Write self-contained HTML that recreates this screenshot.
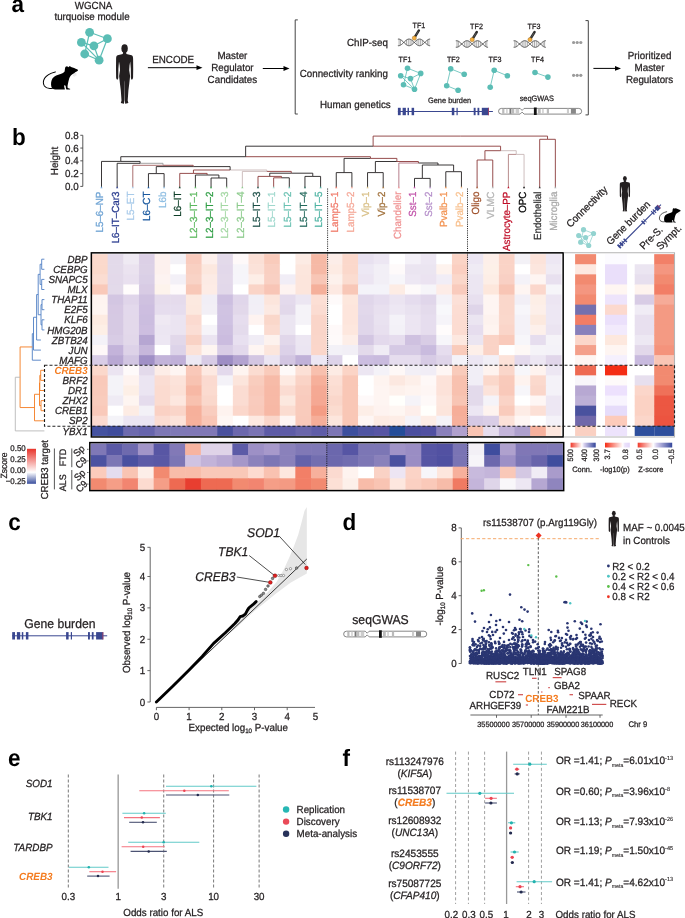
<!DOCTYPE html>
<html><head><meta charset="utf-8"><style>
html,body{margin:0;padding:0;background:#fff;}
svg{display:block;will-change:transform;}
text{font-family:"Liberation Sans",sans-serif;text-rendering:geometricPrecision;}
</style></head><body>
<svg width="685" height="918" viewBox="0 0 685 918" font-family="Liberation Sans, sans-serif">
<rect width="685" height="918" fill="#fff"/>
<text x="11.60" y="12.30" font-size="22.5" text-anchor="start" fill="#000" stroke="#000" stroke-width="0" font-weight="bold" transform="translate(11.60 12.30) scale(1 1.05) translate(-11.60 -12.30)">a</text>
<text x="93.50" y="9.20" font-size="9.8" text-anchor="middle" fill="#231f20" stroke="#231f20" stroke-width="0.25" transform="translate(93.50 9.20) scale(1 1.05) translate(-93.50 -9.20)">WGCNA</text>
<text x="92.00" y="20.40" font-size="9.8" text-anchor="middle" fill="#231f20" stroke="#231f20" stroke-width="0.25" transform="translate(92.00 20.40) scale(1 1.05) translate(-92.00 -20.40)">turquoise module</text>
<line x1="89.60" y1="32.30" x2="107.40" y2="38.70" stroke="#5bbdb5" stroke-width="1.2"/>
<line x1="89.60" y1="32.30" x2="84.70" y2="54.00" stroke="#5bbdb5" stroke-width="1.2"/>
<line x1="81.40" y1="42.40" x2="93.90" y2="45.80" stroke="#5bbdb5" stroke-width="1.2"/>
<line x1="93.90" y1="45.80" x2="107.40" y2="38.70" stroke="#5bbdb5" stroke-width="1.2"/>
<line x1="107.40" y1="38.70" x2="99.10" y2="60.20" stroke="#5bbdb5" stroke-width="1.2"/>
<line x1="93.90" y1="45.80" x2="99.10" y2="60.20" stroke="#5bbdb5" stroke-width="1.2"/>
<line x1="84.70" y1="54.00" x2="99.10" y2="60.20" stroke="#5bbdb5" stroke-width="1.2"/>
<line x1="81.40" y1="42.40" x2="99.10" y2="60.20" stroke="#5bbdb5" stroke-width="1.2"/>
<circle cx="89.60" cy="32.30" r="4.40" fill="#5bbdb5"/>
<circle cx="107.40" cy="38.70" r="4.40" fill="#5bbdb5"/>
<circle cx="81.40" cy="42.40" r="4.40" fill="#5bbdb5"/>
<circle cx="93.90" cy="45.80" r="4.40" fill="#5bbdb5"/>
<circle cx="84.70" cy="54.00" r="4.40" fill="#5bbdb5"/>
<circle cx="99.10" cy="60.20" r="4.40" fill="#5bbdb5"/>
<g transform="translate(40.00 62.00) scale(1.0)"><path d="M24.6 9.4 L25.0 6.4 C25.2 4.9 26.4 4.1 27.4 4.4 C28.0 4.6 28.3 5.0 28.6 5.2 L29.0 4.6 C29.6 4.0 30.6 4.1 31.0 4.9 C33.0 5.5 35.4 6.3 37.0 7.2 C37.8 7.6 38.2 8.2 37.8 8.8 C37.2 9.4 36.4 9.6 35.6 10.0 C34.6 10.8 33.6 11.6 32.4 12.2 C31.0 13.0 29.8 14.8 29.2 16.6 C28.6 18.6 28.2 20.6 27.8 22.6 C27.5 24.0 27.4 25.2 27.8 25.9 C28.6 26.4 29.8 26.6 30.4 27.0 L29.8 27.6 L26.4 27.6 C25.9 26.6 25.8 25.4 25.7 24.2 C25.4 23.4 24.6 23.0 24.2 23.6 C24.0 25.0 24.6 26.4 25.0 27.2 L24.4 27.6 L15.4 27.6 C13.4 27.4 11.8 26.6 11.3 24.6 C10.8 22.0 11.0 18.6 12.6 16.2 C14.4 13.8 17.6 12.8 20.6 12.0 C22.4 11.4 23.8 10.6 24.6 9.4 Z" fill="#000"/><path d="M12.6 26.2 C9.6 26.8 6.0 26.2 4.4 24.0 C3.0 21.8 3.2 18.6 4.6 16.2 C6.4 13.2 10.0 11.2 15.3 9.9" fill="none" stroke="#000" stroke-width="1.05" stroke-linecap="round"/><path d="M34.6 11.0 L33.2 14.2 M35.2 11.2 L34.6 14.6 M35.8 11.0 L36.0 13.8" fill="none" stroke="#bbb" stroke-width="0.35"/></g>
<g transform="translate(124.60 40.00) scale(1.0)"><ellipse cx="0" cy="8.6" rx="3.2" ry="4.3" fill="#231f20"/><path d="M0 11.9 L1.5 11.9 L1.8 14 L7.0 15.2 C8.2 15.8 8.5 17 8.5 19 L8.6 28.8 L8.5 36 C8.6 37.5 8.4 39.2 7.2 39.8 C6.4 39.4 6.2 38 6.3 36 L6.2 28.8 L5.6 21.5 L4.9 25.5 L4.6 30.2 L5.5 36 L4.7 43.2 L3.8 50.4 L3.1 60.4 L3.8 63.0 L0.6 63.7 L0.2 60 L0.1 42 L0 40.3 L-0.1 42 L-0.2 60 L-0.6 63.7 L-3.8 63.0 L-3.1 60.4 L-3.8 50.4 L-4.7 43.2 L-5.5 36 L-4.6 30.2 L-4.9 25.5 L-5.6 21.5 L-6.2 28.8 L-6.3 36 C-6.2 38 -6.4 39.4 -7.2 39.8 C-8.4 39.2 -8.6 37.5 -8.5 36 L-8.6 28.8 L-8.5 19 C-8.5 17 -8.2 15.8 -7.0 15.2 L-1.8 14 L-1.5 11.9 Z" fill="#231f20"/></g>
<line x1="147.90" y1="67.70" x2="197.50" y2="67.70" stroke="#000" stroke-width="1"/>
<path d="M202.50 67.70 L196.50 65.30 L196.50 70.10 Z" fill="#000"/>
<text x="173.20" y="63.00" font-size="9.8" text-anchor="middle" fill="#231f20" stroke="#231f20" stroke-width="0.25" transform="translate(173.20 63.00) scale(1 1.05) translate(-173.20 -63.00)">ENCODE</text>
<text x="232.40" y="59.00" font-size="9.8" text-anchor="middle" fill="#231f20" stroke="#231f20" stroke-width="0.25" transform="translate(232.40 59.00) scale(1 1.05) translate(-232.40 -59.00)">Master</text>
<text x="232.40" y="70.80" font-size="9.8" text-anchor="middle" fill="#231f20" stroke="#231f20" stroke-width="0.25" transform="translate(232.40 70.80) scale(1 1.05) translate(-232.40 -70.80)">Regulator</text>
<text x="232.40" y="82.60" font-size="9.8" text-anchor="middle" fill="#231f20" stroke="#231f20" stroke-width="0.25" transform="translate(232.40 82.60) scale(1 1.05) translate(-232.40 -82.60)">Candidates</text>
<line x1="262.80" y1="68.50" x2="284.50" y2="68.50" stroke="#000" stroke-width="1"/>
<path d="M289.50 68.50 L283.50 66.10 L283.50 70.90 Z" fill="#000"/>
<path d="M297.8 19.9 L295.2 19.9 L295.2 114 L297.8 114" fill="none" stroke="#444" stroke-width="1"/>
<path d="M585.5 20.6 L588.3 20.6 L588.3 114.9 L585.5 114.9" fill="none" stroke="#444" stroke-width="1"/>
<text x="387.90" y="45.50" font-size="9.8" text-anchor="end" fill="#231f20" stroke="#231f20" stroke-width="0.25" transform="translate(387.90 45.50) scale(1 1.05) translate(-387.90 -45.50)">ChIP-seq</text>
<text x="387.90" y="77.00" font-size="9.8" text-anchor="end" fill="#231f20" stroke="#231f20" stroke-width="0.25" transform="translate(387.90 77.00) scale(1 1.05) translate(-387.90 -77.00)">Connectivity ranking</text>
<text x="390.70" y="108.00" font-size="9.8" text-anchor="end" fill="#231f20" stroke="#231f20" stroke-width="0.25" transform="translate(390.70 108.00) scale(1 1.05) translate(-390.70 -108.00)">Human genetics</text>
<g transform="translate(397.90 42.40)">
<polygon points="0.00,-3.24 0.25,-3.28 0.50,-3.30 0.75,-3.30 1.00,-3.28 1.25,-3.25 1.50,-3.19 1.75,-3.12 2.00,-3.03 2.25,-2.93 2.50,-2.81 2.75,-2.67 3.00,-2.52 3.25,-2.35 3.50,-2.17 3.75,-1.98 4.00,-1.78 4.25,-1.56 4.50,-1.34 4.75,-1.11 5.00,-0.88 5.25,-0.64 5.50,-0.39 5.75,-0.15 6.00,0.10 6.25,0.34 6.50,0.59 6.75,0.83 7.00,1.07 7.25,1.30 7.50,1.52 7.75,1.73 8.00,1.94 8.25,2.13 8.50,2.32 8.75,2.49 9.00,2.64 9.25,2.78 9.50,2.91 9.75,3.01 10.00,3.11 10.25,3.18 10.50,3.24 10.75,3.28 11.00,3.30 11.25,3.30 11.50,3.28 11.75,3.25 12.00,3.19 12.25,3.12 12.50,3.03 12.75,2.93 13.00,2.81 13.25,2.67 13.50,2.52 13.75,2.35 14.00,2.17 14.25,1.98 14.50,1.78 14.75,1.56 15.00,1.34 15.25,1.11 15.50,0.88 15.75,0.64 16.00,0.39 16.25,0.15 16.50,-0.10 16.75,-0.34 17.00,-0.59 17.25,-0.83 17.50,-1.07 17.75,-1.30 18.00,-1.52 18.25,-1.73 18.50,-1.94 18.75,-2.13 19.00,-2.32 19.25,-2.49 19.50,-2.64 19.75,-2.78 20.00,-2.91 20.25,-3.01 20.50,-3.11 20.75,-3.18 21.00,-3.24 21.25,-3.28 21.50,-3.30 21.75,-3.30 22.00,-3.28 22.25,-3.25 22.50,-3.19 22.75,-3.12 23.00,-3.03 23.25,-2.93 23.50,-2.81 23.75,-2.67 24.00,-2.52 24.25,-2.35 24.50,-2.17 24.75,-1.98 25.00,-1.78 25.25,-1.56 25.50,-1.34 25.75,-1.11 26.00,-0.88 26.25,-0.64 26.50,-0.39 26.75,-0.15 27.00,0.10 27.25,0.34 27.50,0.59 27.75,0.83 28.00,1.07 28.25,1.30 28.50,1.52 28.75,1.73 29.00,1.94 29.25,2.13 29.50,2.32 29.75,2.49 30.00,2.64 30.25,2.78 30.50,2.91 30.75,3.01 31.00,3.11 31.25,3.18 31.50,3.24 31.75,3.28 32.00,3.30 32.25,3.30 32.25,-3.30 32.00,-3.30 31.75,-3.28 31.50,-3.24 31.25,-3.18 31.00,-3.11 30.75,-3.01 30.50,-2.91 30.25,-2.78 30.00,-2.64 29.75,-2.49 29.50,-2.32 29.25,-2.13 29.00,-1.94 28.75,-1.73 28.50,-1.52 28.25,-1.30 28.00,-1.07 27.75,-0.83 27.50,-0.59 27.25,-0.34 27.00,-0.10 26.75,0.15 26.50,0.39 26.25,0.64 26.00,0.88 25.75,1.11 25.50,1.34 25.25,1.56 25.00,1.78 24.75,1.98 24.50,2.17 24.25,2.35 24.00,2.52 23.75,2.67 23.50,2.81 23.25,2.93 23.00,3.03 22.75,3.12 22.50,3.19 22.25,3.25 22.00,3.28 21.75,3.30 21.50,3.30 21.25,3.28 21.00,3.24 20.75,3.18 20.50,3.11 20.25,3.01 20.00,2.91 19.75,2.78 19.50,2.64 19.25,2.49 19.00,2.32 18.75,2.13 18.50,1.94 18.25,1.73 18.00,1.52 17.75,1.30 17.50,1.07 17.25,0.83 17.00,0.59 16.75,0.34 16.50,0.10 16.25,-0.15 16.00,-0.39 15.75,-0.64 15.50,-0.88 15.25,-1.11 15.00,-1.34 14.75,-1.56 14.50,-1.78 14.25,-1.98 14.00,-2.17 13.75,-2.35 13.50,-2.52 13.25,-2.67 13.00,-2.81 12.75,-2.93 12.50,-3.03 12.25,-3.12 12.00,-3.19 11.75,-3.25 11.50,-3.28 11.25,-3.30 11.00,-3.30 10.75,-3.28 10.50,-3.24 10.25,-3.18 10.00,-3.11 9.75,-3.01 9.50,-2.91 9.25,-2.78 9.00,-2.64 8.75,-2.49 8.50,-2.32 8.25,-2.13 8.00,-1.94 7.75,-1.73 7.50,-1.52 7.25,-1.30 7.00,-1.07 6.75,-0.83 6.50,-0.59 6.25,-0.34 6.00,-0.10 5.75,0.15 5.50,0.39 5.25,0.64 5.00,0.88 4.75,1.11 4.50,1.34 4.25,1.56 4.00,1.78 3.75,1.98 3.50,2.17 3.25,2.35 3.00,2.52 2.75,2.67 2.50,2.81 2.25,2.93 2.00,3.03 1.75,3.12 1.50,3.19 1.25,3.25 1.00,3.28 0.75,3.30 0.50,3.30 0.25,3.28 0.00,3.24" fill="#fff"/>
<line x1="1.2" y1="-2.96" x2="1.2" y2="2.96" stroke="#8a8a8a" stroke-width="0.7"/>
<line x1="2.6" y1="-2.45" x2="2.6" y2="2.45" stroke="#8a8a8a" stroke-width="0.7"/>
<line x1="8.6" y1="-2.09" x2="8.6" y2="2.09" stroke="#8a8a8a" stroke-width="0.7"/>
<line x1="10.4" y1="-2.92" x2="10.4" y2="2.92" stroke="#8a8a8a" stroke-width="0.7"/>
<line x1="12.2" y1="-2.84" x2="12.2" y2="2.84" stroke="#8a8a8a" stroke-width="0.7"/>
<line x1="14.0" y1="-1.87" x2="14.0" y2="1.87" stroke="#8a8a8a" stroke-width="0.7"/>
<line x1="19.1" y1="-2.09" x2="19.1" y2="2.09" stroke="#8a8a8a" stroke-width="0.7"/>
<line x1="20.9" y1="-2.92" x2="20.9" y2="2.92" stroke="#8a8a8a" stroke-width="0.7"/>
<line x1="22.7" y1="-2.84" x2="22.7" y2="2.84" stroke="#8a8a8a" stroke-width="0.7"/>
<line x1="24.5" y1="-1.87" x2="24.5" y2="1.87" stroke="#8a8a8a" stroke-width="0.7"/>
<line x1="29.6" y1="-2.09" x2="29.6" y2="2.09" stroke="#8a8a8a" stroke-width="0.7"/>
<line x1="31.0" y1="-2.81" x2="31.0" y2="2.81" stroke="#8a8a8a" stroke-width="0.7"/>
<polyline points="0.00,-3.24 0.25,-3.28 0.50,-3.30 0.75,-3.30 1.00,-3.28 1.25,-3.25 1.50,-3.19 1.75,-3.12 2.00,-3.03 2.25,-2.93 2.50,-2.81 2.75,-2.67 3.00,-2.52 3.25,-2.35 3.50,-2.17 3.75,-1.98 4.00,-1.78 4.25,-1.56 4.50,-1.34 4.75,-1.11 5.00,-0.88 5.25,-0.64 5.50,-0.39 5.75,-0.15 6.00,0.10 6.25,0.34 6.50,0.59 6.75,0.83 7.00,1.07 7.25,1.30 7.50,1.52 7.75,1.73 8.00,1.94 8.25,2.13 8.50,2.32 8.75,2.49 9.00,2.64 9.25,2.78 9.50,2.91 9.75,3.01 10.00,3.11 10.25,3.18 10.50,3.24 10.75,3.28 11.00,3.30 11.25,3.30 11.50,3.28 11.75,3.25 12.00,3.19 12.25,3.12 12.50,3.03 12.75,2.93 13.00,2.81 13.25,2.67 13.50,2.52 13.75,2.35 14.00,2.17 14.25,1.98 14.50,1.78 14.75,1.56 15.00,1.34 15.25,1.11 15.50,0.88 15.75,0.64 16.00,0.39 16.25,0.15 16.50,-0.10 16.75,-0.34 17.00,-0.59 17.25,-0.83 17.50,-1.07 17.75,-1.30 18.00,-1.52 18.25,-1.73 18.50,-1.94 18.75,-2.13 19.00,-2.32 19.25,-2.49 19.50,-2.64 19.75,-2.78 20.00,-2.91 20.25,-3.01 20.50,-3.11 20.75,-3.18 21.00,-3.24 21.25,-3.28 21.50,-3.30 21.75,-3.30 22.00,-3.28 22.25,-3.25 22.50,-3.19 22.75,-3.12 23.00,-3.03 23.25,-2.93 23.50,-2.81 23.75,-2.67 24.00,-2.52 24.25,-2.35 24.50,-2.17 24.75,-1.98 25.00,-1.78 25.25,-1.56 25.50,-1.34 25.75,-1.11 26.00,-0.88 26.25,-0.64 26.50,-0.39 26.75,-0.15 27.00,0.10 27.25,0.34 27.50,0.59 27.75,0.83 28.00,1.07 28.25,1.30 28.50,1.52 28.75,1.73 29.00,1.94 29.25,2.13 29.50,2.32 29.75,2.49 30.00,2.64 30.25,2.78 30.50,2.91 30.75,3.01 31.00,3.11 31.25,3.18 31.50,3.24 31.75,3.28 32.00,3.30 32.25,3.30" fill="none" stroke="#2a2a2a" stroke-width="0.85"/>
<polyline points="0.00,3.24 0.25,3.28 0.50,3.30 0.75,3.30 1.00,3.28 1.25,3.25 1.50,3.19 1.75,3.12 2.00,3.03 2.25,2.93 2.50,2.81 2.75,2.67 3.00,2.52 3.25,2.35 3.50,2.17 3.75,1.98 4.00,1.78 4.25,1.56 4.50,1.34 4.75,1.11 5.00,0.88 5.25,0.64 5.50,0.39 5.75,0.15 6.00,-0.10 6.25,-0.34 6.50,-0.59 6.75,-0.83 7.00,-1.07 7.25,-1.30 7.50,-1.52 7.75,-1.73 8.00,-1.94 8.25,-2.13 8.50,-2.32 8.75,-2.49 9.00,-2.64 9.25,-2.78 9.50,-2.91 9.75,-3.01 10.00,-3.11 10.25,-3.18 10.50,-3.24 10.75,-3.28 11.00,-3.30 11.25,-3.30 11.50,-3.28 11.75,-3.25 12.00,-3.19 12.25,-3.12 12.50,-3.03 12.75,-2.93 13.00,-2.81 13.25,-2.67 13.50,-2.52 13.75,-2.35 14.00,-2.17 14.25,-1.98 14.50,-1.78 14.75,-1.56 15.00,-1.34 15.25,-1.11 15.50,-0.88 15.75,-0.64 16.00,-0.39 16.25,-0.15 16.50,0.10 16.75,0.34 17.00,0.59 17.25,0.83 17.50,1.07 17.75,1.30 18.00,1.52 18.25,1.73 18.50,1.94 18.75,2.13 19.00,2.32 19.25,2.49 19.50,2.64 19.75,2.78 20.00,2.91 20.25,3.01 20.50,3.11 20.75,3.18 21.00,3.24 21.25,3.28 21.50,3.30 21.75,3.30 22.00,3.28 22.25,3.25 22.50,3.19 22.75,3.12 23.00,3.03 23.25,2.93 23.50,2.81 23.75,2.67 24.00,2.52 24.25,2.35 24.50,2.17 24.75,1.98 25.00,1.78 25.25,1.56 25.50,1.34 25.75,1.11 26.00,0.88 26.25,0.64 26.50,0.39 26.75,0.15 27.00,-0.10 27.25,-0.34 27.50,-0.59 27.75,-0.83 28.00,-1.07 28.25,-1.30 28.50,-1.52 28.75,-1.73 29.00,-1.94 29.25,-2.13 29.50,-2.32 29.75,-2.49 30.00,-2.64 30.25,-2.78 30.50,-2.91 30.75,-3.01 31.00,-3.11 31.25,-3.18 31.50,-3.24 31.75,-3.28 32.00,-3.30 32.25,-3.30" fill="none" stroke="#2a2a2a" stroke-width="0.85"/>
</g>
<line x1="414.90" y1="36.90" x2="418.90" y2="30.40" stroke="#2b2b2b" stroke-width="2.4" stroke-linecap="round"/>
<line x1="415.90" y1="35.20" x2="418.30" y2="31.40" stroke="#6a6a6a" stroke-width="0.7"/>
<circle cx="414.30" cy="38.10" r="2.10" fill="#f6b042" stroke="#8a5a10" stroke-width="0.4"/>
<text x="418.90" y="28.10" font-size="7.2" text-anchor="middle" fill="#231f20" stroke="#231f20" stroke-width="0.25" transform="translate(418.90 28.10) scale(1 1.05) translate(-418.90 -28.10)">TF1</text>
<g transform="translate(455.80 44.00)">
<polygon points="0.00,-3.24 0.25,-3.28 0.50,-3.30 0.75,-3.30 1.00,-3.28 1.25,-3.25 1.50,-3.19 1.75,-3.12 2.00,-3.03 2.25,-2.93 2.50,-2.81 2.75,-2.67 3.00,-2.52 3.25,-2.35 3.50,-2.17 3.75,-1.98 4.00,-1.78 4.25,-1.56 4.50,-1.34 4.75,-1.11 5.00,-0.88 5.25,-0.64 5.50,-0.39 5.75,-0.15 6.00,0.10 6.25,0.34 6.50,0.59 6.75,0.83 7.00,1.07 7.25,1.30 7.50,1.52 7.75,1.73 8.00,1.94 8.25,2.13 8.50,2.32 8.75,2.49 9.00,2.64 9.25,2.78 9.50,2.91 9.75,3.01 10.00,3.11 10.25,3.18 10.50,3.24 10.75,3.28 11.00,3.30 11.25,3.30 11.50,3.28 11.75,3.25 12.00,3.19 12.25,3.12 12.50,3.03 12.75,2.93 13.00,2.81 13.25,2.67 13.50,2.52 13.75,2.35 14.00,2.17 14.25,1.98 14.50,1.78 14.75,1.56 15.00,1.34 15.25,1.11 15.50,0.88 15.75,0.64 16.00,0.39 16.25,0.15 16.50,-0.10 16.75,-0.34 17.00,-0.59 17.25,-0.83 17.50,-1.07 17.75,-1.30 18.00,-1.52 18.25,-1.73 18.50,-1.94 18.75,-2.13 19.00,-2.32 19.25,-2.49 19.50,-2.64 19.75,-2.78 20.00,-2.91 20.25,-3.01 20.50,-3.11 20.75,-3.18 21.00,-3.24 21.25,-3.28 21.50,-3.30 21.75,-3.30 22.00,-3.28 22.25,-3.25 22.50,-3.19 22.75,-3.12 23.00,-3.03 23.25,-2.93 23.50,-2.81 23.75,-2.67 24.00,-2.52 24.25,-2.35 24.50,-2.17 24.75,-1.98 25.00,-1.78 25.25,-1.56 25.50,-1.34 25.75,-1.11 26.00,-0.88 26.25,-0.64 26.50,-0.39 26.75,-0.15 27.00,0.10 27.25,0.34 27.50,0.59 27.75,0.83 28.00,1.07 28.25,1.30 28.50,1.52 28.75,1.73 29.00,1.94 29.25,2.13 29.50,2.32 29.75,2.49 30.00,2.64 30.25,2.78 30.50,2.91 30.75,3.01 31.00,3.11 31.25,3.18 31.50,3.24 31.75,3.28 32.00,3.30 32.25,3.30 32.25,-3.30 32.00,-3.30 31.75,-3.28 31.50,-3.24 31.25,-3.18 31.00,-3.11 30.75,-3.01 30.50,-2.91 30.25,-2.78 30.00,-2.64 29.75,-2.49 29.50,-2.32 29.25,-2.13 29.00,-1.94 28.75,-1.73 28.50,-1.52 28.25,-1.30 28.00,-1.07 27.75,-0.83 27.50,-0.59 27.25,-0.34 27.00,-0.10 26.75,0.15 26.50,0.39 26.25,0.64 26.00,0.88 25.75,1.11 25.50,1.34 25.25,1.56 25.00,1.78 24.75,1.98 24.50,2.17 24.25,2.35 24.00,2.52 23.75,2.67 23.50,2.81 23.25,2.93 23.00,3.03 22.75,3.12 22.50,3.19 22.25,3.25 22.00,3.28 21.75,3.30 21.50,3.30 21.25,3.28 21.00,3.24 20.75,3.18 20.50,3.11 20.25,3.01 20.00,2.91 19.75,2.78 19.50,2.64 19.25,2.49 19.00,2.32 18.75,2.13 18.50,1.94 18.25,1.73 18.00,1.52 17.75,1.30 17.50,1.07 17.25,0.83 17.00,0.59 16.75,0.34 16.50,0.10 16.25,-0.15 16.00,-0.39 15.75,-0.64 15.50,-0.88 15.25,-1.11 15.00,-1.34 14.75,-1.56 14.50,-1.78 14.25,-1.98 14.00,-2.17 13.75,-2.35 13.50,-2.52 13.25,-2.67 13.00,-2.81 12.75,-2.93 12.50,-3.03 12.25,-3.12 12.00,-3.19 11.75,-3.25 11.50,-3.28 11.25,-3.30 11.00,-3.30 10.75,-3.28 10.50,-3.24 10.25,-3.18 10.00,-3.11 9.75,-3.01 9.50,-2.91 9.25,-2.78 9.00,-2.64 8.75,-2.49 8.50,-2.32 8.25,-2.13 8.00,-1.94 7.75,-1.73 7.50,-1.52 7.25,-1.30 7.00,-1.07 6.75,-0.83 6.50,-0.59 6.25,-0.34 6.00,-0.10 5.75,0.15 5.50,0.39 5.25,0.64 5.00,0.88 4.75,1.11 4.50,1.34 4.25,1.56 4.00,1.78 3.75,1.98 3.50,2.17 3.25,2.35 3.00,2.52 2.75,2.67 2.50,2.81 2.25,2.93 2.00,3.03 1.75,3.12 1.50,3.19 1.25,3.25 1.00,3.28 0.75,3.30 0.50,3.30 0.25,3.28 0.00,3.24" fill="#fff"/>
<line x1="1.2" y1="-2.96" x2="1.2" y2="2.96" stroke="#8a8a8a" stroke-width="0.7"/>
<line x1="2.6" y1="-2.45" x2="2.6" y2="2.45" stroke="#8a8a8a" stroke-width="0.7"/>
<line x1="8.6" y1="-2.09" x2="8.6" y2="2.09" stroke="#8a8a8a" stroke-width="0.7"/>
<line x1="10.4" y1="-2.92" x2="10.4" y2="2.92" stroke="#8a8a8a" stroke-width="0.7"/>
<line x1="12.2" y1="-2.84" x2="12.2" y2="2.84" stroke="#8a8a8a" stroke-width="0.7"/>
<line x1="14.0" y1="-1.87" x2="14.0" y2="1.87" stroke="#8a8a8a" stroke-width="0.7"/>
<line x1="19.1" y1="-2.09" x2="19.1" y2="2.09" stroke="#8a8a8a" stroke-width="0.7"/>
<line x1="20.9" y1="-2.92" x2="20.9" y2="2.92" stroke="#8a8a8a" stroke-width="0.7"/>
<line x1="22.7" y1="-2.84" x2="22.7" y2="2.84" stroke="#8a8a8a" stroke-width="0.7"/>
<line x1="24.5" y1="-1.87" x2="24.5" y2="1.87" stroke="#8a8a8a" stroke-width="0.7"/>
<line x1="29.6" y1="-2.09" x2="29.6" y2="2.09" stroke="#8a8a8a" stroke-width="0.7"/>
<line x1="31.0" y1="-2.81" x2="31.0" y2="2.81" stroke="#8a8a8a" stroke-width="0.7"/>
<polyline points="0.00,-3.24 0.25,-3.28 0.50,-3.30 0.75,-3.30 1.00,-3.28 1.25,-3.25 1.50,-3.19 1.75,-3.12 2.00,-3.03 2.25,-2.93 2.50,-2.81 2.75,-2.67 3.00,-2.52 3.25,-2.35 3.50,-2.17 3.75,-1.98 4.00,-1.78 4.25,-1.56 4.50,-1.34 4.75,-1.11 5.00,-0.88 5.25,-0.64 5.50,-0.39 5.75,-0.15 6.00,0.10 6.25,0.34 6.50,0.59 6.75,0.83 7.00,1.07 7.25,1.30 7.50,1.52 7.75,1.73 8.00,1.94 8.25,2.13 8.50,2.32 8.75,2.49 9.00,2.64 9.25,2.78 9.50,2.91 9.75,3.01 10.00,3.11 10.25,3.18 10.50,3.24 10.75,3.28 11.00,3.30 11.25,3.30 11.50,3.28 11.75,3.25 12.00,3.19 12.25,3.12 12.50,3.03 12.75,2.93 13.00,2.81 13.25,2.67 13.50,2.52 13.75,2.35 14.00,2.17 14.25,1.98 14.50,1.78 14.75,1.56 15.00,1.34 15.25,1.11 15.50,0.88 15.75,0.64 16.00,0.39 16.25,0.15 16.50,-0.10 16.75,-0.34 17.00,-0.59 17.25,-0.83 17.50,-1.07 17.75,-1.30 18.00,-1.52 18.25,-1.73 18.50,-1.94 18.75,-2.13 19.00,-2.32 19.25,-2.49 19.50,-2.64 19.75,-2.78 20.00,-2.91 20.25,-3.01 20.50,-3.11 20.75,-3.18 21.00,-3.24 21.25,-3.28 21.50,-3.30 21.75,-3.30 22.00,-3.28 22.25,-3.25 22.50,-3.19 22.75,-3.12 23.00,-3.03 23.25,-2.93 23.50,-2.81 23.75,-2.67 24.00,-2.52 24.25,-2.35 24.50,-2.17 24.75,-1.98 25.00,-1.78 25.25,-1.56 25.50,-1.34 25.75,-1.11 26.00,-0.88 26.25,-0.64 26.50,-0.39 26.75,-0.15 27.00,0.10 27.25,0.34 27.50,0.59 27.75,0.83 28.00,1.07 28.25,1.30 28.50,1.52 28.75,1.73 29.00,1.94 29.25,2.13 29.50,2.32 29.75,2.49 30.00,2.64 30.25,2.78 30.50,2.91 30.75,3.01 31.00,3.11 31.25,3.18 31.50,3.24 31.75,3.28 32.00,3.30 32.25,3.30" fill="none" stroke="#2a2a2a" stroke-width="0.85"/>
<polyline points="0.00,3.24 0.25,3.28 0.50,3.30 0.75,3.30 1.00,3.28 1.25,3.25 1.50,3.19 1.75,3.12 2.00,3.03 2.25,2.93 2.50,2.81 2.75,2.67 3.00,2.52 3.25,2.35 3.50,2.17 3.75,1.98 4.00,1.78 4.25,1.56 4.50,1.34 4.75,1.11 5.00,0.88 5.25,0.64 5.50,0.39 5.75,0.15 6.00,-0.10 6.25,-0.34 6.50,-0.59 6.75,-0.83 7.00,-1.07 7.25,-1.30 7.50,-1.52 7.75,-1.73 8.00,-1.94 8.25,-2.13 8.50,-2.32 8.75,-2.49 9.00,-2.64 9.25,-2.78 9.50,-2.91 9.75,-3.01 10.00,-3.11 10.25,-3.18 10.50,-3.24 10.75,-3.28 11.00,-3.30 11.25,-3.30 11.50,-3.28 11.75,-3.25 12.00,-3.19 12.25,-3.12 12.50,-3.03 12.75,-2.93 13.00,-2.81 13.25,-2.67 13.50,-2.52 13.75,-2.35 14.00,-2.17 14.25,-1.98 14.50,-1.78 14.75,-1.56 15.00,-1.34 15.25,-1.11 15.50,-0.88 15.75,-0.64 16.00,-0.39 16.25,-0.15 16.50,0.10 16.75,0.34 17.00,0.59 17.25,0.83 17.50,1.07 17.75,1.30 18.00,1.52 18.25,1.73 18.50,1.94 18.75,2.13 19.00,2.32 19.25,2.49 19.50,2.64 19.75,2.78 20.00,2.91 20.25,3.01 20.50,3.11 20.75,3.18 21.00,3.24 21.25,3.28 21.50,3.30 21.75,3.30 22.00,3.28 22.25,3.25 22.50,3.19 22.75,3.12 23.00,3.03 23.25,2.93 23.50,2.81 23.75,2.67 24.00,2.52 24.25,2.35 24.50,2.17 24.75,1.98 25.00,1.78 25.25,1.56 25.50,1.34 25.75,1.11 26.00,0.88 26.25,0.64 26.50,0.39 26.75,0.15 27.00,-0.10 27.25,-0.34 27.50,-0.59 27.75,-0.83 28.00,-1.07 28.25,-1.30 28.50,-1.52 28.75,-1.73 29.00,-1.94 29.25,-2.13 29.50,-2.32 29.75,-2.49 30.00,-2.64 30.25,-2.78 30.50,-2.91 30.75,-3.01 31.00,-3.11 31.25,-3.18 31.50,-3.24 31.75,-3.28 32.00,-3.30 32.25,-3.30" fill="none" stroke="#2a2a2a" stroke-width="0.85"/>
</g>
<line x1="472.80" y1="38.50" x2="476.80" y2="32.00" stroke="#2b2b2b" stroke-width="2.4" stroke-linecap="round"/>
<line x1="473.80" y1="36.80" x2="476.20" y2="33.00" stroke="#6a6a6a" stroke-width="0.7"/>
<circle cx="472.20" cy="39.70" r="2.10" fill="#f6b042" stroke="#8a5a10" stroke-width="0.4"/>
<text x="476.50" y="29.20" font-size="7.2" text-anchor="middle" fill="#231f20" stroke="#231f20" stroke-width="0.25" transform="translate(476.50 29.20) scale(1 1.05) translate(-476.50 -29.20)">TF2</text>
<g transform="translate(513.60 44.00)">
<polygon points="0.00,-3.24 0.25,-3.28 0.50,-3.30 0.75,-3.30 1.00,-3.28 1.25,-3.25 1.50,-3.19 1.75,-3.12 2.00,-3.03 2.25,-2.93 2.50,-2.81 2.75,-2.67 3.00,-2.52 3.25,-2.35 3.50,-2.17 3.75,-1.98 4.00,-1.78 4.25,-1.56 4.50,-1.34 4.75,-1.11 5.00,-0.88 5.25,-0.64 5.50,-0.39 5.75,-0.15 6.00,0.10 6.25,0.34 6.50,0.59 6.75,0.83 7.00,1.07 7.25,1.30 7.50,1.52 7.75,1.73 8.00,1.94 8.25,2.13 8.50,2.32 8.75,2.49 9.00,2.64 9.25,2.78 9.50,2.91 9.75,3.01 10.00,3.11 10.25,3.18 10.50,3.24 10.75,3.28 11.00,3.30 11.25,3.30 11.50,3.28 11.75,3.25 12.00,3.19 12.25,3.12 12.50,3.03 12.75,2.93 13.00,2.81 13.25,2.67 13.50,2.52 13.75,2.35 14.00,2.17 14.25,1.98 14.50,1.78 14.75,1.56 15.00,1.34 15.25,1.11 15.50,0.88 15.75,0.64 16.00,0.39 16.25,0.15 16.50,-0.10 16.75,-0.34 17.00,-0.59 17.25,-0.83 17.50,-1.07 17.75,-1.30 18.00,-1.52 18.25,-1.73 18.50,-1.94 18.75,-2.13 19.00,-2.32 19.25,-2.49 19.50,-2.64 19.75,-2.78 20.00,-2.91 20.25,-3.01 20.50,-3.11 20.75,-3.18 21.00,-3.24 21.25,-3.28 21.50,-3.30 21.75,-3.30 22.00,-3.28 22.25,-3.25 22.50,-3.19 22.75,-3.12 23.00,-3.03 23.25,-2.93 23.50,-2.81 23.75,-2.67 24.00,-2.52 24.25,-2.35 24.50,-2.17 24.75,-1.98 25.00,-1.78 25.25,-1.56 25.50,-1.34 25.75,-1.11 26.00,-0.88 26.25,-0.64 26.50,-0.39 26.75,-0.15 27.00,0.10 27.25,0.34 27.50,0.59 27.75,0.83 28.00,1.07 28.25,1.30 28.50,1.52 28.75,1.73 29.00,1.94 29.25,2.13 29.50,2.32 29.75,2.49 30.00,2.64 30.25,2.78 30.50,2.91 30.75,3.01 31.00,3.11 31.25,3.18 31.50,3.24 31.75,3.28 32.00,3.30 32.25,3.30 32.25,-3.30 32.00,-3.30 31.75,-3.28 31.50,-3.24 31.25,-3.18 31.00,-3.11 30.75,-3.01 30.50,-2.91 30.25,-2.78 30.00,-2.64 29.75,-2.49 29.50,-2.32 29.25,-2.13 29.00,-1.94 28.75,-1.73 28.50,-1.52 28.25,-1.30 28.00,-1.07 27.75,-0.83 27.50,-0.59 27.25,-0.34 27.00,-0.10 26.75,0.15 26.50,0.39 26.25,0.64 26.00,0.88 25.75,1.11 25.50,1.34 25.25,1.56 25.00,1.78 24.75,1.98 24.50,2.17 24.25,2.35 24.00,2.52 23.75,2.67 23.50,2.81 23.25,2.93 23.00,3.03 22.75,3.12 22.50,3.19 22.25,3.25 22.00,3.28 21.75,3.30 21.50,3.30 21.25,3.28 21.00,3.24 20.75,3.18 20.50,3.11 20.25,3.01 20.00,2.91 19.75,2.78 19.50,2.64 19.25,2.49 19.00,2.32 18.75,2.13 18.50,1.94 18.25,1.73 18.00,1.52 17.75,1.30 17.50,1.07 17.25,0.83 17.00,0.59 16.75,0.34 16.50,0.10 16.25,-0.15 16.00,-0.39 15.75,-0.64 15.50,-0.88 15.25,-1.11 15.00,-1.34 14.75,-1.56 14.50,-1.78 14.25,-1.98 14.00,-2.17 13.75,-2.35 13.50,-2.52 13.25,-2.67 13.00,-2.81 12.75,-2.93 12.50,-3.03 12.25,-3.12 12.00,-3.19 11.75,-3.25 11.50,-3.28 11.25,-3.30 11.00,-3.30 10.75,-3.28 10.50,-3.24 10.25,-3.18 10.00,-3.11 9.75,-3.01 9.50,-2.91 9.25,-2.78 9.00,-2.64 8.75,-2.49 8.50,-2.32 8.25,-2.13 8.00,-1.94 7.75,-1.73 7.50,-1.52 7.25,-1.30 7.00,-1.07 6.75,-0.83 6.50,-0.59 6.25,-0.34 6.00,-0.10 5.75,0.15 5.50,0.39 5.25,0.64 5.00,0.88 4.75,1.11 4.50,1.34 4.25,1.56 4.00,1.78 3.75,1.98 3.50,2.17 3.25,2.35 3.00,2.52 2.75,2.67 2.50,2.81 2.25,2.93 2.00,3.03 1.75,3.12 1.50,3.19 1.25,3.25 1.00,3.28 0.75,3.30 0.50,3.30 0.25,3.28 0.00,3.24" fill="#fff"/>
<line x1="1.2" y1="-2.96" x2="1.2" y2="2.96" stroke="#8a8a8a" stroke-width="0.7"/>
<line x1="2.6" y1="-2.45" x2="2.6" y2="2.45" stroke="#8a8a8a" stroke-width="0.7"/>
<line x1="8.6" y1="-2.09" x2="8.6" y2="2.09" stroke="#8a8a8a" stroke-width="0.7"/>
<line x1="10.4" y1="-2.92" x2="10.4" y2="2.92" stroke="#8a8a8a" stroke-width="0.7"/>
<line x1="12.2" y1="-2.84" x2="12.2" y2="2.84" stroke="#8a8a8a" stroke-width="0.7"/>
<line x1="14.0" y1="-1.87" x2="14.0" y2="1.87" stroke="#8a8a8a" stroke-width="0.7"/>
<line x1="19.1" y1="-2.09" x2="19.1" y2="2.09" stroke="#8a8a8a" stroke-width="0.7"/>
<line x1="20.9" y1="-2.92" x2="20.9" y2="2.92" stroke="#8a8a8a" stroke-width="0.7"/>
<line x1="22.7" y1="-2.84" x2="22.7" y2="2.84" stroke="#8a8a8a" stroke-width="0.7"/>
<line x1="24.5" y1="-1.87" x2="24.5" y2="1.87" stroke="#8a8a8a" stroke-width="0.7"/>
<line x1="29.6" y1="-2.09" x2="29.6" y2="2.09" stroke="#8a8a8a" stroke-width="0.7"/>
<line x1="31.0" y1="-2.81" x2="31.0" y2="2.81" stroke="#8a8a8a" stroke-width="0.7"/>
<polyline points="0.00,-3.24 0.25,-3.28 0.50,-3.30 0.75,-3.30 1.00,-3.28 1.25,-3.25 1.50,-3.19 1.75,-3.12 2.00,-3.03 2.25,-2.93 2.50,-2.81 2.75,-2.67 3.00,-2.52 3.25,-2.35 3.50,-2.17 3.75,-1.98 4.00,-1.78 4.25,-1.56 4.50,-1.34 4.75,-1.11 5.00,-0.88 5.25,-0.64 5.50,-0.39 5.75,-0.15 6.00,0.10 6.25,0.34 6.50,0.59 6.75,0.83 7.00,1.07 7.25,1.30 7.50,1.52 7.75,1.73 8.00,1.94 8.25,2.13 8.50,2.32 8.75,2.49 9.00,2.64 9.25,2.78 9.50,2.91 9.75,3.01 10.00,3.11 10.25,3.18 10.50,3.24 10.75,3.28 11.00,3.30 11.25,3.30 11.50,3.28 11.75,3.25 12.00,3.19 12.25,3.12 12.50,3.03 12.75,2.93 13.00,2.81 13.25,2.67 13.50,2.52 13.75,2.35 14.00,2.17 14.25,1.98 14.50,1.78 14.75,1.56 15.00,1.34 15.25,1.11 15.50,0.88 15.75,0.64 16.00,0.39 16.25,0.15 16.50,-0.10 16.75,-0.34 17.00,-0.59 17.25,-0.83 17.50,-1.07 17.75,-1.30 18.00,-1.52 18.25,-1.73 18.50,-1.94 18.75,-2.13 19.00,-2.32 19.25,-2.49 19.50,-2.64 19.75,-2.78 20.00,-2.91 20.25,-3.01 20.50,-3.11 20.75,-3.18 21.00,-3.24 21.25,-3.28 21.50,-3.30 21.75,-3.30 22.00,-3.28 22.25,-3.25 22.50,-3.19 22.75,-3.12 23.00,-3.03 23.25,-2.93 23.50,-2.81 23.75,-2.67 24.00,-2.52 24.25,-2.35 24.50,-2.17 24.75,-1.98 25.00,-1.78 25.25,-1.56 25.50,-1.34 25.75,-1.11 26.00,-0.88 26.25,-0.64 26.50,-0.39 26.75,-0.15 27.00,0.10 27.25,0.34 27.50,0.59 27.75,0.83 28.00,1.07 28.25,1.30 28.50,1.52 28.75,1.73 29.00,1.94 29.25,2.13 29.50,2.32 29.75,2.49 30.00,2.64 30.25,2.78 30.50,2.91 30.75,3.01 31.00,3.11 31.25,3.18 31.50,3.24 31.75,3.28 32.00,3.30 32.25,3.30" fill="none" stroke="#2a2a2a" stroke-width="0.85"/>
<polyline points="0.00,3.24 0.25,3.28 0.50,3.30 0.75,3.30 1.00,3.28 1.25,3.25 1.50,3.19 1.75,3.12 2.00,3.03 2.25,2.93 2.50,2.81 2.75,2.67 3.00,2.52 3.25,2.35 3.50,2.17 3.75,1.98 4.00,1.78 4.25,1.56 4.50,1.34 4.75,1.11 5.00,0.88 5.25,0.64 5.50,0.39 5.75,0.15 6.00,-0.10 6.25,-0.34 6.50,-0.59 6.75,-0.83 7.00,-1.07 7.25,-1.30 7.50,-1.52 7.75,-1.73 8.00,-1.94 8.25,-2.13 8.50,-2.32 8.75,-2.49 9.00,-2.64 9.25,-2.78 9.50,-2.91 9.75,-3.01 10.00,-3.11 10.25,-3.18 10.50,-3.24 10.75,-3.28 11.00,-3.30 11.25,-3.30 11.50,-3.28 11.75,-3.25 12.00,-3.19 12.25,-3.12 12.50,-3.03 12.75,-2.93 13.00,-2.81 13.25,-2.67 13.50,-2.52 13.75,-2.35 14.00,-2.17 14.25,-1.98 14.50,-1.78 14.75,-1.56 15.00,-1.34 15.25,-1.11 15.50,-0.88 15.75,-0.64 16.00,-0.39 16.25,-0.15 16.50,0.10 16.75,0.34 17.00,0.59 17.25,0.83 17.50,1.07 17.75,1.30 18.00,1.52 18.25,1.73 18.50,1.94 18.75,2.13 19.00,2.32 19.25,2.49 19.50,2.64 19.75,2.78 20.00,2.91 20.25,3.01 20.50,3.11 20.75,3.18 21.00,3.24 21.25,3.28 21.50,3.30 21.75,3.30 22.00,3.28 22.25,3.25 22.50,3.19 22.75,3.12 23.00,3.03 23.25,2.93 23.50,2.81 23.75,2.67 24.00,2.52 24.25,2.35 24.50,2.17 24.75,1.98 25.00,1.78 25.25,1.56 25.50,1.34 25.75,1.11 26.00,0.88 26.25,0.64 26.50,0.39 26.75,0.15 27.00,-0.10 27.25,-0.34 27.50,-0.59 27.75,-0.83 28.00,-1.07 28.25,-1.30 28.50,-1.52 28.75,-1.73 29.00,-1.94 29.25,-2.13 29.50,-2.32 29.75,-2.49 30.00,-2.64 30.25,-2.78 30.50,-2.91 30.75,-3.01 31.00,-3.11 31.25,-3.18 31.50,-3.24 31.75,-3.28 32.00,-3.30 32.25,-3.30" fill="none" stroke="#2a2a2a" stroke-width="0.85"/>
</g>
<line x1="530.60" y1="38.50" x2="534.60" y2="32.00" stroke="#2b2b2b" stroke-width="2.4" stroke-linecap="round"/>
<line x1="531.60" y1="36.80" x2="534.00" y2="33.00" stroke="#6a6a6a" stroke-width="0.7"/>
<circle cx="530.00" cy="39.70" r="2.10" fill="#f6b042" stroke="#8a5a10" stroke-width="0.4"/>
<text x="534.00" y="29.20" font-size="7.2" text-anchor="middle" fill="#231f20" stroke="#231f20" stroke-width="0.25" transform="translate(534.00 29.20) scale(1 1.05) translate(-534.00 -29.20)">TF3</text>
<circle cx="573.60" cy="42.50" r="1.60" fill="#9a9a9a"/>
<circle cx="577.20" cy="42.50" r="1.60" fill="#9a9a9a"/>
<circle cx="580.80" cy="42.50" r="1.60" fill="#9a9a9a"/>
<circle cx="573.60" cy="75.30" r="1.60" fill="#9a9a9a"/>
<circle cx="577.20" cy="75.30" r="1.60" fill="#9a9a9a"/>
<circle cx="580.80" cy="75.30" r="1.60" fill="#9a9a9a"/>
<text x="405.00" y="61.70" font-size="7.2" text-anchor="middle" fill="#231f20" stroke="#231f20" stroke-width="0.25" transform="translate(405.00 61.70) scale(1 1.05) translate(-405.00 -61.70)">TF1</text>
<text x="453.30" y="61.70" font-size="7.2" text-anchor="middle" fill="#231f20" stroke="#231f20" stroke-width="0.25" transform="translate(453.30 61.70) scale(1 1.05) translate(-453.30 -61.70)">TF2</text>
<text x="495.00" y="61.70" font-size="7.2" text-anchor="middle" fill="#231f20" stroke="#231f20" stroke-width="0.25" transform="translate(495.00 61.70) scale(1 1.05) translate(-495.00 -61.70)">TF3</text>
<text x="537.50" y="61.70" font-size="7.2" text-anchor="middle" fill="#231f20" stroke="#231f20" stroke-width="0.25" transform="translate(537.50 61.70) scale(1 1.05) translate(-537.50 -61.70)">TF4</text>
<line x1="407.50" y1="68.20" x2="420.70" y2="73.40" stroke="#5bbdb5" stroke-width="0.8"/>
<line x1="407.50" y1="68.20" x2="403.50" y2="84.70" stroke="#5bbdb5" stroke-width="0.8"/>
<line x1="400.70" y1="75.80" x2="410.50" y2="78.60" stroke="#5bbdb5" stroke-width="0.8"/>
<line x1="410.50" y1="78.60" x2="420.70" y2="73.40" stroke="#5bbdb5" stroke-width="0.8"/>
<line x1="420.70" y1="73.40" x2="414.50" y2="89.30" stroke="#5bbdb5" stroke-width="0.8"/>
<line x1="410.50" y1="78.60" x2="414.50" y2="89.30" stroke="#5bbdb5" stroke-width="0.8"/>
<line x1="403.50" y1="84.70" x2="414.50" y2="89.30" stroke="#5bbdb5" stroke-width="0.8"/>
<line x1="400.70" y1="75.80" x2="414.50" y2="89.30" stroke="#5bbdb5" stroke-width="0.8"/>
<circle cx="407.50" cy="68.20" r="2.80" fill="#5bbdb5"/>
<circle cx="420.70" cy="73.40" r="2.80" fill="#5bbdb5"/>
<circle cx="400.70" cy="75.80" r="2.80" fill="#5bbdb5"/>
<circle cx="410.50" cy="78.60" r="2.80" fill="#5bbdb5"/>
<circle cx="403.50" cy="84.70" r="2.80" fill="#5bbdb5"/>
<circle cx="414.50" cy="89.30" r="2.80" fill="#5bbdb5"/>
<line x1="450.70" y1="68.80" x2="464.20" y2="74.30" stroke="#5bbdb5" stroke-width="0.8"/>
<line x1="450.70" y1="68.80" x2="446.70" y2="85.70" stroke="#5bbdb5" stroke-width="0.8"/>
<line x1="446.70" y1="85.70" x2="458.10" y2="90.30" stroke="#5bbdb5" stroke-width="0.8"/>
<circle cx="450.70" cy="68.80" r="2.80" fill="#5bbdb5"/>
<circle cx="464.20" cy="74.30" r="2.80" fill="#5bbdb5"/>
<circle cx="446.70" cy="85.70" r="2.80" fill="#5bbdb5"/>
<circle cx="458.10" cy="90.30" r="2.80" fill="#5bbdb5"/>
<line x1="494.20" y1="70.30" x2="507.40" y2="75.80" stroke="#5bbdb5" stroke-width="0.8"/>
<line x1="494.20" y1="70.30" x2="490.20" y2="87.20" stroke="#5bbdb5" stroke-width="0.8"/>
<circle cx="494.20" cy="70.30" r="2.80" fill="#5bbdb5"/>
<circle cx="507.40" cy="75.80" r="2.80" fill="#5bbdb5"/>
<circle cx="490.20" cy="87.20" r="2.80" fill="#5bbdb5"/>
<line x1="535.00" y1="72.50" x2="547.90" y2="77.10" stroke="#5bbdb5" stroke-width="0.8"/>
<circle cx="535.00" cy="72.50" r="2.80" fill="#5bbdb5"/>
<circle cx="547.90" cy="77.10" r="2.80" fill="#5bbdb5"/>
<text x="449.60" y="103.20" font-size="7.4" text-anchor="middle" fill="#231f20" stroke="#231f20" stroke-width="0.25" transform="translate(449.60 103.20) scale(1 1.05) translate(-449.60 -103.20)">Gene burden</text>
<g transform="translate(397.90 111.50) rotate(0) scale(1.0)">
<line x1="0" y1="0" x2="95" y2="0" stroke="#3a4790" stroke-width="1.0"/>
<rect x="0" y="-3.7" width="2.8" height="7.4" fill="#3a4790"/>
<rect x="4.7" y="-3.7" width="3.3" height="7.4" fill="#3a4790"/>
<rect x="9.6" y="-3.7" width="1.5" height="7.4" fill="#3a4790"/>
<rect x="13.7" y="-3.7" width="2.5" height="7.4" fill="#3a4790"/>
<rect x="53.9" y="-3.7" width="2.5" height="7.4" fill="#3a4790"/>
<rect x="58.6" y="-3.7" width="1.2" height="7.4" fill="#3a4790"/>
<rect x="75.8" y="-3.7" width="1.9" height="7.4" fill="#3a4790"/>
<rect x="79.6" y="-3.7" width="1.8" height="7.4" fill="#3a4790"/>
<rect x="83.9" y="-3.7" width="7.2" height="7.4" fill="#3a4790"/>
<rect x="90.3" y="-3.7" width="0.8" height="7.4" fill="#b04060"/>
</g>
<text x="536.80" y="101.40" font-size="7.4" text-anchor="middle" fill="#231f20" stroke="#231f20" stroke-width="0.25" transform="translate(536.80 101.40) scale(1 1.05) translate(-536.80 -101.40)">seqGWAS</text>
<g transform="translate(498.60 108.40) scale(1.0)">
<path d="M2.8 0 L21.5 0 L23.5 2.0 L25.5 0 L80.2 0 A2.85 2.85 0 0 1 80.2 5.7 L25.5 5.7 L23.5 3.7 L21.5 5.7 L2.8 5.7 A2.85 2.85 0 0 1 2.8 0 Z" fill="#fff" stroke="#555" stroke-width="0.7"/>
<rect x="3.6" y="0.35" width="2.2" height="5.0" fill="#bbb"/>
<rect x="7.6" y="0.35" width="1.4" height="5.0" fill="#ccc"/>
<rect x="10.9" y="0.35" width="1.9" height="5.0" fill="#777"/>
<rect x="13.4" y="0.35" width="2.2" height="5.0" fill="#bbb"/>
<rect x="17.0" y="0.35" width="3.5" height="5.0" fill="#ccc"/>
<rect x="39.3" y="0.35" width="2.8" height="5.0" fill="#bbb"/>
<rect x="43.6" y="0.35" width="1.5" height="5.0" fill="#ccc"/>
<rect x="48.2" y="0.35" width="2.2" height="5.0" fill="#bbb"/>
<rect x="68.3" y="0.35" width="2.1" height="5.0" fill="#ccc"/>
<rect x="72.3" y="0.35" width="5.0" height="5.0" fill="#888"/>
<rect x="35.3" y="-0.9" width="2.8" height="7.5" fill="#111"/>
</g>
<line x1="593.40" y1="68.40" x2="616.00" y2="68.40" stroke="#000" stroke-width="1"/>
<path d="M621.00 68.40 L615.00 66.00 L615.00 70.80 Z" fill="#000"/>
<text x="649.60" y="59.30" font-size="9.8" text-anchor="middle" fill="#231f20" stroke="#231f20" stroke-width="0.25" transform="translate(649.60 59.30) scale(1 1.05) translate(-649.60 -59.30)">Prioritized</text>
<text x="649.60" y="71.10" font-size="9.8" text-anchor="middle" fill="#231f20" stroke="#231f20" stroke-width="0.25" transform="translate(649.60 71.10) scale(1 1.05) translate(-649.60 -71.10)">Master</text>
<text x="649.60" y="83.00" font-size="9.8" text-anchor="middle" fill="#231f20" stroke="#231f20" stroke-width="0.25" transform="translate(649.60 83.00) scale(1 1.05) translate(-649.60 -83.00)">Regulators</text>
<text x="12.00" y="144.50" font-size="22.5" text-anchor="start" fill="#000" stroke="#000" stroke-width="0" font-weight="bold" transform="translate(12.00 144.50) scale(1 1.05) translate(-12.00 -144.50)">b</text>
<line x1="82.80" y1="135.30" x2="82.80" y2="186.40" stroke="#444" stroke-width="0.9"/>
<line x1="80.30" y1="186.40" x2="82.80" y2="186.40" stroke="#444" stroke-width="0.9"/>
<text x="78.60" y="189.90" font-size="9.8" text-anchor="end" fill="#231f20" stroke="#231f20" stroke-width="0.25" transform="translate(78.60 189.90) scale(1 1.05) translate(-78.60 -189.90)">0.0</text>
<line x1="80.30" y1="173.62" x2="82.80" y2="173.62" stroke="#444" stroke-width="0.9"/>
<text x="78.60" y="177.12" font-size="9.8" text-anchor="end" fill="#231f20" stroke="#231f20" stroke-width="0.25" transform="translate(78.60 177.12) scale(1 1.05) translate(-78.60 -177.12)">0.2</text>
<line x1="80.30" y1="160.84" x2="82.80" y2="160.84" stroke="#444" stroke-width="0.9"/>
<text x="78.60" y="164.34" font-size="9.8" text-anchor="end" fill="#231f20" stroke="#231f20" stroke-width="0.25" transform="translate(78.60 164.34) scale(1 1.05) translate(-78.60 -164.34)">0.4</text>
<line x1="80.30" y1="148.06" x2="82.80" y2="148.06" stroke="#444" stroke-width="0.9"/>
<text x="78.60" y="151.56" font-size="9.8" text-anchor="end" fill="#231f20" stroke="#231f20" stroke-width="0.25" transform="translate(78.60 151.56) scale(1 1.05) translate(-78.60 -151.56)">0.6</text>
<line x1="80.30" y1="135.28" x2="82.80" y2="135.28" stroke="#444" stroke-width="0.9"/>
<text x="78.60" y="138.78" font-size="9.8" text-anchor="end" fill="#231f20" stroke="#231f20" stroke-width="0.25" transform="translate(78.60 138.78) scale(1 1.05) translate(-78.60 -138.78)">0.8</text>
<text x="57.60" y="161.00" font-size="9.8" text-anchor="middle" fill="#231f20" stroke="#231f20" stroke-width="0.25" transform="rotate(-90 57.60 161.00) translate(57.60 161.00) scale(1 1.05) translate(-57.60 -161.00)">Height</text>
<path d="M148.45 187.30 L148.45 173.60 L156.27 173.60" fill="none" stroke="#231f20" stroke-width="0.9"/>
<path d="M156.27 173.60 L164.10 173.60 L164.10 187.30" fill="none" stroke="#231f20" stroke-width="0.9"/>
<path d="M211.05 187.30 L211.05 178.00 L218.88 178.00" fill="none" stroke="#231f20" stroke-width="0.9"/>
<path d="M218.88 178.00 L226.70 178.00 L226.70 187.30" fill="none" stroke="#231f20" stroke-width="0.9"/>
<path d="M195.40 187.30 L195.40 175.00 L207.14 175.00" fill="none" stroke="#231f20" stroke-width="0.9"/>
<path d="M207.14 175.00 L218.88 175.00 L218.88 178.00" fill="none" stroke="#231f20" stroke-width="0.9"/>
<path d="M179.75 187.30 L179.75 173.40 L193.44 173.40" fill="none" stroke="#8b3a3a" stroke-width="0.9"/>
<path d="M193.44 173.40 L207.14 173.40 L207.14 175.00" fill="none" stroke="#8b3a3a" stroke-width="0.9"/>
<path d="M273.65 187.30 L273.65 177.80 L281.48 177.80" fill="none" stroke="#8b3a3a" stroke-width="0.9"/>
<path d="M281.48 177.80 L289.30 177.80 L289.30 187.30" fill="none" stroke="#231f20" stroke-width="0.9"/>
<path d="M258.00 187.30 L258.00 176.40 L269.74 176.40" fill="none" stroke="#8b3a3a" stroke-width="0.9"/>
<path d="M269.74 176.40 L281.48 176.40 L281.48 177.80" fill="none" stroke="#8b3a3a" stroke-width="0.9"/>
<path d="M304.95 187.30 L304.95 176.40 L312.78 176.40" fill="none" stroke="#231f20" stroke-width="0.9"/>
<path d="M312.78 176.40 L320.60 176.40 L320.60 187.30" fill="none" stroke="#231f20" stroke-width="0.9"/>
<path d="M269.74 176.40 L269.74 173.20 L291.26 173.20" fill="none" stroke="#231f20" stroke-width="0.9"/>
<path d="M291.26 173.20 L312.78 173.20 L312.78 176.40" fill="none" stroke="#231f20" stroke-width="0.9"/>
<path d="M242.35 187.30 L242.35 171.40 L266.80 171.40" fill="none" stroke="#c8b8b8" stroke-width="0.9"/>
<path d="M266.80 171.40 L291.26 171.40 L291.26 173.20" fill="none" stroke="#8b3a3a" stroke-width="0.9"/>
<path d="M193.44 173.40 L193.44 170.00 L230.12 170.00" fill="none" stroke="#8b3a3a" stroke-width="0.9"/>
<path d="M230.12 170.00 L266.80 170.00 L266.80 171.40" fill="none" stroke="#c8b8b8" stroke-width="0.9"/>
<path d="M156.27 173.60 L156.27 166.60 L193.20 166.60" fill="none" stroke="#231f20" stroke-width="0.9"/>
<path d="M193.20 166.60 L230.12 166.60 L230.12 170.00" fill="none" stroke="#231f20" stroke-width="0.9"/>
<path d="M132.80 187.30 L132.80 165.30 L163.00 165.30" fill="none" stroke="#a06060" stroke-width="0.9"/>
<path d="M163.00 165.30 L193.20 165.30 L193.20 166.60" fill="none" stroke="#8b3a3a" stroke-width="0.9"/>
<path d="M117.15 187.30 L117.15 163.30 L140.07 163.30" fill="none" stroke="#231f20" stroke-width="0.9"/>
<path d="M140.07 163.30 L163.00 163.30 L163.00 165.30" fill="none" stroke="#999" stroke-width="0.9"/>
<path d="M101.50 187.30 L101.50 161.40 L120.79 161.40" fill="none" stroke="#231f20" stroke-width="0.9"/>
<path d="M120.79 161.40 L140.07 161.40 L140.07 163.30" fill="none" stroke="#231f20" stroke-width="0.9"/>
<path d="M336.25 187.30 L336.25 172.60 L344.07 172.60" fill="none" stroke="#231f20" stroke-width="0.9"/>
<path d="M344.07 172.60 L351.90 172.60 L351.90 187.30" fill="none" stroke="#231f20" stroke-width="0.9"/>
<path d="M367.55 187.30 L367.55 172.60 L375.38 172.60" fill="none" stroke="#231f20" stroke-width="0.9"/>
<path d="M375.38 172.60 L383.20 172.60 L383.20 187.30" fill="none" stroke="#231f20" stroke-width="0.9"/>
<path d="M414.50 187.30 L414.50 178.40 L422.33 178.40" fill="none" stroke="#231f20" stroke-width="0.9"/>
<path d="M422.33 178.40 L430.15 178.40 L430.15 187.30" fill="none" stroke="#231f20" stroke-width="0.9"/>
<path d="M445.80 187.30 L445.80 171.70 L453.62 171.70" fill="none" stroke="#231f20" stroke-width="0.9"/>
<path d="M453.62 171.70 L461.45 171.70 L461.45 187.30" fill="none" stroke="#231f20" stroke-width="0.9"/>
<path d="M422.33 178.40 L422.33 165.00 L437.98 165.00" fill="none" stroke="#231f20" stroke-width="0.9"/>
<path d="M437.98 165.00 L453.62 165.00 L453.62 171.70" fill="none" stroke="#231f20" stroke-width="0.9"/>
<path d="M398.85 187.30 L398.85 163.00 L418.41 163.00" fill="none" stroke="#b07080" stroke-width="0.9"/>
<path d="M418.41 163.00 L437.98 163.00 L437.98 165.00" fill="none" stroke="#231f20" stroke-width="0.9"/>
<path d="M375.38 172.60 L375.38 161.50 L396.89 161.50" fill="none" stroke="#231f20" stroke-width="0.9"/>
<path d="M396.89 161.50 L418.41 161.50 L418.41 163.00" fill="none" stroke="#8b3a3a" stroke-width="0.9"/>
<path d="M344.07 172.60 L344.07 158.40 L370.48 158.40" fill="none" stroke="#231f20" stroke-width="0.9"/>
<path d="M370.48 158.40 L396.89 158.40 L396.89 161.50" fill="none" stroke="#8b3a3a" stroke-width="0.9"/>
<path d="M120.79 161.40 L120.79 156.70 L245.64 156.70" fill="none" stroke="#231f20" stroke-width="0.9"/>
<path d="M245.64 156.70 L370.48 156.70 L370.48 158.40" fill="none" stroke="#8b3a3a" stroke-width="0.9"/>
<path d="M477.10 187.30 L477.10 160.00 L484.93 160.00" fill="none" stroke="#8b3a3a" stroke-width="0.9"/>
<path d="M484.93 160.00 L492.75 160.00 L492.75 187.30" fill="none" stroke="#8b3a3a" stroke-width="0.9"/>
<path d="M508.40 187.30 L508.40 154.40 L516.23 154.40" fill="none" stroke="#b08080" stroke-width="0.9"/>
<path d="M516.23 154.40 L524.05 154.40 L524.05 187.30" fill="none" stroke="#c8b8b8" stroke-width="0.9"/>
<path d="M484.93 160.00 L484.93 150.70 L500.58 150.70" fill="none" stroke="#8b3a3a" stroke-width="0.9"/>
<path d="M500.58 150.70 L516.23 150.70 L516.23 154.40" fill="none" stroke="#c8b8b8" stroke-width="0.9"/>
<path d="M245.64 156.70 L245.64 146.20 L373.11 146.20" fill="none" stroke="#231f20" stroke-width="0.9"/>
<path d="M373.11 146.20 L500.58 146.20 L500.58 150.70" fill="none" stroke="#8b3a3a" stroke-width="0.9"/>
<path d="M539.70 187.30 L539.70 139.30 L547.53 139.30" fill="none" stroke="#8b3a3a" stroke-width="0.9"/>
<path d="M547.53 139.30 L555.35 139.30 L555.35 187.30" fill="none" stroke="#8b3a3a" stroke-width="0.9"/>
<path d="M373.11 146.20 L373.11 136.10 L460.32 136.10" fill="none" stroke="#8b3a3a" stroke-width="0.9"/>
<path d="M460.32 136.10 L547.53 136.10 L547.53 139.30" fill="none" stroke="#8b3a3a" stroke-width="0.9"/>
<path d="M100.40 188.20 L102.60 188.20 L101.50 186.30 Z" fill="#6ea3d4"/>
<path d="M116.05 188.20 L118.25 188.20 L117.15 186.30 Z" fill="#283a8e"/>
<path d="M131.70 188.20 L133.90 188.20 L132.80 186.30 Z" fill="#a9cbea"/>
<path d="M147.35 188.20 L149.55 188.20 L148.45 186.30 Z" fill="#1b5aa0"/>
<path d="M163.00 188.20 L165.20 188.20 L164.10 186.30 Z" fill="#8dbde2"/>
<path d="M178.65 188.20 L180.85 188.20 L179.75 186.30 Z" fill="#10402a"/>
<path d="M194.30 188.20 L196.50 188.20 L195.40 186.30 Z" fill="#5cb85f"/>
<path d="M209.95 188.20 L212.15 188.20 L211.05 186.30 Z" fill="#2f9e45"/>
<path d="M225.60 188.20 L227.80 188.20 L226.70 186.30 Z" fill="#a3d7a3"/>
<path d="M241.25 188.20 L243.45 188.20 L242.35 186.30 Z" fill="#8ccb8c"/>
<path d="M256.90 188.20 L259.10 188.20 L258.00 186.30 Z" fill="#1d5048"/>
<path d="M272.55 188.20 L274.75 188.20 L273.65 186.30 Z" fill="#9fd8cd"/>
<path d="M288.20 188.20 L290.40 188.20 L289.30 186.30 Z" fill="#6cc2b3"/>
<path d="M303.85 188.20 L306.05 188.20 L304.95 186.30 Z" fill="#24695c"/>
<path d="M319.50 188.20 L321.70 188.20 L320.60 186.30 Z" fill="#4eb3a3"/>
<path d="M335.15 188.20 L337.35 188.20 L336.25 186.30 Z" fill="#f07a6a"/>
<path d="M350.80 188.20 L353.00 188.20 L351.90 186.30 Z" fill="#f5a898"/>
<path d="M366.45 188.20 L368.65 188.20 L367.55 186.30 Z" fill="#d8bf86"/>
<path d="M382.10 188.20 L384.30 188.20 L383.20 186.30 Z" fill="#a0703a"/>
<path d="M397.75 188.20 L399.95 188.20 L398.85 186.30 Z" fill="#f09494"/>
<path d="M413.40 188.20 L415.60 188.20 L414.50 186.30 Z" fill="#c050a8"/>
<path d="M429.05 188.20 L431.25 188.20 L430.15 186.30 Z" fill="#b58fca"/>
<path d="M444.70 188.20 L446.90 188.20 L445.80 186.30 Z" fill="#f29352"/>
<path d="M460.35 188.20 L462.55 188.20 L461.45 186.30 Z" fill="#f8c08e"/>
<path d="M476.00 188.20 L478.20 188.20 L477.10 186.30 Z" fill="#a0522d"/>
<path d="M491.65 188.20 L493.85 188.20 L492.75 186.30 Z" fill="#b5b5b5"/>
<path d="M507.30 188.20 L509.50 188.20 L508.40 186.30 Z" fill="#c0102a"/>
<path d="M522.95 188.20 L525.15 188.20 L524.05 186.30 Z" fill="#000000"/>
<path d="M538.60 188.20 L540.80 188.20 L539.70 186.30 Z" fill="#333333"/>
<path d="M554.25 188.20 L556.45 188.20 L555.35 186.30 Z" fill="#a8a8a8"/>
<text x="103.20" y="191.60" font-size="9.8" text-anchor="end" fill="#6ea3d4" stroke="#6ea3d4" stroke-width="0.25" transform="rotate(-90 103.20 191.60) translate(103.20 191.60) scale(1 1.05) translate(-103.20 -191.60)">L5–6–NP</text>
<text x="118.85" y="191.60" font-size="9.8" text-anchor="end" fill="#283a8e" stroke="#283a8e" stroke-width="0.25" transform="rotate(-90 118.85 191.60) translate(118.85 191.60) scale(1 1.05) translate(-118.85 -191.60)">L6–IT–Car3</text>
<text x="134.50" y="191.60" font-size="9.8" text-anchor="end" fill="#a9cbea" stroke="#a9cbea" stroke-width="0.25" transform="rotate(-90 134.50 191.60) translate(134.50 191.60) scale(1 1.05) translate(-134.50 -191.60)">L5–ET</text>
<text x="150.15" y="191.60" font-size="9.8" text-anchor="end" fill="#1b5aa0" stroke="#1b5aa0" stroke-width="0.25" transform="rotate(-90 150.15 191.60) translate(150.15 191.60) scale(1 1.05) translate(-150.15 -191.60)">L6–CT</text>
<text x="165.80" y="191.60" font-size="9.8" text-anchor="end" fill="#8dbde2" stroke="#8dbde2" stroke-width="0.25" transform="rotate(-90 165.80 191.60) translate(165.80 191.60) scale(1 1.05) translate(-165.80 -191.60)">L6b</text>
<text x="181.45" y="191.60" font-size="9.8" text-anchor="end" fill="#10402a" stroke="#10402a" stroke-width="0.25" transform="rotate(-90 181.45 191.60) translate(181.45 191.60) scale(1 1.05) translate(-181.45 -191.60)">L6–IT</text>
<text x="197.10" y="191.60" font-size="9.8" text-anchor="end" fill="#5cb85f" stroke="#5cb85f" stroke-width="0.25" transform="rotate(-90 197.10 191.60) translate(197.10 191.60) scale(1 1.05) translate(-197.10 -191.60)">L2–3–IT–1</text>
<text x="212.75" y="191.60" font-size="9.8" text-anchor="end" fill="#2f9e45" stroke="#2f9e45" stroke-width="0.25" transform="rotate(-90 212.75 191.60) translate(212.75 191.60) scale(1 1.05) translate(-212.75 -191.60)">L2–3–IT–2</text>
<text x="228.40" y="191.60" font-size="9.8" text-anchor="end" fill="#a3d7a3" stroke="#a3d7a3" stroke-width="0.25" transform="rotate(-90 228.40 191.60) translate(228.40 191.60) scale(1 1.05) translate(-228.40 -191.60)">L2–3–IT–3</text>
<text x="244.05" y="191.60" font-size="9.8" text-anchor="end" fill="#8ccb8c" stroke="#8ccb8c" stroke-width="0.25" transform="rotate(-90 244.05 191.60) translate(244.05 191.60) scale(1 1.05) translate(-244.05 -191.60)">L2–3–IT–4</text>
<text x="259.70" y="191.60" font-size="9.8" text-anchor="end" fill="#1d5048" stroke="#1d5048" stroke-width="0.25" transform="rotate(-90 259.70 191.60) translate(259.70 191.60) scale(1 1.05) translate(-259.70 -191.60)">L5–IT–3</text>
<text x="275.35" y="191.60" font-size="9.8" text-anchor="end" fill="#9fd8cd" stroke="#9fd8cd" stroke-width="0.25" transform="rotate(-90 275.35 191.60) translate(275.35 191.60) scale(1 1.05) translate(-275.35 -191.60)">L5–IT–1</text>
<text x="291.00" y="191.60" font-size="9.8" text-anchor="end" fill="#6cc2b3" stroke="#6cc2b3" stroke-width="0.25" transform="rotate(-90 291.00 191.60) translate(291.00 191.60) scale(1 1.05) translate(-291.00 -191.60)">L5–IT–2</text>
<text x="306.65" y="191.60" font-size="9.8" text-anchor="end" fill="#24695c" stroke="#24695c" stroke-width="0.25" transform="rotate(-90 306.65 191.60) translate(306.65 191.60) scale(1 1.05) translate(-306.65 -191.60)">L5–IT–4</text>
<text x="322.30" y="191.60" font-size="9.8" text-anchor="end" fill="#4eb3a3" stroke="#4eb3a3" stroke-width="0.25" transform="rotate(-90 322.30 191.60) translate(322.30 191.60) scale(1 1.05) translate(-322.30 -191.60)">L5–IT–5</text>
<text x="337.95" y="191.60" font-size="9.8" text-anchor="end" fill="#f07a6a" stroke="#f07a6a" stroke-width="0.25" transform="rotate(-90 337.95 191.60) translate(337.95 191.60) scale(1 1.05) translate(-337.95 -191.60)">Lamp5–1</text>
<text x="353.60" y="191.60" font-size="9.8" text-anchor="end" fill="#f5a898" stroke="#f5a898" stroke-width="0.25" transform="rotate(-90 353.60 191.60) translate(353.60 191.60) scale(1 1.05) translate(-353.60 -191.60)">Lamp5–2</text>
<text x="369.25" y="191.60" font-size="9.8" text-anchor="end" fill="#d8bf86" stroke="#d8bf86" stroke-width="0.25" transform="rotate(-90 369.25 191.60) translate(369.25 191.60) scale(1 1.05) translate(-369.25 -191.60)">Vip–1</text>
<text x="384.90" y="191.60" font-size="9.8" text-anchor="end" fill="#a0703a" stroke="#a0703a" stroke-width="0.25" transform="rotate(-90 384.90 191.60) translate(384.90 191.60) scale(1 1.05) translate(-384.90 -191.60)">Vip–2</text>
<text x="400.55" y="191.60" font-size="9.8" text-anchor="end" fill="#f09494" stroke="#f09494" stroke-width="0.25" transform="rotate(-90 400.55 191.60) translate(400.55 191.60) scale(1 1.05) translate(-400.55 -191.60)">Chandelier</text>
<text x="416.20" y="191.60" font-size="9.8" text-anchor="end" fill="#c050a8" stroke="#c050a8" stroke-width="0.25" transform="rotate(-90 416.20 191.60) translate(416.20 191.60) scale(1 1.05) translate(-416.20 -191.60)">Sst–1</text>
<text x="431.85" y="191.60" font-size="9.8" text-anchor="end" fill="#b58fca" stroke="#b58fca" stroke-width="0.25" transform="rotate(-90 431.85 191.60) translate(431.85 191.60) scale(1 1.05) translate(-431.85 -191.60)">Sst–2</text>
<text x="447.50" y="191.60" font-size="9.8" text-anchor="end" fill="#f29352" stroke="#f29352" stroke-width="0.25" transform="rotate(-90 447.50 191.60) translate(447.50 191.60) scale(1 1.05) translate(-447.50 -191.60)">Pvalb–1</text>
<text x="463.15" y="191.60" font-size="9.8" text-anchor="end" fill="#f8c08e" stroke="#f8c08e" stroke-width="0.25" transform="rotate(-90 463.15 191.60) translate(463.15 191.60) scale(1 1.05) translate(-463.15 -191.60)">Pvalb–2</text>
<text x="478.80" y="191.60" font-size="9.8" text-anchor="end" fill="#a0522d" stroke="#a0522d" stroke-width="0.25" transform="rotate(-90 478.80 191.60) translate(478.80 191.60) scale(1 1.05) translate(-478.80 -191.60)">Oligo</text>
<text x="494.45" y="191.60" font-size="9.8" text-anchor="end" fill="#b5b5b5" stroke="#b5b5b5" stroke-width="0.25" transform="rotate(-90 494.45 191.60) translate(494.45 191.60) scale(1 1.05) translate(-494.45 -191.60)">VLMC</text>
<text x="510.10" y="191.60" font-size="9.8" text-anchor="end" fill="#c0102a" stroke="#c0102a" stroke-width="0.25" transform="rotate(-90 510.10 191.60) translate(510.10 191.60) scale(1 1.05) translate(-510.10 -191.60)">Astrocyte–PP</text>
<text x="525.75" y="191.60" font-size="9.8" text-anchor="end" fill="#000000" stroke="#000000" stroke-width="0.25" transform="rotate(-90 525.75 191.60) translate(525.75 191.60) scale(1 1.05) translate(-525.75 -191.60)">OPC</text>
<text x="541.40" y="191.60" font-size="9.8" text-anchor="end" fill="#333333" stroke="#333333" stroke-width="0.25" transform="rotate(-90 541.40 191.60) translate(541.40 191.60) scale(1 1.05) translate(-541.40 -191.60)">Endothelial</text>
<text x="557.05" y="191.60" font-size="9.8" text-anchor="end" fill="#a8a8a8" stroke="#a8a8a8" stroke-width="0.25" transform="rotate(-90 557.05 191.60) translate(557.05 191.60) scale(1 1.05) translate(-557.05 -191.60)">Microglia</text>
<rect x="92.00" y="254.15" width="16.25" height="10.70" fill="#fbd9cc"/>
<rect x="107.65" y="254.15" width="16.25" height="10.70" fill="#e3daea"/>
<rect x="123.30" y="254.15" width="16.25" height="10.70" fill="#efeaf3"/>
<rect x="138.95" y="254.15" width="16.25" height="10.70" fill="#dcd0e6"/>
<rect x="154.60" y="254.15" width="16.25" height="10.70" fill="#fdf1ee"/>
<rect x="170.25" y="254.15" width="16.25" height="10.70" fill="#f3f1f6"/>
<rect x="185.90" y="254.15" width="16.25" height="10.70" fill="#f9cbbd"/>
<rect x="201.55" y="254.15" width="16.25" height="10.70" fill="#fdf0ec"/>
<rect x="217.20" y="254.15" width="16.25" height="10.70" fill="#e3daea"/>
<rect x="232.85" y="254.15" width="16.25" height="10.70" fill="#fef9f9"/>
<rect x="248.50" y="254.15" width="16.25" height="10.70" fill="#fbe0d6"/>
<rect x="264.15" y="254.15" width="16.25" height="10.70" fill="#f9cbbb"/>
<rect x="279.80" y="254.15" width="16.25" height="10.70" fill="#ffffff"/>
<rect x="295.45" y="254.15" width="16.25" height="10.70" fill="#fcebe4"/>
<rect x="311.10" y="254.15" width="16.25" height="10.70" fill="#f6b9a5"/>
<rect x="326.75" y="254.15" width="16.25" height="10.70" fill="#fcede8"/>
<rect x="342.40" y="254.15" width="16.25" height="10.70" fill="#fbd8cb"/>
<rect x="358.05" y="254.15" width="16.25" height="10.70" fill="#e8e1f0"/>
<rect x="373.70" y="254.15" width="16.25" height="10.70" fill="#ede7f3"/>
<rect x="389.35" y="254.15" width="16.25" height="10.70" fill="#ffffff"/>
<rect x="405.00" y="254.15" width="16.25" height="10.70" fill="#f4f1f8"/>
<rect x="420.65" y="254.15" width="16.25" height="10.70" fill="#ede7f3"/>
<rect x="436.30" y="254.15" width="16.25" height="10.70" fill="#ffffff"/>
<rect x="451.95" y="254.15" width="16.25" height="10.70" fill="#fbd4c6"/>
<rect x="467.60" y="254.15" width="16.25" height="10.70" fill="#ece6f3"/>
<rect x="483.25" y="254.15" width="16.25" height="10.70" fill="#fdefe9"/>
<rect x="498.90" y="254.15" width="16.25" height="10.70" fill="#fad3c6"/>
<rect x="514.55" y="254.15" width="16.25" height="10.70" fill="#f3f1f6"/>
<rect x="530.20" y="254.15" width="16.25" height="10.70" fill="#fce3da"/>
<rect x="545.85" y="254.15" width="15.65" height="10.70" fill="#ede7f3"/>
<rect x="92.00" y="264.25" width="16.25" height="10.70" fill="#fbd9cb"/>
<rect x="107.65" y="264.25" width="16.25" height="10.70" fill="#e3daea"/>
<rect x="123.30" y="264.25" width="16.25" height="10.70" fill="#ebe3f0"/>
<rect x="138.95" y="264.25" width="16.25" height="10.70" fill="#dcd1e6"/>
<rect x="154.60" y="264.25" width="16.25" height="10.70" fill="#fdf1ee"/>
<rect x="170.25" y="264.25" width="16.25" height="10.70" fill="#ffffff"/>
<rect x="185.90" y="264.25" width="16.25" height="10.70" fill="#f9d0c2"/>
<rect x="201.55" y="264.25" width="16.25" height="10.70" fill="#fce8df"/>
<rect x="217.20" y="264.25" width="16.25" height="10.70" fill="#e2d8ea"/>
<rect x="232.85" y="264.25" width="16.25" height="10.70" fill="#f6f5f9"/>
<rect x="248.50" y="264.25" width="16.25" height="10.70" fill="#fbe2d9"/>
<rect x="264.15" y="264.25" width="16.25" height="10.70" fill="#f9cfc1"/>
<rect x="279.80" y="264.25" width="16.25" height="10.70" fill="#ffffff"/>
<rect x="295.45" y="264.25" width="16.25" height="10.70" fill="#fce6dd"/>
<rect x="311.10" y="264.25" width="16.25" height="10.70" fill="#f6b9a6"/>
<rect x="326.75" y="264.25" width="16.25" height="10.70" fill="#fdebe3"/>
<rect x="342.40" y="264.25" width="16.25" height="10.70" fill="#fbd8cb"/>
<rect x="358.05" y="264.25" width="16.25" height="10.70" fill="#ede8f4"/>
<rect x="373.70" y="264.25" width="16.25" height="10.70" fill="#f2eff6"/>
<rect x="389.35" y="264.25" width="16.25" height="10.70" fill="#fefafa"/>
<rect x="405.00" y="264.25" width="16.25" height="10.70" fill="#ebe5f1"/>
<rect x="420.65" y="264.25" width="16.25" height="10.70" fill="#ebe5f1"/>
<rect x="436.30" y="264.25" width="16.25" height="10.70" fill="#fef3ee"/>
<rect x="451.95" y="264.25" width="16.25" height="10.70" fill="#fbcfc1"/>
<rect x="467.60" y="264.25" width="16.25" height="10.70" fill="#efebf4"/>
<rect x="483.25" y="264.25" width="16.25" height="10.70" fill="#fdf0e8"/>
<rect x="498.90" y="264.25" width="16.25" height="10.70" fill="#fad3c6"/>
<rect x="514.55" y="264.25" width="16.25" height="10.70" fill="#ffffff"/>
<rect x="530.20" y="264.25" width="16.25" height="10.70" fill="#fce6de"/>
<rect x="545.85" y="264.25" width="15.65" height="10.70" fill="#f0ebf4"/>
<rect x="92.00" y="274.35" width="16.25" height="10.70" fill="#fbddd2"/>
<rect x="107.65" y="274.35" width="16.25" height="10.70" fill="#e3d9ea"/>
<rect x="123.30" y="274.35" width="16.25" height="10.70" fill="#e9e0ef"/>
<rect x="138.95" y="274.35" width="16.25" height="10.70" fill="#dacfe6"/>
<rect x="154.60" y="274.35" width="16.25" height="10.70" fill="#fdf3f1"/>
<rect x="170.25" y="274.35" width="16.25" height="10.70" fill="#f3f0f7"/>
<rect x="185.90" y="274.35" width="16.25" height="10.70" fill="#f9d3c6"/>
<rect x="201.55" y="274.35" width="16.25" height="10.70" fill="#fcebe5"/>
<rect x="217.20" y="274.35" width="16.25" height="10.70" fill="#e3d9ea"/>
<rect x="232.85" y="274.35" width="16.25" height="10.70" fill="#f6f5fa"/>
<rect x="248.50" y="274.35" width="16.25" height="10.70" fill="#fdeee7"/>
<rect x="264.15" y="274.35" width="16.25" height="10.70" fill="#f9d0c3"/>
<rect x="279.80" y="274.35" width="16.25" height="10.70" fill="#f1edf6"/>
<rect x="295.45" y="274.35" width="16.25" height="10.70" fill="#fce5dc"/>
<rect x="311.10" y="274.35" width="16.25" height="10.70" fill="#f8c6b6"/>
<rect x="326.75" y="274.35" width="16.25" height="10.70" fill="#fdf1ec"/>
<rect x="342.40" y="274.35" width="16.25" height="10.70" fill="#fbdcd0"/>
<rect x="358.05" y="274.35" width="16.25" height="10.70" fill="#ece5f2"/>
<rect x="373.70" y="274.35" width="16.25" height="10.70" fill="#f2eff6"/>
<rect x="389.35" y="274.35" width="16.25" height="10.70" fill="#f7f6fa"/>
<rect x="405.00" y="274.35" width="16.25" height="10.70" fill="#ede7f3"/>
<rect x="420.65" y="274.35" width="16.25" height="10.70" fill="#ebe3f1"/>
<rect x="436.30" y="274.35" width="16.25" height="10.70" fill="#f1edf6"/>
<rect x="451.95" y="274.35" width="16.25" height="10.70" fill="#fbd7ca"/>
<rect x="467.60" y="274.35" width="16.25" height="10.70" fill="#ece6f2"/>
<rect x="483.25" y="274.35" width="16.25" height="10.70" fill="#fdeee6"/>
<rect x="498.90" y="274.35" width="16.25" height="10.70" fill="#f9d0c4"/>
<rect x="514.55" y="274.35" width="16.25" height="10.70" fill="#f4f2f8"/>
<rect x="530.20" y="274.35" width="16.25" height="10.70" fill="#fef5f2"/>
<rect x="545.85" y="274.35" width="15.65" height="10.70" fill="#e8e0ef"/>
<rect x="92.00" y="284.45" width="16.25" height="10.70" fill="#f9c9b9"/>
<rect x="107.65" y="284.45" width="16.25" height="10.70" fill="#e3daea"/>
<rect x="123.30" y="284.45" width="16.25" height="10.70" fill="#fffcfc"/>
<rect x="138.95" y="284.45" width="16.25" height="10.70" fill="#d8cbe4"/>
<rect x="154.60" y="284.45" width="16.25" height="10.70" fill="#fdf3ec"/>
<rect x="170.25" y="284.45" width="16.25" height="10.70" fill="#fefafb"/>
<rect x="185.90" y="284.45" width="16.25" height="10.70" fill="#f8c8b8"/>
<rect x="201.55" y="284.45" width="16.25" height="10.70" fill="#fdece6"/>
<rect x="217.20" y="284.45" width="16.25" height="10.70" fill="#e2d8ea"/>
<rect x="232.85" y="284.45" width="16.25" height="10.70" fill="#ffffff"/>
<rect x="248.50" y="284.45" width="16.25" height="10.70" fill="#fad4c7"/>
<rect x="264.15" y="284.45" width="16.25" height="10.70" fill="#f8c5b6"/>
<rect x="279.80" y="284.45" width="16.25" height="10.70" fill="#fef3f1"/>
<rect x="295.45" y="284.45" width="16.25" height="10.70" fill="#fce5dc"/>
<rect x="311.10" y="284.45" width="16.25" height="10.70" fill="#f5b09b"/>
<rect x="326.75" y="284.45" width="16.25" height="10.70" fill="#fde9e2"/>
<rect x="342.40" y="284.45" width="16.25" height="10.70" fill="#f8c7b7"/>
<rect x="358.05" y="284.45" width="16.25" height="10.70" fill="#f4f3f9"/>
<rect x="373.70" y="284.45" width="16.25" height="10.70" fill="#f4f3f9"/>
<rect x="389.35" y="284.45" width="16.25" height="10.70" fill="#fdece4"/>
<rect x="405.00" y="284.45" width="16.25" height="10.70" fill="#fefafa"/>
<rect x="420.65" y="284.45" width="16.25" height="10.70" fill="#f6f5f9"/>
<rect x="436.30" y="284.45" width="16.25" height="10.70" fill="#fdece7"/>
<rect x="451.95" y="284.45" width="16.25" height="10.70" fill="#f9cbbd"/>
<rect x="467.60" y="284.45" width="16.25" height="10.70" fill="#ece6f2"/>
<rect x="483.25" y="284.45" width="16.25" height="10.70" fill="#fde7dc"/>
<rect x="498.90" y="284.45" width="16.25" height="10.70" fill="#f8c5b5"/>
<rect x="514.55" y="284.45" width="16.25" height="10.70" fill="#fef5f2"/>
<rect x="530.20" y="284.45" width="16.25" height="10.70" fill="#fbd7cc"/>
<rect x="545.85" y="284.45" width="15.65" height="10.70" fill="#f6f5f9"/>
<rect x="92.00" y="294.55" width="16.25" height="10.70" fill="#fef4f0"/>
<rect x="107.65" y="294.55" width="16.25" height="10.70" fill="#d3c6e2"/>
<rect x="123.30" y="294.55" width="16.25" height="10.70" fill="#e0d5ea"/>
<rect x="138.95" y="294.55" width="16.25" height="10.70" fill="#cfc1e0"/>
<rect x="154.60" y="294.55" width="16.25" height="10.70" fill="#e5dbec"/>
<rect x="170.25" y="294.55" width="16.25" height="10.70" fill="#e5dbec"/>
<rect x="185.90" y="294.55" width="16.25" height="10.70" fill="#fce9e0"/>
<rect x="201.55" y="294.55" width="16.25" height="10.70" fill="#f1eef6"/>
<rect x="217.20" y="294.55" width="16.25" height="10.70" fill="#cdbfe0"/>
<rect x="232.85" y="294.55" width="16.25" height="10.70" fill="#e0d6ea"/>
<rect x="248.50" y="294.55" width="16.25" height="10.70" fill="#f1eff6"/>
<rect x="264.15" y="294.55" width="16.25" height="10.70" fill="#fce5dc"/>
<rect x="279.80" y="294.55" width="16.25" height="10.70" fill="#e4daec"/>
<rect x="295.45" y="294.55" width="16.25" height="10.70" fill="#ece6f2"/>
<rect x="311.10" y="294.55" width="16.25" height="10.70" fill="#fcdfd5"/>
<rect x="326.75" y="294.55" width="16.25" height="10.70" fill="#fefafa"/>
<rect x="342.40" y="294.55" width="16.25" height="10.70" fill="#fde7dd"/>
<rect x="358.05" y="294.55" width="16.25" height="10.70" fill="#e0d6ea"/>
<rect x="373.70" y="294.55" width="16.25" height="10.70" fill="#e5dcee"/>
<rect x="389.35" y="294.55" width="16.25" height="10.70" fill="#ebe4f1"/>
<rect x="405.00" y="294.55" width="16.25" height="10.70" fill="#e5dcee"/>
<rect x="420.65" y="294.55" width="16.25" height="10.70" fill="#e0d6ea"/>
<rect x="436.30" y="294.55" width="16.25" height="10.70" fill="#f4f2f8"/>
<rect x="451.95" y="294.55" width="16.25" height="10.70" fill="#fce0d7"/>
<rect x="467.60" y="294.55" width="16.25" height="10.70" fill="#e8e0ef"/>
<rect x="483.25" y="294.55" width="16.25" height="10.70" fill="#fef5f2"/>
<rect x="498.90" y="294.55" width="16.25" height="10.70" fill="#fad7cb"/>
<rect x="514.55" y="294.55" width="16.25" height="10.70" fill="#f2eff6"/>
<rect x="530.20" y="294.55" width="16.25" height="10.70" fill="#fdeee6"/>
<rect x="545.85" y="294.55" width="15.65" height="10.70" fill="#ece5f2"/>
<rect x="92.00" y="304.65" width="16.25" height="10.70" fill="#fef5f1"/>
<rect x="107.65" y="304.65" width="16.25" height="10.70" fill="#d6c8e3"/>
<rect x="123.30" y="304.65" width="16.25" height="10.70" fill="#e3d9ec"/>
<rect x="138.95" y="304.65" width="16.25" height="10.70" fill="#cdbee0"/>
<rect x="154.60" y="304.65" width="16.25" height="10.70" fill="#e6ddee"/>
<rect x="170.25" y="304.65" width="16.25" height="10.70" fill="#e6ddee"/>
<rect x="185.90" y="304.65" width="16.25" height="10.70" fill="#fce8df"/>
<rect x="201.55" y="304.65" width="16.25" height="10.70" fill="#f2eff6"/>
<rect x="217.20" y="304.65" width="16.25" height="10.70" fill="#d0c3e2"/>
<rect x="232.85" y="304.65" width="16.25" height="10.70" fill="#e2d8ea"/>
<rect x="248.50" y="304.65" width="16.25" height="10.70" fill="#f2eff6"/>
<rect x="264.15" y="304.65" width="16.25" height="10.70" fill="#fce9e2"/>
<rect x="279.80" y="304.65" width="16.25" height="10.70" fill="#e2d8ea"/>
<rect x="295.45" y="304.65" width="16.25" height="10.70" fill="#f5f3f8"/>
<rect x="311.10" y="304.65" width="16.25" height="10.70" fill="#fbdcd2"/>
<rect x="326.75" y="304.65" width="16.25" height="10.70" fill="#ffffff"/>
<rect x="342.40" y="304.65" width="16.25" height="10.70" fill="#fde5dc"/>
<rect x="358.05" y="304.65" width="16.25" height="10.70" fill="#e2d8eb"/>
<rect x="373.70" y="304.65" width="16.25" height="10.70" fill="#e8e0ef"/>
<rect x="389.35" y="304.65" width="16.25" height="10.70" fill="#ede7f3"/>
<rect x="405.00" y="304.65" width="16.25" height="10.70" fill="#e9e2f0"/>
<rect x="420.65" y="304.65" width="16.25" height="10.70" fill="#e4dbec"/>
<rect x="436.30" y="304.65" width="16.25" height="10.70" fill="#f8f8fb"/>
<rect x="451.95" y="304.65" width="16.25" height="10.70" fill="#fcddd3"/>
<rect x="467.60" y="304.65" width="16.25" height="10.70" fill="#dfd5e9"/>
<rect x="483.25" y="304.65" width="16.25" height="10.70" fill="#fef5f2"/>
<rect x="498.90" y="304.65" width="16.25" height="10.70" fill="#fad7cb"/>
<rect x="514.55" y="304.65" width="16.25" height="10.70" fill="#f7f6fa"/>
<rect x="530.20" y="304.65" width="16.25" height="10.70" fill="#fdefe9"/>
<rect x="545.85" y="304.65" width="15.65" height="10.70" fill="#ede7f3"/>
<rect x="92.00" y="314.75" width="16.25" height="10.70" fill="#fdebe1"/>
<rect x="107.65" y="314.75" width="16.25" height="10.70" fill="#d6c9e3"/>
<rect x="123.30" y="314.75" width="16.25" height="10.70" fill="#e3d9eb"/>
<rect x="138.95" y="314.75" width="16.25" height="10.70" fill="#cbbddf"/>
<rect x="154.60" y="314.75" width="16.25" height="10.70" fill="#efe9f3"/>
<rect x="170.25" y="314.75" width="16.25" height="10.70" fill="#ebe4f1"/>
<rect x="185.90" y="314.75" width="16.25" height="10.70" fill="#fbdad0"/>
<rect x="201.55" y="314.75" width="16.25" height="10.70" fill="#ffffff"/>
<rect x="217.20" y="314.75" width="16.25" height="10.70" fill="#cfc2e2"/>
<rect x="232.85" y="314.75" width="16.25" height="10.70" fill="#e6ddee"/>
<rect x="248.50" y="314.75" width="16.25" height="10.70" fill="#fef3f0"/>
<rect x="264.15" y="314.75" width="16.25" height="10.70" fill="#fad7ca"/>
<rect x="279.80" y="314.75" width="16.25" height="10.70" fill="#ebe5f1"/>
<rect x="295.45" y="314.75" width="16.25" height="10.70" fill="#f5f3f8"/>
<rect x="311.10" y="314.75" width="16.25" height="10.70" fill="#fad5c9"/>
<rect x="326.75" y="314.75" width="16.25" height="10.70" fill="#ffffff"/>
<rect x="342.40" y="314.75" width="16.25" height="10.70" fill="#fde5dc"/>
<rect x="358.05" y="314.75" width="16.25" height="10.70" fill="#e0d6ea"/>
<rect x="373.70" y="314.75" width="16.25" height="10.70" fill="#e9e2f0"/>
<rect x="389.35" y="314.75" width="16.25" height="10.70" fill="#f4f2f8"/>
<rect x="405.00" y="314.75" width="16.25" height="10.70" fill="#ece5f2"/>
<rect x="420.65" y="314.75" width="16.25" height="10.70" fill="#e6ddee"/>
<rect x="436.30" y="314.75" width="16.25" height="10.70" fill="#f6f4f9"/>
<rect x="451.95" y="314.75" width="16.25" height="10.70" fill="#fcdcd2"/>
<rect x="467.60" y="314.75" width="16.25" height="10.70" fill="#ebe5f1"/>
<rect x="483.25" y="314.75" width="16.25" height="10.70" fill="#fdf2ee"/>
<rect x="498.90" y="314.75" width="16.25" height="10.70" fill="#fad8cc"/>
<rect x="514.55" y="314.75" width="16.25" height="10.70" fill="#f4f2f8"/>
<rect x="530.20" y="314.75" width="16.25" height="10.70" fill="#fce9df"/>
<rect x="545.85" y="314.75" width="15.65" height="10.70" fill="#ede7f3"/>
<rect x="92.00" y="324.85" width="16.25" height="10.70" fill="#fdefe6"/>
<rect x="107.65" y="324.85" width="16.25" height="10.70" fill="#d6c9e3"/>
<rect x="123.30" y="324.85" width="16.25" height="10.70" fill="#e3d9eb"/>
<rect x="138.95" y="324.85" width="16.25" height="10.70" fill="#cdbee0"/>
<rect x="154.60" y="324.85" width="16.25" height="10.70" fill="#ece6f2"/>
<rect x="170.25" y="324.85" width="16.25" height="10.70" fill="#ebe4f1"/>
<rect x="185.90" y="324.85" width="16.25" height="10.70" fill="#fbded5"/>
<rect x="201.55" y="324.85" width="16.25" height="10.70" fill="#f6f4f9"/>
<rect x="217.20" y="324.85" width="16.25" height="10.70" fill="#cdbfe0"/>
<rect x="232.85" y="324.85" width="16.25" height="10.70" fill="#e4dbec"/>
<rect x="248.50" y="324.85" width="16.25" height="10.70" fill="#ffffff"/>
<rect x="264.15" y="324.85" width="16.25" height="10.70" fill="#fbdbd0"/>
<rect x="279.80" y="324.85" width="16.25" height="10.70" fill="#ebe5f1"/>
<rect x="295.45" y="324.85" width="16.25" height="10.70" fill="#ffffff"/>
<rect x="311.10" y="324.85" width="16.25" height="10.70" fill="#fad5c9"/>
<rect x="326.75" y="324.85" width="16.25" height="10.70" fill="#fef9f9"/>
<rect x="342.40" y="324.85" width="16.25" height="10.70" fill="#fde7de"/>
<rect x="358.05" y="324.85" width="16.25" height="10.70" fill="#e0d6ea"/>
<rect x="373.70" y="324.85" width="16.25" height="10.70" fill="#e8e0ef"/>
<rect x="389.35" y="324.85" width="16.25" height="10.70" fill="#f3f1f7"/>
<rect x="405.00" y="324.85" width="16.25" height="10.70" fill="#ece5f2"/>
<rect x="420.65" y="324.85" width="16.25" height="10.70" fill="#e6ddee"/>
<rect x="436.30" y="324.85" width="16.25" height="10.70" fill="#fffcfc"/>
<rect x="451.95" y="324.85" width="16.25" height="10.70" fill="#fcdcd2"/>
<rect x="467.60" y="324.85" width="16.25" height="10.70" fill="#e6ddee"/>
<rect x="483.25" y="324.85" width="16.25" height="10.70" fill="#fef4f0"/>
<rect x="498.90" y="324.85" width="16.25" height="10.70" fill="#fad5c9"/>
<rect x="514.55" y="324.85" width="16.25" height="10.70" fill="#f4f2f8"/>
<rect x="530.20" y="324.85" width="16.25" height="10.70" fill="#fdf0eb"/>
<rect x="545.85" y="324.85" width="15.65" height="10.70" fill="#ebe4f1"/>
<rect x="92.00" y="334.95" width="16.25" height="10.70" fill="#f4f2f8"/>
<rect x="107.65" y="334.95" width="16.25" height="10.70" fill="#d8cce5"/>
<rect x="123.30" y="334.95" width="16.25" height="10.70" fill="#e2d8ea"/>
<rect x="138.95" y="334.95" width="16.25" height="10.70" fill="#b6a6d2"/>
<rect x="154.60" y="334.95" width="16.25" height="10.70" fill="#ede7f3"/>
<rect x="170.25" y="334.95" width="16.25" height="10.70" fill="#e2d8ea"/>
<rect x="185.90" y="334.95" width="16.25" height="10.70" fill="#f9d2c5"/>
<rect x="201.55" y="334.95" width="16.25" height="10.70" fill="#ebe4f1"/>
<rect x="217.20" y="334.95" width="16.25" height="10.70" fill="#cbbcdf"/>
<rect x="232.85" y="334.95" width="16.25" height="10.70" fill="#e8e0f0"/>
<rect x="248.50" y="334.95" width="16.25" height="10.70" fill="#f0ecf5"/>
<rect x="264.15" y="334.95" width="16.25" height="10.70" fill="#fdf2ee"/>
<rect x="279.80" y="334.95" width="16.25" height="10.70" fill="#e1d7ea"/>
<rect x="295.45" y="334.95" width="16.25" height="10.70" fill="#ece6f2"/>
<rect x="311.10" y="334.95" width="16.25" height="10.70" fill="#fad6ca"/>
<rect x="326.75" y="334.95" width="16.25" height="10.70" fill="#fefafa"/>
<rect x="342.40" y="334.95" width="16.25" height="10.70" fill="#fdeee8"/>
<rect x="358.05" y="334.95" width="16.25" height="10.70" fill="#d3c6e2"/>
<rect x="373.70" y="334.95" width="16.25" height="10.70" fill="#e3d9ec"/>
<rect x="389.35" y="334.95" width="16.25" height="10.70" fill="#e6ddee"/>
<rect x="405.00" y="334.95" width="16.25" height="10.70" fill="#cfc1e0"/>
<rect x="420.65" y="334.95" width="16.25" height="10.70" fill="#d8cce5"/>
<rect x="436.30" y="334.95" width="16.25" height="10.70" fill="#f7f6fa"/>
<rect x="451.95" y="334.95" width="16.25" height="10.70" fill="#fde8e0"/>
<rect x="467.60" y="334.95" width="16.25" height="10.70" fill="#ebe5f1"/>
<rect x="483.25" y="334.95" width="16.25" height="10.70" fill="#fad3c6"/>
<rect x="498.90" y="334.95" width="16.25" height="10.70" fill="#f9cabb"/>
<rect x="514.55" y="334.95" width="16.25" height="10.70" fill="#f7f6fa"/>
<rect x="530.20" y="334.95" width="16.25" height="10.70" fill="#e6ddee"/>
<rect x="545.85" y="334.95" width="15.65" height="10.70" fill="#f5f3f8"/>
<rect x="92.00" y="345.05" width="16.25" height="10.70" fill="#fef8f8"/>
<rect x="107.65" y="345.05" width="16.25" height="10.70" fill="#c3b3da"/>
<rect x="123.30" y="345.05" width="16.25" height="10.70" fill="#ddd2e8"/>
<rect x="138.95" y="345.05" width="16.25" height="10.70" fill="#c6b7db"/>
<rect x="154.60" y="345.05" width="16.25" height="10.70" fill="#ffffff"/>
<rect x="170.25" y="345.05" width="16.25" height="10.70" fill="#ddd3e9"/>
<rect x="185.90" y="345.05" width="16.25" height="10.70" fill="#fce2d8"/>
<rect x="201.55" y="345.05" width="16.25" height="10.70" fill="#fef5f1"/>
<rect x="217.20" y="345.05" width="16.25" height="10.70" fill="#d9cde6"/>
<rect x="232.85" y="345.05" width="16.25" height="10.70" fill="#e3d9ec"/>
<rect x="248.50" y="345.05" width="16.25" height="10.70" fill="#fef5f2"/>
<rect x="264.15" y="345.05" width="16.25" height="10.70" fill="#fce6dd"/>
<rect x="279.80" y="345.05" width="16.25" height="10.70" fill="#dcd1e8"/>
<rect x="295.45" y="345.05" width="16.25" height="10.70" fill="#ebe5f2"/>
<rect x="311.10" y="345.05" width="16.25" height="10.70" fill="#fbd6ca"/>
<rect x="326.75" y="345.05" width="16.25" height="10.70" fill="#f3f1f7"/>
<rect x="342.40" y="345.05" width="16.25" height="10.70" fill="#f2eff6"/>
<rect x="358.05" y="345.05" width="16.25" height="10.70" fill="#e3daeb"/>
<rect x="373.70" y="345.05" width="16.25" height="10.70" fill="#f0ecf5"/>
<rect x="389.35" y="345.05" width="16.25" height="10.70" fill="#d5c9e4"/>
<rect x="405.00" y="345.05" width="16.25" height="10.70" fill="#d5c9e4"/>
<rect x="420.65" y="345.05" width="16.25" height="10.70" fill="#c9bbde"/>
<rect x="436.30" y="345.05" width="16.25" height="10.70" fill="#e6ddee"/>
<rect x="451.95" y="345.05" width="16.25" height="10.70" fill="#f9cbbb"/>
<rect x="467.60" y="345.05" width="16.25" height="10.70" fill="#fdefe9"/>
<rect x="483.25" y="345.05" width="16.25" height="10.70" fill="#fad3c6"/>
<rect x="498.90" y="345.05" width="16.25" height="10.70" fill="#ffffff"/>
<rect x="514.55" y="345.05" width="16.25" height="10.70" fill="#fef8f6"/>
<rect x="530.20" y="345.05" width="16.25" height="10.70" fill="#f5f3f8"/>
<rect x="545.85" y="345.05" width="15.65" height="10.70" fill="#f4f2f8"/>
<rect x="92.00" y="355.15" width="16.25" height="10.70" fill="#d9cde6"/>
<rect x="107.65" y="355.15" width="16.25" height="10.70" fill="#b8a8d3"/>
<rect x="123.30" y="355.15" width="16.25" height="10.70" fill="#d2c6e2"/>
<rect x="138.95" y="355.15" width="16.25" height="10.70" fill="#a090c6"/>
<rect x="154.60" y="355.15" width="16.25" height="10.70" fill="#c2b3d9"/>
<rect x="170.25" y="355.15" width="16.25" height="10.70" fill="#c0b0d8"/>
<rect x="185.90" y="355.15" width="16.25" height="10.70" fill="#ede9f4"/>
<rect x="201.55" y="355.15" width="16.25" height="10.70" fill="#d7cbe5"/>
<rect x="217.20" y="355.15" width="16.25" height="10.70" fill="#9d8dc4"/>
<rect x="232.85" y="355.15" width="16.25" height="10.70" fill="#b3a3d0"/>
<rect x="248.50" y="355.15" width="16.25" height="10.70" fill="#d3c6e2"/>
<rect x="264.15" y="355.15" width="16.25" height="10.70" fill="#ece6f3"/>
<rect x="279.80" y="355.15" width="16.25" height="10.70" fill="#d3c6e2"/>
<rect x="295.45" y="355.15" width="16.25" height="10.70" fill="#c0b1d8"/>
<rect x="311.10" y="355.15" width="16.25" height="10.70" fill="#ede7f4"/>
<rect x="326.75" y="355.15" width="16.25" height="10.70" fill="#ddd3e9"/>
<rect x="342.40" y="355.15" width="16.25" height="10.70" fill="#ffffff"/>
<rect x="358.05" y="355.15" width="16.25" height="10.70" fill="#cbbde0"/>
<rect x="373.70" y="355.15" width="16.25" height="10.70" fill="#c9bbde"/>
<rect x="389.35" y="355.15" width="16.25" height="10.70" fill="#e6ddee"/>
<rect x="405.00" y="355.15" width="16.25" height="10.70" fill="#e6ddee"/>
<rect x="420.65" y="355.15" width="16.25" height="10.70" fill="#d7cbe5"/>
<rect x="436.30" y="355.15" width="16.25" height="10.70" fill="#dfd5e9"/>
<rect x="451.95" y="355.15" width="16.25" height="10.70" fill="#f4f2f8"/>
<rect x="467.60" y="355.15" width="16.25" height="10.70" fill="#ece6f3"/>
<rect x="483.25" y="355.15" width="16.25" height="10.70" fill="#f2eff6"/>
<rect x="498.90" y="355.15" width="16.25" height="10.70" fill="#fce2d9"/>
<rect x="514.55" y="355.15" width="16.25" height="10.70" fill="#e3d9ec"/>
<rect x="530.20" y="355.15" width="16.25" height="10.70" fill="#ede7f3"/>
<rect x="545.85" y="355.15" width="15.65" height="10.70" fill="#e1d6ea"/>
<rect x="92.00" y="365.25" width="16.25" height="10.70" fill="#fbd8cb"/>
<rect x="107.65" y="365.25" width="16.25" height="10.70" fill="#ebe4f1"/>
<rect x="123.30" y="365.25" width="16.25" height="10.70" fill="#fefafa"/>
<rect x="138.95" y="365.25" width="16.25" height="10.70" fill="#e3daeb"/>
<rect x="154.60" y="365.25" width="16.25" height="10.70" fill="#fdede7"/>
<rect x="170.25" y="365.25" width="16.25" height="10.70" fill="#fef5f2"/>
<rect x="185.90" y="365.25" width="16.25" height="10.70" fill="#f9c8b9"/>
<rect x="201.55" y="365.25" width="16.25" height="10.70" fill="#fde9e2"/>
<rect x="217.20" y="365.25" width="16.25" height="10.70" fill="#e3d9ec"/>
<rect x="232.85" y="365.25" width="16.25" height="10.70" fill="#fef4f0"/>
<rect x="248.50" y="365.25" width="16.25" height="10.70" fill="#fbdcd1"/>
<rect x="264.15" y="365.25" width="16.25" height="10.70" fill="#f9cbbb"/>
<rect x="279.80" y="365.25" width="16.25" height="10.70" fill="#fef9f8"/>
<rect x="295.45" y="365.25" width="16.25" height="10.70" fill="#fce0d6"/>
<rect x="311.10" y="365.25" width="16.25" height="10.70" fill="#f8c0ae"/>
<rect x="326.75" y="365.25" width="16.25" height="10.70" fill="#fdebe4"/>
<rect x="342.40" y="365.25" width="16.25" height="10.70" fill="#fbd4c6"/>
<rect x="358.05" y="365.25" width="16.25" height="10.70" fill="#ece6f2"/>
<rect x="373.70" y="365.25" width="16.25" height="10.70" fill="#f4f2f8"/>
<rect x="389.35" y="365.25" width="16.25" height="10.70" fill="#fef8f7"/>
<rect x="405.00" y="365.25" width="16.25" height="10.70" fill="#f2eff6"/>
<rect x="420.65" y="365.25" width="16.25" height="10.70" fill="#f1edf6"/>
<rect x="436.30" y="365.25" width="16.25" height="10.70" fill="#fef6f4"/>
<rect x="451.95" y="365.25" width="16.25" height="10.70" fill="#f9cbbb"/>
<rect x="467.60" y="365.25" width="16.25" height="10.70" fill="#f1eef6"/>
<rect x="483.25" y="365.25" width="16.25" height="10.70" fill="#fef3ef"/>
<rect x="498.90" y="365.25" width="16.25" height="10.70" fill="#fad6ca"/>
<rect x="514.55" y="365.25" width="16.25" height="10.70" fill="#f7f6fa"/>
<rect x="530.20" y="365.25" width="16.25" height="10.70" fill="#fef3ef"/>
<rect x="545.85" y="365.25" width="15.65" height="10.70" fill="#ede7f3"/>
<rect x="92.00" y="375.35" width="16.25" height="10.70" fill="#f9c9ba"/>
<rect x="107.65" y="375.35" width="16.25" height="10.70" fill="#f4f3f8"/>
<rect x="123.30" y="375.35" width="16.25" height="10.70" fill="#fef3ef"/>
<rect x="138.95" y="375.35" width="16.25" height="10.70" fill="#ebe5f2"/>
<rect x="154.60" y="375.35" width="16.25" height="10.70" fill="#fbddd3"/>
<rect x="170.25" y="375.35" width="16.25" height="10.70" fill="#fce3da"/>
<rect x="185.90" y="375.35" width="16.25" height="10.70" fill="#f8c3b2"/>
<rect x="201.55" y="375.35" width="16.25" height="10.70" fill="#fbdad0"/>
<rect x="217.20" y="375.35" width="16.25" height="10.70" fill="#f4f2f8"/>
<rect x="232.85" y="375.35" width="16.25" height="10.70" fill="#fce5dc"/>
<rect x="248.50" y="375.35" width="16.25" height="10.70" fill="#f9cdbe"/>
<rect x="264.15" y="375.35" width="16.25" height="10.70" fill="#f7bba8"/>
<rect x="279.80" y="375.35" width="16.25" height="10.70" fill="#fde9e1"/>
<rect x="295.45" y="375.35" width="16.25" height="10.70" fill="#fad3c6"/>
<rect x="311.10" y="375.35" width="16.25" height="10.70" fill="#f6b09b"/>
<rect x="326.75" y="375.35" width="16.25" height="10.70" fill="#fcdfd5"/>
<rect x="342.40" y="375.35" width="16.25" height="10.70" fill="#f9c7b6"/>
<rect x="358.05" y="375.35" width="16.25" height="10.70" fill="#ffffff"/>
<rect x="373.70" y="375.35" width="16.25" height="10.70" fill="#fef4f0"/>
<rect x="389.35" y="375.35" width="16.25" height="10.70" fill="#fce8e0"/>
<rect x="405.00" y="375.35" width="16.25" height="10.70" fill="#fdefe9"/>
<rect x="420.65" y="375.35" width="16.25" height="10.70" fill="#fef8f7"/>
<rect x="436.30" y="375.35" width="16.25" height="10.70" fill="#fce2d9"/>
<rect x="451.95" y="375.35" width="16.25" height="10.70" fill="#f8c1af"/>
<rect x="467.60" y="375.35" width="16.25" height="10.70" fill="#f1eef6"/>
<rect x="483.25" y="375.35" width="16.25" height="10.70" fill="#fbd8cb"/>
<rect x="498.90" y="375.35" width="16.25" height="10.70" fill="#f9cabb"/>
<rect x="514.55" y="375.35" width="16.25" height="10.70" fill="#fef3ef"/>
<rect x="530.20" y="375.35" width="16.25" height="10.70" fill="#fbd9cd"/>
<rect x="545.85" y="375.35" width="15.65" height="10.70" fill="#f4f2f8"/>
<rect x="92.00" y="385.45" width="16.25" height="10.70" fill="#f9cabb"/>
<rect x="107.65" y="385.45" width="16.25" height="10.70" fill="#f4f3f8"/>
<rect x="123.30" y="385.45" width="16.25" height="10.70" fill="#fdefe6"/>
<rect x="138.95" y="385.45" width="16.25" height="10.70" fill="#ebe5f2"/>
<rect x="154.60" y="385.45" width="16.25" height="10.70" fill="#fbdbd0"/>
<rect x="170.25" y="385.45" width="16.25" height="10.70" fill="#fce1d7"/>
<rect x="185.90" y="385.45" width="16.25" height="10.70" fill="#f7b8a5"/>
<rect x="201.55" y="385.45" width="16.25" height="10.70" fill="#fbdbd0"/>
<rect x="217.20" y="385.45" width="16.25" height="10.70" fill="#ffffff"/>
<rect x="232.85" y="385.45" width="16.25" height="10.70" fill="#fbdcd2"/>
<rect x="248.50" y="385.45" width="16.25" height="10.70" fill="#f9c9ba"/>
<rect x="264.15" y="385.45" width="16.25" height="10.70" fill="#f7b9a6"/>
<rect x="279.80" y="385.45" width="16.25" height="10.70" fill="#fbdcd2"/>
<rect x="295.45" y="385.45" width="16.25" height="10.70" fill="#f9cdbf"/>
<rect x="311.10" y="385.45" width="16.25" height="10.70" fill="#f5a994"/>
<rect x="326.75" y="385.45" width="16.25" height="10.70" fill="#fbdcd1"/>
<rect x="342.40" y="385.45" width="16.25" height="10.70" fill="#f9c7b6"/>
<rect x="358.05" y="385.45" width="16.25" height="10.70" fill="#ffffff"/>
<rect x="373.70" y="385.45" width="16.25" height="10.70" fill="#fef5f2"/>
<rect x="389.35" y="385.45" width="16.25" height="10.70" fill="#fdf1ec"/>
<rect x="405.00" y="385.45" width="16.25" height="10.70" fill="#fef4f0"/>
<rect x="420.65" y="385.45" width="16.25" height="10.70" fill="#fef6f4"/>
<rect x="436.30" y="385.45" width="16.25" height="10.70" fill="#fce2d9"/>
<rect x="451.95" y="385.45" width="16.25" height="10.70" fill="#f8c1af"/>
<rect x="467.60" y="385.45" width="16.25" height="10.70" fill="#e3daeb"/>
<rect x="483.25" y="385.45" width="16.25" height="10.70" fill="#fce3da"/>
<rect x="498.90" y="385.45" width="16.25" height="10.70" fill="#f9c9ba"/>
<rect x="514.55" y="385.45" width="16.25" height="10.70" fill="#f7f6fa"/>
<rect x="530.20" y="385.45" width="16.25" height="10.70" fill="#fad6ca"/>
<rect x="545.85" y="385.45" width="15.65" height="10.70" fill="#f4f2f8"/>
<rect x="92.00" y="395.55" width="16.25" height="10.70" fill="#f9ccbd"/>
<rect x="107.65" y="395.55" width="16.25" height="10.70" fill="#efebf4"/>
<rect x="123.30" y="395.55" width="16.25" height="10.70" fill="#fef5f1"/>
<rect x="138.95" y="395.55" width="16.25" height="10.70" fill="#e5dced"/>
<rect x="154.60" y="395.55" width="16.25" height="10.70" fill="#fbdbd0"/>
<rect x="170.25" y="395.55" width="16.25" height="10.70" fill="#fde7df"/>
<rect x="185.90" y="395.55" width="16.25" height="10.70" fill="#f8c1af"/>
<rect x="201.55" y="395.55" width="16.25" height="10.70" fill="#fad8cc"/>
<rect x="217.20" y="395.55" width="16.25" height="10.70" fill="#ffffff"/>
<rect x="232.85" y="395.55" width="16.25" height="10.70" fill="#fbdcd2"/>
<rect x="248.50" y="395.55" width="16.25" height="10.70" fill="#f9cbbd"/>
<rect x="264.15" y="395.55" width="16.25" height="10.70" fill="#f7b9a6"/>
<rect x="279.80" y="395.55" width="16.25" height="10.70" fill="#fce8df"/>
<rect x="295.45" y="395.55" width="16.25" height="10.70" fill="#f9cbbd"/>
<rect x="311.10" y="395.55" width="16.25" height="10.70" fill="#f5a893"/>
<rect x="326.75" y="395.55" width="16.25" height="10.70" fill="#fad7cb"/>
<rect x="342.40" y="395.55" width="16.25" height="10.70" fill="#f9c7b6"/>
<rect x="358.05" y="395.55" width="16.25" height="10.70" fill="#fef9f9"/>
<rect x="373.70" y="395.55" width="16.25" height="10.70" fill="#fef5f2"/>
<rect x="389.35" y="395.55" width="16.25" height="10.70" fill="#fffffc"/>
<rect x="405.00" y="395.55" width="16.25" height="10.70" fill="#f5f3f8"/>
<rect x="420.65" y="395.55" width="16.25" height="10.70" fill="#fef9f8"/>
<rect x="436.30" y="395.55" width="16.25" height="10.70" fill="#fce6de"/>
<rect x="451.95" y="395.55" width="16.25" height="10.70" fill="#f8c5b4"/>
<rect x="467.60" y="395.55" width="16.25" height="10.70" fill="#e3daeb"/>
<rect x="483.25" y="395.55" width="16.25" height="10.70" fill="#f5f3f8"/>
<rect x="498.90" y="395.55" width="16.25" height="10.70" fill="#fad3c6"/>
<rect x="514.55" y="395.55" width="16.25" height="10.70" fill="#ffffff"/>
<rect x="530.20" y="395.55" width="16.25" height="10.70" fill="#fef6f4"/>
<rect x="545.85" y="395.55" width="15.65" height="10.70" fill="#ede7f3"/>
<rect x="92.00" y="405.65" width="16.25" height="10.70" fill="#f9c9ba"/>
<rect x="107.65" y="405.65" width="16.25" height="10.70" fill="#ffffff"/>
<rect x="123.30" y="405.65" width="16.25" height="10.70" fill="#fdece4"/>
<rect x="138.95" y="405.65" width="16.25" height="10.70" fill="#f3f1f7"/>
<rect x="154.60" y="405.65" width="16.25" height="10.70" fill="#fad1c4"/>
<rect x="170.25" y="405.65" width="16.25" height="10.70" fill="#fad5c9"/>
<rect x="185.90" y="405.65" width="16.25" height="10.70" fill="#f6b09b"/>
<rect x="201.55" y="405.65" width="16.25" height="10.70" fill="#f9cdbf"/>
<rect x="217.20" y="405.65" width="16.25" height="10.70" fill="#fef3ef"/>
<rect x="232.85" y="405.65" width="16.25" height="10.70" fill="#fbd7cb"/>
<rect x="248.50" y="405.65" width="16.25" height="10.70" fill="#f9cabb"/>
<rect x="264.15" y="405.65" width="16.25" height="10.70" fill="#f7b8a5"/>
<rect x="279.80" y="405.65" width="16.25" height="10.70" fill="#fbdcd1"/>
<rect x="295.45" y="405.65" width="16.25" height="10.70" fill="#f9cbbc"/>
<rect x="311.10" y="405.65" width="16.25" height="10.70" fill="#f49d85"/>
<rect x="326.75" y="405.65" width="16.25" height="10.70" fill="#fbdcd0"/>
<rect x="342.40" y="405.65" width="16.25" height="10.70" fill="#f9c7b6"/>
<rect x="358.05" y="405.65" width="16.25" height="10.70" fill="#fdeee7"/>
<rect x="373.70" y="405.65" width="16.25" height="10.70" fill="#fef3f0"/>
<rect x="389.35" y="405.65" width="16.25" height="10.70" fill="#fef6f2"/>
<rect x="405.00" y="405.65" width="16.25" height="10.70" fill="#fdeeea"/>
<rect x="420.65" y="405.65" width="16.25" height="10.70" fill="#fffffc"/>
<rect x="436.30" y="405.65" width="16.25" height="10.70" fill="#fce5dc"/>
<rect x="451.95" y="405.65" width="16.25" height="10.70" fill="#f6ae99"/>
<rect x="467.60" y="405.65" width="16.25" height="10.70" fill="#ece6f3"/>
<rect x="483.25" y="405.65" width="16.25" height="10.70" fill="#fef3ef"/>
<rect x="498.90" y="405.65" width="16.25" height="10.70" fill="#f9cbbc"/>
<rect x="514.55" y="405.65" width="16.25" height="10.70" fill="#fdece6"/>
<rect x="530.20" y="405.65" width="16.25" height="10.70" fill="#fce0d6"/>
<rect x="545.85" y="405.65" width="15.65" height="10.70" fill="#ede7f3"/>
<rect x="92.00" y="415.75" width="16.25" height="10.70" fill="#fbdad0"/>
<rect x="107.65" y="415.75" width="16.25" height="10.70" fill="#f4f3f8"/>
<rect x="123.30" y="415.75" width="16.25" height="10.70" fill="#ebe5f2"/>
<rect x="138.95" y="415.75" width="16.25" height="10.70" fill="#ebe5f2"/>
<rect x="154.60" y="415.75" width="16.25" height="10.70" fill="#fbdcd2"/>
<rect x="170.25" y="415.75" width="16.25" height="10.70" fill="#fce3da"/>
<rect x="185.90" y="415.75" width="16.25" height="10.70" fill="#f6b19c"/>
<rect x="201.55" y="415.75" width="16.25" height="10.70" fill="#f9c6b6"/>
<rect x="217.20" y="415.75" width="16.25" height="10.70" fill="#fef7f4"/>
<rect x="232.85" y="415.75" width="16.25" height="10.70" fill="#ffffff"/>
<rect x="248.50" y="415.75" width="16.25" height="10.70" fill="#fde9e1"/>
<rect x="264.15" y="415.75" width="16.25" height="10.70" fill="#fad6ca"/>
<rect x="279.80" y="415.75" width="16.25" height="10.70" fill="#fef5f3"/>
<rect x="295.45" y="415.75" width="16.25" height="10.70" fill="#f9cabb"/>
<rect x="311.10" y="415.75" width="16.25" height="10.70" fill="#f6ae99"/>
<rect x="326.75" y="415.75" width="16.25" height="10.70" fill="#fde6dd"/>
<rect x="342.40" y="415.75" width="16.25" height="10.70" fill="#f9c7b6"/>
<rect x="358.05" y="415.75" width="16.25" height="10.70" fill="#fef6f4"/>
<rect x="373.70" y="415.75" width="16.25" height="10.70" fill="#fdebe3"/>
<rect x="389.35" y="415.75" width="16.25" height="10.70" fill="#fdede6"/>
<rect x="405.00" y="415.75" width="16.25" height="10.70" fill="#f5f3f8"/>
<rect x="420.65" y="415.75" width="16.25" height="10.70" fill="#fdede6"/>
<rect x="436.30" y="415.75" width="16.25" height="10.70" fill="#f5f3f8"/>
<rect x="451.95" y="415.75" width="16.25" height="10.70" fill="#f6b09c"/>
<rect x="467.60" y="415.75" width="16.25" height="10.70" fill="#d5c9e4"/>
<rect x="483.25" y="415.75" width="16.25" height="10.70" fill="#d9cde6"/>
<rect x="498.90" y="415.75" width="16.25" height="10.70" fill="#fce2d9"/>
<rect x="514.55" y="415.75" width="16.25" height="10.70" fill="#fef6f4"/>
<rect x="530.20" y="415.75" width="16.25" height="10.70" fill="#ffffff"/>
<rect x="545.85" y="415.75" width="15.65" height="10.70" fill="#f4f2f8"/>
<rect x="92.00" y="425.85" width="16.25" height="10.10" fill="#4452a0"/>
<rect x="107.65" y="425.85" width="16.25" height="10.10" fill="#3f4c9c"/>
<rect x="123.30" y="425.85" width="16.25" height="10.10" fill="#6d6aae"/>
<rect x="138.95" y="425.85" width="16.25" height="10.10" fill="#6664ac"/>
<rect x="154.60" y="425.85" width="16.25" height="10.10" fill="#7d77b5"/>
<rect x="170.25" y="425.85" width="16.25" height="10.10" fill="#7f79b6"/>
<rect x="185.90" y="425.85" width="16.25" height="10.10" fill="#8078b6"/>
<rect x="201.55" y="425.85" width="16.25" height="10.10" fill="#8078b6"/>
<rect x="217.20" y="425.85" width="16.25" height="10.10" fill="#4a519e"/>
<rect x="232.85" y="425.85" width="16.25" height="10.10" fill="#6c68ad"/>
<rect x="248.50" y="425.85" width="16.25" height="10.10" fill="#7a74b4"/>
<rect x="264.15" y="425.85" width="16.25" height="10.10" fill="#5d5ba6"/>
<rect x="279.80" y="425.85" width="16.25" height="10.10" fill="#5e5ca7"/>
<rect x="295.45" y="425.85" width="16.25" height="10.10" fill="#6a66ab"/>
<rect x="311.10" y="425.85" width="16.25" height="10.10" fill="#5f5da8"/>
<rect x="326.75" y="425.85" width="16.25" height="10.10" fill="#7d76b5"/>
<rect x="342.40" y="425.85" width="16.25" height="10.10" fill="#3c4f9e"/>
<rect x="358.05" y="425.85" width="16.25" height="10.10" fill="#4f54a2"/>
<rect x="373.70" y="425.85" width="16.25" height="10.10" fill="#5755a4"/>
<rect x="389.35" y="425.85" width="16.25" height="10.10" fill="#244d99"/>
<rect x="405.00" y="425.85" width="16.25" height="10.10" fill="#4b4f9f"/>
<rect x="420.65" y="425.85" width="16.25" height="10.10" fill="#5150a1"/>
<rect x="436.30" y="425.85" width="16.25" height="10.10" fill="#8a80bb"/>
<rect x="451.95" y="425.85" width="16.25" height="10.10" fill="#b0a0cd"/>
<rect x="467.60" y="425.85" width="16.25" height="10.10" fill="#f9c4b3"/>
<rect x="483.25" y="425.85" width="16.25" height="10.10" fill="#e6ddee"/>
<rect x="498.90" y="425.85" width="16.25" height="10.10" fill="#c4b5da"/>
<rect x="514.55" y="425.85" width="16.25" height="10.10" fill="#aea0cd"/>
<rect x="530.20" y="425.85" width="16.25" height="10.10" fill="#f6b19d"/>
<rect x="545.85" y="425.85" width="15.65" height="10.10" fill="#fde7de"/>
<rect x="91.4" y="252.9" width="171.6" height="184" fill="none" stroke="none"/>
<rect x="91.35" y="252.85" width="471.8" height="184.1" fill="none" stroke="#000" stroke-width="1.5"/>
<text x="87.60" y="262.80" font-size="9.8" text-anchor="end" fill="#231f20" stroke="#231f20" stroke-width="0.25" font-style="italic" transform="translate(87.60 262.80) scale(1 1.05) translate(-87.60 -262.80)">DBP</text>
<text x="87.60" y="272.90" font-size="9.8" text-anchor="end" fill="#231f20" stroke="#231f20" stroke-width="0.25" font-style="italic" transform="translate(87.60 272.90) scale(1 1.05) translate(-87.60 -272.90)">CEBPG</text>
<text x="87.60" y="283.00" font-size="9.8" text-anchor="end" fill="#231f20" stroke="#231f20" stroke-width="0.25" font-style="italic" transform="translate(87.60 283.00) scale(1 1.05) translate(-87.60 -283.00)">SNAPC5</text>
<text x="87.60" y="293.10" font-size="9.8" text-anchor="end" fill="#231f20" stroke="#231f20" stroke-width="0.25" font-style="italic" transform="translate(87.60 293.10) scale(1 1.05) translate(-87.60 -293.10)">MLX</text>
<text x="87.60" y="303.20" font-size="9.8" text-anchor="end" fill="#231f20" stroke="#231f20" stroke-width="0.25" font-style="italic" transform="translate(87.60 303.20) scale(1 1.05) translate(-87.60 -303.20)">THAP11</text>
<text x="87.60" y="313.30" font-size="9.8" text-anchor="end" fill="#231f20" stroke="#231f20" stroke-width="0.25" font-style="italic" transform="translate(87.60 313.30) scale(1 1.05) translate(-87.60 -313.30)">E2F5</text>
<text x="87.60" y="323.40" font-size="9.8" text-anchor="end" fill="#231f20" stroke="#231f20" stroke-width="0.25" font-style="italic" transform="translate(87.60 323.40) scale(1 1.05) translate(-87.60 -323.40)">KLF6</text>
<text x="87.60" y="333.50" font-size="9.8" text-anchor="end" fill="#231f20" stroke="#231f20" stroke-width="0.25" font-style="italic" transform="translate(87.60 333.50) scale(1 1.05) translate(-87.60 -333.50)">HMG20B</text>
<text x="87.60" y="343.60" font-size="9.8" text-anchor="end" fill="#231f20" stroke="#231f20" stroke-width="0.25" font-style="italic" transform="translate(87.60 343.60) scale(1 1.05) translate(-87.60 -343.60)">ZBTB24</text>
<text x="87.60" y="353.70" font-size="9.8" text-anchor="end" fill="#231f20" stroke="#231f20" stroke-width="0.25" font-style="italic" transform="translate(87.60 353.70) scale(1 1.05) translate(-87.60 -353.70)">JUN</text>
<text x="87.60" y="363.80" font-size="9.8" text-anchor="end" fill="#231f20" stroke="#231f20" stroke-width="0.25" font-style="italic" transform="translate(87.60 363.80) scale(1 1.05) translate(-87.60 -363.80)">MAFG</text>
<text x="87.60" y="373.90" font-size="9.8" text-anchor="end" fill="#f47c20" stroke="#f47c20" stroke-width="0" font-style="italic" font-weight="bold" transform="translate(87.60 373.90) scale(1 1.05) translate(-87.60 -373.90)">CREB3</text>
<text x="87.60" y="384.00" font-size="9.8" text-anchor="end" fill="#231f20" stroke="#231f20" stroke-width="0.25" font-style="italic" transform="translate(87.60 384.00) scale(1 1.05) translate(-87.60 -384.00)">BRF2</text>
<text x="87.60" y="394.10" font-size="9.8" text-anchor="end" fill="#231f20" stroke="#231f20" stroke-width="0.25" font-style="italic" transform="translate(87.60 394.10) scale(1 1.05) translate(-87.60 -394.10)">DR1</text>
<text x="87.60" y="404.20" font-size="9.8" text-anchor="end" fill="#231f20" stroke="#231f20" stroke-width="0.25" font-style="italic" transform="translate(87.60 404.20) scale(1 1.05) translate(-87.60 -404.20)">ZHX2</text>
<text x="87.60" y="414.30" font-size="9.8" text-anchor="end" fill="#231f20" stroke="#231f20" stroke-width="0.25" font-style="italic" transform="translate(87.60 414.30) scale(1 1.05) translate(-87.60 -414.30)">CREB1</text>
<text x="87.60" y="424.40" font-size="9.8" text-anchor="end" fill="#231f20" stroke="#231f20" stroke-width="0.25" font-style="italic" transform="translate(87.60 424.40) scale(1 1.05) translate(-87.60 -424.40)">SP2</text>
<text x="87.60" y="434.50" font-size="9.8" text-anchor="end" fill="#231f20" stroke="#231f20" stroke-width="0.25" font-style="italic" transform="translate(87.60 434.50) scale(1 1.05) translate(-87.60 -434.50)">YBX1</text>
<path d="M44.40 259.20 L41.70 259.20 L41.70 269.30 L44.40 269.30" fill="none" stroke="#4f7fc4" stroke-width="0.9"/>
<path d="M44.40 279.40 L41.70 279.40 L41.70 289.50 L44.40 289.50" fill="none" stroke="#4f7fc4" stroke-width="0.9"/>
<path d="M41.70 264.25 L40.10 264.25 L40.10 284.45 L41.70 284.45" fill="none" stroke="#4f7fc4" stroke-width="0.9"/>
<path d="M44.40 299.60 L42.00 299.60 L42.00 309.70 L44.40 309.70" fill="none" stroke="#4f7fc4" stroke-width="0.9"/>
<path d="M44.40 319.80 L42.00 319.80 L42.00 329.90 L44.40 329.90" fill="none" stroke="#4f7fc4" stroke-width="0.9"/>
<path d="M42.00 304.65 L41.00 304.65 L41.00 324.85 L42.00 324.85" fill="none" stroke="#4f7fc4" stroke-width="0.9"/>
<path d="M40.10 274.35 L38.20 274.35 L38.20 314.75 L41.00 314.75" fill="none" stroke="#4f7fc4" stroke-width="0.9"/>
<path d="M38.20 294.55 L36.60 294.55 L36.60 340.00 L40.90 340.00" fill="none" stroke="#4f7fc4" stroke-width="0.9"/>
<path d="M36.60 317.27 L33.50 317.27 L33.50 350.10 L40.90 350.10" fill="none" stroke="#4f7fc4" stroke-width="0.9"/>
<path d="M33.50 333.69 L32.30 333.69 L32.30 360.20 L40.90 360.20" fill="none" stroke="#4f7fc4" stroke-width="0.9"/>
<path d="M44.40 370.30 L40.70 370.30 L40.70 380.40 L44.40 380.40" fill="none" stroke="#f47c20" stroke-width="0.9"/>
<path d="M40.70 375.35 L39.80 375.35 L39.80 390.50 L44.40 390.50" fill="none" stroke="#f47c20" stroke-width="0.9"/>
<path d="M44.40 400.60 L41.00 400.60 L41.00 410.70 L44.40 410.70" fill="none" stroke="#f47c20" stroke-width="0.9"/>
<path d="M39.80 382.93 L39.50 382.93 L39.50 405.65 L41.00 405.65" fill="none" stroke="#f47c20" stroke-width="0.9"/>
<path d="M39.50 394.29 L34.50 394.29 L34.50 420.80 L44.40 420.80" fill="none" stroke="#f47c20" stroke-width="0.9"/>
<path d="M32.30 346.94 L20.10 346.94 L20.10 407.54 L34.50 407.54" fill="none" stroke="#f47c20" stroke-width="0.9"/>
<path d="M20.10 377.24 L15.30 377.24 L15.30 430.90 L44.40 430.90" fill="none" stroke="#b8b8b8" stroke-width="0.9"/>
<rect x="575.10" y="254.15" width="21.00" height="10.70" fill="#f28a70"/>
<rect x="605.00" y="254.15" width="22.10" height="10.70" fill="#fcfbff"/>
<rect x="654.20" y="254.15" width="20.00" height="10.70" fill="#f28068"/>
<rect x="575.10" y="264.25" width="21.00" height="10.70" fill="#fde8e0"/>
<rect x="605.00" y="264.25" width="22.10" height="10.70" fill="#eadffa"/>
<rect x="634.70" y="264.25" width="19.50" height="10.70" fill="#ebe5f1"/>
<rect x="654.20" y="264.25" width="20.00" height="10.70" fill="#f49680"/>
<rect x="575.10" y="274.35" width="21.00" height="10.70" fill="#f28a70"/>
<rect x="605.00" y="274.35" width="22.10" height="10.70" fill="#eadffa"/>
<rect x="634.70" y="274.35" width="19.50" height="10.70" fill="#e7dfee"/>
<rect x="654.20" y="274.35" width="20.00" height="10.70" fill="#f28a70"/>
<rect x="575.10" y="284.45" width="21.00" height="10.70" fill="#f49680"/>
<rect x="605.00" y="284.45" width="22.10" height="10.70" fill="#fff6f2"/>
<rect x="634.70" y="284.45" width="19.50" height="10.70" fill="#fef3ee"/>
<rect x="654.20" y="284.45" width="20.00" height="10.70" fill="#f27e66"/>
<rect x="575.10" y="294.55" width="21.00" height="10.70" fill="#f28a70"/>
<rect x="605.00" y="294.55" width="22.10" height="10.70" fill="#eee4fb"/>
<rect x="634.70" y="294.55" width="19.50" height="10.70" fill="#d8cce5"/>
<rect x="654.20" y="294.55" width="20.00" height="10.70" fill="#f6ab98"/>
<rect x="575.10" y="304.65" width="21.00" height="10.70" fill="#7470ae"/>
<rect x="605.00" y="304.65" width="22.10" height="10.70" fill="#fcd9ce"/>
<rect x="634.70" y="304.65" width="19.50" height="10.70" fill="#f0ecf5"/>
<rect x="654.20" y="304.65" width="20.00" height="10.70" fill="#f49a83"/>
<rect x="575.10" y="314.75" width="21.00" height="10.70" fill="#f27d65"/>
<rect x="605.00" y="314.75" width="22.10" height="10.70" fill="#ebe0fb"/>
<rect x="634.70" y="314.75" width="19.50" height="10.70" fill="#e8e0ef"/>
<rect x="654.20" y="314.75" width="20.00" height="10.70" fill="#f49a83"/>
<rect x="575.10" y="324.85" width="21.00" height="10.70" fill="#8880bb"/>
<rect x="605.00" y="324.85" width="22.10" height="10.70" fill="#f2eafc"/>
<rect x="634.70" y="324.85" width="19.50" height="10.70" fill="#e8e0ef"/>
<rect x="654.20" y="324.85" width="20.00" height="10.70" fill="#f49a83"/>
<rect x="575.10" y="334.95" width="21.00" height="10.70" fill="#fbd6ca"/>
<rect x="605.00" y="334.95" width="22.10" height="10.70" fill="#fde8de"/>
<rect x="634.70" y="334.95" width="19.50" height="10.70" fill="#ede8f3"/>
<rect x="654.20" y="334.95" width="20.00" height="10.70" fill="#f49a83"/>
<rect x="575.10" y="345.05" width="21.00" height="10.70" fill="#f4a08b"/>
<rect x="605.00" y="345.05" width="22.10" height="10.70" fill="#fef5f2"/>
<rect x="634.70" y="345.05" width="19.50" height="10.70" fill="#e2d8ea"/>
<rect x="654.20" y="345.05" width="20.00" height="10.70" fill="#f4937c"/>
<rect x="575.10" y="355.15" width="21.00" height="10.70" fill="#fef5f2"/>
<rect x="605.00" y="355.15" width="22.10" height="10.70" fill="#f5f0fd"/>
<rect x="634.70" y="355.15" width="19.50" height="10.70" fill="#c8bade"/>
<rect x="654.20" y="355.15" width="20.00" height="10.70" fill="#f9c5b5"/>
<rect x="575.10" y="365.25" width="21.00" height="10.70" fill="#ee6a52"/>
<rect x="605.00" y="365.25" width="22.10" height="10.70" fill="#f42d15"/>
<rect x="634.70" y="365.25" width="19.50" height="10.70" fill="#ffffff"/>
<rect x="654.20" y="365.25" width="20.00" height="10.70" fill="#f28a70"/>
<rect x="575.10" y="375.35" width="21.00" height="10.70" fill="#f8f6fa"/>
<rect x="605.00" y="375.35" width="22.10" height="10.70" fill="#fefafa"/>
<rect x="634.70" y="375.35" width="19.50" height="10.70" fill="#e7dfee"/>
<rect x="654.20" y="375.35" width="20.00" height="10.70" fill="#f28a70"/>
<rect x="575.10" y="385.45" width="21.00" height="10.70" fill="#b7a8d2"/>
<rect x="605.00" y="385.45" width="22.10" height="10.70" fill="#ede1fd"/>
<rect x="634.70" y="385.45" width="19.50" height="10.70" fill="#fbd6ca"/>
<rect x="654.20" y="385.45" width="20.00" height="10.70" fill="#ef7159"/>
<rect x="575.10" y="395.55" width="21.00" height="10.70" fill="#bdb0d6"/>
<rect x="605.00" y="395.55" width="22.10" height="10.70" fill="#f8f4fe"/>
<rect x="634.70" y="395.55" width="19.50" height="10.70" fill="#fbd2c4"/>
<rect x="654.20" y="395.55" width="20.00" height="10.70" fill="#ec5742"/>
<rect x="575.10" y="405.65" width="21.00" height="10.70" fill="#4a529e"/>
<rect x="605.00" y="405.65" width="22.10" height="10.70" fill="#e6dcfa"/>
<rect x="634.70" y="405.65" width="19.50" height="10.70" fill="#fbd2c4"/>
<rect x="654.20" y="405.65" width="20.00" height="10.70" fill="#ec5742"/>
<rect x="575.10" y="415.75" width="21.00" height="10.70" fill="#7068aa"/>
<rect x="605.00" y="415.75" width="22.10" height="10.70" fill="#fdcbbb"/>
<rect x="634.70" y="415.75" width="19.50" height="10.70" fill="#fbd6ca"/>
<rect x="654.20" y="415.75" width="20.00" height="10.70" fill="#ec5440"/>
<rect x="575.10" y="425.85" width="21.00" height="10.10" fill="#fad0c2"/>
<rect x="605.00" y="425.85" width="22.10" height="10.10" fill="#ede3fc"/>
<rect x="634.70" y="425.85" width="19.50" height="10.10" fill="#2e4f9d"/>
<rect x="654.20" y="425.85" width="20.00" height="10.10" fill="#2e4f9d"/>
<path d="M563.7 252.8 L674.5 252.8 L674.5 437.0 L563.7 437.0" fill="none" stroke="#b4b4b4" stroke-width="1.1"/>
<rect x="90.70" y="443.50" width="16.34" height="12.20" fill="#7f78b6"/>
<rect x="106.44" y="443.50" width="16.34" height="12.20" fill="#5a59a5"/>
<rect x="122.18" y="443.50" width="16.34" height="12.20" fill="#6e6aae"/>
<rect x="137.92" y="443.50" width="16.34" height="12.20" fill="#a295c8"/>
<rect x="153.66" y="443.50" width="16.34" height="12.20" fill="#5856a4"/>
<rect x="169.40" y="443.50" width="16.34" height="12.20" fill="#8279b7"/>
<rect x="185.14" y="443.50" width="16.34" height="12.20" fill="#f7b4a0"/>
<rect x="200.88" y="443.50" width="16.34" height="12.20" fill="#dfd3e8"/>
<rect x="216.62" y="443.50" width="16.34" height="12.20" fill="#dfd3e8"/>
<rect x="232.36" y="443.50" width="16.34" height="12.20" fill="#5c5ba7"/>
<rect x="248.10" y="443.50" width="16.34" height="12.20" fill="#9d90c6"/>
<rect x="263.84" y="443.50" width="16.34" height="12.20" fill="#a799cb"/>
<rect x="279.58" y="443.50" width="16.34" height="12.20" fill="#8a81bb"/>
<rect x="295.32" y="443.50" width="16.34" height="12.20" fill="#8078b6"/>
<rect x="311.06" y="443.50" width="16.34" height="12.20" fill="#7f78b6"/>
<rect x="326.80" y="443.50" width="16.34" height="12.20" fill="#6b67ad"/>
<rect x="342.54" y="443.50" width="16.34" height="12.20" fill="#5655a4"/>
<rect x="358.28" y="443.50" width="16.34" height="12.20" fill="#7c76b5"/>
<rect x="374.02" y="443.50" width="16.34" height="12.20" fill="#7c76b5"/>
<rect x="389.76" y="443.50" width="16.34" height="12.20" fill="#a093c7"/>
<rect x="405.50" y="443.50" width="16.34" height="12.20" fill="#9a8dc4"/>
<rect x="421.24" y="443.50" width="16.34" height="12.20" fill="#5655a4"/>
<rect x="436.98" y="443.50" width="16.34" height="12.20" fill="#5251a2"/>
<rect x="452.72" y="443.50" width="16.34" height="12.20" fill="#7a74b4"/>
<rect x="468.46" y="443.50" width="16.34" height="12.20" fill="#f3f0f6"/>
<rect x="484.20" y="443.50" width="16.34" height="12.20" fill="#3f4d9e"/>
<rect x="499.94" y="443.50" width="16.34" height="12.20" fill="#afa1ce"/>
<rect x="515.68" y="443.50" width="16.34" height="12.20" fill="#8077b6"/>
<rect x="531.42" y="443.50" width="16.34" height="12.20" fill="#8077b6"/>
<rect x="547.16" y="443.50" width="15.74" height="12.20" fill="#7f78b6"/>
<rect x="90.70" y="455.10" width="16.34" height="12.20" fill="#4c52a1"/>
<rect x="106.44" y="455.10" width="16.34" height="12.20" fill="#7c76b5"/>
<rect x="122.18" y="455.10" width="16.34" height="12.20" fill="#4a50a0"/>
<rect x="137.92" y="455.10" width="16.34" height="12.20" fill="#5d5ba7"/>
<rect x="153.66" y="455.10" width="16.34" height="12.20" fill="#5a58a5"/>
<rect x="169.40" y="455.10" width="16.34" height="12.20" fill="#7c76b5"/>
<rect x="185.14" y="455.10" width="16.34" height="12.20" fill="#d0c3e2"/>
<rect x="200.88" y="455.10" width="16.34" height="12.20" fill="#c2b3d9"/>
<rect x="216.62" y="455.10" width="16.34" height="12.20" fill="#b8a8d3"/>
<rect x="232.36" y="455.10" width="16.34" height="12.20" fill="#a597c9"/>
<rect x="248.10" y="455.10" width="16.34" height="12.20" fill="#8c82bc"/>
<rect x="263.84" y="455.10" width="16.34" height="12.20" fill="#7c76b5"/>
<rect x="279.58" y="455.10" width="16.34" height="12.20" fill="#8a81bb"/>
<rect x="295.32" y="455.10" width="16.34" height="12.20" fill="#6462aa"/>
<rect x="311.06" y="455.10" width="16.34" height="12.20" fill="#736eb0"/>
<rect x="326.80" y="455.10" width="16.34" height="12.20" fill="#6c68ad"/>
<rect x="342.54" y="455.10" width="16.34" height="12.20" fill="#716db0"/>
<rect x="358.28" y="455.10" width="16.34" height="12.20" fill="#7d77b5"/>
<rect x="374.02" y="455.10" width="16.34" height="12.20" fill="#8a81bb"/>
<rect x="389.76" y="455.10" width="16.34" height="12.20" fill="#4a51a0"/>
<rect x="405.50" y="455.10" width="16.34" height="12.20" fill="#9a8dc4"/>
<rect x="421.24" y="455.10" width="16.34" height="12.20" fill="#5655a4"/>
<rect x="436.98" y="455.10" width="16.34" height="12.20" fill="#4f50a1"/>
<rect x="452.72" y="455.10" width="16.34" height="12.20" fill="#7a74b4"/>
<rect x="468.46" y="455.10" width="16.34" height="12.20" fill="#f7f5f9"/>
<rect x="484.20" y="455.10" width="16.34" height="12.20" fill="#6c68ad"/>
<rect x="499.94" y="455.10" width="16.34" height="12.20" fill="#9d90c6"/>
<rect x="515.68" y="455.10" width="16.34" height="12.20" fill="#7b75b5"/>
<rect x="531.42" y="455.10" width="16.34" height="12.20" fill="#6864ab"/>
<rect x="547.16" y="455.10" width="15.74" height="12.20" fill="#3f4d9e"/>
<rect x="90.70" y="466.70" width="16.34" height="12.20" fill="#fbcbbc"/>
<rect x="106.44" y="466.70" width="16.34" height="12.20" fill="#e4dcef"/>
<rect x="122.18" y="466.70" width="16.34" height="12.20" fill="#f9c4b3"/>
<rect x="137.92" y="466.70" width="16.34" height="12.20" fill="#fdeee8"/>
<rect x="153.66" y="466.70" width="16.34" height="12.20" fill="#f28a70"/>
<rect x="169.40" y="466.70" width="16.34" height="12.20" fill="#f8bca9"/>
<rect x="185.14" y="466.70" width="16.34" height="12.20" fill="#f8bca9"/>
<rect x="200.88" y="466.70" width="16.34" height="12.20" fill="#f9c8b8"/>
<rect x="216.62" y="466.70" width="16.34" height="12.20" fill="#f9c8b8"/>
<rect x="232.36" y="466.70" width="16.34" height="12.20" fill="#f9c8b8"/>
<rect x="248.10" y="466.70" width="16.34" height="12.20" fill="#fddbd0"/>
<rect x="263.84" y="466.70" width="16.34" height="12.20" fill="#f9c2b1"/>
<rect x="279.58" y="466.70" width="16.34" height="12.20" fill="#fde7df"/>
<rect x="295.32" y="466.70" width="16.34" height="12.20" fill="#f27f67"/>
<rect x="311.06" y="466.70" width="16.34" height="12.20" fill="#f7b09c"/>
<rect x="326.80" y="466.70" width="16.34" height="12.20" fill="#fbdad0"/>
<rect x="342.54" y="466.70" width="16.34" height="12.20" fill="#fef3ef"/>
<rect x="358.28" y="466.70" width="16.34" height="12.20" fill="#ffffff"/>
<rect x="374.02" y="466.70" width="16.34" height="12.20" fill="#fad2c5"/>
<rect x="389.76" y="466.70" width="16.34" height="12.20" fill="#ede5f3"/>
<rect x="405.50" y="466.70" width="16.34" height="12.20" fill="#fbd3c6"/>
<rect x="421.24" y="466.70" width="16.34" height="12.20" fill="#f7f6fa"/>
<rect x="436.98" y="466.70" width="16.34" height="12.20" fill="#fde6dd"/>
<rect x="452.72" y="466.70" width="16.34" height="12.20" fill="#f7b09c"/>
<rect x="468.46" y="466.70" width="16.34" height="12.20" fill="#c8badd"/>
<rect x="484.20" y="466.70" width="16.34" height="12.20" fill="#c4b5da"/>
<rect x="499.94" y="466.70" width="16.34" height="12.20" fill="#f9c8b8"/>
<rect x="515.68" y="466.70" width="16.34" height="12.20" fill="#d4c8e3"/>
<rect x="531.42" y="466.70" width="16.34" height="12.20" fill="#f0ecf5"/>
<rect x="547.16" y="466.70" width="15.74" height="12.20" fill="#a99bcb"/>
<rect x="90.70" y="478.30" width="16.34" height="11.60" fill="#f28a70"/>
<rect x="106.44" y="478.30" width="16.34" height="11.60" fill="#f59e87"/>
<rect x="122.18" y="478.30" width="16.34" height="11.60" fill="#f28570"/>
<rect x="137.92" y="478.30" width="16.34" height="11.60" fill="#fcdbd0"/>
<rect x="153.66" y="478.30" width="16.34" height="11.60" fill="#f59e87"/>
<rect x="169.40" y="478.30" width="16.34" height="11.60" fill="#ee6a52"/>
<rect x="185.14" y="478.30" width="16.34" height="11.60" fill="#e83e30"/>
<rect x="200.88" y="478.30" width="16.34" height="11.60" fill="#ee6a52"/>
<rect x="216.62" y="478.30" width="16.34" height="11.60" fill="#ee6a52"/>
<rect x="232.36" y="478.30" width="16.34" height="11.60" fill="#f28a70"/>
<rect x="248.10" y="478.30" width="16.34" height="11.60" fill="#f28570"/>
<rect x="263.84" y="478.30" width="16.34" height="11.60" fill="#f59e87"/>
<rect x="279.58" y="478.30" width="16.34" height="11.60" fill="#f49a83"/>
<rect x="295.32" y="478.30" width="16.34" height="11.60" fill="#f27f67"/>
<rect x="311.06" y="478.30" width="16.34" height="11.60" fill="#f28a70"/>
<rect x="326.80" y="478.30" width="16.34" height="11.60" fill="#fce0d6"/>
<rect x="342.54" y="478.30" width="16.34" height="11.60" fill="#fdf0ea"/>
<rect x="358.28" y="478.30" width="16.34" height="11.60" fill="#f8bca9"/>
<rect x="374.02" y="478.30" width="16.34" height="11.60" fill="#f9c4b3"/>
<rect x="389.76" y="478.30" width="16.34" height="11.60" fill="#fde7df"/>
<rect x="405.50" y="478.30" width="16.34" height="11.60" fill="#fbd0c2"/>
<rect x="421.24" y="478.30" width="16.34" height="11.60" fill="#fac9b9"/>
<rect x="436.98" y="478.30" width="16.34" height="11.60" fill="#f7bca9"/>
<rect x="452.72" y="478.30" width="16.34" height="11.60" fill="#f07a62"/>
<rect x="468.46" y="478.30" width="16.34" height="11.60" fill="#c4b5da"/>
<rect x="484.20" y="478.30" width="16.34" height="11.60" fill="#dfd5e9"/>
<rect x="499.94" y="478.30" width="16.34" height="11.60" fill="#f9f7fa"/>
<rect x="515.68" y="478.30" width="16.34" height="11.60" fill="#ede7f3"/>
<rect x="531.42" y="478.30" width="16.34" height="11.60" fill="#b5a7d2"/>
<rect x="547.16" y="478.30" width="15.74" height="11.60" fill="#8f85be"/>
<rect x="89.8" y="442.6" width="473.9" height="48.0" fill="none" stroke="#000" stroke-width="1.5"/>
<line x1="327.60" y1="188.50" x2="327.60" y2="437.00" stroke="#111" stroke-width="0.9" stroke-dasharray="1.1 1.1"/>
<line x1="467.50" y1="188.50" x2="467.50" y2="437.00" stroke="#111" stroke-width="0.9" stroke-dasharray="1.1 1.1"/>
<line x1="326.80" y1="443.00" x2="326.80" y2="490.50" stroke="#111" stroke-width="0.9" stroke-dasharray="1.1 1.1"/>
<line x1="467.50" y1="443.00" x2="467.50" y2="490.50" stroke="#111" stroke-width="0.9" stroke-dasharray="1.1 1.1"/>
<rect x="44.5" y="365.3" width="630" height="60.9" fill="none" stroke="#222" stroke-width="1.1" stroke-dasharray="3 2"/>
<text x="48.50" y="469.70" font-size="9.6" text-anchor="middle" fill="#231f20" stroke="#231f20" stroke-width="0.25" transform="rotate(-90 48.50 469.70) translate(48.50 469.70) scale(1 1.05) translate(-48.50 -469.70)">CREB3 target</text>
<line x1="54.40" y1="448.50" x2="54.40" y2="489.40" stroke="#444" stroke-width="0.9"/>
<text x="65.90" y="482.80" font-size="9.0" text-anchor="middle" fill="#231f20" stroke="#231f20" stroke-width="0.25" transform="rotate(-90 65.90 482.80) translate(65.90 482.80) scale(1 1.05) translate(-65.90 -482.80)">ALS</text>
<text x="65.90" y="457.50" font-size="9.0" text-anchor="middle" fill="#231f20" stroke="#231f20" stroke-width="0.25" transform="rotate(-90 65.90 457.50) translate(65.90 457.50) scale(1 1.05) translate(-65.90 -457.50)">FTD</text>
<line x1="71.80" y1="448.50" x2="71.80" y2="467.20" stroke="#444" stroke-width="0.9"/>
<line x1="71.80" y1="470.00" x2="71.80" y2="489.40" stroke="#444" stroke-width="0.9"/>
<text x="81.30" y="453.30" font-size="9.4" text-anchor="middle" fill="#231f20" stroke="#231f20" stroke-width="0.25" transform="rotate(-45 81.30 453.30) translate(81.30 453.30) scale(1 1.05) translate(-81.30 -453.30)">Sp</text>
<text x="83.50" y="465.00" font-size="9.4" text-anchor="middle" fill="#231f20" stroke="#231f20" stroke-width="0.25" transform="rotate(-45 83.50 465.00) translate(83.50 465.00) scale(1 1.05) translate(-83.50 -465.00)">C9</text>
<text x="82.10" y="477.50" font-size="9.4" text-anchor="middle" fill="#231f20" stroke="#231f20" stroke-width="0.25" transform="rotate(-45 82.10 477.50) translate(82.10 477.50) scale(1 1.05) translate(-82.10 -477.50)">Sp</text>
<text x="84.00" y="488.70" font-size="9.4" text-anchor="middle" fill="#231f20" stroke="#231f20" stroke-width="0.25" transform="rotate(-45 84.00 488.70) translate(84.00 488.70) scale(1 1.05) translate(-84.00 -488.70)">C9</text>
<line x1="87.00" y1="449.30" x2="88.60" y2="449.30" stroke="#333" stroke-width="0.7"/>
<line x1="87.00" y1="460.90" x2="88.60" y2="460.90" stroke="#333" stroke-width="0.7"/>
<line x1="87.00" y1="472.50" x2="88.60" y2="472.50" stroke="#333" stroke-width="0.7"/>
<line x1="87.00" y1="484.10" x2="88.60" y2="484.10" stroke="#333" stroke-width="0.7"/>
<linearGradient id="gz" x1="0" y1="1" x2="0" y2="0"><stop offset="0" stop-color="#3a4f9e"/><stop offset="0.33" stop-color="#ffffff"/><stop offset="1" stop-color="#e8332a"/></linearGradient>
<rect x="27.00" y="448.80" width="9.00" height="35.00" fill="url(#gz)"/>
<text x="25.70" y="450.90" font-size="7.9" text-anchor="end" fill="#231f20" stroke="#231f20" stroke-width="0.25" transform="translate(25.70 450.90) scale(1 1.05) translate(-25.70 -450.90)">0.50</text>
<text x="25.70" y="461.80" font-size="7.9" text-anchor="end" fill="#231f20" stroke="#231f20" stroke-width="0.25" transform="translate(25.70 461.80) scale(1 1.05) translate(-25.70 -461.80)">0.25</text>
<text x="25.70" y="472.70" font-size="7.9" text-anchor="end" fill="#231f20" stroke="#231f20" stroke-width="0.25" transform="translate(25.70 472.70) scale(1 1.05) translate(-25.70 -472.70)">0.00</text>
<text x="25.70" y="483.60" font-size="7.9" text-anchor="end" fill="#231f20" stroke="#231f20" stroke-width="0.25" transform="translate(25.70 483.60) scale(1 1.05) translate(-25.70 -483.60)">−0.25</text>
<text x="6.90" y="465.50" font-size="8.6" text-anchor="middle" fill="#231f20" stroke="#231f20" stroke-width="0.25" transform="rotate(-90 6.90 465.50) translate(6.90 465.50) scale(1 1.05) translate(-6.90 -465.50)">Zscore</text>
<linearGradient id="gc" x1="0" y1="0" x2="1" y2="0"><stop offset="0" stop-color="#ef3b2c"/><stop offset="0.45" stop-color="#ffffff"/><stop offset="0.55" stop-color="#d6cfee"/><stop offset="1" stop-color="#34469a"/></linearGradient>
<linearGradient id="gp" x1="0" y1="0" x2="1" y2="0"><stop offset="0" stop-color="#f42d15"/><stop offset="0.72" stop-color="#ffffff"/><stop offset="0.8" stop-color="#ebe2fb"/><stop offset="1" stop-color="#e2d6fa"/></linearGradient>
<rect x="570.60" y="442.70" width="25.10" height="4.80" fill="url(#gc)"/>
<rect x="605.00" y="442.70" width="24.80" height="4.80" fill="url(#gp)"/>
<rect x="637.70" y="442.70" width="34.50" height="4.80" fill="url(#gc)"/>
<text x="572.95" y="449.10" font-size="7.4" text-anchor="end" fill="#231f20" stroke="#231f20" stroke-width="0.25" transform="rotate(-90 572.95 449.10) translate(572.95 449.10) scale(1 1.05) translate(-572.95 -449.10)">500</text>
<text x="586.85" y="449.10" font-size="7.4" text-anchor="end" fill="#231f20" stroke="#231f20" stroke-width="0.25" transform="rotate(-90 586.85 449.10) translate(586.85 449.10) scale(1 1.05) translate(-586.85 -449.10)">400</text>
<text x="599.15" y="449.10" font-size="7.4" text-anchor="end" fill="#231f20" stroke="#231f20" stroke-width="0.25" transform="rotate(-90 599.15 449.10) translate(599.15 449.10) scale(1 1.05) translate(-599.15 -449.10)">300</text>
<text x="610.25" y="449.10" font-size="7.4" text-anchor="end" fill="#231f20" stroke="#231f20" stroke-width="0.25" transform="rotate(-90 610.25 449.10) translate(610.25 449.10) scale(1 1.05) translate(-610.25 -449.10)">3.7</text>
<text x="627.75" y="449.10" font-size="7.4" text-anchor="end" fill="#231f20" stroke="#231f20" stroke-width="0.25" transform="rotate(-90 627.75 449.10) translate(627.75 449.10) scale(1 1.05) translate(-627.75 -449.10)">0.8</text>
<text x="642.05" y="449.10" font-size="7.4" text-anchor="end" fill="#231f20" stroke="#231f20" stroke-width="0.25" transform="rotate(-90 642.05 449.10) translate(642.05 449.10) scale(1 1.05) translate(-642.05 -449.10)">0.5</text>
<text x="657.85" y="449.10" font-size="7.4" text-anchor="end" fill="#231f20" stroke="#231f20" stroke-width="0.25" transform="rotate(-90 657.85 449.10) translate(657.85 449.10) scale(1 1.05) translate(-657.85 -449.10)">0.0</text>
<text x="673.95" y="449.10" font-size="7.4" text-anchor="end" fill="#231f20" stroke="#231f20" stroke-width="0.25" transform="rotate(-90 673.95 449.10) translate(673.95 449.10) scale(1 1.05) translate(-673.95 -449.10)">−0.5</text>
<text x="582.10" y="471.90" font-size="7.4" text-anchor="middle" fill="#231f20" stroke="#231f20" stroke-width="0.25" transform="translate(582.10 471.90) scale(1 1.05) translate(-582.10 -471.90)">Conn.</text>
<text x="614.90" y="471.90" font-size="7.4" text-anchor="middle" fill="#231f20" stroke="#231f20" stroke-width="0.25" transform="translate(614.90 471.90) scale(1 1.05) translate(-614.90 -471.90)">-log10(p)</text>
<text x="650.80" y="471.90" font-size="7.4" text-anchor="middle" fill="#231f20" stroke="#231f20" stroke-width="0.25" transform="translate(650.80 471.90) scale(1 1.05) translate(-650.80 -471.90)">Z-score</text>
<text x="570.50" y="228.00" font-size="9.8" text-anchor="start" fill="#231f20" stroke="#231f20" stroke-width="0.25" transform="rotate(-45 570.50 228.00) translate(570.50 228.00) scale(1 1.05) translate(-570.50 -228.00)">Connectivity</text>
<line x1="583.50" y1="229.70" x2="593.50" y2="233.50" stroke="#93d3d0" stroke-width="0.8"/>
<line x1="583.50" y1="229.70" x2="580.70" y2="242.20" stroke="#93d3d0" stroke-width="0.8"/>
<line x1="578.70" y1="235.60" x2="585.60" y2="237.60" stroke="#93d3d0" stroke-width="0.8"/>
<line x1="585.60" y1="237.60" x2="593.50" y2="233.50" stroke="#93d3d0" stroke-width="0.8"/>
<line x1="593.50" y1="233.50" x2="588.70" y2="245.50" stroke="#93d3d0" stroke-width="0.8"/>
<line x1="585.60" y1="237.60" x2="588.70" y2="245.50" stroke="#93d3d0" stroke-width="0.8"/>
<line x1="580.70" y1="242.20" x2="588.70" y2="245.50" stroke="#93d3d0" stroke-width="0.8"/>
<line x1="578.70" y1="235.60" x2="588.70" y2="245.50" stroke="#93d3d0" stroke-width="0.8"/>
<circle cx="583.50" cy="229.70" r="2.60" fill="#93d3d0"/>
<circle cx="593.50" cy="233.50" r="2.60" fill="#93d3d0"/>
<circle cx="578.70" cy="235.60" r="2.60" fill="#93d3d0"/>
<circle cx="585.60" cy="237.60" r="2.60" fill="#93d3d0"/>
<circle cx="580.70" cy="242.20" r="2.60" fill="#93d3d0"/>
<circle cx="588.70" cy="245.50" r="2.60" fill="#93d3d0"/>
<g transform="translate(624.90 173.40) scale(0.6)"><ellipse cx="0" cy="8.6" rx="3.2" ry="4.3" fill="#231f20"/><path d="M0 11.9 L1.5 11.9 L1.8 14 L7.0 15.2 C8.2 15.8 8.5 17 8.5 19 L8.6 28.8 L8.5 36 C8.6 37.5 8.4 39.2 7.2 39.8 C6.4 39.4 6.2 38 6.3 36 L6.2 28.8 L5.6 21.5 L4.9 25.5 L4.6 30.2 L5.5 36 L4.7 43.2 L3.8 50.4 L3.1 60.4 L3.8 63.0 L0.6 63.7 L0.2 60 L0.1 42 L0 40.3 L-0.1 42 L-0.2 60 L-0.6 63.7 L-3.8 63.0 L-3.1 60.4 L-3.8 50.4 L-4.7 43.2 L-5.5 36 L-4.6 30.2 L-4.9 25.5 L-5.6 21.5 L-6.2 28.8 L-6.3 36 C-6.2 38 -6.4 39.4 -7.2 39.8 C-8.4 39.2 -8.6 37.5 -8.5 36 L-8.6 28.8 L-8.5 19 C-8.5 17 -8.2 15.8 -7.0 15.2 L-1.8 14 L-1.5 11.9 Z" fill="#231f20"/></g>
<g transform="translate(618.6 247.0) rotate(-45) scale(0.63)">
<line x1="0" y1="0" x2="95" y2="0" stroke="#3a4790" stroke-width="1.7"/>
<rect x="0" y="-3.7" width="2.8" height="7.4" fill="#3a4790"/>
<rect x="4.7" y="-3.7" width="3.3" height="7.4" fill="#3a4790"/>
<rect x="9.6" y="-3.7" width="1.5" height="7.4" fill="#3a4790"/>
<rect x="13.7" y="-3.7" width="2.5" height="7.4" fill="#3a4790"/>
<rect x="53.9" y="-3.7" width="2.5" height="7.4" fill="#3a4790"/>
<rect x="58.6" y="-3.7" width="1.2" height="7.4" fill="#3a4790"/>
<rect x="75.8" y="-3.7" width="1.9" height="7.4" fill="#3a4790"/>
<rect x="79.6" y="-3.7" width="1.8" height="7.4" fill="#3a4790"/>
<rect x="83.9" y="-3.7" width="7.2" height="7.4" fill="#3a4790"/>
<rect x="90.3" y="-3.7" width="0.8" height="7.4" fill="#b04060"/>
</g>
<text x="610.50" y="245.50" font-size="9.8" text-anchor="start" fill="#231f20" stroke="#231f20" stroke-width="0.25" transform="rotate(-45 610.50 245.50) translate(610.50 245.50) scale(1 1.05) translate(-610.50 -245.50)">Gene burden</text>
<g transform="translate(657.30 205.60) scale(0.615)"><path d="M24.6 9.4 L25.0 6.4 C25.2 4.9 26.4 4.1 27.4 4.4 C28.0 4.6 28.3 5.0 28.6 5.2 L29.0 4.6 C29.6 4.0 30.6 4.1 31.0 4.9 C33.0 5.5 35.4 6.3 37.0 7.2 C37.8 7.6 38.2 8.2 37.8 8.8 C37.2 9.4 36.4 9.6 35.6 10.0 C34.6 10.8 33.6 11.6 32.4 12.2 C31.0 13.0 29.8 14.8 29.2 16.6 C28.6 18.6 28.2 20.6 27.8 22.6 C27.5 24.0 27.4 25.2 27.8 25.9 C28.6 26.4 29.8 26.6 30.4 27.0 L29.8 27.6 L26.4 27.6 C25.9 26.6 25.8 25.4 25.7 24.2 C25.4 23.4 24.6 23.0 24.2 23.6 C24.0 25.0 24.6 26.4 25.0 27.2 L24.4 27.6 L15.4 27.6 C13.4 27.4 11.8 26.6 11.3 24.6 C10.8 22.0 11.0 18.6 12.6 16.2 C14.4 13.8 17.6 12.8 20.6 12.0 C22.4 11.4 23.8 10.6 24.6 9.4 Z" fill="#000"/><path d="M12.6 26.2 C9.6 26.8 6.0 26.2 4.4 24.0 C3.0 21.8 3.2 18.6 4.6 16.2 C6.4 13.2 10.0 11.2 15.3 9.9" fill="none" stroke="#000" stroke-width="1.05" stroke-linecap="round"/><path d="M34.6 11.0 L33.2 14.2 M35.2 11.2 L34.6 14.6 M35.8 11.0 L36.0 13.8" fill="none" stroke="#bbb" stroke-width="0.35"/></g>
<text x="643.80" y="250.00" font-size="9.8" text-anchor="start" fill="#231f20" stroke="#231f20" stroke-width="0.25" transform="rotate(-45 643.80 250.00) translate(643.80 250.00) scale(1 1.05) translate(-643.80 -250.00)">Pre-S.</text>
<text x="660.50" y="250.50" font-size="9.8" text-anchor="start" fill="#231f20" stroke="#231f20" stroke-width="0.25" transform="rotate(-45 660.50 250.50) translate(660.50 250.50) scale(1 1.05) translate(-660.50 -250.50)">Sympt.</text>
<text x="8.30" y="530.00" font-size="22.5" text-anchor="start" fill="#000" stroke="#000" stroke-width="0" font-weight="bold" transform="translate(8.30 530.00) scale(1 1.05) translate(-8.30 -530.00)">c</text>
<text x="59.90" y="627.90" font-size="12.2" text-anchor="middle" fill="#231f20" stroke="#231f20" stroke-width="0.25" transform="translate(59.90 627.90) scale(1 1.05) translate(-59.90 -627.90)">Gene burden</text>
<g transform="translate(12.20 635.80) rotate(0) scale(1.0)">
<line x1="0" y1="0" x2="95" y2="0" stroke="#3a4790" stroke-width="1.0"/>
<rect x="0" y="-3.7" width="2.8" height="7.4" fill="#3a4790"/>
<rect x="4.7" y="-3.7" width="3.3" height="7.4" fill="#3a4790"/>
<rect x="9.6" y="-3.7" width="1.5" height="7.4" fill="#3a4790"/>
<rect x="13.7" y="-3.7" width="2.5" height="7.4" fill="#3a4790"/>
<rect x="53.9" y="-3.7" width="2.5" height="7.4" fill="#3a4790"/>
<rect x="58.6" y="-3.7" width="1.2" height="7.4" fill="#3a4790"/>
<rect x="75.8" y="-3.7" width="1.9" height="7.4" fill="#3a4790"/>
<rect x="79.6" y="-3.7" width="1.8" height="7.4" fill="#3a4790"/>
<rect x="83.9" y="-3.7" width="7.2" height="7.4" fill="#3a4790"/>
<rect x="90.3" y="-3.7" width="0.8" height="7.4" fill="#b04060"/>
</g>
<line x1="150.20" y1="547.30" x2="150.20" y2="702.00" stroke="#555" stroke-width="0.9"/>
<line x1="147.40" y1="702.00" x2="150.20" y2="702.00" stroke="#555" stroke-width="0.9"/>
<text x="145.20" y="705.50" font-size="9.8" text-anchor="end" fill="#231f20" stroke="#231f20" stroke-width="0.25" transform="translate(145.20 705.50) scale(1 1.05) translate(-145.20 -705.50)">0</text>
<line x1="147.40" y1="670.62" x2="150.20" y2="670.62" stroke="#555" stroke-width="0.9"/>
<text x="145.20" y="674.12" font-size="9.8" text-anchor="end" fill="#231f20" stroke="#231f20" stroke-width="0.25" transform="translate(145.20 674.12) scale(1 1.05) translate(-145.20 -674.12)">1</text>
<line x1="147.40" y1="639.25" x2="150.20" y2="639.25" stroke="#555" stroke-width="0.9"/>
<text x="145.20" y="642.75" font-size="9.8" text-anchor="end" fill="#231f20" stroke="#231f20" stroke-width="0.25" transform="translate(145.20 642.75) scale(1 1.05) translate(-145.20 -642.75)">2</text>
<line x1="147.40" y1="607.88" x2="150.20" y2="607.88" stroke="#555" stroke-width="0.9"/>
<text x="145.20" y="611.38" font-size="9.8" text-anchor="end" fill="#231f20" stroke="#231f20" stroke-width="0.25" transform="translate(145.20 611.38) scale(1 1.05) translate(-145.20 -611.38)">3</text>
<line x1="147.40" y1="576.50" x2="150.20" y2="576.50" stroke="#555" stroke-width="0.9"/>
<text x="145.20" y="580.00" font-size="9.8" text-anchor="end" fill="#231f20" stroke="#231f20" stroke-width="0.25" transform="translate(145.20 580.00) scale(1 1.05) translate(-145.20 -580.00)">4</text>
<line x1="147.40" y1="547.30" x2="150.20" y2="547.30" stroke="#555" stroke-width="0.9"/>
<text x="145.20" y="550.80" font-size="9.8" text-anchor="end" fill="#231f20" stroke="#231f20" stroke-width="0.25" transform="translate(145.20 550.80) scale(1 1.05) translate(-145.20 -550.80)">5</text>
<line x1="156.40" y1="707.40" x2="315.00" y2="707.40" stroke="#555" stroke-width="0.9"/>
<line x1="156.40" y1="707.40" x2="156.40" y2="710.20" stroke="#555" stroke-width="0.9"/>
<text x="156.40" y="719.50" font-size="9.8" text-anchor="middle" fill="#231f20" stroke="#231f20" stroke-width="0.25" transform="translate(156.40 719.50) scale(1 1.05) translate(-156.40 -719.50)">0</text>
<line x1="189.10" y1="707.40" x2="189.10" y2="710.20" stroke="#555" stroke-width="0.9"/>
<text x="189.10" y="719.50" font-size="9.8" text-anchor="middle" fill="#231f20" stroke="#231f20" stroke-width="0.25" transform="translate(189.10 719.50) scale(1 1.05) translate(-189.10 -719.50)">1</text>
<line x1="221.80" y1="707.40" x2="221.80" y2="710.20" stroke="#555" stroke-width="0.9"/>
<text x="221.80" y="719.50" font-size="9.8" text-anchor="middle" fill="#231f20" stroke="#231f20" stroke-width="0.25" transform="translate(221.80 719.50) scale(1 1.05) translate(-221.80 -719.50)">2</text>
<line x1="254.50" y1="707.40" x2="254.50" y2="710.20" stroke="#555" stroke-width="0.9"/>
<text x="254.50" y="719.50" font-size="9.8" text-anchor="middle" fill="#231f20" stroke="#231f20" stroke-width="0.25" transform="translate(254.50 719.50) scale(1 1.05) translate(-254.50 -719.50)">3</text>
<line x1="287.20" y1="707.40" x2="287.20" y2="710.20" stroke="#555" stroke-width="0.9"/>
<text x="287.20" y="719.50" font-size="9.8" text-anchor="middle" fill="#231f20" stroke="#231f20" stroke-width="0.25" transform="translate(287.20 719.50) scale(1 1.05) translate(-287.20 -719.50)">4</text>
<text x="315.50" y="719.50" font-size="9.8" text-anchor="middle" fill="#231f20" stroke="#231f20" stroke-width="0.25" transform="translate(315.50 719.50) scale(1 1.05) translate(-315.50 -719.50)">5</text>
<text x="0" y="0" transform="translate(188.5 730.9) scale(1 1.05)" font-size="9.8" fill="#231f20" stroke="#231f20" stroke-width="0.25">Expected log<tspan font-size="6.2" dy="2.2">10</tspan><tspan dy="-2.2"> P-value</tspan></text>
<text x="0" y="0" font-size="9.8" fill="#231f20" stroke="#231f20" stroke-width="0.25" text-anchor="middle" transform="translate(129.6 622.5) rotate(-90) scale(1 1.05)">Observed log<tspan font-size="6.2" dy="2.2">10</tspan><tspan dy="-2.2"> P-value</tspan></text>
<path d="M208.72 651.80 L238.15 621.68 L254.50 604.74 L267.58 592.19 L276.41 582.15 L283.93 569.20 L289.49 556.94 L293.74 546.72 L298.32 534.45 L301.59 522.19 L304.53 510.80 L306.82 507.00 L306.82 573.58 L290.47 582.77 L276.41 593.13 L254.50 611.01 L238.15 626.07 L208.72 651.80 Z" fill="#e6e6e6"/>
<line x1="156.40" y1="702.00" x2="306.82" y2="558.98" stroke="#222" stroke-width="0.9"/>
<polyline points="156.40,702.00 172.75,686.31 189.10,670.00 202.18,656.51 213.62,643.33 225.07,632.98 234.88,623.56 238.15,619.80 240.11,616.66 242.73,616.03 245.34,614.15 247.31,610.38 248.94,607.88 252.87,604.74 256.13,601.60" fill="none" stroke="#000" stroke-width="2.9" stroke-linecap="round" stroke-linejoin="round"/>
<circle cx="259.80" cy="596.60" r="1.30" fill="#8a8a8a" stroke="#333" stroke-width="0.5"/>
<circle cx="261.40" cy="595.20" r="1.30" fill="#8a8a8a" stroke="#333" stroke-width="0.5"/>
<circle cx="263.40" cy="593.40" r="1.30" fill="#8a8a8a" stroke="#333" stroke-width="0.5"/>
<circle cx="265.60" cy="589.40" r="1.30" fill="#8a8a8a" stroke="#333" stroke-width="0.5"/>
<circle cx="268.00" cy="586.00" r="1.30" fill="#8a8a8a" stroke="#333" stroke-width="0.5"/>
<circle cx="272.60" cy="578.40" r="1.30" fill="#8a8a8a" stroke="#333" stroke-width="0.5"/>
<circle cx="296.60" cy="568.00" r="1.30" fill="#8a8a8a" stroke="#333" stroke-width="0.5"/>
<circle cx="278.70" cy="575.50" r="1.15" fill="#fff" stroke="#555" stroke-width="0.55"/>
<circle cx="281.10" cy="575.50" r="1.15" fill="#fff" stroke="#555" stroke-width="0.55"/>
<circle cx="283.50" cy="575.50" r="1.15" fill="#fff" stroke="#555" stroke-width="0.55"/>
<circle cx="286.40" cy="569.50" r="1.15" fill="#fff" stroke="#555" stroke-width="0.55"/>
<circle cx="290.50" cy="568.70" r="1.15" fill="#fff" stroke="#555" stroke-width="0.55"/>
<line x1="279.10" y1="536.00" x2="305.30" y2="564.50" stroke="#222" stroke-width="0.8"/>
<line x1="249.20" y1="555.50" x2="274.20" y2="575.30" stroke="#222" stroke-width="0.8"/>
<line x1="236.80" y1="577.00" x2="268.70" y2="582.20" stroke="#222" stroke-width="0.8"/>
<circle cx="306.50" cy="567.90" r="1.90" fill="#e02020" stroke="#600" stroke-width="0.4"/>
<circle cx="275.00" cy="575.70" r="1.90" fill="#e02020" stroke="#600" stroke-width="0.4"/>
<circle cx="270.30" cy="582.40" r="1.90" fill="#e02020" stroke="#600" stroke-width="0.4"/>
<text x="280.00" y="536.80" font-size="12.1" text-anchor="end" fill="#231f20" stroke="#231f20" stroke-width="0.25" font-style="italic" transform="translate(280.00 536.80) scale(1 1.05) translate(-280.00 -536.80)">SOD1</text>
<text x="248.30" y="555.60" font-size="12.1" text-anchor="end" fill="#231f20" stroke="#231f20" stroke-width="0.25" font-style="italic" transform="translate(248.30 555.60) scale(1 1.05) translate(-248.30 -555.60)">TBK1</text>
<text x="235.50" y="581.20" font-size="12.1" text-anchor="end" fill="#231f20" stroke="#231f20" stroke-width="0.25" font-style="italic" transform="translate(235.50 581.20) scale(1 1.05) translate(-235.50 -581.20)">CREB3</text>
<text x="342.50" y="530.20" font-size="22.5" text-anchor="start" fill="#000" stroke="#000" stroke-width="0" font-weight="bold" transform="translate(342.50 530.20) scale(1 1.05) translate(-342.50 -530.20)">d</text>
<text x="380.50" y="624.40" font-size="12.2" text-anchor="middle" fill="#231f20" stroke="#231f20" stroke-width="0.25" transform="translate(380.50 624.40) scale(1 1.05) translate(-380.50 -624.40)">seqGWAS</text>
<g transform="translate(343.70 631.20) scale(1.0)">
<path d="M2.8 0 L21.5 0 L23.5 2.0 L25.5 0 L80.2 0 A2.85 2.85 0 0 1 80.2 5.7 L25.5 5.7 L23.5 3.7 L21.5 5.7 L2.8 5.7 A2.85 2.85 0 0 1 2.8 0 Z" fill="#fff" stroke="#555" stroke-width="0.7"/>
<rect x="3.6" y="0.35" width="2.2" height="5.0" fill="#bbb"/>
<rect x="7.6" y="0.35" width="1.4" height="5.0" fill="#ccc"/>
<rect x="10.9" y="0.35" width="1.9" height="5.0" fill="#777"/>
<rect x="13.4" y="0.35" width="2.2" height="5.0" fill="#bbb"/>
<rect x="17.0" y="0.35" width="3.5" height="5.0" fill="#ccc"/>
<rect x="39.3" y="0.35" width="2.8" height="5.0" fill="#bbb"/>
<rect x="43.6" y="0.35" width="1.5" height="5.0" fill="#ccc"/>
<rect x="48.2" y="0.35" width="2.2" height="5.0" fill="#bbb"/>
<rect x="68.3" y="0.35" width="2.1" height="5.0" fill="#ccc"/>
<rect x="72.3" y="0.35" width="5.0" height="5.0" fill="#888"/>
<rect x="35.3" y="-0.9" width="2.8" height="7.5" fill="#111"/>
</g>
<line x1="461.30" y1="527.90" x2="461.30" y2="663.50" stroke="#555" stroke-width="0.9"/>
<line x1="458.60" y1="663.50" x2="461.30" y2="663.50" stroke="#555" stroke-width="0.9"/>
<text x="456.80" y="667.00" font-size="9.8" text-anchor="end" fill="#231f20" stroke="#231f20" stroke-width="0.25" transform="translate(456.80 667.00) scale(1 1.05) translate(-456.80 -667.00)">0</text>
<line x1="458.60" y1="629.60" x2="461.30" y2="629.60" stroke="#555" stroke-width="0.9"/>
<text x="456.80" y="633.10" font-size="9.8" text-anchor="end" fill="#231f20" stroke="#231f20" stroke-width="0.25" transform="translate(456.80 633.10) scale(1 1.05) translate(-456.80 -633.10)">2</text>
<line x1="458.60" y1="595.70" x2="461.30" y2="595.70" stroke="#555" stroke-width="0.9"/>
<text x="456.80" y="599.20" font-size="9.8" text-anchor="end" fill="#231f20" stroke="#231f20" stroke-width="0.25" transform="translate(456.80 599.20) scale(1 1.05) translate(-456.80 -599.20)">4</text>
<line x1="458.60" y1="561.80" x2="461.30" y2="561.80" stroke="#555" stroke-width="0.9"/>
<text x="456.80" y="565.30" font-size="9.8" text-anchor="end" fill="#231f20" stroke="#231f20" stroke-width="0.25" transform="translate(456.80 565.30) scale(1 1.05) translate(-456.80 -565.30)">6</text>
<line x1="458.60" y1="527.90" x2="461.30" y2="527.90" stroke="#555" stroke-width="0.9"/>
<text x="456.80" y="531.40" font-size="9.8" text-anchor="end" fill="#231f20" stroke="#231f20" stroke-width="0.25" transform="translate(456.80 531.40) scale(1 1.05) translate(-456.80 -531.40)">8</text>
<text x="0" y="0" font-size="9.8" fill="#231f20" stroke="#231f20" stroke-width="0.25" text-anchor="middle" transform="translate(442.7 596.0) rotate(-90) scale(1 1.05)">-log<tspan font-size="6.2" dy="2.2">10</tspan><tspan dy="-2.2"> P-value</tspan></text>
<line x1="460.60" y1="538.70" x2="600.00" y2="538.70" stroke="#f5a96a" stroke-width="1.0" stroke-dasharray="3.2 2.2"/>
<line x1="538.30" y1="538.00" x2="538.30" y2="715.00" stroke="#333" stroke-width="0.8" stroke-dasharray="2.6 1.9"/>
<circle cx="512.9" cy="658.0" r="1.3" fill="#2a3672"/>
<circle cx="479.4" cy="661.1" r="1.3" fill="#2a3672"/>
<circle cx="477.5" cy="663.3" r="1.3" fill="#2a3672"/>
<circle cx="527.6" cy="663.0" r="1.3" fill="#2a3672"/>
<circle cx="526.3" cy="661.4" r="1.3" fill="#2a3672"/>
<circle cx="499.5" cy="648.0" r="1.3" fill="#2a3672"/>
<circle cx="546.7" cy="649.7" r="1.3" fill="#2a3672"/>
<circle cx="476.0" cy="660.5" r="1.3" fill="#2a3672"/>
<circle cx="489.0" cy="661.6" r="1.3" fill="#2a3672"/>
<circle cx="578.5" cy="658.9" r="1.3" fill="#2a3672"/>
<circle cx="554.9" cy="659.3" r="1.3" fill="#2a3672"/>
<circle cx="478.2" cy="662.3" r="1.3" fill="#2a3672"/>
<circle cx="560.4" cy="661.5" r="1.3" fill="#2a3672"/>
<circle cx="547.8" cy="662.2" r="1.3" fill="#2a3672"/>
<circle cx="575.6" cy="662.0" r="1.3" fill="#2a3672"/>
<circle cx="546.3" cy="655.8" r="1.3" fill="#2a3672"/>
<circle cx="567.0" cy="642.9" r="1.3" fill="#2a3672"/>
<circle cx="485.5" cy="656.1" r="1.3" fill="#2a3672"/>
<circle cx="490.0" cy="663.3" r="1.3" fill="#2a3672"/>
<circle cx="558.8" cy="654.1" r="1.3" fill="#2a3672"/>
<circle cx="586.4" cy="657.3" r="1.3" fill="#2a3672"/>
<circle cx="549.0" cy="660.3" r="1.3" fill="#2a3672"/>
<circle cx="581.7" cy="655.9" r="1.3" fill="#2a3672"/>
<circle cx="558.3" cy="657.1" r="1.3" fill="#2a3672"/>
<circle cx="556.0" cy="647.5" r="1.3" fill="#2a3672"/>
<circle cx="507.7" cy="657.7" r="1.3" fill="#2a3672"/>
<circle cx="472.8" cy="662.5" r="1.3" fill="#2a3672"/>
<circle cx="485.4" cy="655.8" r="1.3" fill="#2a3672"/>
<circle cx="487.0" cy="660.9" r="1.3" fill="#2a3672"/>
<circle cx="585.9" cy="660.4" r="1.3" fill="#2a3672"/>
<circle cx="543.0" cy="653.3" r="1.3" fill="#2a3672"/>
<circle cx="584.9" cy="660.7" r="1.3" fill="#2a3672"/>
<circle cx="517.6" cy="662.0" r="1.3" fill="#2a3672"/>
<circle cx="493.3" cy="662.1" r="1.3" fill="#2a3672"/>
<circle cx="534.4" cy="662.4" r="1.3" fill="#2a3672"/>
<circle cx="470.3" cy="661.1" r="1.3" fill="#2a3672"/>
<circle cx="545.2" cy="656.5" r="1.3" fill="#2a3672"/>
<circle cx="538.5" cy="659.4" r="1.3" fill="#2a3672"/>
<circle cx="477.0" cy="650.3" r="1.3" fill="#2a3672"/>
<circle cx="586.3" cy="654.3" r="1.3" fill="#2a3672"/>
<circle cx="522.9" cy="658.2" r="1.3" fill="#2a3672"/>
<circle cx="478.1" cy="662.3" r="1.3" fill="#2a3672"/>
<circle cx="491.4" cy="663.2" r="1.3" fill="#2a3672"/>
<circle cx="469.8" cy="662.9" r="1.3" fill="#2a3672"/>
<circle cx="518.2" cy="652.6" r="1.3" fill="#2a3672"/>
<circle cx="551.6" cy="662.0" r="1.3" fill="#2a3672"/>
<circle cx="516.1" cy="662.8" r="1.3" fill="#2a3672"/>
<circle cx="582.9" cy="654.9" r="1.3" fill="#2a3672"/>
<circle cx="534.2" cy="663.1" r="1.3" fill="#2a3672"/>
<circle cx="515.4" cy="654.2" r="1.3" fill="#2a3672"/>
<circle cx="491.3" cy="647.7" r="1.3" fill="#2a3672"/>
<circle cx="540.2" cy="660.6" r="1.3" fill="#2a3672"/>
<circle cx="473.4" cy="643.3" r="1.3" fill="#2a3672"/>
<circle cx="584.8" cy="661.9" r="1.3" fill="#2a3672"/>
<circle cx="518.6" cy="655.7" r="1.3" fill="#2a3672"/>
<circle cx="540.7" cy="661.1" r="1.3" fill="#2a3672"/>
<circle cx="499.5" cy="654.8" r="1.3" fill="#2a3672"/>
<circle cx="577.2" cy="651.8" r="1.3" fill="#2a3672"/>
<circle cx="500.0" cy="661.2" r="1.3" fill="#2a3672"/>
<circle cx="473.7" cy="661.8" r="1.3" fill="#2a3672"/>
<circle cx="504.3" cy="647.0" r="1.3" fill="#2a3672"/>
<circle cx="529.4" cy="653.8" r="1.3" fill="#2a3672"/>
<circle cx="518.4" cy="662.1" r="1.3" fill="#2a3672"/>
<circle cx="496.0" cy="658.4" r="1.3" fill="#2a3672"/>
<circle cx="589.7" cy="653.0" r="1.3" fill="#2a3672"/>
<circle cx="556.8" cy="662.6" r="1.3" fill="#2a3672"/>
<circle cx="557.8" cy="647.8" r="1.3" fill="#2a3672"/>
<circle cx="569.7" cy="662.5" r="1.3" fill="#2a3672"/>
<circle cx="574.9" cy="655.0" r="1.3" fill="#2a3672"/>
<circle cx="599.2" cy="660.8" r="1.3" fill="#2a3672"/>
<circle cx="595.9" cy="661.8" r="1.3" fill="#2a3672"/>
<circle cx="486.7" cy="651.1" r="1.3" fill="#2a3672"/>
<circle cx="577.2" cy="654.3" r="1.3" fill="#2a3672"/>
<circle cx="600.4" cy="661.2" r="1.3" fill="#2a3672"/>
<circle cx="542.9" cy="663.4" r="1.3" fill="#2a3672"/>
<circle cx="599.1" cy="659.6" r="1.3" fill="#2a3672"/>
<circle cx="594.2" cy="652.7" r="1.3" fill="#2a3672"/>
<circle cx="579.8" cy="662.0" r="1.3" fill="#2a3672"/>
<circle cx="508.8" cy="658.9" r="1.3" fill="#2a3672"/>
<circle cx="504.3" cy="662.8" r="1.3" fill="#2a3672"/>
<circle cx="591.0" cy="660.3" r="1.3" fill="#2a3672"/>
<circle cx="547.5" cy="660.3" r="1.3" fill="#2a3672"/>
<circle cx="592.0" cy="659.5" r="1.3" fill="#2a3672"/>
<circle cx="539.5" cy="661.4" r="1.3" fill="#2a3672"/>
<circle cx="494.2" cy="655.1" r="1.3" fill="#2a3672"/>
<circle cx="492.8" cy="656.7" r="1.3" fill="#2a3672"/>
<circle cx="543.9" cy="660.8" r="1.3" fill="#2a3672"/>
<circle cx="543.8" cy="662.8" r="1.3" fill="#2a3672"/>
<circle cx="544.4" cy="662.3" r="1.3" fill="#2a3672"/>
<circle cx="572.7" cy="659.2" r="1.3" fill="#2a3672"/>
<circle cx="571.0" cy="656.9" r="1.3" fill="#2a3672"/>
<circle cx="551.4" cy="659.7" r="1.3" fill="#2a3672"/>
<circle cx="562.1" cy="659.5" r="1.3" fill="#2a3672"/>
<circle cx="533.5" cy="655.3" r="1.3" fill="#2a3672"/>
<circle cx="586.6" cy="657.9" r="1.3" fill="#2a3672"/>
<circle cx="544.3" cy="652.6" r="1.3" fill="#2a3672"/>
<circle cx="488.1" cy="660.4" r="1.3" fill="#2a3672"/>
<circle cx="479.5" cy="663.1" r="1.3" fill="#2a3672"/>
<circle cx="559.0" cy="637.9" r="1.3" fill="#2a3672"/>
<circle cx="490.4" cy="657.8" r="1.3" fill="#2a3672"/>
<circle cx="488.8" cy="661.3" r="1.3" fill="#2a3672"/>
<circle cx="596.7" cy="660.0" r="1.3" fill="#2a3672"/>
<circle cx="601.7" cy="662.0" r="1.3" fill="#2a3672"/>
<circle cx="527.3" cy="661.3" r="1.3" fill="#2a3672"/>
<circle cx="495.9" cy="656.8" r="1.3" fill="#2a3672"/>
<circle cx="472.4" cy="660.4" r="1.3" fill="#2a3672"/>
<circle cx="472.2" cy="658.4" r="1.3" fill="#2a3672"/>
<circle cx="538.0" cy="648.0" r="1.3" fill="#2a3672"/>
<circle cx="574.8" cy="662.5" r="1.3" fill="#2a3672"/>
<circle cx="505.2" cy="655.6" r="1.3" fill="#2a3672"/>
<circle cx="505.8" cy="660.6" r="1.3" fill="#2a3672"/>
<circle cx="591.2" cy="659.5" r="1.3" fill="#2a3672"/>
<circle cx="489.7" cy="649.1" r="1.3" fill="#2a3672"/>
<circle cx="563.1" cy="663.2" r="1.3" fill="#2a3672"/>
<circle cx="561.5" cy="663.1" r="1.3" fill="#2a3672"/>
<circle cx="594.8" cy="655.0" r="1.3" fill="#2a3672"/>
<circle cx="481.0" cy="662.8" r="1.3" fill="#2a3672"/>
<circle cx="584.7" cy="661.3" r="1.3" fill="#2a3672"/>
<circle cx="543.5" cy="661.6" r="1.3" fill="#2a3672"/>
<circle cx="487.0" cy="662.1" r="1.3" fill="#2a3672"/>
<circle cx="484.4" cy="663.2" r="1.3" fill="#2a3672"/>
<circle cx="496.7" cy="661.6" r="1.3" fill="#2a3672"/>
<circle cx="571.0" cy="659.9" r="1.3" fill="#2a3672"/>
<circle cx="493.5" cy="663.4" r="1.3" fill="#2a3672"/>
<circle cx="503.2" cy="656.6" r="1.3" fill="#2a3672"/>
<circle cx="543.2" cy="661.1" r="1.3" fill="#2a3672"/>
<circle cx="594.3" cy="654.5" r="1.3" fill="#2a3672"/>
<circle cx="527.4" cy="654.0" r="1.3" fill="#2a3672"/>
<circle cx="522.2" cy="657.4" r="1.3" fill="#2a3672"/>
<circle cx="600.7" cy="654.1" r="1.3" fill="#2a3672"/>
<circle cx="563.9" cy="660.8" r="1.3" fill="#2a3672"/>
<circle cx="516.1" cy="662.8" r="1.3" fill="#2a3672"/>
<circle cx="479.2" cy="660.8" r="1.3" fill="#2a3672"/>
<circle cx="491.5" cy="653.8" r="1.3" fill="#2a3672"/>
<circle cx="585.8" cy="661.8" r="1.3" fill="#2a3672"/>
<circle cx="502.1" cy="660.3" r="1.3" fill="#2a3672"/>
<circle cx="490.8" cy="661.9" r="1.3" fill="#2a3672"/>
<circle cx="597.9" cy="656.7" r="1.3" fill="#2a3672"/>
<circle cx="502.4" cy="659.7" r="1.3" fill="#2a3672"/>
<circle cx="517.3" cy="661.0" r="1.3" fill="#2a3672"/>
<circle cx="533.0" cy="662.7" r="1.3" fill="#2a3672"/>
<circle cx="537.0" cy="662.4" r="1.3" fill="#2a3672"/>
<circle cx="481.8" cy="663.3" r="1.3" fill="#2a3672"/>
<circle cx="472.8" cy="662.1" r="1.3" fill="#2a3672"/>
<circle cx="547.8" cy="658.4" r="1.3" fill="#2a3672"/>
<circle cx="557.4" cy="652.4" r="1.3" fill="#2a3672"/>
<circle cx="521.7" cy="641.5" r="1.3" fill="#2a3672"/>
<circle cx="489.7" cy="645.9" r="1.3" fill="#2a3672"/>
<circle cx="475.6" cy="644.3" r="1.3" fill="#2a3672"/>
<circle cx="553.4" cy="649.0" r="1.3" fill="#2a3672"/>
<circle cx="488.4" cy="659.8" r="1.3" fill="#2a3672"/>
<circle cx="581.0" cy="644.4" r="1.3" fill="#2a3672"/>
<circle cx="547.6" cy="656.7" r="1.3" fill="#2a3672"/>
<circle cx="562.2" cy="663.3" r="1.3" fill="#2a3672"/>
<circle cx="487.5" cy="662.9" r="1.3" fill="#2a3672"/>
<circle cx="581.1" cy="658.3" r="1.3" fill="#2a3672"/>
<circle cx="553.2" cy="660.0" r="1.3" fill="#2a3672"/>
<circle cx="470.2" cy="651.8" r="1.3" fill="#2a3672"/>
<circle cx="536.8" cy="659.5" r="1.3" fill="#2a3672"/>
<circle cx="478.6" cy="660.9" r="1.3" fill="#2a3672"/>
<circle cx="479.7" cy="656.6" r="1.3" fill="#2a3672"/>
<circle cx="497.1" cy="658.5" r="1.3" fill="#2a3672"/>
<circle cx="520.8" cy="657.5" r="1.3" fill="#2a3672"/>
<circle cx="572.0" cy="658.1" r="1.3" fill="#2a3672"/>
<circle cx="480.1" cy="662.0" r="1.3" fill="#2a3672"/>
<circle cx="568.8" cy="659.1" r="1.3" fill="#2a3672"/>
<circle cx="471.5" cy="661.9" r="1.3" fill="#2a3672"/>
<circle cx="559.3" cy="657.6" r="1.3" fill="#2a3672"/>
<circle cx="508.5" cy="660.2" r="1.3" fill="#2a3672"/>
<circle cx="531.9" cy="651.7" r="1.3" fill="#2a3672"/>
<circle cx="496.3" cy="621.0" r="1.3" fill="#2a3672"/>
<circle cx="472.1" cy="654.5" r="1.3" fill="#2a3672"/>
<circle cx="598.8" cy="661.9" r="1.3" fill="#2a3672"/>
<circle cx="497.8" cy="660.2" r="1.3" fill="#2a3672"/>
<circle cx="547.3" cy="660.8" r="1.3" fill="#2a3672"/>
<circle cx="596.7" cy="654.5" r="1.3" fill="#2a3672"/>
<circle cx="537.6" cy="656.1" r="1.3" fill="#2a3672"/>
<circle cx="500.6" cy="655.9" r="1.3" fill="#2a3672"/>
<circle cx="473.1" cy="659.9" r="1.3" fill="#2a3672"/>
<circle cx="529.8" cy="662.7" r="1.3" fill="#2a3672"/>
<circle cx="515.6" cy="653.9" r="1.3" fill="#2a3672"/>
<circle cx="470.0" cy="648.0" r="1.3" fill="#2a3672"/>
<circle cx="485.8" cy="646.6" r="1.3" fill="#2a3672"/>
<circle cx="589.9" cy="661.1" r="1.3" fill="#2a3672"/>
<circle cx="522.1" cy="646.0" r="1.3" fill="#2a3672"/>
<circle cx="517.8" cy="661.8" r="1.3" fill="#2a3672"/>
<circle cx="476.2" cy="654.0" r="1.3" fill="#2a3672"/>
<circle cx="507.8" cy="660.5" r="1.3" fill="#2a3672"/>
<circle cx="505.2" cy="662.4" r="1.3" fill="#2a3672"/>
<circle cx="519.5" cy="619.7" r="1.3" fill="#2a3672"/>
<circle cx="578.0" cy="650.6" r="1.3" fill="#2a3672"/>
<circle cx="595.1" cy="656.8" r="1.3" fill="#2a3672"/>
<circle cx="476.4" cy="658.3" r="1.3" fill="#2a3672"/>
<circle cx="570.1" cy="661.7" r="1.3" fill="#2a3672"/>
<circle cx="476.3" cy="662.3" r="1.3" fill="#2a3672"/>
<circle cx="532.7" cy="662.2" r="1.3" fill="#2a3672"/>
<circle cx="568.2" cy="659.2" r="1.3" fill="#2a3672"/>
<circle cx="557.2" cy="659.2" r="1.3" fill="#2a3672"/>
<circle cx="522.3" cy="662.6" r="1.3" fill="#2a3672"/>
<circle cx="497.5" cy="653.7" r="1.3" fill="#2a3672"/>
<circle cx="499.1" cy="658.9" r="1.3" fill="#2a3672"/>
<circle cx="488.4" cy="663.0" r="1.3" fill="#2a3672"/>
<circle cx="515.3" cy="662.1" r="1.3" fill="#2a3672"/>
<circle cx="504.2" cy="652.0" r="1.3" fill="#2a3672"/>
<circle cx="569.7" cy="660.7" r="1.3" fill="#2a3672"/>
<circle cx="539.6" cy="662.0" r="1.3" fill="#2a3672"/>
<circle cx="478.1" cy="645.5" r="1.3" fill="#2a3672"/>
<circle cx="486.6" cy="658.3" r="1.3" fill="#2a3672"/>
<circle cx="584.7" cy="661.8" r="1.3" fill="#2a3672"/>
<circle cx="502.9" cy="660.4" r="1.3" fill="#2a3672"/>
<circle cx="596.9" cy="645.6" r="1.3" fill="#2a3672"/>
<circle cx="472.7" cy="657.0" r="1.3" fill="#2a3672"/>
<circle cx="589.1" cy="658.9" r="1.3" fill="#2a3672"/>
<circle cx="469.8" cy="649.8" r="1.3" fill="#2a3672"/>
<circle cx="579.8" cy="628.6" r="1.3" fill="#2a3672"/>
<circle cx="502.9" cy="662.6" r="1.3" fill="#2a3672"/>
<circle cx="539.4" cy="653.1" r="1.3" fill="#2a3672"/>
<circle cx="565.9" cy="655.9" r="1.3" fill="#2a3672"/>
<circle cx="530.7" cy="663.3" r="1.3" fill="#2a3672"/>
<circle cx="574.0" cy="650.2" r="1.3" fill="#2a3672"/>
<circle cx="555.8" cy="662.8" r="1.3" fill="#2a3672"/>
<circle cx="503.3" cy="657.2" r="1.3" fill="#2a3672"/>
<circle cx="484.7" cy="659.6" r="1.3" fill="#2a3672"/>
<circle cx="547.4" cy="662.6" r="1.3" fill="#2a3672"/>
<circle cx="549.9" cy="661.6" r="1.3" fill="#2a3672"/>
<circle cx="531.2" cy="652.1" r="1.3" fill="#2a3672"/>
<circle cx="587.5" cy="662.1" r="1.3" fill="#2a3672"/>
<circle cx="502.7" cy="651.3" r="1.3" fill="#2a3672"/>
<circle cx="510.7" cy="659.9" r="1.3" fill="#2a3672"/>
<circle cx="559.6" cy="661.9" r="1.3" fill="#2a3672"/>
<circle cx="558.7" cy="660.7" r="1.3" fill="#2a3672"/>
<circle cx="474.3" cy="660.6" r="1.3" fill="#2a3672"/>
<circle cx="560.7" cy="655.1" r="1.3" fill="#2a3672"/>
<circle cx="568.3" cy="662.3" r="1.3" fill="#2a3672"/>
<circle cx="599.0" cy="654.5" r="1.3" fill="#2a3672"/>
<circle cx="500.5" cy="656.0" r="1.3" fill="#2a3672"/>
<circle cx="509.1" cy="655.8" r="1.3" fill="#2a3672"/>
<circle cx="494.8" cy="660.7" r="1.3" fill="#2a3672"/>
<circle cx="558.4" cy="661.8" r="1.3" fill="#2a3672"/>
<circle cx="522.2" cy="644.3" r="1.3" fill="#2a3672"/>
<circle cx="488.7" cy="663.2" r="1.3" fill="#2a3672"/>
<circle cx="522.2" cy="621.2" r="1.3" fill="#2a3672"/>
<circle cx="567.4" cy="623.3" r="1.3" fill="#2a3672"/>
<circle cx="513.7" cy="649.1" r="1.3" fill="#2a3672"/>
<circle cx="569.2" cy="657.8" r="1.3" fill="#2a3672"/>
<circle cx="520.2" cy="661.4" r="1.3" fill="#2a3672"/>
<circle cx="492.3" cy="661.8" r="1.3" fill="#2a3672"/>
<circle cx="516.6" cy="661.0" r="1.3" fill="#2a3672"/>
<circle cx="598.2" cy="661.2" r="1.3" fill="#2a3672"/>
<circle cx="579.2" cy="658.2" r="1.3" fill="#2a3672"/>
<circle cx="476.4" cy="661.0" r="1.3" fill="#2a3672"/>
<circle cx="592.3" cy="661.1" r="1.3" fill="#2a3672"/>
<circle cx="589.3" cy="660.7" r="1.3" fill="#2a3672"/>
<circle cx="577.9" cy="663.1" r="1.3" fill="#2a3672"/>
<circle cx="474.4" cy="650.2" r="1.3" fill="#2a3672"/>
<circle cx="504.0" cy="641.9" r="1.3" fill="#2a3672"/>
<circle cx="515.0" cy="646.9" r="1.3" fill="#2a3672"/>
<circle cx="552.0" cy="656.9" r="1.3" fill="#2a3672"/>
<circle cx="512.0" cy="663.5" r="1.3" fill="#2a3672"/>
<circle cx="570.5" cy="651.6" r="1.3" fill="#2a3672"/>
<circle cx="595.4" cy="662.1" r="1.3" fill="#2a3672"/>
<circle cx="533.1" cy="642.2" r="1.3" fill="#2a3672"/>
<circle cx="521.3" cy="660.5" r="1.3" fill="#2a3672"/>
<circle cx="535.5" cy="662.2" r="1.3" fill="#2a3672"/>
<circle cx="576.7" cy="648.5" r="1.3" fill="#2a3672"/>
<circle cx="572.7" cy="661.4" r="1.3" fill="#2a3672"/>
<circle cx="512.4" cy="655.5" r="1.3" fill="#2a3672"/>
<circle cx="480.3" cy="656.2" r="1.3" fill="#2a3672"/>
<circle cx="502.7" cy="663.3" r="1.3" fill="#2a3672"/>
<circle cx="543.4" cy="649.1" r="1.3" fill="#2a3672"/>
<circle cx="587.5" cy="657.8" r="1.3" fill="#2a3672"/>
<circle cx="481.0" cy="659.9" r="1.3" fill="#2a3672"/>
<circle cx="564.3" cy="662.1" r="1.3" fill="#2a3672"/>
<circle cx="525.3" cy="657.6" r="1.3" fill="#2a3672"/>
<circle cx="569.4" cy="649.4" r="1.3" fill="#2a3672"/>
<circle cx="485.9" cy="658.7" r="1.3" fill="#2a3672"/>
<circle cx="545.3" cy="658.6" r="1.3" fill="#2a3672"/>
<circle cx="496.3" cy="662.0" r="1.3" fill="#2a3672"/>
<circle cx="490.2" cy="648.5" r="1.3" fill="#2a3672"/>
<circle cx="513.3" cy="637.8" r="1.3" fill="#2a3672"/>
<circle cx="537.4" cy="657.4" r="1.3" fill="#2a3672"/>
<circle cx="556.8" cy="662.5" r="1.3" fill="#2a3672"/>
<circle cx="533.0" cy="650.7" r="1.3" fill="#2a3672"/>
<circle cx="591.6" cy="661.7" r="1.3" fill="#2a3672"/>
<circle cx="485.7" cy="644.5" r="1.3" fill="#2a3672"/>
<circle cx="547.5" cy="660.7" r="1.3" fill="#2a3672"/>
<circle cx="585.2" cy="661.9" r="1.3" fill="#2a3672"/>
<circle cx="573.4" cy="662.4" r="1.3" fill="#2a3672"/>
<circle cx="549.2" cy="662.2" r="1.3" fill="#2a3672"/>
<circle cx="518.9" cy="662.3" r="1.3" fill="#2a3672"/>
<circle cx="503.8" cy="658.0" r="1.3" fill="#2a3672"/>
<circle cx="496.9" cy="661.4" r="1.3" fill="#2a3672"/>
<circle cx="560.2" cy="661.5" r="1.3" fill="#2a3672"/>
<circle cx="496.9" cy="651.7" r="1.3" fill="#2a3672"/>
<circle cx="478.2" cy="660.9" r="1.3" fill="#2a3672"/>
<circle cx="543.1" cy="663.1" r="1.3" fill="#2a3672"/>
<circle cx="491.6" cy="660.7" r="1.3" fill="#2a3672"/>
<circle cx="507.5" cy="647.4" r="1.3" fill="#2a3672"/>
<circle cx="511.4" cy="661.2" r="1.3" fill="#2a3672"/>
<circle cx="525.3" cy="659.8" r="1.3" fill="#2a3672"/>
<circle cx="496.1" cy="659.9" r="1.3" fill="#2a3672"/>
<circle cx="470.6" cy="658.8" r="1.3" fill="#2a3672"/>
<circle cx="579.1" cy="652.2" r="1.3" fill="#2a3672"/>
<circle cx="531.2" cy="663.4" r="1.3" fill="#2a3672"/>
<circle cx="543.3" cy="654.7" r="1.3" fill="#2a3672"/>
<circle cx="481.7" cy="661.1" r="1.3" fill="#2a3672"/>
<circle cx="537.0" cy="662.3" r="1.3" fill="#2a3672"/>
<circle cx="539.2" cy="662.8" r="1.3" fill="#2a3672"/>
<circle cx="535.1" cy="641.6" r="1.3" fill="#2a3672"/>
<circle cx="496.1" cy="648.4" r="1.3" fill="#2a3672"/>
<circle cx="599.7" cy="663.2" r="1.3" fill="#2a3672"/>
<circle cx="593.2" cy="651.2" r="1.3" fill="#2a3672"/>
<circle cx="552.4" cy="662.0" r="1.3" fill="#2a3672"/>
<circle cx="574.5" cy="660.8" r="1.3" fill="#2a3672"/>
<circle cx="582.5" cy="660.9" r="1.3" fill="#2a3672"/>
<circle cx="498.9" cy="659.7" r="1.3" fill="#2a3672"/>
<circle cx="520.9" cy="662.0" r="1.3" fill="#2a3672"/>
<circle cx="566.4" cy="662.8" r="1.3" fill="#2a3672"/>
<circle cx="544.7" cy="663.3" r="1.3" fill="#2a3672"/>
<circle cx="581.4" cy="658.7" r="1.3" fill="#2a3672"/>
<circle cx="543.1" cy="662.2" r="1.3" fill="#2a3672"/>
<circle cx="525.8" cy="660.6" r="1.3" fill="#2a3672"/>
<circle cx="557.6" cy="660.5" r="1.3" fill="#2a3672"/>
<circle cx="472.9" cy="660.0" r="1.3" fill="#2a3672"/>
<circle cx="501.1" cy="646.8" r="1.3" fill="#2a3672"/>
<circle cx="530.8" cy="660.1" r="1.3" fill="#2a3672"/>
<circle cx="484.1" cy="660.5" r="1.3" fill="#2a3672"/>
<circle cx="482.0" cy="659.7" r="1.3" fill="#2a3672"/>
<circle cx="475.2" cy="663.0" r="1.3" fill="#2a3672"/>
<circle cx="567.5" cy="652.8" r="1.3" fill="#2a3672"/>
<circle cx="477.0" cy="661.0" r="1.3" fill="#2a3672"/>
<circle cx="596.5" cy="653.3" r="1.3" fill="#2a3672"/>
<circle cx="602.5" cy="649.2" r="1.3" fill="#2a3672"/>
<circle cx="495.6" cy="652.6" r="1.3" fill="#2a3672"/>
<circle cx="597.2" cy="661.9" r="1.3" fill="#2a3672"/>
<circle cx="574.8" cy="662.9" r="1.3" fill="#2a3672"/>
<circle cx="516.5" cy="660.3" r="1.3" fill="#2a3672"/>
<circle cx="589.2" cy="654.6" r="1.3" fill="#2a3672"/>
<circle cx="488.9" cy="650.2" r="1.3" fill="#2a3672"/>
<circle cx="497.5" cy="659.8" r="1.3" fill="#2a3672"/>
<circle cx="512.3" cy="662.4" r="1.3" fill="#2a3672"/>
<circle cx="491.3" cy="643.3" r="1.3" fill="#2a3672"/>
<circle cx="589.1" cy="655.4" r="1.3" fill="#2a3672"/>
<circle cx="485.1" cy="658.2" r="1.3" fill="#2a3672"/>
<circle cx="517.7" cy="647.6" r="1.3" fill="#2a3672"/>
<circle cx="547.1" cy="662.8" r="1.3" fill="#2a3672"/>
<circle cx="602.1" cy="660.9" r="1.3" fill="#2a3672"/>
<circle cx="576.0" cy="639.0" r="1.3" fill="#2a3672"/>
<circle cx="546.7" cy="658.2" r="1.3" fill="#2a3672"/>
<circle cx="528.7" cy="656.3" r="1.3" fill="#2a3672"/>
<circle cx="476.2" cy="661.0" r="1.3" fill="#2a3672"/>
<circle cx="554.9" cy="655.6" r="1.3" fill="#2a3672"/>
<circle cx="558.2" cy="663.5" r="1.3" fill="#2a3672"/>
<circle cx="474.3" cy="658.5" r="1.3" fill="#2a3672"/>
<circle cx="527.4" cy="651.6" r="1.3" fill="#2a3672"/>
<circle cx="487.4" cy="657.9" r="1.3" fill="#2a3672"/>
<circle cx="472.8" cy="661.2" r="1.3" fill="#2a3672"/>
<circle cx="484.0" cy="662.2" r="1.3" fill="#2a3672"/>
<circle cx="547.5" cy="662.7" r="1.3" fill="#2a3672"/>
<circle cx="552.9" cy="662.7" r="1.3" fill="#2a3672"/>
<circle cx="594.6" cy="662.7" r="1.3" fill="#2a3672"/>
<circle cx="482.6" cy="652.7" r="1.3" fill="#2a3672"/>
<circle cx="574.0" cy="661.9" r="1.3" fill="#2a3672"/>
<circle cx="471.3" cy="659.2" r="1.3" fill="#2a3672"/>
<circle cx="516.5" cy="660.4" r="1.3" fill="#2a3672"/>
<circle cx="594.6" cy="660.8" r="1.3" fill="#2a3672"/>
<circle cx="590.1" cy="659.5" r="1.3" fill="#2a3672"/>
<circle cx="523.9" cy="663.2" r="1.3" fill="#2a3672"/>
<circle cx="573.5" cy="659.3" r="1.3" fill="#2a3672"/>
<circle cx="595.1" cy="662.3" r="1.3" fill="#2a3672"/>
<circle cx="550.8" cy="658.1" r="1.3" fill="#2a3672"/>
<circle cx="578.1" cy="661.6" r="1.3" fill="#2a3672"/>
<circle cx="509.8" cy="651.9" r="1.3" fill="#2a3672"/>
<circle cx="574.1" cy="663.5" r="1.3" fill="#2a3672"/>
<circle cx="582.3" cy="655.6" r="1.3" fill="#2a3672"/>
<circle cx="568.6" cy="662.2" r="1.3" fill="#2a3672"/>
<circle cx="483.8" cy="663.3" r="1.3" fill="#2a3672"/>
<circle cx="514.5" cy="643.7" r="1.3" fill="#2a3672"/>
<circle cx="582.4" cy="661.9" r="1.3" fill="#2a3672"/>
<circle cx="543.6" cy="657.8" r="1.3" fill="#2a3672"/>
<circle cx="539.5" cy="659.7" r="1.3" fill="#2a3672"/>
<circle cx="598.4" cy="652.4" r="1.3" fill="#2a3672"/>
<circle cx="471.8" cy="662.1" r="1.3" fill="#2a3672"/>
<circle cx="568.9" cy="645.0" r="1.3" fill="#2a3672"/>
<circle cx="513.3" cy="657.4" r="1.3" fill="#2a3672"/>
<circle cx="501.7" cy="652.9" r="1.3" fill="#2a3672"/>
<circle cx="562.1" cy="643.2" r="1.3" fill="#2a3672"/>
<circle cx="532.3" cy="654.9" r="1.3" fill="#2a3672"/>
<circle cx="584.0" cy="656.7" r="1.3" fill="#2a3672"/>
<circle cx="545.8" cy="662.6" r="1.3" fill="#2a3672"/>
<circle cx="552.7" cy="650.8" r="1.3" fill="#2a3672"/>
<circle cx="489.1" cy="662.9" r="1.3" fill="#2a3672"/>
<circle cx="593.5" cy="662.7" r="1.3" fill="#2a3672"/>
<circle cx="473.6" cy="657.3" r="1.3" fill="#2a3672"/>
<circle cx="554.2" cy="656.5" r="1.3" fill="#2a3672"/>
<circle cx="478.6" cy="661.1" r="1.3" fill="#2a3672"/>
<circle cx="578.7" cy="643.3" r="1.3" fill="#2a3672"/>
<circle cx="478.6" cy="641.3" r="1.3" fill="#2a3672"/>
<circle cx="595.6" cy="662.3" r="1.3" fill="#2a3672"/>
<circle cx="484.7" cy="653.6" r="1.3" fill="#2a3672"/>
<circle cx="578.0" cy="654.3" r="1.3" fill="#2a3672"/>
<circle cx="553.9" cy="662.9" r="1.3" fill="#2a3672"/>
<circle cx="482.8" cy="661.0" r="1.3" fill="#2a3672"/>
<circle cx="512.3" cy="663.4" r="1.3" fill="#2a3672"/>
<circle cx="504.0" cy="656.9" r="1.3" fill="#2a3672"/>
<circle cx="518.8" cy="646.0" r="1.3" fill="#2a3672"/>
<circle cx="536.9" cy="657.6" r="1.3" fill="#2a3672"/>
<circle cx="473.9" cy="660.5" r="1.3" fill="#2a3672"/>
<circle cx="572.8" cy="657.1" r="1.3" fill="#2a3672"/>
<circle cx="541.4" cy="656.2" r="1.3" fill="#2a3672"/>
<circle cx="481.9" cy="661.6" r="1.3" fill="#2a3672"/>
<circle cx="470.0" cy="656.0" r="1.3" fill="#2a3672"/>
<circle cx="600.1" cy="660.0" r="1.3" fill="#2a3672"/>
<circle cx="535.3" cy="662.2" r="1.3" fill="#2a3672"/>
<circle cx="535.7" cy="656.9" r="1.3" fill="#2a3672"/>
<circle cx="504.5" cy="660.4" r="1.3" fill="#2a3672"/>
<circle cx="498.4" cy="659.9" r="1.3" fill="#2a3672"/>
<circle cx="484.4" cy="663.1" r="1.3" fill="#2a3672"/>
<circle cx="574.8" cy="655.4" r="1.3" fill="#2a3672"/>
<circle cx="553.4" cy="660.8" r="1.3" fill="#2a3672"/>
<circle cx="522.4" cy="661.7" r="1.3" fill="#2a3672"/>
<circle cx="588.1" cy="662.3" r="1.3" fill="#2a3672"/>
<circle cx="504.9" cy="657.1" r="1.3" fill="#2a3672"/>
<circle cx="520.3" cy="658.1" r="1.3" fill="#2a3672"/>
<circle cx="531.2" cy="656.1" r="1.3" fill="#2a3672"/>
<circle cx="570.1" cy="661.2" r="1.3" fill="#2a3672"/>
<circle cx="513.3" cy="653.8" r="1.3" fill="#2a3672"/>
<circle cx="558.0" cy="661.6" r="1.3" fill="#2a3672"/>
<circle cx="528.2" cy="651.7" r="1.3" fill="#2a3672"/>
<circle cx="486.6" cy="652.1" r="1.3" fill="#2a3672"/>
<circle cx="501.5" cy="661.6" r="1.3" fill="#2a3672"/>
<circle cx="563.5" cy="660.9" r="1.3" fill="#2a3672"/>
<circle cx="490.6" cy="661.4" r="1.3" fill="#2a3672"/>
<circle cx="539.4" cy="662.0" r="1.3" fill="#2a3672"/>
<circle cx="495.0" cy="641.9" r="1.3" fill="#2a3672"/>
<circle cx="483.4" cy="662.3" r="1.3" fill="#2a3672"/>
<circle cx="521.0" cy="631.5" r="1.3" fill="#2a3672"/>
<circle cx="567.5" cy="662.4" r="1.3" fill="#2a3672"/>
<circle cx="554.8" cy="662.3" r="1.3" fill="#2a3672"/>
<circle cx="521.5" cy="660.8" r="1.3" fill="#2a3672"/>
<circle cx="575.2" cy="659.9" r="1.3" fill="#2a3672"/>
<circle cx="554.0" cy="662.7" r="1.3" fill="#2a3672"/>
<circle cx="550.2" cy="656.4" r="1.3" fill="#2a3672"/>
<circle cx="590.7" cy="659.0" r="1.3" fill="#2a3672"/>
<circle cx="569.6" cy="662.1" r="1.3" fill="#2a3672"/>
<circle cx="566.0" cy="639.9" r="1.3" fill="#2a3672"/>
<circle cx="563.1" cy="646.0" r="1.3" fill="#2a3672"/>
<circle cx="555.3" cy="661.5" r="1.3" fill="#2a3672"/>
<circle cx="553.5" cy="660.6" r="1.3" fill="#2a3672"/>
<circle cx="574.0" cy="658.3" r="1.3" fill="#2a3672"/>
<circle cx="503.1" cy="660.3" r="1.3" fill="#2a3672"/>
<circle cx="552.6" cy="657.6" r="1.3" fill="#2a3672"/>
<circle cx="593.7" cy="657.9" r="1.3" fill="#2a3672"/>
<circle cx="573.5" cy="660.0" r="1.3" fill="#2a3672"/>
<circle cx="599.6" cy="659.4" r="1.3" fill="#2a3672"/>
<circle cx="491.2" cy="658.2" r="1.3" fill="#2a3672"/>
<circle cx="483.3" cy="659.4" r="1.3" fill="#2a3672"/>
<circle cx="565.3" cy="658.1" r="1.3" fill="#2a3672"/>
<circle cx="580.2" cy="660.7" r="1.3" fill="#2a3672"/>
<circle cx="596.1" cy="657.4" r="1.3" fill="#2a3672"/>
<circle cx="522.1" cy="660.9" r="1.3" fill="#2a3672"/>
<circle cx="600.9" cy="663.2" r="1.3" fill="#2a3672"/>
<circle cx="506.3" cy="663.4" r="1.3" fill="#2a3672"/>
<circle cx="525.6" cy="657.2" r="1.3" fill="#2a3672"/>
<circle cx="516.7" cy="662.2" r="1.3" fill="#2a3672"/>
<circle cx="568.6" cy="653.1" r="1.3" fill="#2a3672"/>
<circle cx="499.0" cy="657.1" r="1.3" fill="#2a3672"/>
<circle cx="498.0" cy="655.6" r="1.3" fill="#2a3672"/>
<circle cx="577.6" cy="660.2" r="1.3" fill="#2a3672"/>
<circle cx="544.7" cy="651.3" r="1.3" fill="#2a3672"/>
<circle cx="516.8" cy="654.5" r="1.3" fill="#2a3672"/>
<circle cx="578.5" cy="661.7" r="1.3" fill="#2a3672"/>
<circle cx="542.8" cy="656.9" r="1.3" fill="#2a3672"/>
<circle cx="517.1" cy="657.5" r="1.3" fill="#2a3672"/>
<circle cx="519.9" cy="660.6" r="1.3" fill="#2a3672"/>
<circle cx="494.6" cy="656.8" r="1.3" fill="#2a3672"/>
<circle cx="507.3" cy="661.6" r="1.3" fill="#2a3672"/>
<circle cx="533.7" cy="659.8" r="1.3" fill="#2a3672"/>
<circle cx="557.6" cy="649.6" r="1.3" fill="#2a3672"/>
<circle cx="583.6" cy="654.3" r="1.3" fill="#2a3672"/>
<circle cx="590.5" cy="661.3" r="1.3" fill="#2a3672"/>
<circle cx="580.5" cy="663.4" r="1.3" fill="#2a3672"/>
<circle cx="471.3" cy="654.4" r="1.3" fill="#2a3672"/>
<circle cx="503.1" cy="662.7" r="1.3" fill="#2a3672"/>
<circle cx="500.9" cy="658.8" r="1.3" fill="#2a3672"/>
<circle cx="490.1" cy="636.4" r="1.3" fill="#2a3672"/>
<circle cx="492.2" cy="646.8" r="1.3" fill="#2a3672"/>
<circle cx="573.9" cy="651.7" r="1.3" fill="#2a3672"/>
<circle cx="574.8" cy="661.5" r="1.3" fill="#2a3672"/>
<circle cx="562.1" cy="656.4" r="1.3" fill="#2a3672"/>
<circle cx="528.2" cy="652.5" r="1.3" fill="#2a3672"/>
<circle cx="505.0" cy="662.7" r="1.3" fill="#2a3672"/>
<circle cx="535.5" cy="661.2" r="1.3" fill="#2a3672"/>
<circle cx="489.0" cy="659.9" r="1.3" fill="#2a3672"/>
<circle cx="541.7" cy="663.5" r="1.3" fill="#2a3672"/>
<circle cx="581.8" cy="659.2" r="1.3" fill="#2a3672"/>
<circle cx="558.4" cy="658.4" r="1.3" fill="#2a3672"/>
<circle cx="525.6" cy="662.2" r="1.3" fill="#2a3672"/>
<circle cx="554.7" cy="663.3" r="1.3" fill="#2a3672"/>
<circle cx="551.0" cy="649.4" r="1.3" fill="#2a3672"/>
<circle cx="513.8" cy="652.2" r="1.3" fill="#2a3672"/>
<circle cx="534.4" cy="663.3" r="1.3" fill="#2a3672"/>
<circle cx="565.5" cy="661.3" r="1.3" fill="#2a3672"/>
<circle cx="584.6" cy="660.1" r="1.3" fill="#2a3672"/>
<circle cx="539.8" cy="662.1" r="1.3" fill="#2a3672"/>
<circle cx="527.8" cy="659.3" r="1.3" fill="#2a3672"/>
<circle cx="579.9" cy="654.3" r="1.3" fill="#2a3672"/>
<circle cx="523.6" cy="661.8" r="1.3" fill="#2a3672"/>
<circle cx="537.3" cy="657.0" r="1.3" fill="#2a3672"/>
<circle cx="575.3" cy="661.5" r="1.3" fill="#2a3672"/>
<circle cx="509.7" cy="658.2" r="1.3" fill="#2a3672"/>
<circle cx="574.3" cy="656.8" r="1.3" fill="#2a3672"/>
<circle cx="587.8" cy="663.2" r="1.3" fill="#2a3672"/>
<circle cx="509.8" cy="662.4" r="1.3" fill="#2a3672"/>
<circle cx="592.5" cy="657.9" r="1.3" fill="#2a3672"/>
<circle cx="574.9" cy="655.0" r="1.3" fill="#2a3672"/>
<circle cx="551.9" cy="657.2" r="1.3" fill="#2a3672"/>
<circle cx="549.2" cy="662.2" r="1.3" fill="#2a3672"/>
<circle cx="558.6" cy="655.9" r="1.3" fill="#2a3672"/>
<circle cx="483.3" cy="663.3" r="1.3" fill="#2a3672"/>
<circle cx="573.0" cy="653.1" r="1.3" fill="#2a3672"/>
<circle cx="518.9" cy="632.3" r="1.3" fill="#2a3672"/>
<circle cx="544.7" cy="662.2" r="1.3" fill="#2a3672"/>
<circle cx="526.0" cy="660.5" r="1.3" fill="#2a3672"/>
<circle cx="555.3" cy="663.0" r="1.3" fill="#2a3672"/>
<circle cx="545.4" cy="663.0" r="1.3" fill="#2a3672"/>
<circle cx="577.7" cy="650.3" r="1.3" fill="#2a3672"/>
<circle cx="529.3" cy="660.9" r="1.3" fill="#2a3672"/>
<circle cx="548.7" cy="630.0" r="1.3" fill="#2a3672"/>
<circle cx="533.1" cy="663.1" r="1.3" fill="#2a3672"/>
<circle cx="555.6" cy="662.6" r="1.3" fill="#2a3672"/>
<circle cx="471.9" cy="657.5" r="1.3" fill="#2a3672"/>
<circle cx="486.0" cy="662.2" r="1.3" fill="#2a3672"/>
<circle cx="585.6" cy="663.4" r="1.3" fill="#2a3672"/>
<circle cx="565.6" cy="656.6" r="1.3" fill="#2a3672"/>
<circle cx="494.8" cy="655.7" r="1.3" fill="#2a3672"/>
<circle cx="564.8" cy="642.4" r="1.3" fill="#2a3672"/>
<circle cx="481.0" cy="657.0" r="1.3" fill="#2a3672"/>
<circle cx="531.1" cy="660.3" r="1.3" fill="#2a3672"/>
<circle cx="598.2" cy="663.4" r="1.3" fill="#2a3672"/>
<circle cx="471.8" cy="654.6" r="1.3" fill="#2a3672"/>
<circle cx="480.4" cy="656.6" r="1.3" fill="#2a3672"/>
<circle cx="491.9" cy="651.6" r="1.3" fill="#2a3672"/>
<circle cx="477.8" cy="659.0" r="1.3" fill="#2a3672"/>
<circle cx="528.2" cy="662.7" r="1.3" fill="#2a3672"/>
<circle cx="576.0" cy="658.1" r="1.3" fill="#2a3672"/>
<circle cx="553.7" cy="660.9" r="1.3" fill="#2a3672"/>
<circle cx="574.5" cy="649.5" r="1.3" fill="#2a3672"/>
<circle cx="545.3" cy="663.3" r="1.3" fill="#2a3672"/>
<circle cx="599.5" cy="654.3" r="1.3" fill="#2a3672"/>
<circle cx="514.0" cy="643.6" r="1.3" fill="#2a3672"/>
<circle cx="580.5" cy="661.6" r="1.3" fill="#2a3672"/>
<circle cx="526.9" cy="656.4" r="1.3" fill="#2a3672"/>
<circle cx="561.0" cy="651.6" r="1.3" fill="#2a3672"/>
<circle cx="577.4" cy="663.5" r="1.3" fill="#2a3672"/>
<circle cx="504.8" cy="658.9" r="1.3" fill="#2a3672"/>
<circle cx="578.5" cy="663.1" r="1.3" fill="#2a3672"/>
<circle cx="580.8" cy="642.0" r="1.3" fill="#2a3672"/>
<circle cx="546.0" cy="656.5" r="1.3" fill="#2a3672"/>
<circle cx="577.3" cy="650.6" r="1.3" fill="#2a3672"/>
<circle cx="516.0" cy="659.3" r="1.3" fill="#2a3672"/>
<circle cx="576.0" cy="656.2" r="1.3" fill="#2a3672"/>
<circle cx="593.9" cy="658.6" r="1.3" fill="#2a3672"/>
<circle cx="560.1" cy="662.3" r="1.3" fill="#2a3672"/>
<circle cx="503.7" cy="648.5" r="1.3" fill="#2a3672"/>
<circle cx="531.0" cy="654.9" r="1.3" fill="#2a3672"/>
<circle cx="572.7" cy="658.9" r="1.3" fill="#2a3672"/>
<circle cx="589.3" cy="651.1" r="1.3" fill="#2a3672"/>
<circle cx="533.3" cy="662.7" r="1.3" fill="#2a3672"/>
<circle cx="495.4" cy="657.2" r="1.3" fill="#2a3672"/>
<circle cx="518.1" cy="660.8" r="1.3" fill="#2a3672"/>
<circle cx="538.7" cy="663.3" r="1.3" fill="#2a3672"/>
<circle cx="602.6" cy="662.9" r="1.3" fill="#2a3672"/>
<circle cx="554.1" cy="662.0" r="1.3" fill="#2a3672"/>
<circle cx="549.3" cy="659.6" r="1.3" fill="#2a3672"/>
<circle cx="472.5" cy="639.1" r="1.3" fill="#2a3672"/>
<circle cx="585.2" cy="659.1" r="1.3" fill="#2a3672"/>
<circle cx="504.6" cy="658.4" r="1.3" fill="#2a3672"/>
<circle cx="595.9" cy="648.3" r="1.3" fill="#2a3672"/>
<circle cx="598.1" cy="663.3" r="1.3" fill="#2a3672"/>
<circle cx="496.6" cy="663.0" r="1.3" fill="#2a3672"/>
<circle cx="476.6" cy="652.8" r="1.3" fill="#2a3672"/>
<circle cx="530.8" cy="636.4" r="1.3" fill="#2a3672"/>
<circle cx="478.3" cy="660.8" r="1.3" fill="#2a3672"/>
<circle cx="485.8" cy="659.5" r="1.3" fill="#2a3672"/>
<circle cx="545.0" cy="652.0" r="1.3" fill="#2a3672"/>
<circle cx="559.0" cy="660.4" r="1.3" fill="#2a3672"/>
<circle cx="491.1" cy="661.2" r="1.3" fill="#2a3672"/>
<circle cx="474.9" cy="661.2" r="1.3" fill="#2a3672"/>
<circle cx="590.0" cy="635.4" r="1.3" fill="#2a3672"/>
<circle cx="476.1" cy="652.8" r="1.3" fill="#2a3672"/>
<circle cx="555.9" cy="663.0" r="1.3" fill="#2a3672"/>
<circle cx="489.1" cy="656.6" r="1.3" fill="#2a3672"/>
<circle cx="509.6" cy="656.0" r="1.3" fill="#2a3672"/>
<circle cx="483.8" cy="661.9" r="1.3" fill="#2a3672"/>
<circle cx="486.3" cy="662.5" r="1.3" fill="#2a3672"/>
<circle cx="501.6" cy="657.6" r="1.3" fill="#2a3672"/>
<circle cx="471.5" cy="662.4" r="1.3" fill="#2a3672"/>
<circle cx="474.6" cy="661.4" r="1.3" fill="#2a3672"/>
<circle cx="594.2" cy="642.1" r="1.3" fill="#2a3672"/>
<circle cx="488.4" cy="663.0" r="1.3" fill="#2a3672"/>
<circle cx="593.5" cy="653.3" r="1.3" fill="#2a3672"/>
<circle cx="530.1" cy="654.4" r="1.3" fill="#2a3672"/>
<circle cx="533.4" cy="662.9" r="1.3" fill="#2a3672"/>
<circle cx="499.3" cy="656.9" r="1.3" fill="#2a3672"/>
<circle cx="543.5" cy="656.0" r="1.3" fill="#2a3672"/>
<circle cx="505.3" cy="662.6" r="1.3" fill="#2a3672"/>
<circle cx="505.9" cy="659.6" r="1.3" fill="#2a3672"/>
<circle cx="492.2" cy="661.5" r="1.3" fill="#2a3672"/>
<circle cx="590.1" cy="643.3" r="1.3" fill="#2a3672"/>
<circle cx="477.4" cy="653.8" r="1.3" fill="#2a3672"/>
<circle cx="497.9" cy="661.7" r="1.3" fill="#2a3672"/>
<circle cx="504.1" cy="661.1" r="1.3" fill="#2a3672"/>
<circle cx="601.8" cy="641.5" r="1.3" fill="#2a3672"/>
<circle cx="482.8" cy="651.6" r="1.3" fill="#2a3672"/>
<circle cx="477.5" cy="660.4" r="1.3" fill="#2a3672"/>
<circle cx="600.2" cy="654.9" r="1.3" fill="#2a3672"/>
<circle cx="515.2" cy="663.5" r="1.3" fill="#2a3672"/>
<circle cx="580.7" cy="662.4" r="1.3" fill="#2a3672"/>
<circle cx="527.8" cy="660.0" r="1.3" fill="#2a3672"/>
<circle cx="545.9" cy="662.8" r="1.3" fill="#2a3672"/>
<circle cx="572.4" cy="662.3" r="1.3" fill="#2a3672"/>
<circle cx="480.4" cy="658.6" r="1.3" fill="#2a3672"/>
<circle cx="535.8" cy="662.7" r="1.3" fill="#2a3672"/>
<circle cx="551.4" cy="654.7" r="1.3" fill="#2a3672"/>
<circle cx="547.4" cy="663.3" r="1.3" fill="#2a3672"/>
<circle cx="567.4" cy="656.8" r="1.3" fill="#2a3672"/>
<circle cx="477.2" cy="659.9" r="1.3" fill="#2a3672"/>
<circle cx="581.9" cy="655.3" r="1.3" fill="#2a3672"/>
<circle cx="471.9" cy="658.0" r="1.3" fill="#2a3672"/>
<circle cx="586.0" cy="662.4" r="1.3" fill="#2a3672"/>
<circle cx="580.6" cy="662.6" r="1.3" fill="#2a3672"/>
<circle cx="519.2" cy="663.5" r="1.3" fill="#2a3672"/>
<circle cx="539.0" cy="660.8" r="1.3" fill="#2a3672"/>
<circle cx="485.9" cy="654.6" r="1.3" fill="#2a3672"/>
<circle cx="585.1" cy="657.0" r="1.3" fill="#2a3672"/>
<circle cx="520.6" cy="662.2" r="1.3" fill="#2a3672"/>
<circle cx="586.1" cy="651.0" r="1.3" fill="#2a3672"/>
<circle cx="538.2" cy="660.7" r="1.3" fill="#2a3672"/>
<circle cx="472.6" cy="661.3" r="1.3" fill="#2a3672"/>
<circle cx="494.1" cy="662.0" r="1.3" fill="#2a3672"/>
<circle cx="578.6" cy="663.0" r="1.3" fill="#2a3672"/>
<circle cx="562.9" cy="663.4" r="1.3" fill="#2a3672"/>
<circle cx="549.6" cy="659.6" r="1.3" fill="#2a3672"/>
<circle cx="563.4" cy="652.8" r="1.3" fill="#2a3672"/>
<circle cx="565.3" cy="662.8" r="1.3" fill="#2a3672"/>
<circle cx="535.5" cy="662.3" r="1.3" fill="#2a3672"/>
<circle cx="486.1" cy="662.7" r="1.3" fill="#2a3672"/>
<circle cx="548.6" cy="662.1" r="1.3" fill="#2a3672"/>
<circle cx="546.1" cy="662.4" r="1.3" fill="#2a3672"/>
<circle cx="579.8" cy="658.7" r="1.3" fill="#2a3672"/>
<circle cx="525.8" cy="651.3" r="1.3" fill="#2a3672"/>
<circle cx="522.5" cy="634.3" r="1.3" fill="#2a3672"/>
<circle cx="514.9" cy="661.4" r="1.3" fill="#2a3672"/>
<circle cx="527.8" cy="640.6" r="1.3" fill="#2a3672"/>
<circle cx="591.4" cy="638.7" r="1.3" fill="#2a3672"/>
<circle cx="476.9" cy="646.9" r="1.3" fill="#2a3672"/>
<circle cx="594.3" cy="660.6" r="1.3" fill="#2a3672"/>
<circle cx="554.1" cy="659.5" r="1.3" fill="#2a3672"/>
<circle cx="479.0" cy="659.8" r="1.3" fill="#2a3672"/>
<circle cx="472.6" cy="645.1" r="1.3" fill="#2a3672"/>
<circle cx="573.2" cy="653.8" r="1.3" fill="#2a3672"/>
<circle cx="577.6" cy="644.6" r="1.3" fill="#2a3672"/>
<circle cx="474.4" cy="661.9" r="1.3" fill="#2a3672"/>
<circle cx="560.2" cy="659.4" r="1.3" fill="#2a3672"/>
<circle cx="592.9" cy="662.0" r="1.3" fill="#2a3672"/>
<circle cx="539.1" cy="652.4" r="1.3" fill="#2a3672"/>
<circle cx="508.1" cy="658.0" r="1.3" fill="#2a3672"/>
<circle cx="485.8" cy="647.1" r="1.3" fill="#2a3672"/>
<circle cx="538.2" cy="661.2" r="1.3" fill="#2a3672"/>
<circle cx="540.9" cy="663.0" r="1.3" fill="#2a3672"/>
<circle cx="487.3" cy="660.8" r="1.3" fill="#2a3672"/>
<circle cx="508.2" cy="663.0" r="1.3" fill="#2a3672"/>
<circle cx="542.6" cy="657.9" r="1.3" fill="#2a3672"/>
<circle cx="545.7" cy="662.7" r="1.3" fill="#2a3672"/>
<circle cx="564.4" cy="659.3" r="1.3" fill="#2a3672"/>
<circle cx="551.4" cy="661.5" r="1.3" fill="#2a3672"/>
<circle cx="502.1" cy="659.7" r="1.3" fill="#2a3672"/>
<circle cx="520.8" cy="663.4" r="1.3" fill="#2a3672"/>
<circle cx="516.8" cy="658.3" r="1.3" fill="#2a3672"/>
<circle cx="543.9" cy="662.3" r="1.3" fill="#2a3672"/>
<circle cx="601.3" cy="655.7" r="1.3" fill="#2a3672"/>
<circle cx="490.9" cy="652.7" r="1.3" fill="#2a3672"/>
<circle cx="528.4" cy="660.9" r="1.3" fill="#2a3672"/>
<circle cx="528.4" cy="661.9" r="1.3" fill="#2a3672"/>
<circle cx="499.8" cy="647.3" r="1.3" fill="#2a3672"/>
<circle cx="490.4" cy="661.2" r="1.3" fill="#2a3672"/>
<circle cx="559.8" cy="653.5" r="1.3" fill="#2a3672"/>
<circle cx="579.2" cy="656.4" r="1.3" fill="#2a3672"/>
<circle cx="568.8" cy="654.7" r="1.3" fill="#2a3672"/>
<circle cx="574.4" cy="650.6" r="1.3" fill="#2a3672"/>
<circle cx="486.8" cy="663.4" r="1.3" fill="#2a3672"/>
<circle cx="571.8" cy="659.9" r="1.3" fill="#2a3672"/>
<circle cx="598.0" cy="660.7" r="1.3" fill="#2a3672"/>
<circle cx="574.2" cy="654.9" r="1.3" fill="#2a3672"/>
<circle cx="520.4" cy="660.3" r="1.3" fill="#2a3672"/>
<circle cx="566.1" cy="660.9" r="1.3" fill="#2a3672"/>
<circle cx="543.8" cy="662.1" r="1.3" fill="#2a3672"/>
<circle cx="574.6" cy="657.2" r="1.3" fill="#2a3672"/>
<circle cx="528.9" cy="661.6" r="1.3" fill="#2a3672"/>
<circle cx="489.1" cy="658.9" r="1.3" fill="#2a3672"/>
<circle cx="481.5" cy="659.5" r="1.3" fill="#2a3672"/>
<circle cx="582.1" cy="623.9" r="1.3" fill="#2a3672"/>
<circle cx="497.0" cy="650.8" r="1.3" fill="#2a3672"/>
<circle cx="471.2" cy="659.1" r="1.3" fill="#2a3672"/>
<circle cx="536.0" cy="654.2" r="1.3" fill="#2a3672"/>
<circle cx="541.5" cy="659.2" r="1.3" fill="#2a3672"/>
<circle cx="538.7" cy="661.7" r="1.3" fill="#2a3672"/>
<circle cx="517.4" cy="661.2" r="1.3" fill="#2a3672"/>
<circle cx="596.1" cy="659.6" r="1.3" fill="#2a3672"/>
<circle cx="483.0" cy="660.8" r="1.3" fill="#2a3672"/>
<circle cx="544.6" cy="655.7" r="1.3" fill="#2a3672"/>
<circle cx="598.3" cy="660.5" r="1.3" fill="#2a3672"/>
<circle cx="553.0" cy="659.9" r="1.3" fill="#2a3672"/>
<circle cx="540.4" cy="662.4" r="1.3" fill="#2a3672"/>
<circle cx="512.2" cy="638.9" r="1.3" fill="#2a3672"/>
<circle cx="538.1" cy="655.2" r="1.3" fill="#2a3672"/>
<circle cx="561.7" cy="654.5" r="1.3" fill="#2a3672"/>
<circle cx="525.9" cy="661.7" r="1.3" fill="#2a3672"/>
<circle cx="537.9" cy="662.7" r="1.3" fill="#2a3672"/>
<circle cx="494.1" cy="658.6" r="1.3" fill="#2a3672"/>
<circle cx="516.8" cy="644.3" r="1.3" fill="#2a3672"/>
<circle cx="475.4" cy="655.4" r="1.3" fill="#2a3672"/>
<circle cx="510.7" cy="663.5" r="1.3" fill="#2a3672"/>
<circle cx="510.4" cy="652.7" r="1.3" fill="#2a3672"/>
<circle cx="558.8" cy="659.9" r="1.3" fill="#2a3672"/>
<circle cx="543.5" cy="659.7" r="1.3" fill="#2a3672"/>
<circle cx="540.6" cy="658.4" r="1.3" fill="#2a3672"/>
<circle cx="524.6" cy="662.6" r="1.3" fill="#2a3672"/>
<circle cx="571.0" cy="662.9" r="1.3" fill="#2a3672"/>
<circle cx="492.5" cy="654.4" r="1.3" fill="#2a3672"/>
<circle cx="551.5" cy="663.0" r="1.3" fill="#2a3672"/>
<circle cx="471.5" cy="660.2" r="1.3" fill="#2a3672"/>
<circle cx="565.1" cy="662.5" r="1.3" fill="#2a3672"/>
<circle cx="505.3" cy="651.2" r="1.3" fill="#2a3672"/>
<circle cx="547.4" cy="661.3" r="1.3" fill="#2a3672"/>
<circle cx="521.2" cy="651.9" r="1.3" fill="#2a3672"/>
<circle cx="547.4" cy="660.1" r="1.3" fill="#2a3672"/>
<circle cx="552.4" cy="663.3" r="1.3" fill="#2a3672"/>
<circle cx="593.8" cy="659.7" r="1.3" fill="#2a3672"/>
<circle cx="589.5" cy="657.6" r="1.3" fill="#2a3672"/>
<circle cx="550.1" cy="657.7" r="1.3" fill="#2a3672"/>
<circle cx="596.3" cy="660.9" r="1.3" fill="#2a3672"/>
<circle cx="565.5" cy="661.6" r="1.3" fill="#2a3672"/>
<circle cx="586.4" cy="655.2" r="1.3" fill="#2a3672"/>
<circle cx="502.2" cy="661.2" r="1.3" fill="#2a3672"/>
<circle cx="494.6" cy="657.7" r="1.3" fill="#2a3672"/>
<circle cx="544.6" cy="660.7" r="1.3" fill="#2a3672"/>
<circle cx="521.2" cy="663.1" r="1.3" fill="#2a3672"/>
<circle cx="486.2" cy="657.4" r="1.3" fill="#2a3672"/>
<circle cx="502.4" cy="661.7" r="1.3" fill="#2a3672"/>
<circle cx="501.4" cy="657.8" r="1.3" fill="#2a3672"/>
<circle cx="515.3" cy="657.1" r="1.3" fill="#2a3672"/>
<circle cx="482.1" cy="654.0" r="1.3" fill="#2a3672"/>
<circle cx="486.8" cy="654.0" r="1.3" fill="#2a3672"/>
<circle cx="577.0" cy="661.2" r="1.3" fill="#2a3672"/>
<circle cx="566.0" cy="646.8" r="1.3" fill="#2a3672"/>
<circle cx="497.5" cy="653.5" r="1.3" fill="#2a3672"/>
<circle cx="500.1" cy="662.8" r="1.3" fill="#2a3672"/>
<circle cx="563.9" cy="651.4" r="1.3" fill="#2a3672"/>
<circle cx="548.1" cy="662.0" r="1.3" fill="#2a3672"/>
<circle cx="550.8" cy="652.7" r="1.3" fill="#2a3672"/>
<circle cx="486.2" cy="659.4" r="1.3" fill="#2a3672"/>
<circle cx="505.8" cy="658.9" r="1.3" fill="#2a3672"/>
<circle cx="557.4" cy="661.5" r="1.3" fill="#2a3672"/>
<circle cx="521.7" cy="662.5" r="1.3" fill="#2a3672"/>
<circle cx="583.2" cy="657.8" r="1.3" fill="#2a3672"/>
<circle cx="484.3" cy="661.1" r="1.3" fill="#2a3672"/>
<circle cx="536.4" cy="663.2" r="1.3" fill="#2a3672"/>
<circle cx="511.3" cy="662.8" r="1.3" fill="#2a3672"/>
<circle cx="565.3" cy="660.8" r="1.3" fill="#2a3672"/>
<circle cx="590.9" cy="633.4" r="1.3" fill="#2a3672"/>
<circle cx="584.5" cy="661.8" r="1.3" fill="#2a3672"/>
<circle cx="473.7" cy="657.8" r="1.3" fill="#2a3672"/>
<circle cx="516.6" cy="657.8" r="1.3" fill="#2a3672"/>
<circle cx="562.9" cy="653.6" r="1.3" fill="#2a3672"/>
<circle cx="516.7" cy="662.4" r="1.3" fill="#2a3672"/>
<circle cx="485.1" cy="646.3" r="1.3" fill="#2a3672"/>
<circle cx="564.7" cy="663.3" r="1.3" fill="#2a3672"/>
<circle cx="491.4" cy="661.6" r="1.3" fill="#2a3672"/>
<circle cx="520.5" cy="661.5" r="1.3" fill="#2a3672"/>
<circle cx="554.8" cy="653.9" r="1.3" fill="#2a3672"/>
<circle cx="545.7" cy="662.4" r="1.3" fill="#2a3672"/>
<circle cx="527.7" cy="661.2" r="1.3" fill="#2a3672"/>
<circle cx="469.9" cy="650.8" r="1.3" fill="#2a3672"/>
<circle cx="507.9" cy="653.4" r="1.3" fill="#2a3672"/>
<circle cx="550.7" cy="662.0" r="1.3" fill="#2a3672"/>
<circle cx="484.6" cy="660.6" r="1.3" fill="#2a3672"/>
<circle cx="591.6" cy="662.3" r="1.3" fill="#2a3672"/>
<circle cx="562.3" cy="656.3" r="1.3" fill="#2a3672"/>
<circle cx="580.2" cy="663.0" r="1.3" fill="#2a3672"/>
<circle cx="595.9" cy="649.5" r="1.3" fill="#2a3672"/>
<circle cx="561.9" cy="638.1" r="1.3" fill="#2a3672"/>
<circle cx="553.5" cy="663.2" r="1.3" fill="#2a3672"/>
<circle cx="562.8" cy="659.7" r="1.3" fill="#2a3672"/>
<circle cx="593.4" cy="656.0" r="1.3" fill="#2a3672"/>
<circle cx="475.6" cy="654.9" r="1.3" fill="#2a3672"/>
<circle cx="504.6" cy="645.2" r="1.3" fill="#2a3672"/>
<circle cx="554.7" cy="662.0" r="1.3" fill="#2a3672"/>
<circle cx="477.7" cy="660.7" r="1.3" fill="#2a3672"/>
<circle cx="496.6" cy="662.7" r="1.3" fill="#2a3672"/>
<circle cx="564.0" cy="662.1" r="1.3" fill="#2a3672"/>
<circle cx="502.0" cy="660.4" r="1.3" fill="#2a3672"/>
<circle cx="594.5" cy="661.6" r="1.3" fill="#2a3672"/>
<circle cx="587.6" cy="659.1" r="1.3" fill="#2a3672"/>
<circle cx="514.2" cy="650.5" r="1.3" fill="#2a3672"/>
<circle cx="571.1" cy="657.7" r="1.3" fill="#2a3672"/>
<circle cx="549.5" cy="655.9" r="1.3" fill="#2a3672"/>
<circle cx="580.5" cy="661.7" r="1.3" fill="#2a3672"/>
<circle cx="517.8" cy="663.2" r="1.3" fill="#2a3672"/>
<circle cx="507.2" cy="657.1" r="1.3" fill="#2a3672"/>
<circle cx="529.5" cy="661.4" r="1.3" fill="#2a3672"/>
<circle cx="532.2" cy="662.8" r="1.3" fill="#2a3672"/>
<circle cx="479.4" cy="638.0" r="1.3" fill="#2a3672"/>
<circle cx="569.8" cy="656.9" r="1.3" fill="#2a3672"/>
<circle cx="600.4" cy="662.9" r="1.3" fill="#2a3672"/>
<circle cx="534.9" cy="662.7" r="1.3" fill="#2a3672"/>
<circle cx="542.1" cy="654.2" r="1.3" fill="#2a3672"/>
<circle cx="555.6" cy="649.1" r="1.3" fill="#2a3672"/>
<circle cx="556.7" cy="662.0" r="1.3" fill="#2a3672"/>
<circle cx="488.3" cy="655.7" r="1.3" fill="#2a3672"/>
<circle cx="581.6" cy="662.4" r="1.3" fill="#2a3672"/>
<circle cx="554.8" cy="640.2" r="1.3" fill="#2a3672"/>
<circle cx="492.2" cy="631.9" r="1.3" fill="#2a3672"/>
<circle cx="568.7" cy="662.4" r="1.3" fill="#2a3672"/>
<circle cx="579.7" cy="661.1" r="1.3" fill="#2a3672"/>
<circle cx="543.2" cy="657.0" r="1.3" fill="#2a3672"/>
<circle cx="501.7" cy="659.1" r="1.3" fill="#2a3672"/>
<circle cx="553.5" cy="652.9" r="1.3" fill="#2a3672"/>
<circle cx="590.4" cy="653.3" r="1.3" fill="#2a3672"/>
<circle cx="536.3" cy="662.2" r="1.3" fill="#2a3672"/>
<circle cx="547.2" cy="659.2" r="1.3" fill="#2a3672"/>
<circle cx="491.6" cy="645.1" r="1.3" fill="#2a3672"/>
<circle cx="481.7" cy="660.5" r="1.3" fill="#2a3672"/>
<circle cx="495.2" cy="663.5" r="1.3" fill="#2a3672"/>
<circle cx="581.8" cy="645.1" r="1.3" fill="#2a3672"/>
<circle cx="526.5" cy="657.8" r="1.3" fill="#2a3672"/>
<circle cx="538.3" cy="662.0" r="1.3" fill="#2a3672"/>
<circle cx="528.2" cy="654.3" r="1.3" fill="#2a3672"/>
<circle cx="590.2" cy="661.7" r="1.3" fill="#2a3672"/>
<circle cx="528.8" cy="661.3" r="1.3" fill="#2a3672"/>
<circle cx="495.8" cy="661.4" r="1.3" fill="#2a3672"/>
<circle cx="531.1" cy="637.1" r="1.3" fill="#2a3672"/>
<circle cx="585.1" cy="657.2" r="1.3" fill="#2a3672"/>
<circle cx="577.8" cy="657.6" r="1.3" fill="#2a3672"/>
<circle cx="550.9" cy="659.1" r="1.3" fill="#2a3672"/>
<circle cx="596.7" cy="658.0" r="1.3" fill="#2a3672"/>
<circle cx="509.7" cy="652.1" r="1.3" fill="#2a3672"/>
<circle cx="473.5" cy="657.5" r="1.3" fill="#2a3672"/>
<circle cx="529.4" cy="657.8" r="1.3" fill="#2a3672"/>
<circle cx="519.4" cy="660.7" r="1.3" fill="#2a3672"/>
<circle cx="540.4" cy="661.6" r="1.3" fill="#2a3672"/>
<circle cx="485.0" cy="651.9" r="1.3" fill="#2a3672"/>
<circle cx="542.8" cy="656.2" r="1.3" fill="#2a3672"/>
<circle cx="503.6" cy="659.5" r="1.3" fill="#2a3672"/>
<circle cx="503.3" cy="659.3" r="1.3" fill="#2a3672"/>
<circle cx="500.0" cy="662.9" r="1.3" fill="#2a3672"/>
<circle cx="538.2" cy="663.2" r="1.3" fill="#2a3672"/>
<circle cx="524.1" cy="660.5" r="1.3" fill="#2a3672"/>
<circle cx="584.8" cy="656.9" r="1.3" fill="#2a3672"/>
<circle cx="570.6" cy="638.9" r="1.3" fill="#2a3672"/>
<circle cx="565.9" cy="654.2" r="1.3" fill="#2a3672"/>
<circle cx="522.0" cy="646.6" r="1.3" fill="#2a3672"/>
<circle cx="544.8" cy="662.6" r="1.3" fill="#2a3672"/>
<circle cx="573.2" cy="662.1" r="1.3" fill="#2a3672"/>
<circle cx="519.4" cy="658.8" r="1.3" fill="#2a3672"/>
<circle cx="498.2" cy="657.0" r="1.3" fill="#2a3672"/>
<circle cx="526.5" cy="648.5" r="1.3" fill="#2a3672"/>
<circle cx="586.0" cy="650.4" r="1.3" fill="#2a3672"/>
<circle cx="585.8" cy="656.3" r="1.3" fill="#2a3672"/>
<circle cx="515.3" cy="643.6" r="1.3" fill="#2a3672"/>
<circle cx="579.8" cy="661.0" r="1.3" fill="#2a3672"/>
<circle cx="568.0" cy="645.1" r="1.3" fill="#2a3672"/>
<circle cx="475.6" cy="662.9" r="1.3" fill="#2a3672"/>
<circle cx="542.9" cy="662.8" r="1.3" fill="#2a3672"/>
<circle cx="593.1" cy="662.0" r="1.3" fill="#2a3672"/>
<circle cx="495.5" cy="653.9" r="1.3" fill="#2a3672"/>
<circle cx="547.2" cy="663.4" r="1.3" fill="#2a3672"/>
<circle cx="484.5" cy="661.0" r="1.3" fill="#2a3672"/>
<circle cx="543.6" cy="659.2" r="1.3" fill="#2a3672"/>
<circle cx="520.5" cy="652.6" r="1.3" fill="#2a3672"/>
<circle cx="541.5" cy="657.4" r="1.3" fill="#2a3672"/>
<circle cx="596.2" cy="661.3" r="1.3" fill="#2a3672"/>
<circle cx="489.9" cy="652.7" r="1.3" fill="#2a3672"/>
<circle cx="576.4" cy="662.4" r="1.3" fill="#2a3672"/>
<circle cx="578.8" cy="660.9" r="1.3" fill="#2a3672"/>
<circle cx="533.2" cy="656.6" r="1.3" fill="#2a3672"/>
<circle cx="522.2" cy="645.0" r="1.3" fill="#2a3672"/>
<circle cx="479.9" cy="662.2" r="1.3" fill="#2a3672"/>
<circle cx="588.9" cy="663.3" r="1.3" fill="#2a3672"/>
<circle cx="492.4" cy="660.2" r="1.3" fill="#2a3672"/>
<circle cx="546.7" cy="661.9" r="1.3" fill="#2a3672"/>
<circle cx="470.6" cy="661.4" r="1.3" fill="#2a3672"/>
<circle cx="472.5" cy="640.9" r="1.3" fill="#2a3672"/>
<circle cx="475.8" cy="657.7" r="1.3" fill="#2a3672"/>
<circle cx="506.1" cy="659.9" r="1.3" fill="#2a3672"/>
<circle cx="504.7" cy="659.6" r="1.3" fill="#2a3672"/>
<circle cx="597.3" cy="663.2" r="1.3" fill="#2a3672"/>
<circle cx="544.5" cy="651.3" r="1.3" fill="#2a3672"/>
<circle cx="572.9" cy="658.2" r="1.3" fill="#2a3672"/>
<circle cx="518.1" cy="655.2" r="1.3" fill="#2a3672"/>
<circle cx="586.1" cy="642.6" r="1.3" fill="#2a3672"/>
<circle cx="510.3" cy="647.1" r="1.3" fill="#2a3672"/>
<circle cx="537.6" cy="661.9" r="1.3" fill="#2a3672"/>
<circle cx="543.2" cy="663.3" r="1.3" fill="#2a3672"/>
<circle cx="514.7" cy="640.1" r="1.3" fill="#2a3672"/>
<circle cx="533.9" cy="662.5" r="1.3" fill="#2a3672"/>
<circle cx="501.1" cy="662.7" r="1.3" fill="#2a3672"/>
<circle cx="470.8" cy="658.4" r="1.3" fill="#2a3672"/>
<circle cx="529.1" cy="661.6" r="1.3" fill="#2a3672"/>
<circle cx="492.3" cy="661.6" r="1.3" fill="#2a3672"/>
<circle cx="510.9" cy="653.3" r="1.3" fill="#2a3672"/>
<circle cx="594.7" cy="650.1" r="1.3" fill="#2a3672"/>
<circle cx="547.5" cy="662.8" r="1.3" fill="#2a3672"/>
<circle cx="547.1" cy="660.9" r="1.3" fill="#2a3672"/>
<circle cx="573.0" cy="652.8" r="1.3" fill="#2a3672"/>
<circle cx="478.8" cy="651.4" r="1.3" fill="#2a3672"/>
<circle cx="506.5" cy="663.4" r="1.3" fill="#2a3672"/>
<circle cx="491.7" cy="657.1" r="1.3" fill="#2a3672"/>
<circle cx="498.9" cy="662.3" r="1.3" fill="#2a3672"/>
<circle cx="550.1" cy="654.6" r="1.3" fill="#2a3672"/>
<circle cx="496.0" cy="657.4" r="1.3" fill="#2a3672"/>
<circle cx="480.4" cy="643.5" r="1.3" fill="#2a3672"/>
<circle cx="515.2" cy="662.4" r="1.3" fill="#2a3672"/>
<circle cx="541.3" cy="657.4" r="1.3" fill="#2a3672"/>
<circle cx="592.7" cy="661.4" r="1.3" fill="#2a3672"/>
<circle cx="569.6" cy="660.8" r="1.3" fill="#2a3672"/>
<circle cx="560.2" cy="663.2" r="1.3" fill="#2a3672"/>
<circle cx="525.0" cy="658.3" r="1.3" fill="#2a3672"/>
<circle cx="514.4" cy="658.7" r="1.3" fill="#2a3672"/>
<circle cx="504.0" cy="663.4" r="1.3" fill="#2a3672"/>
<circle cx="593.0" cy="640.5" r="1.3" fill="#2a3672"/>
<circle cx="477.3" cy="656.7" r="1.3" fill="#2a3672"/>
<circle cx="513.6" cy="662.6" r="1.3" fill="#2a3672"/>
<circle cx="488.8" cy="662.0" r="1.3" fill="#2a3672"/>
<circle cx="578.2" cy="659.4" r="1.3" fill="#2a3672"/>
<circle cx="548.2" cy="657.9" r="1.3" fill="#2a3672"/>
<circle cx="549.9" cy="656.4" r="1.3" fill="#2a3672"/>
<circle cx="504.1" cy="655.9" r="1.3" fill="#2a3672"/>
<circle cx="573.2" cy="655.7" r="1.3" fill="#2a3672"/>
<circle cx="600.0" cy="661.8" r="1.3" fill="#2a3672"/>
<circle cx="539.5" cy="662.7" r="1.3" fill="#2a3672"/>
<circle cx="471.0" cy="657.9" r="1.3" fill="#2a3672"/>
<circle cx="572.9" cy="639.5" r="1.3" fill="#2a3672"/>
<circle cx="500.2" cy="662.4" r="1.3" fill="#2a3672"/>
<circle cx="473.5" cy="663.2" r="1.3" fill="#2a3672"/>
<circle cx="536.6" cy="662.8" r="1.3" fill="#2a3672"/>
<circle cx="595.0" cy="662.7" r="1.3" fill="#2a3672"/>
<circle cx="493.4" cy="661.9" r="1.3" fill="#2a3672"/>
<circle cx="473.7" cy="661.1" r="1.3" fill="#2a3672"/>
<circle cx="600.6" cy="658.2" r="1.3" fill="#2a3672"/>
<circle cx="515.7" cy="652.5" r="1.3" fill="#2a3672"/>
<circle cx="512.9" cy="661.8" r="1.3" fill="#2a3672"/>
<circle cx="567.5" cy="658.1" r="1.3" fill="#2a3672"/>
<circle cx="523.3" cy="662.3" r="1.3" fill="#2a3672"/>
<circle cx="545.0" cy="654.2" r="1.3" fill="#2a3672"/>
<circle cx="595.7" cy="662.2" r="1.3" fill="#2a3672"/>
<circle cx="503.4" cy="660.5" r="1.3" fill="#2a3672"/>
<circle cx="500.6" cy="656.0" r="1.3" fill="#2a3672"/>
<circle cx="555.4" cy="636.3" r="1.3" fill="#2a3672"/>
<circle cx="498.7" cy="662.6" r="1.3" fill="#2a3672"/>
<circle cx="584.8" cy="658.3" r="1.3" fill="#2a3672"/>
<circle cx="569.9" cy="659.4" r="1.3" fill="#2a3672"/>
<circle cx="514.0" cy="651.9" r="1.3" fill="#2a3672"/>
<circle cx="491.3" cy="658.7" r="1.3" fill="#2a3672"/>
<circle cx="530.1" cy="652.2" r="1.3" fill="#2a3672"/>
<circle cx="497.7" cy="657.2" r="1.3" fill="#2a3672"/>
<circle cx="573.7" cy="661.6" r="1.3" fill="#2a3672"/>
<circle cx="584.9" cy="657.5" r="1.3" fill="#2a3672"/>
<circle cx="473.1" cy="644.3" r="1.3" fill="#2a3672"/>
<circle cx="471.1" cy="662.1" r="1.3" fill="#2a3672"/>
<circle cx="567.8" cy="662.5" r="1.3" fill="#2a3672"/>
<circle cx="560.7" cy="661.3" r="1.3" fill="#2a3672"/>
<circle cx="592.1" cy="652.3" r="1.3" fill="#2a3672"/>
<circle cx="600.3" cy="662.1" r="1.3" fill="#2a3672"/>
<circle cx="575.3" cy="663.3" r="1.3" fill="#2a3672"/>
<circle cx="537.0" cy="661.4" r="1.3" fill="#2a3672"/>
<circle cx="483.8" cy="638.9" r="1.3" fill="#2a3672"/>
<circle cx="512.0" cy="661.7" r="1.3" fill="#2a3672"/>
<circle cx="534.7" cy="661.4" r="1.3" fill="#2a3672"/>
<circle cx="493.6" cy="662.7" r="1.3" fill="#2a3672"/>
<circle cx="568.1" cy="662.9" r="1.3" fill="#2a3672"/>
<circle cx="516.9" cy="650.3" r="1.3" fill="#2a3672"/>
<circle cx="516.3" cy="645.5" r="1.3" fill="#2a3672"/>
<circle cx="587.4" cy="657.6" r="1.3" fill="#2a3672"/>
<circle cx="493.4" cy="663.1" r="1.3" fill="#2a3672"/>
<circle cx="475.6" cy="660.7" r="1.3" fill="#2a3672"/>
<circle cx="543.9" cy="663.5" r="1.3" fill="#2a3672"/>
<circle cx="561.5" cy="659.4" r="1.3" fill="#2a3672"/>
<circle cx="542.9" cy="648.6" r="1.3" fill="#2a3672"/>
<circle cx="586.2" cy="660.8" r="1.3" fill="#2a3672"/>
<circle cx="512.2" cy="644.5" r="1.3" fill="#2a3672"/>
<circle cx="521.4" cy="660.7" r="1.3" fill="#2a3672"/>
<circle cx="488.9" cy="663.4" r="1.3" fill="#2a3672"/>
<circle cx="550.8" cy="661.0" r="1.3" fill="#2a3672"/>
<circle cx="551.2" cy="662.1" r="1.3" fill="#2a3672"/>
<circle cx="496.2" cy="653.8" r="1.3" fill="#2a3672"/>
<circle cx="574.2" cy="663.0" r="1.3" fill="#2a3672"/>
<circle cx="562.3" cy="658.0" r="1.3" fill="#2a3672"/>
<circle cx="542.9" cy="650.4" r="1.3" fill="#2a3672"/>
<circle cx="469.9" cy="647.2" r="1.3" fill="#2a3672"/>
<circle cx="537.7" cy="644.2" r="1.3" fill="#2a3672"/>
<circle cx="501.0" cy="656.4" r="1.3" fill="#2a3672"/>
<circle cx="520.3" cy="660.9" r="1.3" fill="#2a3672"/>
<circle cx="539.9" cy="659.3" r="1.3" fill="#2a3672"/>
<circle cx="512.7" cy="659.4" r="1.3" fill="#2a3672"/>
<circle cx="499.5" cy="661.9" r="1.3" fill="#2a3672"/>
<circle cx="590.8" cy="656.8" r="1.3" fill="#2a3672"/>
<circle cx="539.3" cy="662.6" r="1.3" fill="#2a3672"/>
<circle cx="488.7" cy="651.2" r="1.3" fill="#2a3672"/>
<circle cx="539.6" cy="657.3" r="1.3" fill="#2a3672"/>
<circle cx="501.6" cy="654.4" r="1.3" fill="#2a3672"/>
<circle cx="531.1" cy="654.3" r="1.3" fill="#2a3672"/>
<circle cx="588.9" cy="662.7" r="1.3" fill="#2a3672"/>
<circle cx="520.6" cy="629.0" r="1.3" fill="#2a3672"/>
<circle cx="486.2" cy="662.0" r="1.3" fill="#2a3672"/>
<circle cx="483.5" cy="655.0" r="1.3" fill="#2a3672"/>
<circle cx="539.2" cy="663.2" r="1.3" fill="#2a3672"/>
<circle cx="522.5" cy="640.4" r="1.3" fill="#2a3672"/>
<circle cx="529.6" cy="655.1" r="1.3" fill="#2a3672"/>
<circle cx="570.9" cy="657.5" r="1.3" fill="#2a3672"/>
<circle cx="518.7" cy="662.1" r="1.3" fill="#2a3672"/>
<circle cx="519.2" cy="661.0" r="1.3" fill="#2a3672"/>
<circle cx="472.2" cy="659.1" r="1.3" fill="#2a3672"/>
<circle cx="477.5" cy="656.8" r="1.3" fill="#2a3672"/>
<circle cx="506.4" cy="662.0" r="1.3" fill="#2a3672"/>
<circle cx="580.9" cy="658.2" r="1.3" fill="#2a3672"/>
<circle cx="584.2" cy="660.6" r="1.3" fill="#2a3672"/>
<circle cx="575.3" cy="661.1" r="1.3" fill="#2a3672"/>
<circle cx="475.6" cy="661.1" r="1.3" fill="#2a3672"/>
<circle cx="564.7" cy="660.7" r="1.3" fill="#2a3672"/>
<circle cx="556.1" cy="659.4" r="1.3" fill="#2a3672"/>
<circle cx="521.1" cy="649.9" r="1.3" fill="#2a3672"/>
<circle cx="495.3" cy="643.2" r="1.3" fill="#2a3672"/>
<circle cx="519.4" cy="661.4" r="1.3" fill="#2a3672"/>
<circle cx="479.2" cy="659.1" r="1.3" fill="#2a3672"/>
<circle cx="539.8" cy="655.0" r="1.3" fill="#2a3672"/>
<circle cx="570.6" cy="658.8" r="1.3" fill="#2a3672"/>
<circle cx="531.4" cy="653.9" r="1.3" fill="#2a3672"/>
<circle cx="525.1" cy="651.9" r="1.3" fill="#2a3672"/>
<circle cx="528.4" cy="659.7" r="1.3" fill="#2a3672"/>
<circle cx="579.6" cy="656.4" r="1.3" fill="#2a3672"/>
<circle cx="523.3" cy="657.5" r="1.3" fill="#2a3672"/>
<circle cx="543.6" cy="654.8" r="1.3" fill="#2a3672"/>
<circle cx="485.5" cy="663.1" r="1.3" fill="#2a3672"/>
<circle cx="578.7" cy="663.0" r="1.3" fill="#2a3672"/>
<circle cx="570.1" cy="663.2" r="1.3" fill="#2a3672"/>
<circle cx="560.5" cy="660.0" r="1.3" fill="#2a3672"/>
<circle cx="477.1" cy="660.7" r="1.3" fill="#2a3672"/>
<circle cx="547.6" cy="653.4" r="1.3" fill="#2a3672"/>
<circle cx="585.9" cy="661.4" r="1.3" fill="#2a3672"/>
<circle cx="538.8" cy="647.0" r="1.3" fill="#2a3672"/>
<circle cx="506.4" cy="661.5" r="1.3" fill="#2a3672"/>
<circle cx="503.8" cy="655.8" r="1.3" fill="#2a3672"/>
<circle cx="537.9" cy="663.3" r="1.3" fill="#2a3672"/>
<circle cx="510.4" cy="643.7" r="1.3" fill="#2a3672"/>
<circle cx="583.9" cy="662.3" r="1.3" fill="#2a3672"/>
<circle cx="476.7" cy="661.0" r="1.3" fill="#2a3672"/>
<circle cx="531.6" cy="658.9" r="1.3" fill="#2a3672"/>
<circle cx="518.5" cy="659.0" r="1.3" fill="#2a3672"/>
<circle cx="592.3" cy="663.2" r="1.3" fill="#2a3672"/>
<circle cx="511.7" cy="660.7" r="1.3" fill="#2a3672"/>
<circle cx="545.0" cy="662.3" r="1.3" fill="#2a3672"/>
<circle cx="575.8" cy="657.0" r="1.3" fill="#2a3672"/>
<circle cx="576.7" cy="660.3" r="1.3" fill="#2a3672"/>
<circle cx="594.3" cy="652.4" r="1.3" fill="#2a3672"/>
<circle cx="477.5" cy="658.1" r="1.3" fill="#2a3672"/>
<circle cx="476.3" cy="662.9" r="1.3" fill="#2a3672"/>
<circle cx="549.2" cy="650.1" r="1.3" fill="#2a3672"/>
<circle cx="544.5" cy="659.4" r="1.3" fill="#2a3672"/>
<circle cx="559.6" cy="661.7" r="1.3" fill="#2a3672"/>
<circle cx="497.9" cy="661.3" r="1.3" fill="#2a3672"/>
<circle cx="592.1" cy="662.9" r="1.3" fill="#2a3672"/>
<circle cx="482.5" cy="631.1" r="1.3" fill="#2a3672"/>
<circle cx="525.0" cy="661.9" r="1.3" fill="#2a3672"/>
<circle cx="590.5" cy="662.6" r="1.3" fill="#2a3672"/>
<circle cx="477.3" cy="663.3" r="1.3" fill="#2a3672"/>
<circle cx="581.2" cy="662.1" r="1.3" fill="#2a3672"/>
<circle cx="547.3" cy="660.5" r="1.3" fill="#2a3672"/>
<circle cx="490.3" cy="656.7" r="1.3" fill="#2a3672"/>
<circle cx="581.9" cy="655.1" r="1.3" fill="#2a3672"/>
<circle cx="600.3" cy="663.3" r="1.3" fill="#2a3672"/>
<circle cx="520.4" cy="662.2" r="1.3" fill="#2a3672"/>
<circle cx="542.5" cy="661.2" r="1.3" fill="#2a3672"/>
<circle cx="566.8" cy="657.5" r="1.3" fill="#2a3672"/>
<circle cx="485.0" cy="661.8" r="1.3" fill="#2a3672"/>
<circle cx="592.8" cy="632.3" r="1.3" fill="#2a3672"/>
<circle cx="539.9" cy="661.9" r="1.3" fill="#2a3672"/>
<circle cx="569.7" cy="649.5" r="1.3" fill="#2a3672"/>
<circle cx="482.2" cy="653.0" r="1.3" fill="#2a3672"/>
<circle cx="549.4" cy="663.0" r="1.3" fill="#2a3672"/>
<circle cx="488.4" cy="651.8" r="1.3" fill="#2a3672"/>
<circle cx="582.4" cy="649.9" r="1.3" fill="#2a3672"/>
<circle cx="474.1" cy="645.5" r="1.3" fill="#2a3672"/>
<circle cx="515.7" cy="644.4" r="1.3" fill="#2a3672"/>
<circle cx="476.5" cy="660.4" r="1.3" fill="#2a3672"/>
<circle cx="502.8" cy="661.5" r="1.3" fill="#2a3672"/>
<circle cx="574.7" cy="663.1" r="1.3" fill="#2a3672"/>
<circle cx="544.3" cy="660.6" r="1.3" fill="#2a3672"/>
<circle cx="574.8" cy="660.2" r="1.3" fill="#2a3672"/>
<circle cx="474.3" cy="663.0" r="1.3" fill="#2a3672"/>
<circle cx="556.0" cy="659.0" r="1.3" fill="#2a3672"/>
<circle cx="516.8" cy="657.8" r="1.3" fill="#2a3672"/>
<circle cx="491.6" cy="648.6" r="1.3" fill="#2a3672"/>
<circle cx="514.0" cy="630.3" r="1.3" fill="#2a3672"/>
<circle cx="533.8" cy="663.1" r="1.3" fill="#2a3672"/>
<circle cx="586.9" cy="659.9" r="1.3" fill="#2a3672"/>
<circle cx="541.2" cy="661.2" r="1.3" fill="#2a3672"/>
<circle cx="491.6" cy="659.8" r="1.3" fill="#2a3672"/>
<circle cx="518.7" cy="660.8" r="1.3" fill="#2a3672"/>
<circle cx="496.9" cy="662.1" r="1.3" fill="#2a3672"/>
<circle cx="585.9" cy="651.9" r="1.3" fill="#2a3672"/>
<circle cx="471.8" cy="657.8" r="1.3" fill="#2a3672"/>
<circle cx="575.2" cy="657.4" r="1.3" fill="#2a3672"/>
<circle cx="500.3" cy="661.6" r="1.3" fill="#2a3672"/>
<circle cx="505.0" cy="660.9" r="1.3" fill="#2a3672"/>
<circle cx="538.8" cy="655.4" r="1.3" fill="#2a3672"/>
<circle cx="481.0" cy="662.1" r="1.3" fill="#2a3672"/>
<circle cx="549.1" cy="653.0" r="1.3" fill="#2a3672"/>
<circle cx="478.1" cy="658.7" r="1.3" fill="#2a3672"/>
<circle cx="600.7" cy="658.4" r="1.3" fill="#2a3672"/>
<circle cx="562.0" cy="657.5" r="1.3" fill="#2a3672"/>
<circle cx="577.8" cy="650.2" r="1.3" fill="#2a3672"/>
<circle cx="471.2" cy="659.0" r="1.3" fill="#2a3672"/>
<circle cx="524.0" cy="662.0" r="1.3" fill="#2a3672"/>
<circle cx="567.5" cy="662.6" r="1.3" fill="#2a3672"/>
<circle cx="515.7" cy="662.3" r="1.3" fill="#2a3672"/>
<circle cx="499.1" cy="643.9" r="1.3" fill="#2a3672"/>
<circle cx="602.6" cy="658.0" r="1.3" fill="#2a3672"/>
<circle cx="536.0" cy="648.5" r="1.3" fill="#2a3672"/>
<circle cx="569.9" cy="662.3" r="1.3" fill="#2a3672"/>
<circle cx="553.1" cy="650.2" r="1.3" fill="#2a3672"/>
<circle cx="482.1" cy="661.2" r="1.3" fill="#2a3672"/>
<circle cx="491.4" cy="643.7" r="1.3" fill="#2a3672"/>
<circle cx="569.1" cy="654.2" r="1.3" fill="#2a3672"/>
<circle cx="594.6" cy="650.6" r="1.3" fill="#2a3672"/>
<circle cx="580.7" cy="654.1" r="1.3" fill="#2a3672"/>
<circle cx="527.8" cy="641.9" r="1.3" fill="#2a3672"/>
<circle cx="585.8" cy="646.5" r="1.3" fill="#2a3672"/>
<circle cx="540.6" cy="662.8" r="1.3" fill="#2a3672"/>
<circle cx="598.8" cy="661.0" r="1.3" fill="#2a3672"/>
<circle cx="581.5" cy="662.3" r="1.3" fill="#2a3672"/>
<circle cx="530.8" cy="659.9" r="1.3" fill="#2a3672"/>
<circle cx="590.8" cy="657.0" r="1.3" fill="#2a3672"/>
<circle cx="522.0" cy="632.3" r="1.3" fill="#2a3672"/>
<circle cx="560.8" cy="640.6" r="1.3" fill="#2a3672"/>
<circle cx="523.9" cy="657.9" r="1.3" fill="#2a3672"/>
<circle cx="581.2" cy="658.8" r="1.3" fill="#2a3672"/>
<circle cx="581.2" cy="663.4" r="1.3" fill="#2a3672"/>
<circle cx="534.9" cy="663.1" r="1.3" fill="#2a3672"/>
<circle cx="578.0" cy="658.6" r="1.3" fill="#2a3672"/>
<circle cx="530.7" cy="662.2" r="1.3" fill="#2a3672"/>
<circle cx="516.9" cy="645.1" r="1.3" fill="#2a3672"/>
<circle cx="508.7" cy="661.8" r="1.3" fill="#2a3672"/>
<circle cx="563.2" cy="657.8" r="1.3" fill="#2a3672"/>
<circle cx="577.3" cy="657.5" r="1.3" fill="#2a3672"/>
<circle cx="475.3" cy="661.8" r="1.3" fill="#2a3672"/>
<circle cx="506.0" cy="659.2" r="1.3" fill="#2a3672"/>
<circle cx="499.7" cy="652.0" r="1.3" fill="#2a3672"/>
<circle cx="588.9" cy="659.9" r="1.3" fill="#2a3672"/>
<circle cx="597.1" cy="640.0" r="1.3" fill="#2a3672"/>
<circle cx="495.0" cy="660.6" r="1.3" fill="#2a3672"/>
<circle cx="540.0" cy="662.8" r="1.3" fill="#2a3672"/>
<circle cx="595.7" cy="654.8" r="1.3" fill="#2a3672"/>
<circle cx="503.2" cy="662.9" r="1.3" fill="#2a3672"/>
<circle cx="543.4" cy="659.2" r="1.3" fill="#2a3672"/>
<circle cx="520.0" cy="656.7" r="1.3" fill="#2a3672"/>
<circle cx="479.9" cy="660.4" r="1.3" fill="#2a3672"/>
<circle cx="597.4" cy="657.8" r="1.3" fill="#2a3672"/>
<circle cx="554.0" cy="659.6" r="1.3" fill="#2a3672"/>
<circle cx="559.9" cy="655.1" r="1.3" fill="#2a3672"/>
<circle cx="518.2" cy="662.3" r="1.3" fill="#2a3672"/>
<circle cx="581.0" cy="659.2" r="1.3" fill="#2a3672"/>
<circle cx="529.4" cy="635.9" r="1.3" fill="#2a3672"/>
<circle cx="566.9" cy="663.0" r="1.3" fill="#2a3672"/>
<circle cx="513.1" cy="647.4" r="1.3" fill="#2a3672"/>
<circle cx="588.5" cy="658.8" r="1.3" fill="#2a3672"/>
<circle cx="546.6" cy="661.7" r="1.3" fill="#2a3672"/>
<circle cx="569.4" cy="661.8" r="1.3" fill="#2a3672"/>
<circle cx="571.4" cy="659.4" r="1.3" fill="#2a3672"/>
<circle cx="525.8" cy="646.5" r="1.3" fill="#2a3672"/>
<circle cx="577.0" cy="661.0" r="1.3" fill="#2a3672"/>
<circle cx="598.1" cy="657.3" r="1.3" fill="#2a3672"/>
<circle cx="506.8" cy="659.0" r="1.3" fill="#2a3672"/>
<circle cx="579.8" cy="659.3" r="1.3" fill="#2a3672"/>
<circle cx="488.4" cy="652.5" r="1.3" fill="#2a3672"/>
<circle cx="491.4" cy="660.2" r="1.3" fill="#2a3672"/>
<circle cx="511.4" cy="661.6" r="1.3" fill="#2a3672"/>
<circle cx="520.8" cy="661.6" r="1.3" fill="#2a3672"/>
<circle cx="511.0" cy="660.7" r="1.3" fill="#2a3672"/>
<circle cx="512.5" cy="662.9" r="1.3" fill="#2a3672"/>
<circle cx="504.5" cy="660.9" r="1.3" fill="#2a3672"/>
<circle cx="598.2" cy="662.3" r="1.3" fill="#2a3672"/>
<circle cx="590.8" cy="654.0" r="1.3" fill="#2a3672"/>
<circle cx="554.7" cy="660.1" r="1.3" fill="#2a3672"/>
<circle cx="490.1" cy="652.5" r="1.3" fill="#2a3672"/>
<circle cx="544.2" cy="658.4" r="1.3" fill="#2a3672"/>
<circle cx="506.5" cy="650.4" r="1.3" fill="#2a3672"/>
<circle cx="540.3" cy="659.8" r="1.3" fill="#2a3672"/>
<circle cx="504.4" cy="663.1" r="1.3" fill="#2a3672"/>
<circle cx="579.9" cy="661.2" r="1.3" fill="#2a3672"/>
<circle cx="595.0" cy="662.0" r="1.3" fill="#2a3672"/>
<circle cx="479.1" cy="656.1" r="1.3" fill="#2a3672"/>
<circle cx="560.1" cy="654.8" r="1.3" fill="#2a3672"/>
<circle cx="484.6" cy="658.1" r="1.3" fill="#2a3672"/>
<circle cx="598.6" cy="657.3" r="1.3" fill="#2a3672"/>
<circle cx="573.0" cy="648.7" r="1.3" fill="#2a3672"/>
<circle cx="568.7" cy="660.9" r="1.3" fill="#2a3672"/>
<circle cx="577.1" cy="662.4" r="1.3" fill="#2a3672"/>
<circle cx="585.9" cy="659.6" r="1.3" fill="#2a3672"/>
<circle cx="559.0" cy="661.9" r="1.3" fill="#2a3672"/>
<circle cx="514.9" cy="660.7" r="1.3" fill="#2a3672"/>
<circle cx="536.7" cy="656.7" r="1.3" fill="#2a3672"/>
<circle cx="546.8" cy="660.4" r="1.3" fill="#2a3672"/>
<circle cx="506.3" cy="648.5" r="1.3" fill="#2a3672"/>
<circle cx="581.5" cy="657.6" r="1.3" fill="#2a3672"/>
<circle cx="570.2" cy="651.5" r="1.3" fill="#2a3672"/>
<circle cx="589.5" cy="635.4" r="1.3" fill="#2a3672"/>
<circle cx="556.2" cy="662.2" r="1.3" fill="#2a3672"/>
<circle cx="563.6" cy="658.5" r="1.3" fill="#2a3672"/>
<circle cx="506.4" cy="658.6" r="1.3" fill="#2a3672"/>
<circle cx="579.6" cy="662.2" r="1.3" fill="#2a3672"/>
<circle cx="499.6" cy="657.6" r="1.3" fill="#2a3672"/>
<circle cx="599.6" cy="659.7" r="1.3" fill="#2a3672"/>
<circle cx="563.0" cy="653.9" r="1.3" fill="#2a3672"/>
<circle cx="513.1" cy="658.3" r="1.3" fill="#2a3672"/>
<circle cx="488.3" cy="663.2" r="1.3" fill="#2a3672"/>
<circle cx="529.2" cy="654.8" r="1.3" fill="#2a3672"/>
<circle cx="475.1" cy="662.5" r="1.3" fill="#2a3672"/>
<circle cx="499.7" cy="661.3" r="1.3" fill="#2a3672"/>
<circle cx="513.9" cy="662.2" r="1.3" fill="#2a3672"/>
<circle cx="575.5" cy="653.9" r="1.3" fill="#2a3672"/>
<circle cx="577.5" cy="663.3" r="1.3" fill="#2a3672"/>
<circle cx="573.4" cy="659.8" r="1.3" fill="#2a3672"/>
<circle cx="526.3" cy="658.3" r="1.3" fill="#2a3672"/>
<circle cx="566.3" cy="660.8" r="1.3" fill="#2a3672"/>
<circle cx="538.0" cy="662.6" r="1.3" fill="#2a3672"/>
<circle cx="585.4" cy="634.8" r="1.3" fill="#2a3672"/>
<circle cx="597.9" cy="641.0" r="1.3" fill="#2a3672"/>
<circle cx="479.3" cy="662.7" r="1.3" fill="#2a3672"/>
<circle cx="530.3" cy="657.0" r="1.3" fill="#2a3672"/>
<circle cx="530.4" cy="662.4" r="1.3" fill="#2a3672"/>
<circle cx="523.5" cy="662.4" r="1.3" fill="#2a3672"/>
<circle cx="567.8" cy="660.5" r="1.3" fill="#2a3672"/>
<circle cx="496.1" cy="662.3" r="1.3" fill="#2a3672"/>
<circle cx="505.2" cy="657.2" r="1.3" fill="#2a3672"/>
<circle cx="599.4" cy="638.3" r="1.3" fill="#2a3672"/>
<circle cx="592.3" cy="648.6" r="1.3" fill="#2a3672"/>
<circle cx="478.2" cy="663.4" r="1.3" fill="#2a3672"/>
<circle cx="584.8" cy="646.7" r="1.3" fill="#2a3672"/>
<circle cx="504.9" cy="662.6" r="1.3" fill="#2a3672"/>
<circle cx="554.0" cy="660.3" r="1.3" fill="#2a3672"/>
<circle cx="475.7" cy="661.2" r="1.3" fill="#2a3672"/>
<circle cx="589.5" cy="653.6" r="1.3" fill="#2a3672"/>
<circle cx="483.4" cy="662.6" r="1.3" fill="#2a3672"/>
<circle cx="573.4" cy="639.0" r="1.3" fill="#2a3672"/>
<circle cx="591.2" cy="654.8" r="1.3" fill="#2a3672"/>
<circle cx="579.3" cy="662.9" r="1.3" fill="#2a3672"/>
<circle cx="544.8" cy="662.6" r="1.3" fill="#2a3672"/>
<circle cx="503.4" cy="650.9" r="1.3" fill="#2a3672"/>
<circle cx="564.4" cy="659.1" r="1.3" fill="#2a3672"/>
<circle cx="567.4" cy="654.7" r="1.3" fill="#2a3672"/>
<circle cx="581.9" cy="663.4" r="1.3" fill="#2a3672"/>
<circle cx="498.3" cy="661.0" r="1.3" fill="#2a3672"/>
<circle cx="471.0" cy="650.4" r="1.3" fill="#2a3672"/>
<circle cx="531.6" cy="651.9" r="1.3" fill="#2a3672"/>
<circle cx="541.0" cy="662.1" r="1.3" fill="#2a3672"/>
<circle cx="553.0" cy="657.8" r="1.3" fill="#2a3672"/>
<circle cx="555.0" cy="662.0" r="1.3" fill="#2a3672"/>
<circle cx="590.5" cy="662.9" r="1.3" fill="#2a3672"/>
<circle cx="548.6" cy="662.3" r="1.3" fill="#2a3672"/>
<circle cx="530.6" cy="658.2" r="1.3" fill="#2a3672"/>
<circle cx="564.0" cy="663.1" r="1.3" fill="#2a3672"/>
<circle cx="566.3" cy="660.2" r="1.3" fill="#2a3672"/>
<circle cx="523.1" cy="656.9" r="1.3" fill="#2a3672"/>
<circle cx="501.7" cy="657.3" r="1.3" fill="#2a3672"/>
<circle cx="532.6" cy="654.7" r="1.3" fill="#2a3672"/>
<circle cx="549.6" cy="662.1" r="1.3" fill="#2a3672"/>
<circle cx="601.2" cy="660.9" r="1.3" fill="#2a3672"/>
<circle cx="574.8" cy="654.4" r="1.3" fill="#2a3672"/>
<circle cx="568.6" cy="663.0" r="1.3" fill="#2a3672"/>
<circle cx="599.8" cy="663.2" r="1.3" fill="#2a3672"/>
<circle cx="476.3" cy="649.5" r="1.3" fill="#2a3672"/>
<circle cx="499.0" cy="649.5" r="1.3" fill="#2a3672"/>
<circle cx="554.9" cy="660.8" r="1.3" fill="#2a3672"/>
<circle cx="490.2" cy="656.1" r="1.3" fill="#2a3672"/>
<circle cx="483.6" cy="649.1" r="1.3" fill="#2a3672"/>
<circle cx="494.7" cy="660.5" r="1.3" fill="#2a3672"/>
<circle cx="538.0" cy="657.8" r="1.3" fill="#2a3672"/>
<circle cx="588.3" cy="663.5" r="1.3" fill="#2a3672"/>
<circle cx="583.2" cy="654.4" r="1.3" fill="#2a3672"/>
<circle cx="536.7" cy="660.2" r="1.3" fill="#2a3672"/>
<circle cx="576.3" cy="663.2" r="1.3" fill="#2a3672"/>
<circle cx="542.5" cy="661.6" r="1.3" fill="#2a3672"/>
<circle cx="470.8" cy="663.3" r="1.3" fill="#2a3672"/>
<circle cx="580.3" cy="657.3" r="1.3" fill="#2a3672"/>
<circle cx="486.1" cy="662.3" r="1.3" fill="#2a3672"/>
<circle cx="526.9" cy="643.8" r="1.3" fill="#2a3672"/>
<circle cx="542.5" cy="663.1" r="1.3" fill="#2a3672"/>
<circle cx="567.1" cy="634.7" r="1.3" fill="#2a3672"/>
<circle cx="483.3" cy="661.6" r="1.3" fill="#2a3672"/>
<circle cx="571.4" cy="658.6" r="1.3" fill="#2a3672"/>
<circle cx="600.1" cy="663.4" r="1.3" fill="#2a3672"/>
<circle cx="479.8" cy="657.3" r="1.3" fill="#2a3672"/>
<circle cx="549.6" cy="660.3" r="1.3" fill="#2a3672"/>
<circle cx="524.1" cy="658.0" r="1.3" fill="#2a3672"/>
<circle cx="591.9" cy="643.7" r="1.3" fill="#2a3672"/>
<circle cx="591.4" cy="646.9" r="1.3" fill="#2a3672"/>
<circle cx="473.9" cy="653.5" r="1.3" fill="#2a3672"/>
<circle cx="527.2" cy="660.6" r="1.3" fill="#2a3672"/>
<circle cx="595.4" cy="657.1" r="1.3" fill="#2a3672"/>
<circle cx="503.5" cy="661.2" r="1.3" fill="#2a3672"/>
<circle cx="513.0" cy="660.4" r="1.3" fill="#2a3672"/>
<circle cx="600.5" cy="649.4" r="1.3" fill="#2a3672"/>
<circle cx="571.3" cy="655.8" r="1.3" fill="#2a3672"/>
<circle cx="506.3" cy="660.7" r="1.3" fill="#2a3672"/>
<circle cx="472.6" cy="652.1" r="1.3" fill="#2a3672"/>
<circle cx="592.5" cy="655.8" r="1.3" fill="#2a3672"/>
<circle cx="573.0" cy="648.1" r="1.3" fill="#2a3672"/>
<circle cx="540.7" cy="657.1" r="1.3" fill="#2a3672"/>
<circle cx="511.6" cy="661.1" r="1.3" fill="#2a3672"/>
<circle cx="541.4" cy="662.5" r="1.3" fill="#2a3672"/>
<circle cx="540.5" cy="660.7" r="1.3" fill="#2a3672"/>
<circle cx="594.7" cy="650.6" r="1.3" fill="#2a3672"/>
<circle cx="561.7" cy="662.2" r="1.3" fill="#2a3672"/>
<circle cx="498.1" cy="651.0" r="1.3" fill="#2a3672"/>
<circle cx="471.6" cy="656.9" r="1.3" fill="#2a3672"/>
<circle cx="601.6" cy="660.5" r="1.3" fill="#2a3672"/>
<circle cx="561.3" cy="656.3" r="1.3" fill="#2a3672"/>
<circle cx="570.1" cy="661.9" r="1.3" fill="#2a3672"/>
<circle cx="473.5" cy="662.3" r="1.3" fill="#2a3672"/>
<circle cx="504.4" cy="653.9" r="1.3" fill="#2a3672"/>
<circle cx="548.5" cy="658.7" r="1.3" fill="#2a3672"/>
<circle cx="562.4" cy="663.2" r="1.3" fill="#2a3672"/>
<circle cx="478.7" cy="661.1" r="1.3" fill="#2a3672"/>
<circle cx="488.7" cy="659.9" r="1.3" fill="#2a3672"/>
<circle cx="598.9" cy="661.8" r="1.3" fill="#2a3672"/>
<circle cx="572.3" cy="662.9" r="1.3" fill="#2a3672"/>
<circle cx="510.2" cy="657.4" r="1.3" fill="#2a3672"/>
<circle cx="529.1" cy="662.2" r="1.3" fill="#2a3672"/>
<circle cx="594.0" cy="654.1" r="1.3" fill="#2a3672"/>
<circle cx="473.9" cy="661.3" r="1.3" fill="#2a3672"/>
<circle cx="583.7" cy="646.8" r="1.3" fill="#2a3672"/>
<circle cx="506.8" cy="662.4" r="1.3" fill="#2a3672"/>
<circle cx="590.3" cy="657.8" r="1.3" fill="#2a3672"/>
<circle cx="548.0" cy="662.8" r="1.3" fill="#2a3672"/>
<circle cx="488.9" cy="642.2" r="1.3" fill="#2a3672"/>
<circle cx="520.8" cy="659.1" r="1.3" fill="#2a3672"/>
<circle cx="499.5" cy="663.4" r="1.3" fill="#2a3672"/>
<circle cx="583.4" cy="646.2" r="1.3" fill="#2a3672"/>
<circle cx="518.2" cy="660.5" r="1.3" fill="#2a3672"/>
<circle cx="574.8" cy="661.1" r="1.3" fill="#2a3672"/>
<circle cx="539.5" cy="662.5" r="1.3" fill="#2a3672"/>
<circle cx="575.8" cy="661.0" r="1.3" fill="#2a3672"/>
<circle cx="571.7" cy="662.4" r="1.3" fill="#2a3672"/>
<circle cx="499.0" cy="661.1" r="1.3" fill="#2a3672"/>
<circle cx="555.2" cy="652.8" r="1.3" fill="#2a3672"/>
<circle cx="476.5" cy="654.0" r="1.3" fill="#2a3672"/>
<circle cx="501.1" cy="660.5" r="1.3" fill="#2a3672"/>
<circle cx="485.2" cy="657.0" r="1.3" fill="#2a3672"/>
<circle cx="482.3" cy="660.1" r="1.3" fill="#2a3672"/>
<circle cx="493.0" cy="660.5" r="1.3" fill="#2a3672"/>
<circle cx="485.6" cy="661.1" r="1.3" fill="#2a3672"/>
<circle cx="532.3" cy="657.7" r="1.3" fill="#2a3672"/>
<circle cx="479.3" cy="656.3" r="1.3" fill="#2a3672"/>
<circle cx="544.8" cy="644.0" r="1.3" fill="#2a3672"/>
<circle cx="584.1" cy="648.4" r="1.3" fill="#2a3672"/>
<circle cx="539.7" cy="662.8" r="1.3" fill="#2a3672"/>
<circle cx="585.0" cy="663.0" r="1.3" fill="#2a3672"/>
<circle cx="505.1" cy="657.8" r="1.3" fill="#2a3672"/>
<circle cx="567.2" cy="660.3" r="1.3" fill="#2a3672"/>
<circle cx="512.1" cy="657.8" r="1.3" fill="#2a3672"/>
<circle cx="517.9" cy="641.7" r="1.3" fill="#2a3672"/>
<circle cx="533.9" cy="663.5" r="1.3" fill="#2a3672"/>
<circle cx="556.8" cy="663.4" r="1.3" fill="#2a3672"/>
<circle cx="532.4" cy="658.0" r="1.3" fill="#2a3672"/>
<circle cx="501.0" cy="658.6" r="1.3" fill="#2a3672"/>
<circle cx="556.5" cy="654.9" r="1.3" fill="#2a3672"/>
<circle cx="595.8" cy="646.1" r="1.3" fill="#2a3672"/>
<circle cx="518.8" cy="659.5" r="1.3" fill="#2a3672"/>
<circle cx="500.0" cy="651.3" r="1.3" fill="#2a3672"/>
<circle cx="480.7" cy="663.3" r="1.3" fill="#2a3672"/>
<circle cx="528.3" cy="662.4" r="1.3" fill="#2a3672"/>
<circle cx="569.6" cy="648.8" r="1.3" fill="#2a3672"/>
<circle cx="523.3" cy="663.4" r="1.3" fill="#2a3672"/>
<circle cx="596.1" cy="660.1" r="1.3" fill="#2a3672"/>
<circle cx="538.0" cy="659.4" r="1.3" fill="#2a3672"/>
<circle cx="601.9" cy="662.2" r="1.3" fill="#2a3672"/>
<circle cx="580.9" cy="622.6" r="1.3" fill="#2a3672"/>
<circle cx="530.6" cy="646.4" r="1.3" fill="#2a3672"/>
<circle cx="512.7" cy="661.3" r="1.3" fill="#2a3672"/>
<circle cx="558.9" cy="661.0" r="1.3" fill="#2a3672"/>
<circle cx="491.4" cy="663.5" r="1.3" fill="#2a3672"/>
<circle cx="550.7" cy="660.3" r="1.3" fill="#2a3672"/>
<circle cx="544.6" cy="663.0" r="1.3" fill="#2a3672"/>
<circle cx="501.8" cy="646.6" r="1.3" fill="#2a3672"/>
<circle cx="489.7" cy="659.6" r="1.3" fill="#2a3672"/>
<circle cx="547.2" cy="663.2" r="1.3" fill="#2a3672"/>
<circle cx="501.0" cy="658.9" r="1.3" fill="#2a3672"/>
<circle cx="530.1" cy="652.0" r="1.3" fill="#2a3672"/>
<circle cx="557.9" cy="630.8" r="1.3" fill="#2a3672"/>
<circle cx="505.6" cy="658.6" r="1.3" fill="#2a3672"/>
<circle cx="476.7" cy="662.5" r="1.3" fill="#2a3672"/>
<circle cx="472.1" cy="661.7" r="1.3" fill="#2a3672"/>
<circle cx="598.6" cy="658.9" r="1.3" fill="#2a3672"/>
<circle cx="540.3" cy="653.7" r="1.3" fill="#2a3672"/>
<circle cx="556.8" cy="662.8" r="1.3" fill="#2a3672"/>
<circle cx="502.3" cy="658.9" r="1.3" fill="#2a3672"/>
<circle cx="576.5" cy="635.1" r="1.3" fill="#2a3672"/>
<circle cx="495.5" cy="651.5" r="1.3" fill="#2a3672"/>
<circle cx="545.8" cy="659.2" r="1.3" fill="#2a3672"/>
<circle cx="503.9" cy="661.1" r="1.3" fill="#2a3672"/>
<circle cx="539.6" cy="663.2" r="1.3" fill="#2a3672"/>
<circle cx="568.5" cy="660.1" r="1.3" fill="#2a3672"/>
<circle cx="559.3" cy="663.4" r="1.3" fill="#2a3672"/>
<circle cx="533.1" cy="659.0" r="1.3" fill="#2a3672"/>
<circle cx="556.0" cy="646.8" r="1.3" fill="#2a3672"/>
<circle cx="574.5" cy="660.5" r="1.3" fill="#2a3672"/>
<circle cx="597.4" cy="660.7" r="1.3" fill="#2a3672"/>
<circle cx="597.9" cy="661.2" r="1.3" fill="#2a3672"/>
<circle cx="567.7" cy="657.8" r="1.3" fill="#2a3672"/>
<circle cx="571.9" cy="662.2" r="1.3" fill="#2a3672"/>
<circle cx="498.4" cy="663.3" r="1.3" fill="#2a3672"/>
<circle cx="487.9" cy="660.6" r="1.3" fill="#2a3672"/>
<circle cx="480.2" cy="648.5" r="1.3" fill="#2a3672"/>
<circle cx="546.7" cy="659.0" r="1.3" fill="#2a3672"/>
<circle cx="528.0" cy="660.0" r="1.3" fill="#2a3672"/>
<circle cx="472.1" cy="662.6" r="1.3" fill="#2a3672"/>
<circle cx="519.0" cy="634.1" r="1.3" fill="#2a3672"/>
<circle cx="581.1" cy="658.2" r="1.3" fill="#2a3672"/>
<circle cx="563.7" cy="660.1" r="1.3" fill="#2a3672"/>
<circle cx="571.9" cy="661.9" r="1.3" fill="#2a3672"/>
<circle cx="579.2" cy="653.5" r="1.3" fill="#2a3672"/>
<circle cx="586.4" cy="662.3" r="1.3" fill="#2a3672"/>
<circle cx="471.8" cy="656.7" r="1.3" fill="#2a3672"/>
<circle cx="506.1" cy="663.5" r="1.3" fill="#2a3672"/>
<circle cx="492.9" cy="663.5" r="1.3" fill="#2a3672"/>
<circle cx="500.4" cy="657.0" r="1.3" fill="#2a3672"/>
<circle cx="601.3" cy="662.9" r="1.3" fill="#2a3672"/>
<circle cx="594.3" cy="661.9" r="1.3" fill="#2a3672"/>
<circle cx="514.5" cy="661.5" r="1.3" fill="#2a3672"/>
<circle cx="525.4" cy="661.9" r="1.3" fill="#2a3672"/>
<circle cx="477.1" cy="662.6" r="1.3" fill="#2a3672"/>
<circle cx="482.0" cy="657.2" r="1.3" fill="#2a3672"/>
<circle cx="504.8" cy="651.5" r="1.3" fill="#2a3672"/>
<circle cx="515.3" cy="662.4" r="1.3" fill="#2a3672"/>
<circle cx="593.5" cy="663.2" r="1.3" fill="#2a3672"/>
<circle cx="490.3" cy="660.9" r="1.3" fill="#2a3672"/>
<circle cx="565.3" cy="655.1" r="1.3" fill="#2a3672"/>
<circle cx="576.6" cy="658.9" r="1.3" fill="#2a3672"/>
<circle cx="495.3" cy="654.9" r="1.3" fill="#2a3672"/>
<circle cx="575.2" cy="663.0" r="1.3" fill="#2a3672"/>
<circle cx="558.2" cy="662.7" r="1.3" fill="#2a3672"/>
<circle cx="495.5" cy="662.9" r="1.3" fill="#2a3672"/>
<circle cx="554.2" cy="661.9" r="1.3" fill="#2a3672"/>
<circle cx="526.2" cy="656.7" r="1.3" fill="#2a3672"/>
<circle cx="473.9" cy="661.4" r="1.3" fill="#2a3672"/>
<circle cx="508.5" cy="657.3" r="1.3" fill="#2a3672"/>
<circle cx="551.7" cy="661.5" r="1.3" fill="#2a3672"/>
<circle cx="511.2" cy="661.9" r="1.3" fill="#2a3672"/>
<circle cx="490.8" cy="655.7" r="1.3" fill="#2a3672"/>
<circle cx="580.0" cy="646.8" r="1.3" fill="#2a3672"/>
<circle cx="575.6" cy="661.5" r="1.3" fill="#2a3672"/>
<circle cx="565.9" cy="658.6" r="1.3" fill="#2a3672"/>
<circle cx="481.7" cy="659.7" r="1.3" fill="#2a3672"/>
<circle cx="489.9" cy="627.4" r="1.3" fill="#2a3672"/>
<circle cx="531.3" cy="662.8" r="1.3" fill="#2a3672"/>
<circle cx="537.3" cy="661.8" r="1.3" fill="#2a3672"/>
<circle cx="565.2" cy="655.7" r="1.3" fill="#2a3672"/>
<circle cx="483.9" cy="660.9" r="1.3" fill="#2a3672"/>
<circle cx="534.2" cy="659.4" r="1.3" fill="#2a3672"/>
<circle cx="499.4" cy="660.1" r="1.3" fill="#2a3672"/>
<circle cx="564.7" cy="656.0" r="1.3" fill="#2a3672"/>
<circle cx="529.3" cy="629.4" r="1.3" fill="#2a3672"/>
<circle cx="552.2" cy="660.3" r="1.3" fill="#2a3672"/>
<circle cx="554.6" cy="663.3" r="1.3" fill="#2a3672"/>
<circle cx="600.5" cy="662.3" r="1.3" fill="#2a3672"/>
<circle cx="531.9" cy="661.6" r="1.3" fill="#2a3672"/>
<circle cx="478.9" cy="650.1" r="1.3" fill="#2a3672"/>
<circle cx="528.1" cy="660.9" r="1.3" fill="#2a3672"/>
<circle cx="482.3" cy="662.9" r="1.3" fill="#2a3672"/>
<circle cx="508.2" cy="662.0" r="1.3" fill="#2a3672"/>
<circle cx="484.0" cy="662.6" r="1.3" fill="#2a3672"/>
<circle cx="540.6" cy="662.4" r="1.3" fill="#2a3672"/>
<circle cx="492.9" cy="653.7" r="1.3" fill="#2a3672"/>
<circle cx="514.8" cy="662.0" r="1.3" fill="#2a3672"/>
<circle cx="599.2" cy="661.9" r="1.3" fill="#2a3672"/>
<circle cx="568.5" cy="630.8" r="1.3" fill="#2a3672"/>
<circle cx="532.8" cy="657.0" r="1.3" fill="#2a3672"/>
<circle cx="508.3" cy="656.9" r="1.3" fill="#2a3672"/>
<circle cx="567.6" cy="662.4" r="1.3" fill="#2a3672"/>
<circle cx="597.4" cy="654.7" r="1.3" fill="#2a3672"/>
<circle cx="514.9" cy="662.0" r="1.3" fill="#2a3672"/>
<circle cx="532.3" cy="662.3" r="1.3" fill="#2a3672"/>
<circle cx="583.6" cy="662.5" r="1.3" fill="#2a3672"/>
<circle cx="569.0" cy="662.4" r="1.3" fill="#2a3672"/>
<circle cx="525.5" cy="630.5" r="1.3" fill="#2a3672"/>
<circle cx="546.4" cy="658.2" r="1.3" fill="#2a3672"/>
<circle cx="550.6" cy="637.7" r="1.3" fill="#2a3672"/>
<circle cx="513.4" cy="637.2" r="1.3" fill="#2a3672"/>
<circle cx="505.2" cy="661.0" r="1.3" fill="#2a3672"/>
<circle cx="516.8" cy="662.9" r="1.3" fill="#2a3672"/>
<circle cx="500.1" cy="657.2" r="1.3" fill="#2a3672"/>
<circle cx="554.5" cy="651.1" r="1.3" fill="#2a3672"/>
<circle cx="502.4" cy="646.8" r="1.3" fill="#2a3672"/>
<circle cx="601.8" cy="651.6" r="1.3" fill="#2a3672"/>
<circle cx="578.1" cy="657.9" r="1.3" fill="#2a3672"/>
<circle cx="520.5" cy="660.6" r="1.3" fill="#2a3672"/>
<circle cx="541.6" cy="657.2" r="1.3" fill="#2a3672"/>
<circle cx="515.8" cy="629.6" r="1.3" fill="#2a3672"/>
<circle cx="586.9" cy="648.9" r="1.3" fill="#2a3672"/>
<circle cx="568.9" cy="657.9" r="1.3" fill="#2a3672"/>
<circle cx="476.2" cy="656.6" r="1.3" fill="#2a3672"/>
<circle cx="530.5" cy="655.5" r="1.3" fill="#2a3672"/>
<circle cx="574.0" cy="661.3" r="1.3" fill="#2a3672"/>
<circle cx="515.1" cy="662.9" r="1.3" fill="#2a3672"/>
<circle cx="513.4" cy="655.1" r="1.3" fill="#2a3672"/>
<circle cx="500.0" cy="663.1" r="1.3" fill="#2a3672"/>
<circle cx="568.5" cy="660.2" r="1.3" fill="#2a3672"/>
<circle cx="523.3" cy="660.3" r="1.3" fill="#2a3672"/>
<circle cx="554.0" cy="657.9" r="1.3" fill="#2a3672"/>
<circle cx="589.6" cy="657.5" r="1.3" fill="#2a3672"/>
<circle cx="586.2" cy="662.9" r="1.3" fill="#2a3672"/>
<circle cx="548.1" cy="657.3" r="1.3" fill="#2a3672"/>
<circle cx="534.3" cy="655.7" r="1.3" fill="#2a3672"/>
<circle cx="558.4" cy="661.1" r="1.3" fill="#2a3672"/>
<circle cx="518.2" cy="639.8" r="1.3" fill="#2a3672"/>
<circle cx="486.4" cy="663.0" r="1.3" fill="#2a3672"/>
<circle cx="548.5" cy="656.9" r="1.3" fill="#2a3672"/>
<circle cx="527.0" cy="659.6" r="1.3" fill="#2a3672"/>
<circle cx="579.1" cy="659.4" r="1.3" fill="#2a3672"/>
<circle cx="499.4" cy="643.4" r="1.3" fill="#2a3672"/>
<circle cx="499.0" cy="659.1" r="1.3" fill="#2a3672"/>
<circle cx="520.5" cy="649.5" r="1.3" fill="#2a3672"/>
<circle cx="496.7" cy="661.4" r="1.3" fill="#2a3672"/>
<circle cx="567.3" cy="659.3" r="1.3" fill="#2a3672"/>
<circle cx="536.4" cy="662.9" r="1.3" fill="#2a3672"/>
<circle cx="597.2" cy="656.4" r="1.3" fill="#2a3672"/>
<circle cx="575.7" cy="650.8" r="1.3" fill="#2a3672"/>
<circle cx="543.2" cy="651.4" r="1.3" fill="#2a3672"/>
<circle cx="518.0" cy="658.9" r="1.3" fill="#2a3672"/>
<circle cx="472.9" cy="651.5" r="1.3" fill="#2a3672"/>
<circle cx="589.7" cy="652.1" r="1.3" fill="#2a3672"/>
<circle cx="594.0" cy="662.7" r="1.3" fill="#2a3672"/>
<circle cx="553.9" cy="658.7" r="1.3" fill="#2a3672"/>
<circle cx="550.0" cy="661.8" r="1.3" fill="#2a3672"/>
<circle cx="525.8" cy="660.2" r="1.3" fill="#2a3672"/>
<circle cx="482.1" cy="661.3" r="1.3" fill="#2a3672"/>
<circle cx="565.3" cy="659.1" r="1.3" fill="#2a3672"/>
<circle cx="503.8" cy="662.5" r="1.3" fill="#2a3672"/>
<circle cx="550.1" cy="661.6" r="1.3" fill="#2a3672"/>
<circle cx="547.8" cy="655.3" r="1.3" fill="#2a3672"/>
<circle cx="564.6" cy="661.8" r="1.3" fill="#2a3672"/>
<circle cx="581.5" cy="662.9" r="1.3" fill="#2a3672"/>
<circle cx="595.6" cy="663.0" r="1.3" fill="#2a3672"/>
<circle cx="479.1" cy="653.1" r="1.3" fill="#2a3672"/>
<circle cx="488.7" cy="658.2" r="1.3" fill="#2a3672"/>
<circle cx="602.7" cy="655.9" r="1.3" fill="#2a3672"/>
<circle cx="502.4" cy="662.6" r="1.3" fill="#2a3672"/>
<circle cx="524.4" cy="661.6" r="1.3" fill="#2a3672"/>
<circle cx="491.4" cy="663.0" r="1.3" fill="#2a3672"/>
<circle cx="495.5" cy="659.8" r="1.3" fill="#2a3672"/>
<circle cx="494.3" cy="660.5" r="1.3" fill="#2a3672"/>
<circle cx="599.4" cy="648.3" r="1.3" fill="#2a3672"/>
<circle cx="532.6" cy="660.2" r="1.3" fill="#2a3672"/>
<circle cx="489.1" cy="663.1" r="1.3" fill="#2a3672"/>
<circle cx="563.2" cy="655.5" r="1.3" fill="#2a3672"/>
<circle cx="517.0" cy="661.2" r="1.3" fill="#2a3672"/>
<circle cx="561.8" cy="662.6" r="1.3" fill="#2a3672"/>
<circle cx="584.9" cy="663.5" r="1.3" fill="#2a3672"/>
<circle cx="583.0" cy="657.5" r="1.3" fill="#2a3672"/>
<circle cx="553.7" cy="659.0" r="1.3" fill="#2a3672"/>
<circle cx="527.4" cy="659.3" r="1.3" fill="#2a3672"/>
<circle cx="558.1" cy="632.2" r="1.3" fill="#2a3672"/>
<circle cx="489.2" cy="653.5" r="1.3" fill="#2a3672"/>
<circle cx="575.2" cy="657.6" r="1.3" fill="#2a3672"/>
<circle cx="515.1" cy="649.7" r="1.3" fill="#2a3672"/>
<circle cx="523.4" cy="662.9" r="1.3" fill="#2a3672"/>
<circle cx="589.4" cy="663.0" r="1.3" fill="#2a3672"/>
<circle cx="512.9" cy="659.9" r="1.3" fill="#2a3672"/>
<circle cx="518.2" cy="654.9" r="1.3" fill="#2a3672"/>
<circle cx="540.7" cy="657.4" r="1.3" fill="#2a3672"/>
<circle cx="533.3" cy="661.7" r="1.3" fill="#2a3672"/>
<circle cx="550.9" cy="660.9" r="1.3" fill="#2a3672"/>
<circle cx="519.1" cy="661.1" r="1.3" fill="#2a3672"/>
<circle cx="591.4" cy="661.8" r="1.3" fill="#2a3672"/>
<circle cx="514.1" cy="660.7" r="1.3" fill="#2a3672"/>
<circle cx="561.7" cy="662.4" r="1.3" fill="#2a3672"/>
<circle cx="477.7" cy="662.1" r="1.3" fill="#2a3672"/>
<circle cx="500.2" cy="661.9" r="1.3" fill="#2a3672"/>
<circle cx="567.5" cy="627.6" r="1.3" fill="#2a3672"/>
<circle cx="595.9" cy="650.1" r="1.3" fill="#2a3672"/>
<circle cx="481.7" cy="657.7" r="1.3" fill="#2a3672"/>
<circle cx="495.5" cy="631.9" r="1.3" fill="#2a3672"/>
<circle cx="521.2" cy="652.7" r="1.3" fill="#2a3672"/>
<circle cx="570.2" cy="643.7" r="1.3" fill="#2a3672"/>
<circle cx="474.9" cy="662.8" r="1.3" fill="#2a3672"/>
<circle cx="472.7" cy="658.3" r="1.3" fill="#2a3672"/>
<circle cx="484.8" cy="662.5" r="1.3" fill="#2a3672"/>
<circle cx="551.0" cy="645.2" r="1.3" fill="#2a3672"/>
<circle cx="517.8" cy="652.3" r="1.3" fill="#2a3672"/>
<circle cx="521.9" cy="662.1" r="1.3" fill="#2a3672"/>
<circle cx="599.6" cy="653.1" r="1.3" fill="#2a3672"/>
<circle cx="493.1" cy="662.6" r="1.3" fill="#2a3672"/>
<circle cx="516.6" cy="662.4" r="1.3" fill="#2a3672"/>
<circle cx="540.4" cy="663.4" r="1.3" fill="#2a3672"/>
<circle cx="528.4" cy="651.9" r="1.3" fill="#2a3672"/>
<circle cx="530.0" cy="652.5" r="1.3" fill="#2a3672"/>
<circle cx="514.7" cy="648.4" r="1.3" fill="#2a3672"/>
<circle cx="584.3" cy="650.3" r="1.3" fill="#2a3672"/>
<circle cx="488.8" cy="661.0" r="1.3" fill="#2a3672"/>
<circle cx="561.8" cy="655.0" r="1.3" fill="#2a3672"/>
<circle cx="574.5" cy="663.5" r="1.3" fill="#2a3672"/>
<circle cx="576.1" cy="657.7" r="1.3" fill="#2a3672"/>
<circle cx="545.7" cy="660.4" r="1.3" fill="#2a3672"/>
<circle cx="597.7" cy="640.8" r="1.3" fill="#2a3672"/>
<circle cx="551.7" cy="661.0" r="1.3" fill="#2a3672"/>
<circle cx="505.6" cy="648.7" r="1.3" fill="#2a3672"/>
<circle cx="574.8" cy="621.3" r="1.3" fill="#2a3672"/>
<circle cx="561.4" cy="656.1" r="1.3" fill="#2a3672"/>
<circle cx="504.7" cy="662.6" r="1.3" fill="#2a3672"/>
<circle cx="584.0" cy="661.8" r="1.3" fill="#2a3672"/>
<circle cx="592.7" cy="649.5" r="1.3" fill="#2a3672"/>
<circle cx="570.6" cy="656.0" r="1.3" fill="#2a3672"/>
<circle cx="546.2" cy="658.3" r="1.3" fill="#2a3672"/>
<circle cx="526.7" cy="662.1" r="1.3" fill="#2a3672"/>
<circle cx="573.3" cy="661.8" r="1.3" fill="#2a3672"/>
<circle cx="484.9" cy="656.1" r="1.3" fill="#2a3672"/>
<circle cx="566.6" cy="656.6" r="1.3" fill="#2a3672"/>
<circle cx="556.2" cy="659.9" r="1.3" fill="#2a3672"/>
<circle cx="565.9" cy="657.9" r="1.3" fill="#2a3672"/>
<circle cx="506.8" cy="650.2" r="1.3" fill="#2a3672"/>
<circle cx="595.4" cy="658.5" r="1.3" fill="#2a3672"/>
<circle cx="546.0" cy="655.1" r="1.3" fill="#2a3672"/>
<circle cx="530.6" cy="657.6" r="1.3" fill="#2a3672"/>
<circle cx="596.3" cy="662.8" r="1.3" fill="#2a3672"/>
<circle cx="569.6" cy="657.5" r="1.3" fill="#2a3672"/>
<circle cx="476.9" cy="656.7" r="1.3" fill="#2a3672"/>
<circle cx="568.4" cy="658.2" r="1.3" fill="#2a3672"/>
<circle cx="520.0" cy="654.6" r="1.3" fill="#2a3672"/>
<circle cx="474.2" cy="663.0" r="1.3" fill="#2a3672"/>
<circle cx="583.2" cy="663.0" r="1.3" fill="#2a3672"/>
<circle cx="531.7" cy="656.8" r="1.3" fill="#2a3672"/>
<circle cx="566.9" cy="649.3" r="1.3" fill="#2a3672"/>
<circle cx="494.5" cy="654.6" r="1.3" fill="#2a3672"/>
<circle cx="485.8" cy="659.9" r="1.3" fill="#2a3672"/>
<circle cx="514.6" cy="649.5" r="1.3" fill="#2a3672"/>
<circle cx="532.9" cy="661.5" r="1.3" fill="#2a3672"/>
<circle cx="591.4" cy="651.1" r="1.3" fill="#2a3672"/>
<circle cx="551.4" cy="650.9" r="1.3" fill="#2a3672"/>
<circle cx="553.8" cy="653.4" r="1.3" fill="#2a3672"/>
<circle cx="528.9" cy="650.6" r="1.3" fill="#2a3672"/>
<circle cx="577.1" cy="656.3" r="1.3" fill="#2a3672"/>
<circle cx="500.7" cy="654.4" r="1.3" fill="#2a3672"/>
<circle cx="597.9" cy="662.0" r="1.3" fill="#2a3672"/>
<circle cx="560.9" cy="660.8" r="1.3" fill="#2a3672"/>
<circle cx="492.1" cy="660.2" r="1.3" fill="#2a3672"/>
<circle cx="535.5" cy="661.8" r="1.3" fill="#2a3672"/>
<circle cx="543.6" cy="658.2" r="1.3" fill="#2a3672"/>
<circle cx="491.4" cy="655.4" r="1.3" fill="#2a3672"/>
<circle cx="597.6" cy="662.2" r="1.3" fill="#2a3672"/>
<circle cx="547.4" cy="660.6" r="1.3" fill="#2a3672"/>
<circle cx="542.7" cy="663.4" r="1.3" fill="#2a3672"/>
<circle cx="497.0" cy="661.7" r="1.3" fill="#2a3672"/>
<circle cx="553.6" cy="647.9" r="1.3" fill="#2a3672"/>
<circle cx="561.1" cy="647.8" r="1.3" fill="#2a3672"/>
<circle cx="554.3" cy="653.1" r="1.3" fill="#2a3672"/>
<circle cx="559.0" cy="658.6" r="1.3" fill="#2a3672"/>
<circle cx="509.8" cy="660.2" r="1.3" fill="#2a3672"/>
<circle cx="599.4" cy="663.4" r="1.3" fill="#2a3672"/>
<circle cx="543.5" cy="660.9" r="1.3" fill="#2a3672"/>
<circle cx="485.5" cy="648.8" r="1.3" fill="#2a3672"/>
<circle cx="560.9" cy="656.6" r="1.3" fill="#2a3672"/>
<circle cx="564.8" cy="663.2" r="1.3" fill="#2a3672"/>
<circle cx="526.6" cy="657.7" r="1.3" fill="#2a3672"/>
<circle cx="545.5" cy="661.5" r="1.3" fill="#2a3672"/>
<circle cx="590.0" cy="654.4" r="1.3" fill="#2a3672"/>
<circle cx="471.5" cy="662.5" r="1.3" fill="#2a3672"/>
<circle cx="580.7" cy="649.4" r="1.3" fill="#2a3672"/>
<circle cx="505.4" cy="656.7" r="1.3" fill="#2a3672"/>
<circle cx="512.9" cy="655.8" r="1.3" fill="#2a3672"/>
<circle cx="562.7" cy="654.2" r="1.3" fill="#2a3672"/>
<circle cx="600.5" cy="656.3" r="1.3" fill="#2a3672"/>
<circle cx="505.8" cy="661.1" r="1.3" fill="#2a3672"/>
<circle cx="558.0" cy="653.4" r="1.3" fill="#2a3672"/>
<circle cx="552.8" cy="662.6" r="1.3" fill="#2a3672"/>
<circle cx="566.5" cy="661.2" r="1.3" fill="#2a3672"/>
<circle cx="589.7" cy="662.7" r="1.3" fill="#2a3672"/>
<circle cx="490.9" cy="658.8" r="1.3" fill="#2a3672"/>
<circle cx="576.5" cy="659.8" r="1.3" fill="#2a3672"/>
<circle cx="546.3" cy="661.5" r="1.3" fill="#2a3672"/>
<circle cx="542.2" cy="663.3" r="1.3" fill="#2a3672"/>
<circle cx="526.1" cy="656.1" r="1.3" fill="#2a3672"/>
<circle cx="502.0" cy="660.6" r="1.3" fill="#2a3672"/>
<circle cx="482.1" cy="660.9" r="1.3" fill="#2a3672"/>
<circle cx="514.5" cy="659.3" r="1.3" fill="#2a3672"/>
<circle cx="559.0" cy="656.7" r="1.3" fill="#2a3672"/>
<circle cx="536.8" cy="657.8" r="1.3" fill="#2a3672"/>
<circle cx="493.9" cy="663.0" r="1.3" fill="#2a3672"/>
<circle cx="514.0" cy="658.0" r="1.3" fill="#2a3672"/>
<circle cx="526.2" cy="659.7" r="1.3" fill="#2a3672"/>
<circle cx="594.6" cy="662.6" r="1.3" fill="#2a3672"/>
<circle cx="510.5" cy="650.9" r="1.3" fill="#2a3672"/>
<circle cx="563.9" cy="662.5" r="1.3" fill="#2a3672"/>
<circle cx="475.8" cy="653.6" r="1.3" fill="#2a3672"/>
<circle cx="556.1" cy="658.3" r="1.3" fill="#2a3672"/>
<circle cx="477.6" cy="661.4" r="1.3" fill="#2a3672"/>
<circle cx="483.4" cy="649.1" r="1.3" fill="#2a3672"/>
<circle cx="537.8" cy="659.4" r="1.3" fill="#2a3672"/>
<circle cx="527.5" cy="663.0" r="1.3" fill="#2a3672"/>
<circle cx="590.0" cy="662.2" r="1.3" fill="#2a3672"/>
<circle cx="522.9" cy="663.0" r="1.3" fill="#2a3672"/>
<circle cx="561.4" cy="657.9" r="1.3" fill="#2a3672"/>
<circle cx="505.3" cy="662.2" r="1.3" fill="#2a3672"/>
<circle cx="523.2" cy="660.5" r="1.3" fill="#2a3672"/>
<circle cx="490.5" cy="659.4" r="1.3" fill="#2a3672"/>
<circle cx="601.7" cy="662.6" r="1.3" fill="#2a3672"/>
<circle cx="536.7" cy="662.7" r="1.3" fill="#2a3672"/>
<circle cx="559.0" cy="654.8" r="1.3" fill="#2a3672"/>
<circle cx="508.7" cy="645.1" r="1.3" fill="#2a3672"/>
<circle cx="532.9" cy="661.1" r="1.3" fill="#2a3672"/>
<circle cx="486.7" cy="657.2" r="1.3" fill="#2a3672"/>
<circle cx="546.8" cy="663.2" r="1.3" fill="#2a3672"/>
<circle cx="565.1" cy="661.6" r="1.3" fill="#2a3672"/>
<circle cx="512.7" cy="658.9" r="1.3" fill="#2a3672"/>
<circle cx="566.1" cy="657.3" r="1.3" fill="#2a3672"/>
<circle cx="518.6" cy="661.8" r="1.3" fill="#2a3672"/>
<circle cx="600.1" cy="663.5" r="1.3" fill="#2a3672"/>
<circle cx="482.0" cy="642.7" r="1.3" fill="#2a3672"/>
<circle cx="554.6" cy="652.7" r="1.3" fill="#2a3672"/>
<circle cx="565.3" cy="661.0" r="1.3" fill="#2a3672"/>
<circle cx="559.2" cy="663.3" r="1.3" fill="#2a3672"/>
<circle cx="516.9" cy="660.3" r="1.3" fill="#2a3672"/>
<circle cx="590.9" cy="635.3" r="1.3" fill="#2a3672"/>
<circle cx="548.2" cy="654.7" r="1.3" fill="#2a3672"/>
<circle cx="596.1" cy="662.4" r="1.3" fill="#2a3672"/>
<circle cx="538.9" cy="662.0" r="1.3" fill="#2a3672"/>
<circle cx="519.6" cy="658.8" r="1.3" fill="#2a3672"/>
<circle cx="499.4" cy="659.8" r="1.3" fill="#2a3672"/>
<circle cx="536.9" cy="659.5" r="1.3" fill="#2a3672"/>
<circle cx="494.5" cy="661.8" r="1.3" fill="#2a3672"/>
<circle cx="572.4" cy="655.5" r="1.3" fill="#2a3672"/>
<circle cx="538.7" cy="653.9" r="1.3" fill="#2a3672"/>
<circle cx="537.8" cy="662.2" r="1.3" fill="#2a3672"/>
<circle cx="523.4" cy="654.5" r="1.3" fill="#2a3672"/>
<circle cx="534.1" cy="661.9" r="1.3" fill="#2a3672"/>
<circle cx="530.0" cy="661.6" r="1.3" fill="#2a3672"/>
<circle cx="517.7" cy="637.6" r="1.3" fill="#2a3672"/>
<circle cx="497.4" cy="655.4" r="1.3" fill="#2a3672"/>
<circle cx="557.0" cy="658.2" r="1.3" fill="#2a3672"/>
<circle cx="562.2" cy="663.2" r="1.3" fill="#2a3672"/>
<circle cx="517.8" cy="646.3" r="1.3" fill="#2a3672"/>
<circle cx="539.7" cy="651.0" r="1.3" fill="#2a3672"/>
<circle cx="576.9" cy="661.3" r="1.3" fill="#2a3672"/>
<circle cx="484.3" cy="647.3" r="1.3" fill="#2a3672"/>
<circle cx="534.8" cy="662.3" r="1.3" fill="#2a3672"/>
<circle cx="534.7" cy="655.2" r="1.3" fill="#2a3672"/>
<circle cx="582.9" cy="655.6" r="1.3" fill="#2a3672"/>
<circle cx="525.9" cy="644.3" r="1.3" fill="#2a3672"/>
<circle cx="494.2" cy="661.8" r="1.3" fill="#2a3672"/>
<circle cx="592.6" cy="658.9" r="1.3" fill="#2a3672"/>
<circle cx="583.2" cy="655.6" r="1.3" fill="#2a3672"/>
<circle cx="495.4" cy="655.9" r="1.3" fill="#2a3672"/>
<circle cx="485.7" cy="655.7" r="1.3" fill="#2a3672"/>
<circle cx="522.7" cy="662.0" r="1.3" fill="#2a3672"/>
<circle cx="472.5" cy="661.0" r="1.3" fill="#2a3672"/>
<circle cx="471.3" cy="656.0" r="1.3" fill="#2a3672"/>
<circle cx="514.1" cy="658.4" r="1.3" fill="#2a3672"/>
<circle cx="494.9" cy="657.6" r="1.3" fill="#2a3672"/>
<circle cx="551.2" cy="662.3" r="1.3" fill="#2a3672"/>
<circle cx="583.7" cy="659.5" r="1.3" fill="#2a3672"/>
<circle cx="547.9" cy="662.1" r="1.3" fill="#2a3672"/>
<circle cx="474.6" cy="658.1" r="1.3" fill="#2a3672"/>
<circle cx="550.0" cy="662.8" r="1.3" fill="#2a3672"/>
<circle cx="498.1" cy="660.7" r="1.3" fill="#2a3672"/>
<circle cx="518.2" cy="661.1" r="1.3" fill="#2a3672"/>
<circle cx="601.2" cy="653.3" r="1.3" fill="#2a3672"/>
<circle cx="502.2" cy="661.0" r="1.3" fill="#2a3672"/>
<circle cx="474.9" cy="649.2" r="1.3" fill="#2a3672"/>
<circle cx="505.7" cy="657.4" r="1.3" fill="#2a3672"/>
<circle cx="601.3" cy="661.0" r="1.3" fill="#2a3672"/>
<circle cx="500.1" cy="655.6" r="1.3" fill="#2a3672"/>
<circle cx="582.0" cy="660.9" r="1.3" fill="#2a3672"/>
<circle cx="576.3" cy="661.9" r="1.3" fill="#2a3672"/>
<circle cx="570.1" cy="637.4" r="1.3" fill="#2a3672"/>
<circle cx="481.9" cy="662.2" r="1.3" fill="#2a3672"/>
<circle cx="470.1" cy="663.0" r="1.3" fill="#2a3672"/>
<circle cx="518.9" cy="659.8" r="1.3" fill="#2a3672"/>
<circle cx="508.3" cy="659.7" r="1.3" fill="#2a3672"/>
<circle cx="600.6" cy="659.7" r="1.3" fill="#2a3672"/>
<circle cx="535.6" cy="656.2" r="1.3" fill="#2a3672"/>
<circle cx="497.7" cy="657.3" r="1.3" fill="#2a3672"/>
<circle cx="514.5" cy="659.1" r="1.3" fill="#2a3672"/>
<circle cx="507.6" cy="647.2" r="1.3" fill="#2a3672"/>
<circle cx="519.0" cy="657.9" r="1.3" fill="#2a3672"/>
<circle cx="540.7" cy="662.0" r="1.3" fill="#2a3672"/>
<circle cx="582.4" cy="660.7" r="1.3" fill="#2a3672"/>
<circle cx="597.3" cy="660.8" r="1.3" fill="#2a3672"/>
<circle cx="491.4" cy="657.8" r="1.3" fill="#2a3672"/>
<circle cx="529.3" cy="662.1" r="1.3" fill="#2a3672"/>
<circle cx="575.0" cy="654.1" r="1.3" fill="#2a3672"/>
<circle cx="519.7" cy="662.9" r="1.3" fill="#2a3672"/>
<circle cx="499.1" cy="648.9" r="1.3" fill="#2a3672"/>
<circle cx="559.8" cy="660.1" r="1.3" fill="#2a3672"/>
<circle cx="496.1" cy="658.1" r="1.3" fill="#2a3672"/>
<circle cx="562.2" cy="658.1" r="1.3" fill="#2a3672"/>
<circle cx="487.9" cy="662.5" r="1.3" fill="#2a3672"/>
<circle cx="537.7" cy="660.6" r="1.3" fill="#2a3672"/>
<circle cx="487.7" cy="658.5" r="1.3" fill="#2a3672"/>
<circle cx="487.7" cy="657.5" r="1.3" fill="#2a3672"/>
<circle cx="542.6" cy="657.9" r="1.3" fill="#2a3672"/>
<circle cx="545.9" cy="661.4" r="1.3" fill="#2a3672"/>
<circle cx="580.4" cy="656.1" r="1.3" fill="#2a3672"/>
<circle cx="518.3" cy="645.1" r="1.3" fill="#2a3672"/>
<circle cx="579.3" cy="662.9" r="1.3" fill="#2a3672"/>
<circle cx="551.3" cy="649.2" r="1.3" fill="#2a3672"/>
<circle cx="599.3" cy="660.9" r="1.3" fill="#2a3672"/>
<circle cx="582.5" cy="654.3" r="1.3" fill="#2a3672"/>
<circle cx="539.2" cy="655.4" r="1.3" fill="#2a3672"/>
<circle cx="528.4" cy="647.8" r="1.3" fill="#2a3672"/>
<circle cx="540.8" cy="662.1" r="1.3" fill="#2a3672"/>
<circle cx="589.5" cy="663.4" r="1.3" fill="#2a3672"/>
<circle cx="514.6" cy="663.1" r="1.3" fill="#2a3672"/>
<circle cx="552.9" cy="662.6" r="1.3" fill="#2a3672"/>
<circle cx="508.8" cy="650.2" r="1.3" fill="#2a3672"/>
<circle cx="590.4" cy="659.0" r="1.3" fill="#2a3672"/>
<circle cx="575.8" cy="649.8" r="1.3" fill="#2a3672"/>
<circle cx="577.8" cy="661.2" r="1.3" fill="#2a3672"/>
<circle cx="482.0" cy="655.1" r="1.3" fill="#2a3672"/>
<circle cx="551.4" cy="662.2" r="1.3" fill="#2a3672"/>
<circle cx="562.9" cy="655.4" r="1.3" fill="#2a3672"/>
<circle cx="530.5" cy="647.0" r="1.3" fill="#2a3672"/>
<circle cx="507.3" cy="645.6" r="1.3" fill="#2a3672"/>
<circle cx="502.8" cy="660.8" r="1.3" fill="#2a3672"/>
<circle cx="499.6" cy="647.3" r="1.3" fill="#2a3672"/>
<circle cx="518.8" cy="659.8" r="1.3" fill="#2a3672"/>
<circle cx="473.3" cy="651.9" r="1.3" fill="#2a3672"/>
<circle cx="586.5" cy="662.3" r="1.3" fill="#2a3672"/>
<circle cx="516.1" cy="643.9" r="1.3" fill="#2a3672"/>
<circle cx="523.9" cy="662.6" r="1.3" fill="#2a3672"/>
<circle cx="592.1" cy="659.8" r="1.3" fill="#2a3672"/>
<circle cx="574.6" cy="656.8" r="1.3" fill="#2a3672"/>
<circle cx="516.9" cy="661.6" r="1.3" fill="#2a3672"/>
<circle cx="506.6" cy="660.0" r="1.3" fill="#2a3672"/>
<circle cx="520.0" cy="662.2" r="1.3" fill="#2a3672"/>
<circle cx="528.1" cy="655.1" r="1.3" fill="#2a3672"/>
<circle cx="503.6" cy="655.8" r="1.3" fill="#2a3672"/>
<circle cx="549.9" cy="662.8" r="1.3" fill="#2a3672"/>
<circle cx="573.3" cy="653.1" r="1.3" fill="#2a3672"/>
<circle cx="574.5" cy="654.6" r="1.3" fill="#2a3672"/>
<circle cx="528.0" cy="647.5" r="1.3" fill="#2a3672"/>
<circle cx="495.0" cy="660.7" r="1.3" fill="#2a3672"/>
<circle cx="537.7" cy="662.6" r="1.3" fill="#2a3672"/>
<circle cx="585.2" cy="662.7" r="1.3" fill="#2a3672"/>
<circle cx="494.2" cy="662.4" r="1.3" fill="#2a3672"/>
<circle cx="533.1" cy="661.4" r="1.3" fill="#2a3672"/>
<circle cx="536.9" cy="663.4" r="1.3" fill="#2a3672"/>
<circle cx="593.7" cy="663.3" r="1.3" fill="#2a3672"/>
<circle cx="572.0" cy="659.4" r="1.3" fill="#2a3672"/>
<circle cx="498.8" cy="658.7" r="1.3" fill="#2a3672"/>
<circle cx="566.6" cy="659.0" r="1.3" fill="#2a3672"/>
<circle cx="556.1" cy="660.1" r="1.3" fill="#2a3672"/>
<circle cx="478.5" cy="657.3" r="1.3" fill="#2a3672"/>
<circle cx="490.2" cy="656.6" r="1.3" fill="#2a3672"/>
<circle cx="483.3" cy="640.4" r="1.3" fill="#2a3672"/>
<circle cx="476.5" cy="663.0" r="1.3" fill="#2a3672"/>
<circle cx="503.5" cy="660.0" r="1.3" fill="#2a3672"/>
<circle cx="503.1" cy="660.2" r="1.3" fill="#2a3672"/>
<circle cx="519.3" cy="637.5" r="1.3" fill="#2a3672"/>
<circle cx="485.0" cy="663.5" r="1.3" fill="#2a3672"/>
<circle cx="513.7" cy="657.2" r="1.3" fill="#2a3672"/>
<circle cx="573.7" cy="661.3" r="1.3" fill="#2a3672"/>
<circle cx="474.7" cy="659.0" r="1.3" fill="#2a3672"/>
<circle cx="593.8" cy="661.5" r="1.3" fill="#2a3672"/>
<circle cx="479.5" cy="656.8" r="1.3" fill="#2a3672"/>
<circle cx="528.5" cy="655.8" r="1.3" fill="#2a3672"/>
<circle cx="580.5" cy="662.5" r="1.3" fill="#2a3672"/>
<circle cx="523.9" cy="653.9" r="1.3" fill="#2a3672"/>
<circle cx="557.8" cy="660.2" r="1.3" fill="#2a3672"/>
<circle cx="546.4" cy="660.5" r="1.3" fill="#2a3672"/>
<circle cx="585.0" cy="661.1" r="1.3" fill="#2a3672"/>
<circle cx="587.1" cy="663.3" r="1.3" fill="#2a3672"/>
<circle cx="553.3" cy="653.8" r="1.3" fill="#2a3672"/>
<circle cx="532.4" cy="662.2" r="1.3" fill="#2a3672"/>
<circle cx="564.7" cy="659.8" r="1.3" fill="#2a3672"/>
<circle cx="555.4" cy="657.9" r="1.3" fill="#2a3672"/>
<circle cx="472.7" cy="661.4" r="1.3" fill="#2a3672"/>
<circle cx="549.3" cy="662.8" r="1.3" fill="#2a3672"/>
<circle cx="559.1" cy="655.3" r="1.3" fill="#2a3672"/>
<circle cx="510.5" cy="654.8" r="1.3" fill="#2a3672"/>
<circle cx="485.2" cy="662.6" r="1.3" fill="#2a3672"/>
<circle cx="594.5" cy="656.7" r="1.3" fill="#2a3672"/>
<circle cx="518.9" cy="660.9" r="1.3" fill="#2a3672"/>
<circle cx="536.6" cy="663.0" r="1.3" fill="#2a3672"/>
<circle cx="539.4" cy="650.9" r="1.3" fill="#2a3672"/>
<circle cx="520.8" cy="662.1" r="1.3" fill="#2a3672"/>
<circle cx="598.8" cy="658.0" r="1.3" fill="#2a3672"/>
<circle cx="580.7" cy="656.1" r="1.3" fill="#2a3672"/>
<circle cx="506.9" cy="663.3" r="1.3" fill="#2a3672"/>
<circle cx="529.6" cy="660.7" r="1.3" fill="#2a3672"/>
<circle cx="528.5" cy="659.2" r="1.3" fill="#2a3672"/>
<circle cx="490.1" cy="660.6" r="1.3" fill="#2a3672"/>
<circle cx="594.8" cy="661.0" r="1.3" fill="#2a3672"/>
<circle cx="544.5" cy="663.4" r="1.3" fill="#2a3672"/>
<circle cx="529.0" cy="658.9" r="1.3" fill="#2a3672"/>
<circle cx="547.9" cy="663.3" r="1.3" fill="#2a3672"/>
<circle cx="592.9" cy="661.6" r="1.3" fill="#2a3672"/>
<circle cx="565.2" cy="661.0" r="1.3" fill="#2a3672"/>
<circle cx="486.7" cy="663.4" r="1.3" fill="#2a3672"/>
<circle cx="489.9" cy="663.1" r="1.3" fill="#2a3672"/>
<circle cx="481.9" cy="659.7" r="1.3" fill="#2a3672"/>
<circle cx="488.0" cy="655.0" r="1.3" fill="#2a3672"/>
<circle cx="503.4" cy="653.9" r="1.3" fill="#2a3672"/>
<circle cx="476.0" cy="662.6" r="1.3" fill="#2a3672"/>
<circle cx="595.6" cy="658.7" r="1.3" fill="#2a3672"/>
<circle cx="584.8" cy="663.2" r="1.3" fill="#2a3672"/>
<circle cx="562.2" cy="656.8" r="1.3" fill="#2a3672"/>
<circle cx="506.8" cy="662.4" r="1.3" fill="#2a3672"/>
<circle cx="528.0" cy="658.9" r="1.3" fill="#2a3672"/>
<circle cx="509.6" cy="658.1" r="1.3" fill="#2a3672"/>
<circle cx="481.2" cy="656.7" r="1.3" fill="#2a3672"/>
<circle cx="500.3" cy="659.8" r="1.3" fill="#2a3672"/>
<circle cx="536.9" cy="661.8" r="1.3" fill="#2a3672"/>
<circle cx="524.7" cy="657.9" r="1.3" fill="#2a3672"/>
<circle cx="600.5" cy="624.3" r="1.3" fill="#2a3672"/>
<circle cx="595.4" cy="654.7" r="1.3" fill="#2a3672"/>
<circle cx="551.3" cy="632.0" r="1.3" fill="#2a3672"/>
<circle cx="556.1" cy="655.9" r="1.3" fill="#2a3672"/>
<circle cx="480.4" cy="661.6" r="1.3" fill="#2a3672"/>
<circle cx="504.3" cy="662.4" r="1.3" fill="#2a3672"/>
<circle cx="531.4" cy="663.0" r="1.3" fill="#2a3672"/>
<circle cx="557.8" cy="660.1" r="1.3" fill="#2a3672"/>
<circle cx="556.3" cy="663.3" r="1.3" fill="#2a3672"/>
<circle cx="495.3" cy="655.4" r="1.3" fill="#2a3672"/>
<circle cx="526.4" cy="657.2" r="1.3" fill="#2a3672"/>
<circle cx="568.4" cy="660.8" r="1.3" fill="#2a3672"/>
<circle cx="545.7" cy="662.7" r="1.3" fill="#2a3672"/>
<circle cx="596.3" cy="650.3" r="1.3" fill="#2a3672"/>
<circle cx="602.0" cy="653.9" r="1.3" fill="#2a3672"/>
<circle cx="501.9" cy="650.3" r="1.3" fill="#2a3672"/>
<circle cx="594.8" cy="643.7" r="1.3" fill="#2a3672"/>
<circle cx="505.5" cy="657.5" r="1.3" fill="#2a3672"/>
<circle cx="511.4" cy="655.1" r="1.3" fill="#2a3672"/>
<circle cx="582.1" cy="649.9" r="1.3" fill="#2a3672"/>
<circle cx="492.5" cy="659.1" r="1.3" fill="#2a3672"/>
<circle cx="498.0" cy="662.9" r="1.3" fill="#2a3672"/>
<circle cx="490.4" cy="662.2" r="1.3" fill="#2a3672"/>
<circle cx="582.7" cy="653.6" r="1.3" fill="#2a3672"/>
<circle cx="510.1" cy="660.9" r="1.3" fill="#2a3672"/>
<circle cx="471.4" cy="661.0" r="1.3" fill="#2a3672"/>
<circle cx="471.5" cy="659.5" r="1.3" fill="#2a3672"/>
<circle cx="469.9" cy="661.3" r="1.3" fill="#2a3672"/>
<circle cx="503.5" cy="662.9" r="1.3" fill="#2a3672"/>
<circle cx="564.3" cy="659.8" r="1.3" fill="#2a3672"/>
<circle cx="502.6" cy="645.1" r="1.3" fill="#2a3672"/>
<circle cx="519.4" cy="662.2" r="1.3" fill="#2a3672"/>
<circle cx="582.8" cy="657.0" r="1.3" fill="#2a3672"/>
<circle cx="577.6" cy="659.3" r="1.3" fill="#2a3672"/>
<circle cx="578.1" cy="659.4" r="1.3" fill="#2a3672"/>
<circle cx="505.2" cy="662.4" r="1.3" fill="#2a3672"/>
<circle cx="564.1" cy="655.6" r="1.3" fill="#2a3672"/>
<circle cx="553.5" cy="650.1" r="1.3" fill="#2a3672"/>
<circle cx="578.0" cy="661.4" r="1.3" fill="#2a3672"/>
<circle cx="593.4" cy="662.9" r="1.3" fill="#2a3672"/>
<circle cx="514.2" cy="649.4" r="1.3" fill="#2a3672"/>
<circle cx="555.8" cy="648.9" r="1.3" fill="#2a3672"/>
<circle cx="573.4" cy="660.2" r="1.3" fill="#2a3672"/>
<circle cx="571.0" cy="662.9" r="1.3" fill="#2a3672"/>
<circle cx="552.3" cy="661.1" r="1.3" fill="#2a3672"/>
<circle cx="560.9" cy="661.7" r="1.3" fill="#2a3672"/>
<circle cx="487.9" cy="661.4" r="1.3" fill="#2a3672"/>
<circle cx="596.3" cy="658.3" r="1.3" fill="#2a3672"/>
<circle cx="575.4" cy="662.5" r="1.3" fill="#2a3672"/>
<circle cx="599.2" cy="663.1" r="1.3" fill="#2a3672"/>
<circle cx="530.1" cy="660.1" r="1.3" fill="#2a3672"/>
<circle cx="524.7" cy="654.1" r="1.3" fill="#2a3672"/>
<circle cx="583.0" cy="651.3" r="1.3" fill="#2a3672"/>
<circle cx="501.5" cy="659.9" r="1.3" fill="#2a3672"/>
<circle cx="522.4" cy="659.8" r="1.3" fill="#2a3672"/>
<circle cx="512.8" cy="633.7" r="1.3" fill="#2a3672"/>
<circle cx="496.8" cy="663.4" r="1.3" fill="#2a3672"/>
<circle cx="482.3" cy="660.6" r="1.3" fill="#2a3672"/>
<circle cx="581.2" cy="645.7" r="1.3" fill="#2a3672"/>
<circle cx="581.3" cy="658.9" r="1.3" fill="#2a3672"/>
<circle cx="471.5" cy="661.9" r="1.3" fill="#2a3672"/>
<circle cx="552.5" cy="659.4" r="1.3" fill="#2a3672"/>
<circle cx="519.8" cy="660.8" r="1.3" fill="#2a3672"/>
<circle cx="483.4" cy="645.1" r="1.3" fill="#2a3672"/>
<circle cx="549.5" cy="658.7" r="1.3" fill="#2a3672"/>
<circle cx="585.8" cy="637.8" r="1.3" fill="#2a3672"/>
<circle cx="475.9" cy="654.1" r="1.3" fill="#2a3672"/>
<circle cx="506.6" cy="646.4" r="1.3" fill="#2a3672"/>
<circle cx="589.0" cy="659.0" r="1.3" fill="#2a3672"/>
<circle cx="520.3" cy="656.0" r="1.3" fill="#2a3672"/>
<circle cx="551.9" cy="659.4" r="1.3" fill="#2a3672"/>
<circle cx="593.5" cy="650.6" r="1.3" fill="#2a3672"/>
<circle cx="545.2" cy="663.3" r="1.3" fill="#2a3672"/>
<circle cx="531.1" cy="656.7" r="1.3" fill="#2a3672"/>
<circle cx="598.8" cy="660.1" r="1.3" fill="#2a3672"/>
<circle cx="554.3" cy="657.1" r="1.3" fill="#2a3672"/>
<circle cx="595.9" cy="661.5" r="1.3" fill="#2a3672"/>
<circle cx="586.5" cy="655.3" r="1.3" fill="#2a3672"/>
<circle cx="473.9" cy="655.0" r="1.3" fill="#2a3672"/>
<circle cx="501.5" cy="662.2" r="1.3" fill="#2a3672"/>
<circle cx="563.7" cy="658.6" r="1.3" fill="#2a3672"/>
<circle cx="513.2" cy="647.3" r="1.3" fill="#2a3672"/>
<circle cx="573.6" cy="660.8" r="1.3" fill="#2a3672"/>
<circle cx="538.5" cy="661.9" r="1.3" fill="#2a3672"/>
<circle cx="576.8" cy="659.2" r="1.3" fill="#2a3672"/>
<circle cx="572.9" cy="663.3" r="1.3" fill="#2a3672"/>
<circle cx="505.9" cy="649.0" r="1.3" fill="#2a3672"/>
<circle cx="491.5" cy="654.5" r="1.3" fill="#2a3672"/>
<circle cx="542.8" cy="663.1" r="1.3" fill="#2a3672"/>
<circle cx="513.7" cy="662.7" r="1.3" fill="#2a3672"/>
<circle cx="510.2" cy="658.9" r="1.3" fill="#2a3672"/>
<circle cx="486.0" cy="653.7" r="1.3" fill="#2a3672"/>
<circle cx="488.9" cy="635.2" r="1.3" fill="#2a3672"/>
<circle cx="498.7" cy="641.7" r="1.3" fill="#2a3672"/>
<circle cx="500.3" cy="652.9" r="1.3" fill="#2a3672"/>
<circle cx="579.8" cy="655.9" r="1.3" fill="#2a3672"/>
<circle cx="572.8" cy="654.1" r="1.3" fill="#2a3672"/>
<circle cx="601.0" cy="654.1" r="1.3" fill="#2a3672"/>
<circle cx="592.5" cy="657.5" r="1.3" fill="#2a3672"/>
<circle cx="561.0" cy="652.4" r="1.3" fill="#2a3672"/>
<circle cx="506.5" cy="659.4" r="1.3" fill="#2a3672"/>
<circle cx="487.8" cy="629.2" r="1.3" fill="#2a3672"/>
<circle cx="502.1" cy="657.6" r="1.3" fill="#2a3672"/>
<circle cx="486.0" cy="643.4" r="1.3" fill="#2a3672"/>
<circle cx="510.6" cy="661.8" r="1.3" fill="#2a3672"/>
<circle cx="572.6" cy="654.6" r="1.3" fill="#2a3672"/>
<circle cx="491.1" cy="661.2" r="1.3" fill="#2a3672"/>
<circle cx="587.0" cy="663.1" r="1.3" fill="#2a3672"/>
<circle cx="570.1" cy="657.7" r="1.3" fill="#2a3672"/>
<circle cx="480.9" cy="657.8" r="1.3" fill="#2a3672"/>
<circle cx="586.2" cy="660.4" r="1.3" fill="#2a3672"/>
<circle cx="473.9" cy="662.0" r="1.3" fill="#2a3672"/>
<circle cx="574.9" cy="655.4" r="1.3" fill="#2a3672"/>
<circle cx="540.6" cy="663.0" r="1.3" fill="#2a3672"/>
<circle cx="521.1" cy="661.8" r="1.3" fill="#2a3672"/>
<circle cx="568.3" cy="661.4" r="1.3" fill="#2a3672"/>
<circle cx="507.4" cy="653.2" r="1.3" fill="#2a3672"/>
<circle cx="533.8" cy="654.1" r="1.3" fill="#2a3672"/>
<circle cx="594.9" cy="659.1" r="1.3" fill="#2a3672"/>
<circle cx="584.7" cy="661.9" r="1.3" fill="#2a3672"/>
<circle cx="483.5" cy="655.8" r="1.3" fill="#2a3672"/>
<circle cx="490.7" cy="639.0" r="1.3" fill="#2a3672"/>
<circle cx="533.9" cy="656.8" r="1.3" fill="#2a3672"/>
<circle cx="588.6" cy="662.8" r="1.3" fill="#2a3672"/>
<circle cx="554.6" cy="640.8" r="1.3" fill="#2a3672"/>
<circle cx="557.7" cy="659.7" r="1.3" fill="#2a3672"/>
<circle cx="508.1" cy="660.2" r="1.3" fill="#2a3672"/>
<circle cx="591.3" cy="628.8" r="1.3" fill="#2a3672"/>
<circle cx="533.5" cy="662.5" r="1.3" fill="#2a3672"/>
<circle cx="592.5" cy="652.7" r="1.3" fill="#2a3672"/>
<circle cx="524.9" cy="663.1" r="1.3" fill="#2a3672"/>
<circle cx="582.7" cy="657.2" r="1.3" fill="#2a3672"/>
<circle cx="580.2" cy="656.2" r="1.3" fill="#2a3672"/>
<circle cx="532.2" cy="662.7" r="1.3" fill="#2a3672"/>
<circle cx="576.4" cy="662.7" r="1.3" fill="#2a3672"/>
<circle cx="600.1" cy="661.0" r="1.3" fill="#2a3672"/>
<circle cx="525.0" cy="651.9" r="1.3" fill="#2a3672"/>
<circle cx="595.7" cy="661.1" r="1.3" fill="#2a3672"/>
<circle cx="484.1" cy="659.7" r="1.3" fill="#2a3672"/>
<circle cx="547.5" cy="648.6" r="1.3" fill="#2a3672"/>
<circle cx="524.9" cy="660.7" r="1.3" fill="#2a3672"/>
<circle cx="492.7" cy="647.6" r="1.3" fill="#2a3672"/>
<circle cx="542.1" cy="662.4" r="1.3" fill="#2a3672"/>
<circle cx="511.8" cy="660.4" r="1.3" fill="#2a3672"/>
<circle cx="600.2" cy="662.3" r="1.3" fill="#2a3672"/>
<circle cx="477.0" cy="661.3" r="1.3" fill="#2a3672"/>
<circle cx="574.0" cy="661.0" r="1.3" fill="#2a3672"/>
<circle cx="573.7" cy="659.4" r="1.3" fill="#2a3672"/>
<circle cx="540.8" cy="663.2" r="1.3" fill="#2a3672"/>
<circle cx="558.7" cy="661.0" r="1.3" fill="#2a3672"/>
<circle cx="592.2" cy="659.2" r="1.3" fill="#2a3672"/>
<circle cx="478.7" cy="657.9" r="1.3" fill="#2a3672"/>
<circle cx="499.7" cy="660.0" r="1.3" fill="#2a3672"/>
<circle cx="474.4" cy="655.1" r="1.3" fill="#2a3672"/>
<circle cx="507.0" cy="662.1" r="1.3" fill="#2a3672"/>
<circle cx="494.6" cy="654.6" r="1.3" fill="#2a3672"/>
<circle cx="530.2" cy="661.3" r="1.3" fill="#2a3672"/>
<circle cx="577.3" cy="657.9" r="1.3" fill="#2a3672"/>
<circle cx="522.1" cy="662.4" r="1.3" fill="#2a3672"/>
<circle cx="599.5" cy="659.5" r="1.3" fill="#2a3672"/>
<circle cx="554.9" cy="661.4" r="1.3" fill="#2a3672"/>
<circle cx="500.5" cy="663.4" r="1.3" fill="#2a3672"/>
<circle cx="529.0" cy="643.9" r="1.3" fill="#2a3672"/>
<circle cx="565.5" cy="662.1" r="1.3" fill="#2a3672"/>
<circle cx="563.6" cy="656.8" r="1.3" fill="#2a3672"/>
<circle cx="516.4" cy="647.7" r="1.3" fill="#2a3672"/>
<circle cx="578.4" cy="659.2" r="1.3" fill="#2a3672"/>
<circle cx="601.2" cy="652.5" r="1.3" fill="#2a3672"/>
<circle cx="473.8" cy="660.9" r="1.3" fill="#2a3672"/>
<circle cx="572.3" cy="662.3" r="1.3" fill="#2a3672"/>
<circle cx="574.2" cy="656.1" r="1.3" fill="#2a3672"/>
<circle cx="535.0" cy="658.1" r="1.3" fill="#2a3672"/>
<circle cx="498.9" cy="663.5" r="1.3" fill="#2a3672"/>
<circle cx="504.3" cy="655.9" r="1.3" fill="#2a3672"/>
<circle cx="554.6" cy="656.6" r="1.3" fill="#2a3672"/>
<circle cx="558.9" cy="659.5" r="1.3" fill="#2a3672"/>
<circle cx="549.4" cy="661.6" r="1.3" fill="#2a3672"/>
<circle cx="511.2" cy="663.0" r="1.3" fill="#2a3672"/>
<circle cx="516.2" cy="647.6" r="1.3" fill="#2a3672"/>
<circle cx="492.8" cy="661.3" r="1.3" fill="#2a3672"/>
<circle cx="569.9" cy="663.0" r="1.3" fill="#2a3672"/>
<circle cx="503.3" cy="661.8" r="1.3" fill="#2a3672"/>
<circle cx="587.6" cy="657.3" r="1.3" fill="#2a3672"/>
<circle cx="569.7" cy="659.2" r="1.3" fill="#2a3672"/>
<circle cx="503.8" cy="633.6" r="1.3" fill="#2a3672"/>
<circle cx="471.5" cy="661.5" r="1.3" fill="#2a3672"/>
<circle cx="496.2" cy="651.5" r="1.3" fill="#2a3672"/>
<circle cx="473.0" cy="660.4" r="1.3" fill="#2a3672"/>
<circle cx="471.6" cy="660.8" r="1.3" fill="#2a3672"/>
<circle cx="498.1" cy="661.1" r="1.3" fill="#2a3672"/>
<circle cx="485.7" cy="662.0" r="1.3" fill="#2a3672"/>
<circle cx="546.8" cy="662.2" r="1.3" fill="#2a3672"/>
<circle cx="539.9" cy="655.8" r="1.3" fill="#2a3672"/>
<circle cx="515.6" cy="635.7" r="1.3" fill="#2a3672"/>
<circle cx="544.6" cy="662.0" r="1.3" fill="#2a3672"/>
<circle cx="487.7" cy="649.0" r="1.3" fill="#2a3672"/>
<circle cx="482.9" cy="639.4" r="1.3" fill="#2a3672"/>
<circle cx="474.3" cy="662.1" r="1.3" fill="#2a3672"/>
<circle cx="541.1" cy="660.9" r="1.3" fill="#2a3672"/>
<circle cx="536.2" cy="662.7" r="1.3" fill="#2a3672"/>
<circle cx="553.2" cy="642.2" r="1.3" fill="#2a3672"/>
<circle cx="494.8" cy="663.3" r="1.3" fill="#2a3672"/>
<circle cx="506.3" cy="662.7" r="1.3" fill="#2a3672"/>
<circle cx="540.2" cy="657.7" r="1.3" fill="#2a3672"/>
<circle cx="482.6" cy="653.1" r="1.3" fill="#2a3672"/>
<circle cx="486.7" cy="655.9" r="1.3" fill="#2a3672"/>
<circle cx="532.4" cy="660.5" r="1.3" fill="#2a3672"/>
<circle cx="522.8" cy="655.4" r="1.3" fill="#2a3672"/>
<circle cx="598.5" cy="661.6" r="1.3" fill="#2a3672"/>
<circle cx="542.5" cy="662.8" r="1.3" fill="#2a3672"/>
<circle cx="582.9" cy="644.7" r="1.3" fill="#2a3672"/>
<circle cx="549.8" cy="646.8" r="1.3" fill="#2a3672"/>
<circle cx="483.4" cy="648.8" r="1.3" fill="#2a3672"/>
<circle cx="512.1" cy="660.7" r="1.3" fill="#2a3672"/>
<circle cx="569.8" cy="649.3" r="1.3" fill="#2a3672"/>
<circle cx="521.0" cy="650.6" r="1.3" fill="#2a3672"/>
<circle cx="578.0" cy="659.4" r="1.3" fill="#2a3672"/>
<circle cx="473.2" cy="663.1" r="1.3" fill="#2a3672"/>
<circle cx="584.2" cy="660.6" r="1.3" fill="#2a3672"/>
<circle cx="599.6" cy="636.8" r="1.3" fill="#2a3672"/>
<circle cx="480.8" cy="656.7" r="1.3" fill="#2a3672"/>
<circle cx="550.5" cy="650.0" r="1.3" fill="#2a3672"/>
<circle cx="528.2" cy="654.6" r="1.3" fill="#2a3672"/>
<circle cx="506.5" cy="650.0" r="1.3" fill="#2a3672"/>
<circle cx="505.8" cy="662.7" r="1.3" fill="#2a3672"/>
<circle cx="602.3" cy="661.5" r="1.3" fill="#2a3672"/>
<circle cx="489.3" cy="645.1" r="1.3" fill="#2a3672"/>
<circle cx="547.5" cy="661.5" r="1.3" fill="#2a3672"/>
<circle cx="595.9" cy="660.6" r="1.3" fill="#2a3672"/>
<circle cx="477.4" cy="662.5" r="1.3" fill="#2a3672"/>
<circle cx="596.8" cy="652.1" r="1.3" fill="#2a3672"/>
<circle cx="475.4" cy="659.9" r="1.3" fill="#2a3672"/>
<circle cx="535.2" cy="660.9" r="1.3" fill="#2a3672"/>
<circle cx="576.6" cy="652.5" r="1.3" fill="#2a3672"/>
<circle cx="525.7" cy="662.1" r="1.3" fill="#2a3672"/>
<circle cx="531.0" cy="659.1" r="1.3" fill="#2a3672"/>
<circle cx="588.4" cy="659.7" r="1.3" fill="#2a3672"/>
<circle cx="601.5" cy="663.4" r="1.3" fill="#2a3672"/>
<circle cx="513.6" cy="662.8" r="1.3" fill="#2a3672"/>
<circle cx="525.5" cy="650.2" r="1.3" fill="#2a3672"/>
<circle cx="534.3" cy="655.6" r="1.3" fill="#2a3672"/>
<circle cx="567.0" cy="658.0" r="1.3" fill="#2a3672"/>
<circle cx="566.9" cy="659.2" r="1.3" fill="#2a3672"/>
<circle cx="549.1" cy="661.9" r="1.3" fill="#2a3672"/>
<circle cx="515.6" cy="634.4" r="1.3" fill="#2a3672"/>
<circle cx="600.1" cy="662.3" r="1.3" fill="#2a3672"/>
<circle cx="484.0" cy="647.2" r="1.3" fill="#2a3672"/>
<circle cx="556.1" cy="656.7" r="1.3" fill="#2a3672"/>
<circle cx="544.7" cy="657.3" r="1.3" fill="#2a3672"/>
<circle cx="557.2" cy="659.9" r="1.3" fill="#2a3672"/>
<circle cx="570.6" cy="662.8" r="1.3" fill="#2a3672"/>
<circle cx="526.5" cy="660.5" r="1.3" fill="#2a3672"/>
<circle cx="544.5" cy="661.7" r="1.3" fill="#2a3672"/>
<circle cx="526.7" cy="644.7" r="1.3" fill="#2a3672"/>
<circle cx="481.8" cy="656.8" r="1.3" fill="#2a3672"/>
<circle cx="522.4" cy="658.8" r="1.3" fill="#2a3672"/>
<circle cx="518.7" cy="663.4" r="1.3" fill="#2a3672"/>
<circle cx="586.2" cy="657.3" r="1.3" fill="#2a3672"/>
<circle cx="531.8" cy="663.2" r="1.3" fill="#2a3672"/>
<circle cx="588.7" cy="658.7" r="1.3" fill="#2a3672"/>
<circle cx="503.7" cy="655.1" r="1.3" fill="#2a3672"/>
<circle cx="532.4" cy="662.5" r="1.3" fill="#2a3672"/>
<circle cx="576.1" cy="646.5" r="1.3" fill="#2a3672"/>
<circle cx="485.0" cy="641.4" r="1.3" fill="#2a3672"/>
<circle cx="565.1" cy="662.7" r="1.3" fill="#2a3672"/>
<circle cx="477.9" cy="662.9" r="1.3" fill="#2a3672"/>
<circle cx="577.6" cy="660.1" r="1.3" fill="#2a3672"/>
<circle cx="588.6" cy="646.5" r="1.3" fill="#2a3672"/>
<circle cx="483.1" cy="660.6" r="1.3" fill="#2a3672"/>
<circle cx="503.0" cy="650.6" r="1.3" fill="#2a3672"/>
<circle cx="486.0" cy="661.3" r="1.3" fill="#2a3672"/>
<circle cx="546.1" cy="661.4" r="1.3" fill="#2a3672"/>
<circle cx="578.1" cy="656.8" r="1.3" fill="#2a3672"/>
<circle cx="513.8" cy="660.2" r="1.3" fill="#2a3672"/>
<circle cx="550.5" cy="660.7" r="1.3" fill="#2a3672"/>
<circle cx="552.8" cy="661.3" r="1.3" fill="#2a3672"/>
<circle cx="474.3" cy="659.2" r="1.3" fill="#2a3672"/>
<circle cx="492.6" cy="658.4" r="1.3" fill="#2a3672"/>
<circle cx="589.8" cy="662.0" r="1.3" fill="#2a3672"/>
<circle cx="547.8" cy="657.9" r="1.3" fill="#2a3672"/>
<circle cx="490.6" cy="660.5" r="1.3" fill="#2a3672"/>
<circle cx="590.8" cy="662.4" r="1.3" fill="#2a3672"/>
<circle cx="487.3" cy="661.4" r="1.3" fill="#2a3672"/>
<circle cx="522.4" cy="653.4" r="1.3" fill="#2a3672"/>
<circle cx="533.1" cy="658.0" r="1.3" fill="#2a3672"/>
<circle cx="590.1" cy="650.1" r="1.3" fill="#2a3672"/>
<circle cx="503.2" cy="656.2" r="1.3" fill="#2a3672"/>
<circle cx="560.6" cy="661.8" r="1.3" fill="#2a3672"/>
<circle cx="487.8" cy="656.6" r="1.3" fill="#2a3672"/>
<circle cx="562.9" cy="659.6" r="1.3" fill="#2a3672"/>
<circle cx="497.4" cy="661.3" r="1.3" fill="#2a3672"/>
<circle cx="560.6" cy="663.5" r="1.3" fill="#2a3672"/>
<circle cx="564.5" cy="663.1" r="1.3" fill="#2a3672"/>
<circle cx="504.4" cy="654.4" r="1.3" fill="#2a3672"/>
<circle cx="543.1" cy="662.4" r="1.3" fill="#2a3672"/>
<circle cx="508.6" cy="661.3" r="1.3" fill="#2a3672"/>
<circle cx="575.1" cy="652.8" r="1.3" fill="#2a3672"/>
<circle cx="587.7" cy="662.9" r="1.3" fill="#2a3672"/>
<circle cx="475.7" cy="661.9" r="1.3" fill="#2a3672"/>
<circle cx="540.2" cy="658.2" r="1.3" fill="#2a3672"/>
<circle cx="527.0" cy="642.5" r="1.3" fill="#2a3672"/>
<circle cx="570.1" cy="663.3" r="1.3" fill="#2a3672"/>
<circle cx="600.6" cy="653.6" r="1.3" fill="#2a3672"/>
<circle cx="485.4" cy="661.2" r="1.3" fill="#2a3672"/>
<circle cx="588.2" cy="662.9" r="1.3" fill="#2a3672"/>
<circle cx="496.3" cy="657.0" r="1.3" fill="#2a3672"/>
<circle cx="560.6" cy="661.8" r="1.3" fill="#2a3672"/>
<circle cx="481.4" cy="663.1" r="1.3" fill="#2a3672"/>
<circle cx="551.4" cy="662.4" r="1.3" fill="#2a3672"/>
<circle cx="527.9" cy="659.5" r="1.3" fill="#2a3672"/>
<circle cx="491.7" cy="657.9" r="1.3" fill="#2a3672"/>
<circle cx="537.8" cy="655.9" r="1.3" fill="#2a3672"/>
<circle cx="484.6" cy="662.0" r="1.3" fill="#2a3672"/>
<circle cx="538.2" cy="660.5" r="1.3" fill="#2a3672"/>
<circle cx="566.6" cy="653.7" r="1.3" fill="#2a3672"/>
<circle cx="475.4" cy="663.3" r="1.3" fill="#2a3672"/>
<circle cx="512.2" cy="658.7" r="1.3" fill="#2a3672"/>
<circle cx="574.0" cy="661.7" r="1.3" fill="#2a3672"/>
<circle cx="583.2" cy="662.9" r="1.3" fill="#2a3672"/>
<circle cx="561.2" cy="656.3" r="1.3" fill="#2a3672"/>
<circle cx="490.5" cy="661.5" r="1.3" fill="#2a3672"/>
<circle cx="487.6" cy="660.8" r="1.3" fill="#2a3672"/>
<circle cx="486.7" cy="659.3" r="1.3" fill="#2a3672"/>
<circle cx="543.3" cy="657.6" r="1.3" fill="#2a3672"/>
<circle cx="481.5" cy="649.3" r="1.3" fill="#2a3672"/>
<circle cx="584.9" cy="638.8" r="1.3" fill="#2a3672"/>
<circle cx="541.2" cy="658.4" r="1.3" fill="#2a3672"/>
<circle cx="485.5" cy="663.0" r="1.3" fill="#2a3672"/>
<circle cx="586.4" cy="660.7" r="1.3" fill="#2a3672"/>
<circle cx="541.5" cy="659.0" r="1.3" fill="#2a3672"/>
<circle cx="575.8" cy="644.8" r="1.3" fill="#2a3672"/>
<circle cx="512.1" cy="656.0" r="1.3" fill="#2a3672"/>
<circle cx="562.1" cy="661.3" r="1.3" fill="#2a3672"/>
<circle cx="490.3" cy="652.8" r="1.3" fill="#2a3672"/>
<circle cx="578.0" cy="661.5" r="1.3" fill="#2a3672"/>
<circle cx="538.2" cy="650.5" r="1.3" fill="#2a3672"/>
<circle cx="516.9" cy="660.8" r="1.3" fill="#2a3672"/>
<circle cx="584.5" cy="650.2" r="1.3" fill="#2a3672"/>
<circle cx="518.1" cy="652.1" r="1.3" fill="#2a3672"/>
<circle cx="576.5" cy="663.0" r="1.3" fill="#2a3672"/>
<circle cx="495.8" cy="662.9" r="1.3" fill="#2a3672"/>
<circle cx="577.7" cy="659.3" r="1.3" fill="#2a3672"/>
<circle cx="541.7" cy="660.5" r="1.3" fill="#2a3672"/>
<circle cx="481.8" cy="662.4" r="1.3" fill="#2a3672"/>
<circle cx="488.3" cy="658.1" r="1.3" fill="#2a3672"/>
<circle cx="577.3" cy="649.5" r="1.3" fill="#2a3672"/>
<circle cx="476.7" cy="662.1" r="1.3" fill="#2a3672"/>
<circle cx="573.5" cy="659.5" r="1.3" fill="#2a3672"/>
<circle cx="572.4" cy="659.6" r="1.3" fill="#2a3672"/>
<circle cx="589.8" cy="655.4" r="1.3" fill="#2a3672"/>
<circle cx="533.6" cy="651.6" r="1.3" fill="#2a3672"/>
<circle cx="574.0" cy="661.6" r="1.3" fill="#2a3672"/>
<circle cx="567.3" cy="655.1" r="1.3" fill="#2a3672"/>
<circle cx="518.3" cy="640.5" r="1.3" fill="#2a3672"/>
<circle cx="529.8" cy="654.9" r="1.3" fill="#2a3672"/>
<circle cx="540.3" cy="663.5" r="1.3" fill="#2a3672"/>
<circle cx="589.3" cy="660.0" r="1.3" fill="#2a3672"/>
<circle cx="583.0" cy="661.3" r="1.3" fill="#2a3672"/>
<circle cx="564.9" cy="656.0" r="1.3" fill="#2a3672"/>
<circle cx="602.2" cy="663.3" r="1.3" fill="#2a3672"/>
<circle cx="486.2" cy="659.1" r="1.3" fill="#2a3672"/>
<circle cx="512.7" cy="660.4" r="1.3" fill="#2a3672"/>
<circle cx="480.2" cy="646.1" r="1.3" fill="#2a3672"/>
<circle cx="544.2" cy="662.1" r="1.3" fill="#2a3672"/>
<circle cx="550.1" cy="644.0" r="1.3" fill="#2a3672"/>
<circle cx="597.2" cy="648.4" r="1.3" fill="#2a3672"/>
<circle cx="479.8" cy="661.3" r="1.3" fill="#2a3672"/>
<circle cx="486.6" cy="641.0" r="1.3" fill="#2a3672"/>
<circle cx="580.9" cy="660.8" r="1.3" fill="#2a3672"/>
<circle cx="499.3" cy="661.8" r="1.3" fill="#2a3672"/>
<circle cx="477.3" cy="661.6" r="1.3" fill="#2a3672"/>
<circle cx="559.5" cy="658.7" r="1.3" fill="#2a3672"/>
<circle cx="509.7" cy="649.8" r="1.3" fill="#2a3672"/>
<circle cx="564.9" cy="660.2" r="1.3" fill="#2a3672"/>
<circle cx="507.9" cy="660.2" r="1.3" fill="#2a3672"/>
<circle cx="551.9" cy="653.2" r="1.3" fill="#2a3672"/>
<circle cx="472.2" cy="613.4" r="1.3" fill="#2a3672"/>
<circle cx="475.0" cy="621.6" r="1.3" fill="#2a3672"/>
<circle cx="490.9" cy="615.0" r="1.3" fill="#2a3672"/>
<circle cx="510.0" cy="594.6" r="1.3" fill="#2a3672"/>
<circle cx="521.3" cy="607.2" r="1.3" fill="#2a3672"/>
<circle cx="524.5" cy="609.6" r="1.3" fill="#2a3672"/>
<circle cx="527.6" cy="611.6" r="1.3" fill="#2a3672"/>
<circle cx="564.5" cy="602.3" r="1.3" fill="#2a3672"/>
<circle cx="566.2" cy="602.4" r="1.3" fill="#2a3672"/>
<circle cx="565.3" cy="602.0" r="1.3" fill="#2a3672"/>
<circle cx="586.7" cy="621.6" r="1.3" fill="#2a3672"/>
<circle cx="586.2" cy="625.5" r="1.3" fill="#2a3672"/>
<circle cx="586.8" cy="627.0" r="1.3" fill="#2a3672"/>
<circle cx="597.6" cy="632.6" r="1.3" fill="#2a3672"/>
<circle cx="600.7" cy="638.9" r="1.3" fill="#2a3672"/>
<circle cx="496.0" cy="625.0" r="1.3" fill="#2a3672"/>
<circle cx="503.0" cy="627.0" r="1.3" fill="#2a3672"/>
<circle cx="497.0" cy="630.0" r="1.3" fill="#2a3672"/>
<circle cx="487.0" cy="632.0" r="1.3" fill="#2a3672"/>
<circle cx="493.0" cy="635.0" r="1.3" fill="#2a3672"/>
<circle cx="506.0" cy="630.0" r="1.3" fill="#2a3672"/>
<circle cx="512.0" cy="633.0" r="1.3" fill="#2a3672"/>
<circle cx="515.0" cy="628.0" r="1.3" fill="#2a3672"/>
<circle cx="520.0" cy="629.0" r="1.3" fill="#2a3672"/>
<circle cx="518.0" cy="636.0" r="1.3" fill="#2a3672"/>
<circle cx="482.0" cy="637.0" r="1.3" fill="#2a3672"/>
<circle cx="478.0" cy="640.0" r="1.3" fill="#2a3672"/>
<circle cx="474.0" cy="642.0" r="1.3" fill="#2a3672"/>
<circle cx="500.0" cy="638.0" r="1.3" fill="#2a3672"/>
<circle cx="509.0" cy="640.0" r="1.3" fill="#2a3672"/>
<circle cx="523.0" cy="637.0" r="1.3" fill="#2a3672"/>
<circle cx="529.0" cy="632.0" r="1.3" fill="#2a3672"/>
<circle cx="525.0" cy="640.0" r="1.3" fill="#2a3672"/>
<circle cx="533.0" cy="640.0" r="1.3" fill="#2a3672"/>
<circle cx="551.0" cy="640.0" r="1.3" fill="#2a3672"/>
<circle cx="556.0" cy="636.0" r="1.3" fill="#2a3672"/>
<circle cx="560.0" cy="641.0" r="1.3" fill="#2a3672"/>
<circle cx="566.0" cy="634.0" r="1.3" fill="#2a3672"/>
<circle cx="571.0" cy="636.0" r="1.3" fill="#2a3672"/>
<circle cx="577.0" cy="638.0" r="1.3" fill="#2a3672"/>
<circle cx="583.0" cy="632.0" r="1.3" fill="#2a3672"/>
<circle cx="589.0" cy="640.0" r="1.3" fill="#2a3672"/>
<circle cx="593.0" cy="637.0" r="1.3" fill="#2a3672"/>
<circle cx="600.0" cy="642.0" r="1.3" fill="#2a3672"/>
<circle cx="545.0" cy="642.0" r="1.3" fill="#2a3672"/>
<circle cx="549.0" cy="645.0" r="1.3" fill="#2a3672"/>
<circle cx="562.0" cy="645.0" r="1.3" fill="#2a3672"/>
<circle cx="570.0" cy="644.0" r="1.3" fill="#2a3672"/>
<circle cx="580.0" cy="642.0" r="1.3" fill="#2a3672"/>
<circle cx="489.0" cy="622.0" r="1.3" fill="#2a3672"/>
<circle cx="484.0" cy="628.0" r="1.3" fill="#2a3672"/>
<circle cx="509.0" cy="622.0" r="1.3" fill="#2a3672"/>
<circle cx="500.0" cy="620.0" r="1.3" fill="#2a3672"/>
<circle cx="524.30" cy="629.00" r="1.20" fill="#4fc4c4"/>
<circle cx="531.30" cy="635.40" r="1.20" fill="#4fc4c4"/>
<circle cx="536.00" cy="637.20" r="1.20" fill="#4fc4c4"/>
<circle cx="570.20" cy="603.30" r="1.20" fill="#4fc4c4"/>
<circle cx="585.00" cy="620.90" r="1.20" fill="#4fc4c4"/>
<circle cx="481.60" cy="590.80" r="1.20" fill="#5cbf4a"/>
<circle cx="483.90" cy="590.30" r="1.20" fill="#5cbf4a"/>
<circle cx="528.30" cy="565.10" r="1.20" fill="#5cbf4a"/>
<circle cx="556.30" cy="576.50" r="1.20" fill="#5cbf4a"/>
<path d="M538.6 532.6 L541.6 535.6 L538.6 538.6 L535.6 535.6 Z" fill="#ee3322"/>
<text x="540.00" y="526.30" font-size="9.8" text-anchor="middle" fill="#231f20" stroke="#231f20" stroke-width="0.25" transform="translate(540.00 526.30) scale(1 1.05) translate(-540.00 -526.30)">rs11538707 (p.Arg119Gly)</text>
<g transform="translate(613.80 508.20) scale(0.6)"><ellipse cx="0" cy="8.6" rx="3.2" ry="4.3" fill="#231f20"/><path d="M0 11.9 L1.5 11.9 L1.8 14 L7.0 15.2 C8.2 15.8 8.5 17 8.5 19 L8.6 28.8 L8.5 36 C8.6 37.5 8.4 39.2 7.2 39.8 C6.4 39.4 6.2 38 6.3 36 L6.2 28.8 L5.6 21.5 L4.9 25.5 L4.6 30.2 L5.5 36 L4.7 43.2 L3.8 50.4 L3.1 60.4 L3.8 63.0 L0.6 63.7 L0.2 60 L0.1 42 L0 40.3 L-0.1 42 L-0.2 60 L-0.6 63.7 L-3.8 63.0 L-3.1 60.4 L-3.8 50.4 L-4.7 43.2 L-5.5 36 L-4.6 30.2 L-4.9 25.5 L-5.6 21.5 L-6.2 28.8 L-6.3 36 C-6.2 38 -6.4 39.4 -7.2 39.8 C-8.4 39.2 -8.6 37.5 -8.5 36 L-8.6 28.8 L-8.5 19 C-8.5 17 -8.2 15.8 -7.0 15.2 L-1.8 14 L-1.5 11.9 Z" fill="#231f20"/></g>
<text x="623.00" y="531.00" font-size="9.8" text-anchor="start" fill="#231f20" stroke="#231f20" stroke-width="0.25" transform="translate(623.00 531.00) scale(1 1.05) translate(-623.00 -531.00)">MAF ~ 0.0045</text>
<text x="623.00" y="543.50" font-size="9.8" text-anchor="start" fill="#231f20" stroke="#231f20" stroke-width="0.25" transform="translate(623.00 543.50) scale(1 1.05) translate(-623.00 -543.50)">in Controls</text>
<circle cx="608.40" cy="566.00" r="1.40" fill="#2a3672"/>
<text x="612.30" y="569.50" font-size="9.8" text-anchor="start" fill="#231f20" stroke="#231f20" stroke-width="0.25" transform="translate(612.30 569.50) scale(1 1.05) translate(-612.30 -569.50)">R2 &lt; 0.2</text>
<circle cx="608.40" cy="576.25" r="1.40" fill="#4fc4c4"/>
<text x="612.30" y="579.75" font-size="9.8" text-anchor="start" fill="#231f20" stroke="#231f20" stroke-width="0.25" transform="translate(612.30 579.75) scale(1 1.05) translate(-612.30 -579.75)">0.2 &lt; R2 &lt; 0.4</text>
<circle cx="608.40" cy="586.50" r="1.40" fill="#5cbf4a"/>
<text x="612.30" y="590.00" font-size="9.8" text-anchor="start" fill="#231f20" stroke="#231f20" stroke-width="0.25" transform="translate(612.30 590.00) scale(1 1.05) translate(-612.30 -590.00)">0.4 &lt; R2 &lt; 0.6</text>
<circle cx="608.40" cy="596.75" r="1.40" fill="#ee3322"/>
<text x="612.30" y="600.25" font-size="9.8" text-anchor="start" fill="#231f20" stroke="#231f20" stroke-width="0.25" transform="translate(612.30 600.25) scale(1 1.05) translate(-612.30 -600.25)">0.8 &lt; R2</text>
<line x1="470.40" y1="715.00" x2="602.70" y2="715.00" stroke="#555" stroke-width="0.9"/>
<line x1="496.50" y1="715.00" x2="496.50" y2="717.80" stroke="#555" stroke-width="0.9"/>
<text x="493.50" y="726.60" font-size="7.3" text-anchor="middle" fill="#231f20" stroke="#231f20" stroke-width="0.25" transform="translate(493.50 726.60) scale(1 1.05) translate(-493.50 -726.60)">35500000</text>
<line x1="531.20" y1="715.00" x2="531.20" y2="717.80" stroke="#555" stroke-width="0.9"/>
<text x="528.20" y="726.60" font-size="7.3" text-anchor="middle" fill="#231f20" stroke="#231f20" stroke-width="0.25" transform="translate(528.20 726.60) scale(1 1.05) translate(-528.20 -726.60)">35700000</text>
<line x1="566.00" y1="715.00" x2="566.00" y2="717.80" stroke="#555" stroke-width="0.9"/>
<text x="563.00" y="726.60" font-size="7.3" text-anchor="middle" fill="#231f20" stroke="#231f20" stroke-width="0.25" transform="translate(563.00 726.60) scale(1 1.05) translate(-563.00 -726.60)">35900000</text>
<line x1="600.00" y1="715.00" x2="600.00" y2="717.80" stroke="#555" stroke-width="0.9"/>
<text x="597.00" y="726.60" font-size="7.3" text-anchor="middle" fill="#231f20" stroke="#231f20" stroke-width="0.25" transform="translate(597.00 726.60) scale(1 1.05) translate(-597.00 -726.60)">36100000</text>
<text x="637.90" y="726.60" font-size="7.7" text-anchor="middle" fill="#231f20" stroke="#231f20" stroke-width="0.25" transform="translate(637.90 726.60) scale(1 1.05) translate(-637.90 -726.60)">Chr 9</text>
<line x1="495.40" y1="681.80" x2="506.20" y2="681.80" stroke="#d05050" stroke-width="1.2"/>
<line x1="532.00" y1="678.30" x2="536.60" y2="678.30" stroke="#d05050" stroke-width="1.2"/>
<line x1="552.70" y1="677.60" x2="561.60" y2="677.60" stroke="#d05050" stroke-width="1.2"/>
<line x1="548.30" y1="687.60" x2="549.80" y2="687.60" stroke="#d05050" stroke-width="1.2"/>
<line x1="518.00" y1="694.70" x2="523.00" y2="694.70" stroke="#d05050" stroke-width="1.2"/>
<line x1="569.50" y1="694.70" x2="573.00" y2="694.70" stroke="#d05050" stroke-width="1.2"/>
<line x1="525.80" y1="705.00" x2="528.00" y2="705.00" stroke="#d05050" stroke-width="1.2"/>
<line x1="592.00" y1="704.40" x2="606.30" y2="704.40" stroke="#d05050" stroke-width="1.2"/>
<line x1="541.00" y1="692.00" x2="542.50" y2="692.00" stroke="#d05050" stroke-width="1.2"/>
<text x="502.60" y="679.30" font-size="9.8" text-anchor="middle" fill="#231f20" stroke="#231f20" stroke-width="0.25" transform="translate(502.60 679.30) scale(1 1.05) translate(-502.60 -679.30)">RUSC2</text>
<text x="534.80" y="675.00" font-size="9.8" text-anchor="middle" fill="#231f20" stroke="#231f20" stroke-width="0.25" transform="translate(534.80 675.00) scale(1 1.05) translate(-534.80 -675.00)">TLN1</text>
<text x="570.20" y="675.00" font-size="9.8" text-anchor="middle" fill="#231f20" stroke="#231f20" stroke-width="0.25" transform="translate(570.20 675.00) scale(1 1.05) translate(-570.20 -675.00)">SPAG8</text>
<text x="567.00" y="689.30" font-size="9.8" text-anchor="middle" fill="#231f20" stroke="#231f20" stroke-width="0.25" transform="translate(567.00 689.30) scale(1 1.05) translate(-567.00 -689.30)">GBA2</text>
<text x="501.90" y="698.20" font-size="9.8" text-anchor="middle" fill="#231f20" stroke="#231f20" stroke-width="0.25" transform="translate(501.90 698.20) scale(1 1.05) translate(-501.90 -698.20)">CD72</text>
<text x="541.90" y="702.00" font-size="9.8" text-anchor="middle" fill="#f47c20" stroke="#f47c20" stroke-width="0" font-weight="bold" transform="translate(541.90 702.00) scale(1 1.05) translate(-541.90 -702.00)">CREB3</text>
<text x="594.40" y="698.90" font-size="9.8" text-anchor="middle" fill="#231f20" stroke="#231f20" stroke-width="0.25" transform="translate(594.40 698.90) scale(1 1.05) translate(-594.40 -698.90)">SPAAR</text>
<text x="495.40" y="709.00" font-size="9.8" text-anchor="middle" fill="#231f20" stroke="#231f20" stroke-width="0.25" transform="translate(495.40 709.00) scale(1 1.05) translate(-495.40 -709.00)">ARHGEF39</text>
<text x="568.00" y="713.20" font-size="9.8" text-anchor="middle" fill="#231f20" stroke="#231f20" stroke-width="0.25" transform="translate(568.00 713.20) scale(1 1.05) translate(-568.00 -713.20)">FAM221B</text>
<text x="623.40" y="707.20" font-size="9.8" text-anchor="middle" fill="#231f20" stroke="#231f20" stroke-width="0.25" transform="translate(623.40 707.20) scale(1 1.05) translate(-623.40 -707.20)">RECK</text>
<text x="7.90" y="766.00" font-size="22.5" text-anchor="start" fill="#000" stroke="#000" stroke-width="0" font-weight="bold" transform="translate(7.90 766.00) scale(1 1.05) translate(-7.90 -766.00)">e</text>
<line x1="68.32" y1="774.50" x2="68.32" y2="888.70" stroke="#555" stroke-width="0.8" stroke-dasharray="3 2"/>
<line x1="163.72" y1="774.50" x2="163.72" y2="888.70" stroke="#555" stroke-width="0.8" stroke-dasharray="3 2"/>
<line x1="213.60" y1="774.50" x2="213.60" y2="888.70" stroke="#555" stroke-width="0.8" stroke-dasharray="3 2"/>
<line x1="259.12" y1="774.50" x2="259.12" y2="888.70" stroke="#555" stroke-width="0.8" stroke-dasharray="3 2"/>
<line x1="118.20" y1="774.50" x2="118.20" y2="888.70" stroke="#aaa" stroke-width="1.6"/>
<text x="68.32" y="899.60" font-size="9.8" text-anchor="middle" fill="#231f20" stroke="#231f20" stroke-width="0.25" transform="translate(68.32 899.60) scale(1 1.05) translate(-68.32 -899.60)">0.3</text>
<text x="118.20" y="899.60" font-size="9.8" text-anchor="middle" fill="#231f20" stroke="#231f20" stroke-width="0.25" transform="translate(118.20 899.60) scale(1 1.05) translate(-118.20 -899.60)">1</text>
<text x="163.72" y="899.60" font-size="9.8" text-anchor="middle" fill="#231f20" stroke="#231f20" stroke-width="0.25" transform="translate(163.72 899.60) scale(1 1.05) translate(-163.72 -899.60)">3</text>
<text x="213.60" y="899.60" font-size="9.8" text-anchor="middle" fill="#231f20" stroke="#231f20" stroke-width="0.25" transform="translate(213.60 899.60) scale(1 1.05) translate(-213.60 -899.60)">10</text>
<text x="259.12" y="899.60" font-size="9.8" text-anchor="middle" fill="#231f20" stroke="#231f20" stroke-width="0.25" transform="translate(259.12 899.60) scale(1 1.05) translate(-259.12 -899.60)">30</text>
<text x="163.30" y="916.20" font-size="9.8" text-anchor="middle" fill="#231f20" stroke="#231f20" stroke-width="0.25" transform="translate(163.30 916.20) scale(1 1.05) translate(-163.30 -916.20)">Odds ratio for ALS</text>
<text x="52.60" y="787.00" font-size="9.9" text-anchor="end" fill="#231f20" stroke="#231f20" stroke-width="0.25" font-style="italic" transform="translate(52.60 787.00) scale(1 1.05) translate(-52.60 -787.00)">SOD1</text>
<line x1="166.00" y1="786.30" x2="256.40" y2="786.30" stroke="#62cac8" stroke-width="1.1"/>
<circle cx="211.30" cy="786.30" r="1.25" fill="#22b2ae"/>
<line x1="139.30" y1="790.70" x2="228.80" y2="790.70" stroke="#f4737f" stroke-width="1.1"/>
<circle cx="184.30" cy="790.70" r="1.25" fill="#ec4452"/>
<line x1="166.00" y1="795.00" x2="229.30" y2="795.00" stroke="#4c5373" stroke-width="1.1"/>
<circle cx="197.80" cy="795.00" r="1.25" fill="#232a4e"/>
<text x="52.60" y="819.80" font-size="9.9" text-anchor="end" fill="#231f20" stroke="#231f20" stroke-width="0.25" font-style="italic" transform="translate(52.60 819.80) scale(1 1.05) translate(-52.60 -819.80)">TBK1</text>
<line x1="122.40" y1="813.30" x2="165.80" y2="813.30" stroke="#62cac8" stroke-width="1.1"/>
<circle cx="144.10" cy="813.30" r="1.25" fill="#22b2ae"/>
<line x1="124.00" y1="817.60" x2="159.90" y2="817.60" stroke="#f4737f" stroke-width="1.1"/>
<circle cx="141.80" cy="817.60" r="1.25" fill="#ec4452"/>
<line x1="129.20" y1="822.30" x2="156.80" y2="822.30" stroke="#4c5373" stroke-width="1.1"/>
<circle cx="143.00" cy="822.30" r="1.25" fill="#232a4e"/>
<text x="52.60" y="850.80" font-size="9.9" text-anchor="end" fill="#231f20" stroke="#231f20" stroke-width="0.25" font-style="italic" transform="translate(52.60 850.80) scale(1 1.05) translate(-52.60 -850.80)">TARDBP</text>
<line x1="128.20" y1="842.20" x2="199.30" y2="842.20" stroke="#62cac8" stroke-width="1.1"/>
<circle cx="163.70" cy="842.20" r="1.25" fill="#22b2ae"/>
<line x1="121.60" y1="846.70" x2="164.70" y2="846.70" stroke="#f4737f" stroke-width="1.1"/>
<circle cx="143.20" cy="846.70" r="1.25" fill="#ec4452"/>
<line x1="130.60" y1="851.40" x2="166.80" y2="851.40" stroke="#4c5373" stroke-width="1.1"/>
<circle cx="148.70" cy="851.40" r="1.25" fill="#232a4e"/>
<text x="52.60" y="879.50" font-size="9.9" text-anchor="end" fill="#f47c20" stroke="#f47c20" stroke-width="0" font-style="italic" font-weight="bold" transform="translate(52.60 879.50) scale(1 1.05) translate(-52.60 -879.50)">CREB3</text>
<line x1="68.80" y1="867.20" x2="108.50" y2="867.20" stroke="#62cac8" stroke-width="1.1"/>
<circle cx="88.80" cy="867.20" r="1.25" fill="#22b2ae"/>
<line x1="89.30" y1="871.70" x2="116.10" y2="871.70" stroke="#f4737f" stroke-width="1.1"/>
<circle cx="102.50" cy="871.70" r="1.25" fill="#ec4452"/>
<line x1="87.20" y1="876.10" x2="109.60" y2="876.10" stroke="#4c5373" stroke-width="1.1"/>
<circle cx="98.00" cy="876.10" r="1.25" fill="#232a4e"/>
<circle cx="286.10" cy="809.50" r="3.20" fill="#27b7b4"/>
<text x="296.60" y="812.90" font-size="9.8" text-anchor="start" fill="#231f20" stroke="#231f20" stroke-width="0.25" transform="translate(296.60 812.90) scale(1 1.05) translate(-296.60 -812.90)">Replication</text>
<circle cx="286.10" cy="821.60" r="3.20" fill="#ea4a58"/>
<text x="296.60" y="825.00" font-size="9.8" text-anchor="start" fill="#231f20" stroke="#231f20" stroke-width="0.25" transform="translate(296.60 825.00) scale(1 1.05) translate(-296.60 -825.00)">Discovery</text>
<circle cx="286.10" cy="833.70" r="3.20" fill="#27325a"/>
<text x="296.60" y="837.10" font-size="9.8" text-anchor="start" fill="#231f20" stroke="#231f20" stroke-width="0.25" transform="translate(296.60 837.10) scale(1 1.05) translate(-296.60 -837.10)">Meta-analysis</text>
<text x="342.60" y="765.80" font-size="22.5" text-anchor="start" fill="#000" stroke="#000" stroke-width="0" font-weight="bold" transform="translate(342.60 765.80) scale(1 1.05) translate(-342.60 -765.80)">f</text>
<line x1="455.58" y1="751.60" x2="455.58" y2="904.00" stroke="#888" stroke-width="0.8" stroke-dasharray="3 2.4"/>
<line x1="468.43" y1="751.60" x2="468.43" y2="904.00" stroke="#888" stroke-width="0.8" stroke-dasharray="3 2.4"/>
<line x1="484.62" y1="751.60" x2="484.62" y2="904.00" stroke="#888" stroke-width="0.8" stroke-dasharray="3 2.4"/>
<line x1="528.58" y1="751.60" x2="528.58" y2="904.00" stroke="#888" stroke-width="0.8" stroke-dasharray="3 2.4"/>
<line x1="541.43" y1="751.60" x2="541.43" y2="904.00" stroke="#888" stroke-width="0.8" stroke-dasharray="3 2.4"/>
<line x1="506.60" y1="751.60" x2="506.60" y2="904.00" stroke="#999" stroke-width="1.3"/>
<text x="451.30" y="917.50" font-size="9.8" text-anchor="middle" fill="#231f20" stroke="#231f20" stroke-width="0.25" transform="translate(451.30 917.50) scale(1 1.05) translate(-451.30 -917.50)">0.2</text>
<text x="468.80" y="917.50" font-size="9.8" text-anchor="middle" fill="#231f20" stroke="#231f20" stroke-width="0.25" transform="translate(468.80 917.50) scale(1 1.05) translate(-468.80 -917.50)">0.3</text>
<text x="486.40" y="917.50" font-size="9.8" text-anchor="middle" fill="#231f20" stroke="#231f20" stroke-width="0.25" transform="translate(486.40 917.50) scale(1 1.05) translate(-486.40 -917.50)">0.5</text>
<text x="506.00" y="917.50" font-size="9.8" text-anchor="middle" fill="#231f20" stroke="#231f20" stroke-width="0.25" transform="translate(506.00 917.50) scale(1 1.05) translate(-506.00 -917.50)">1</text>
<text x="529.00" y="917.50" font-size="9.8" text-anchor="middle" fill="#231f20" stroke="#231f20" stroke-width="0.25" transform="translate(529.00 917.50) scale(1 1.05) translate(-529.00 -917.50)">2</text>
<text x="541.60" y="917.50" font-size="9.8" text-anchor="middle" fill="#231f20" stroke="#231f20" stroke-width="0.25" transform="translate(541.60 917.50) scale(1 1.05) translate(-541.60 -917.50)">3</text>
<text x="555.50" y="917.50" font-size="9.8" text-anchor="start" fill="#231f20" stroke="#231f20" stroke-width="0.25" transform="translate(555.50 917.50) scale(1 1.05) translate(-555.50 -917.50)">Odds ratio for ALS</text>
<text x="414.80" y="764.80" font-size="10.1" text-anchor="middle" fill="#231f20" stroke="#231f20" stroke-width="0.25" transform="translate(414.80 764.80) scale(1 1.05) translate(-414.80 -764.80)">rs113247976</text>
<text x="0" y="0" transform="translate(414.8 776.90) scale(1 1.05)" font-size="10.1" text-anchor="middle" fill="#231f20" stroke="#231f20" stroke-width="0.25">(<tspan font-style="italic">KIF5A</tspan>)</text>
<line x1="513.20" y1="764.20" x2="546.80" y2="764.20" stroke="#62cac8" stroke-width="1.1"/>
<circle cx="529.80" cy="764.20" r="1.60" fill="#22b2ae"/>
<line x1="514.80" y1="769.20" x2="519.30" y2="769.20" stroke="#f4737f" stroke-width="1.1"/>
<circle cx="516.90" cy="769.20" r="1.60" fill="#ec4452"/>
<line x1="514.60" y1="773.90" x2="519.80" y2="773.90" stroke="#4c5373" stroke-width="1.1"/>
<circle cx="517.20" cy="773.90" r="1.60" fill="#232a4e"/>
<text x="0" y="0" transform="translate(555.9 764.20) scale(1 1.05)" font-size="10.1" fill="#231f20" stroke="#231f20" stroke-width="0.25">OR =1.41; <tspan font-style="italic">P</tspan><tspan font-size="5.2" dy="2.4" stroke-width="0.08">meta</tspan><tspan dy="-2.4">=6.01x10</tspan><tspan font-size="5.6" dy="-4.0" stroke-width="0.1">-13</tspan></text>
<text x="414.80" y="794.00" font-size="10.1" text-anchor="middle" fill="#231f20" stroke="#231f20" stroke-width="0.25" transform="translate(414.80 794.00) scale(1 1.05) translate(-414.80 -794.00)">rs11538707</text>
<text x="0" y="0" transform="translate(414.8 805.80) scale(1 1.05)" font-size="10.1" text-anchor="middle" fill="#231f20" stroke="#231f20" stroke-width="0.25">(<tspan fill="#f47c20" stroke="#f47c20" stroke-width="0.15" font-weight="bold" font-style="italic">CREB3</tspan>)</text>
<line x1="446.50" y1="793.30" x2="514.00" y2="793.30" stroke="#62cac8" stroke-width="1.1"/>
<circle cx="479.80" cy="793.30" r="1.60" fill="#22b2ae"/>
<line x1="485.10" y1="798.30" x2="496.90" y2="798.30" stroke="#f4737f" stroke-width="1.1"/>
<circle cx="491.10" cy="798.30" r="1.60" fill="#ec4452"/>
<line x1="485.10" y1="803.00" x2="496.90" y2="803.00" stroke="#4c5373" stroke-width="1.1"/>
<circle cx="490.90" cy="803.00" r="1.60" fill="#232a4e"/>
<text x="0" y="0" transform="translate(555.9 794.80) scale(1 1.05)" font-size="10.1" fill="#231f20" stroke="#231f20" stroke-width="0.25">OR =0.60; <tspan font-style="italic">P</tspan><tspan font-size="5.2" dy="2.4" stroke-width="0.08">meta</tspan><tspan dy="-2.4">=3.96x10</tspan><tspan font-size="5.6" dy="-4.0" stroke-width="0.1">-8</tspan></text>
<text x="414.80" y="823.80" font-size="10.1" text-anchor="middle" fill="#231f20" stroke="#231f20" stroke-width="0.25" transform="translate(414.80 823.80) scale(1 1.05) translate(-414.80 -823.80)">rs12608932</text>
<text x="0" y="0" transform="translate(414.8 835.60) scale(1 1.05)" font-size="10.1" text-anchor="middle" fill="#231f20" stroke="#231f20" stroke-width="0.25">(<tspan font-style="italic">UNC13A</tspan>)</text>
<line x1="508.00" y1="822.80" x2="515.30" y2="822.80" stroke="#62cac8" stroke-width="1.1"/>
<circle cx="511.40" cy="822.80" r="1.60" fill="#22b2ae"/>
<line x1="509.40" y1="827.90" x2="511.80" y2="827.90" stroke="#f4737f" stroke-width="1.1"/>
<circle cx="510.60" cy="827.90" r="1.60" fill="#ec4452"/>
<line x1="509.40" y1="833.00" x2="511.80" y2="833.00" stroke="#4c5373" stroke-width="1.1"/>
<circle cx="510.60" cy="833.00" r="1.60" fill="#232a4e"/>
<text x="0" y="0" transform="translate(555.9 825.20) scale(1 1.05)" font-size="10.1" fill="#231f20" stroke="#231f20" stroke-width="0.25">OR =1.13; <tspan font-style="italic">P</tspan><tspan font-size="5.2" dy="2.4" stroke-width="0.08">meta</tspan><tspan dy="-2.4">=7.93x10</tspan><tspan font-size="5.6" dy="-4.0" stroke-width="0.1">-26</tspan></text>
<text x="414.80" y="857.30" font-size="10.1" text-anchor="middle" fill="#231f20" stroke="#231f20" stroke-width="0.25" transform="translate(414.80 857.30) scale(1 1.05) translate(-414.80 -857.30)">rs2453555</text>
<text x="0" y="0" transform="translate(414.8 869.10) scale(1 1.05)" font-size="10.1" text-anchor="middle" fill="#231f20" stroke="#231f20" stroke-width="0.25">(<tspan font-style="italic">C9ORF72</tspan>)</text>
<line x1="510.60" y1="852.00" x2="518.70" y2="852.00" stroke="#62cac8" stroke-width="1.1"/>
<circle cx="514.50" cy="852.00" r="1.60" fill="#22b2ae"/>
<line x1="510.60" y1="857.30" x2="514.00" y2="857.30" stroke="#f4737f" stroke-width="1.1"/>
<circle cx="512.20" cy="857.30" r="1.60" fill="#ec4452"/>
<line x1="511.00" y1="862.50" x2="513.80" y2="862.50" stroke="#4c5373" stroke-width="1.1"/>
<circle cx="512.30" cy="862.50" r="1.60" fill="#232a4e"/>
<text x="0" y="0" transform="translate(555.9 854.00) scale(1 1.05)" font-size="10.1" fill="#231f20" stroke="#231f20" stroke-width="0.25">OR =1.19; <tspan font-style="italic">P</tspan><tspan font-size="5.2" dy="2.4" stroke-width="0.08">meta</tspan><tspan dy="-2.4">=1.50x10</tspan><tspan font-size="5.6" dy="-4.0" stroke-width="0.1">-45</tspan></text>
<text x="414.80" y="886.90" font-size="10.1" text-anchor="middle" fill="#231f20" stroke="#231f20" stroke-width="0.25" transform="translate(414.80 886.90) scale(1 1.05) translate(-414.80 -886.90)">rs75087725</text>
<text x="0" y="0" transform="translate(414.8 899.40) scale(1 1.05)" font-size="10.1" text-anchor="middle" fill="#231f20" stroke="#231f20" stroke-width="0.25">(<tspan font-style="italic">CFAP410</tspan>)</text>
<line x1="516.60" y1="881.70" x2="552.10" y2="881.70" stroke="#62cac8" stroke-width="1.1"/>
<circle cx="534.20" cy="881.70" r="1.60" fill="#22b2ae"/>
<line x1="515.80" y1="886.70" x2="524.00" y2="886.70" stroke="#f4737f" stroke-width="1.1"/>
<circle cx="520.00" cy="886.70" r="1.60" fill="#ec4452"/>
<line x1="517.00" y1="892.00" x2="525.50" y2="892.00" stroke="#4c5373" stroke-width="1.1"/>
<circle cx="521.10" cy="892.00" r="1.60" fill="#232a4e"/>
<text x="0" y="0" transform="translate(555.9 885.60) scale(1 1.05)" font-size="10.1" fill="#231f20" stroke="#231f20" stroke-width="0.25">OR =1.41; <tspan font-style="italic">P</tspan><tspan font-size="5.2" dy="2.4" stroke-width="0.08">meta</tspan><tspan dy="-2.4">=4.62x10</tspan><tspan font-size="5.6" dy="-4.0" stroke-width="0.1">-13</tspan></text>
</svg></body></html>
